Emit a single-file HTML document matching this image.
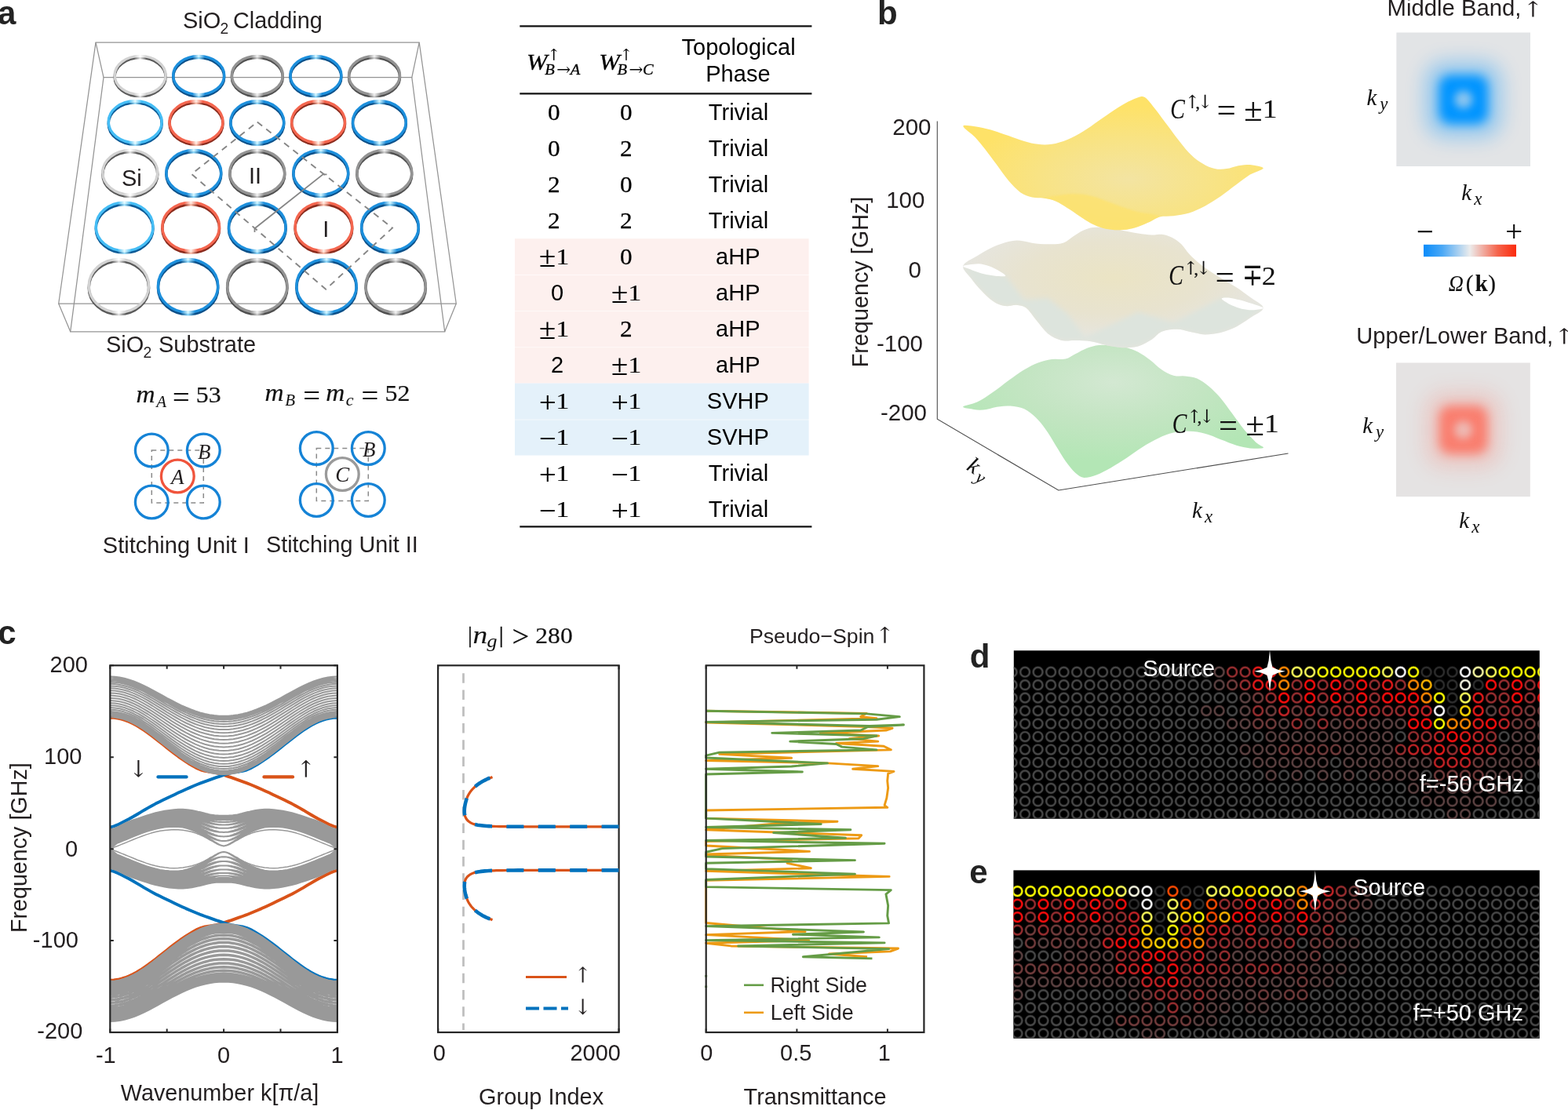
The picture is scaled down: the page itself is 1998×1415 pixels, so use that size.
<!DOCTYPE html>
<html lang="en"><head><meta charset="utf-8"><title>Figure</title>
<style>
html,body{margin:0;padding:0;background:#fff;}
body{width:1998px;height:1415px;overflow:hidden;}
svg{display:block;}
</style></head><body>
<svg width="1998" height="1415" viewBox="0 0 1998 1415" font-family="'Liberation Sans', Arial, Helvetica, sans-serif" fill="#231f20">
<rect width="1998" height="1415" fill="#fff"/>
<g font-weight="bold" font-size="42" fill="#232323">
<text x="-3.1" y="30.5">a</text><text x="1118" y="31">b</text><text x="-2.8" y="821.3">c</text><text x="1235.8" y="851.4">d</text><text x="1235.3" y="1126.3">e</text>
</g>
<g id="panel-a">
<defs>
<linearGradient id="gB" x1="0" y1="0" x2="1" y2="0"><stop offset="0" stop-color="#1f8fdc"/><stop offset="0.38" stop-color="#1f8fdc"/><stop offset="0.5" stop-color="#d8f8ff"/><stop offset="0.62" stop-color="#1f8fdc"/><stop offset="1" stop-color="#1f8fdc"/></linearGradient><linearGradient id="gBd" x1="0" y1="0" x2="1" y2="0"><stop offset="0" stop-color="#0a4f88"/><stop offset="0.38" stop-color="#0a4f88"/><stop offset="0.5" stop-color="#8fdcff"/><stop offset="0.62" stop-color="#0a4f88"/><stop offset="1" stop-color="#0a4f88"/></linearGradient>
<linearGradient id="gBL" x1="0" y1="0" x2="1" y2="0"><stop offset="0" stop-color="#45bdf5"/><stop offset="0.38" stop-color="#45bdf5"/><stop offset="0.5" stop-color="#eafcff"/><stop offset="0.62" stop-color="#45bdf5"/><stop offset="1" stop-color="#45bdf5"/></linearGradient><linearGradient id="gBLd" x1="0" y1="0" x2="1" y2="0"><stop offset="0" stop-color="#0c5a96"/><stop offset="0.38" stop-color="#0c5a96"/><stop offset="0.5" stop-color="#a5e6ff"/><stop offset="0.62" stop-color="#0c5a96"/><stop offset="1" stop-color="#0c5a96"/></linearGradient>
<linearGradient id="gR" x1="0" y1="0" x2="1" y2="0"><stop offset="0" stop-color="#f4664f"/><stop offset="0.38" stop-color="#f4664f"/><stop offset="0.5" stop-color="#fff0e8"/><stop offset="0.62" stop-color="#f4664f"/><stop offset="1" stop-color="#f4664f"/></linearGradient><linearGradient id="gRd" x1="0" y1="0" x2="1" y2="0"><stop offset="0" stop-color="#8a2c1e"/><stop offset="0.38" stop-color="#8a2c1e"/><stop offset="0.5" stop-color="#ffc4b0"/><stop offset="0.62" stop-color="#8a2c1e"/><stop offset="1" stop-color="#8a2c1e"/></linearGradient>
<linearGradient id="gG" x1="0" y1="0" x2="1" y2="0"><stop offset="0" stop-color="#939393"/><stop offset="0.38" stop-color="#939393"/><stop offset="0.5" stop-color="#f2f2f2"/><stop offset="0.62" stop-color="#939393"/><stop offset="1" stop-color="#939393"/></linearGradient><linearGradient id="gGd" x1="0" y1="0" x2="1" y2="0"><stop offset="0" stop-color="#505050"/><stop offset="0.38" stop-color="#505050"/><stop offset="0.5" stop-color="#d0d0d0"/><stop offset="0.62" stop-color="#505050"/><stop offset="1" stop-color="#505050"/></linearGradient>
<linearGradient id="gGL" x1="0" y1="0" x2="1" y2="0"><stop offset="0" stop-color="#d2d2d2"/><stop offset="0.38" stop-color="#d2d2d2"/><stop offset="0.5" stop-color="#ffffff"/><stop offset="0.62" stop-color="#d2d2d2"/><stop offset="1" stop-color="#d2d2d2"/></linearGradient><linearGradient id="gGLd" x1="0" y1="0" x2="1" y2="0"><stop offset="0" stop-color="#5a5a5a"/><stop offset="0.38" stop-color="#5a5a5a"/><stop offset="0.5" stop-color="#e6e6e6"/><stop offset="0.62" stop-color="#5a5a5a"/><stop offset="1" stop-color="#5a5a5a"/></linearGradient>
<filter id="rgb" x="-10%" y="-10%" width="120%" height="120%"><feGaussianBlur stdDeviation="0.45"/></filter>
</defs>
<g fill="none" stroke="#949494" stroke-width="1.25">
<path d="M122 54.2 L534.2 54.2 L581.3 387 L74.7 387Z"/>
<path d="M132 98.7 L524.8 98.7 L566.7 422.8 L89.7 422.8Z"/>
<path d="M122 54.2 L132 98.7"/>
<path d="M534.2 54.2 L524.8 98.7"/>
<path d="M581.3 387 L566.7 422.8"/>
<path d="M74.7 387 L89.7 422.8"/>
</g>
<g fill="none" stroke-width="3.4" filter="url(#rgb)"><ellipse cx="178.6" cy="98.2" rx="32.5" ry="24.6" stroke="url(#gGLd)"/><ellipse cx="253.2" cy="98.2" rx="32.5" ry="24.6" stroke="url(#gBd)"/><ellipse cx="327.8" cy="98.2" rx="32.5" ry="24.6" stroke="url(#gGd)"/><ellipse cx="402.4" cy="98.2" rx="32.5" ry="24.6" stroke="url(#gBd)"/><ellipse cx="477" cy="98.2" rx="32.5" ry="24.6" stroke="url(#gGd)"/><ellipse cx="172.2" cy="157.66" rx="34" ry="26.6" stroke="url(#gBLd)"/><ellipse cx="250" cy="157.66" rx="34" ry="26.6" stroke="url(#gRd)"/><ellipse cx="327.8" cy="157.66" rx="34" ry="26.6" stroke="url(#gBd)"/><ellipse cx="405.6" cy="157.66" rx="34" ry="26.6" stroke="url(#gRd)"/><ellipse cx="483.4" cy="157.66" rx="34" ry="26.6" stroke="url(#gBd)"/><ellipse cx="165.8" cy="222.22" rx="35" ry="28.4" stroke="url(#gGLd)"/><ellipse cx="246.8" cy="222.22" rx="35" ry="28.4" stroke="url(#gBd)"/><ellipse cx="327.8" cy="222.22" rx="35" ry="28.4" stroke="url(#gGd)"/><ellipse cx="408.8" cy="222.22" rx="35" ry="28.4" stroke="url(#gBd)"/><ellipse cx="489.8" cy="222.22" rx="35" ry="28.4" stroke="url(#gGd)"/><ellipse cx="158.6" cy="291.48" rx="36.4" ry="30.8" stroke="url(#gBLd)"/><ellipse cx="243.2" cy="291.48" rx="36.4" ry="30.8" stroke="url(#gRd)"/><ellipse cx="327.8" cy="291.48" rx="36.4" ry="30.8" stroke="url(#gBd)"/><ellipse cx="412.4" cy="291.48" rx="36.4" ry="30.8" stroke="url(#gRd)"/><ellipse cx="497" cy="291.48" rx="36.4" ry="30.8" stroke="url(#gBd)"/><ellipse cx="151.4" cy="366.94" rx="38.2" ry="33.8" stroke="url(#gGLd)"/><ellipse cx="239.6" cy="366.94" rx="38.2" ry="33.8" stroke="url(#gBd)"/><ellipse cx="327.8" cy="366.94" rx="38.2" ry="33.8" stroke="url(#gGd)"/><ellipse cx="416" cy="366.94" rx="38.2" ry="33.8" stroke="url(#gBd)"/><ellipse cx="504.2" cy="366.94" rx="38.2" ry="33.8" stroke="url(#gGd)"/><ellipse cx="178.6" cy="96" rx="32.5" ry="24.6" stroke="url(#gGL)"/><ellipse cx="253.2" cy="96" rx="32.5" ry="24.6" stroke="url(#gB)"/><ellipse cx="327.8" cy="96" rx="32.5" ry="24.6" stroke="url(#gG)"/><ellipse cx="402.4" cy="96" rx="32.5" ry="24.6" stroke="url(#gB)"/><ellipse cx="477" cy="96" rx="32.5" ry="24.6" stroke="url(#gG)"/><ellipse cx="172.2" cy="155.34" rx="34" ry="26.6" stroke="url(#gBL)"/><ellipse cx="250" cy="155.34" rx="34" ry="26.6" stroke="url(#gR)"/><ellipse cx="327.8" cy="155.34" rx="34" ry="26.6" stroke="url(#gB)"/><ellipse cx="405.6" cy="155.34" rx="34" ry="26.6" stroke="url(#gR)"/><ellipse cx="483.4" cy="155.34" rx="34" ry="26.6" stroke="url(#gB)"/><ellipse cx="165.8" cy="219.78" rx="35" ry="28.4" stroke="url(#gGL)"/><ellipse cx="246.8" cy="219.78" rx="35" ry="28.4" stroke="url(#gB)"/><ellipse cx="327.8" cy="219.78" rx="35" ry="28.4" stroke="url(#gG)"/><ellipse cx="408.8" cy="219.78" rx="35" ry="28.4" stroke="url(#gB)"/><ellipse cx="489.8" cy="219.78" rx="35" ry="28.4" stroke="url(#gG)"/><ellipse cx="158.6" cy="288.92" rx="36.4" ry="30.8" stroke="url(#gBL)"/><ellipse cx="243.2" cy="288.92" rx="36.4" ry="30.8" stroke="url(#gR)"/><ellipse cx="327.8" cy="288.92" rx="36.4" ry="30.8" stroke="url(#gB)"/><ellipse cx="412.4" cy="288.92" rx="36.4" ry="30.8" stroke="url(#gR)"/><ellipse cx="497" cy="288.92" rx="36.4" ry="30.8" stroke="url(#gB)"/><ellipse cx="151.4" cy="364.26" rx="38.2" ry="33.8" stroke="url(#gGL)"/><ellipse cx="239.6" cy="364.26" rx="38.2" ry="33.8" stroke="url(#gB)"/><ellipse cx="327.8" cy="364.26" rx="38.2" ry="33.8" stroke="url(#gG)"/><ellipse cx="416" cy="364.26" rx="38.2" ry="33.8" stroke="url(#gB)"/><ellipse cx="504.2" cy="364.26" rx="38.2" ry="33.8" stroke="url(#gG)"/></g>
<path d="M327.8 155.5 L500 290.6 L415.2 368.7 L244.1 221.9Z" fill="none" stroke="#858585" stroke-width="1.9" stroke-dasharray="8 6.5"/>
<path d="M416.5 222.3 L411.5 222.3 L324.5 291.3 L324.5 296" fill="none" stroke="#858585" stroke-width="1.8"/>
<g>
<text x="154.9" y="236.8" font-size="29" >Si</text>
<text x="316.9" y="233.6" font-size="29" >II</text>
<text x="411.2" y="301.6" font-size="29" >I</text>
<text x="233" y="35.8" font-size="29" >SiO</text><text x="280.6" y="42.8" font-size="19.3" >2</text><text x="297" y="35.8" font-size="28.8" >Cladding</text>
<text x="134.9" y="449.4" font-size="29" >SiO</text><text x="182.5" y="456.4" font-size="19.3" >2</text><text x="202" y="449.4" font-size="29" >Substrate</text>
<text x="130.8" y="705.1" font-size="29" >Stitching Unit I</text>
<text x="339" y="703.8" font-size="28.8" >Stitching Unit II</text>
</g>
<rect x="193.3" y="574" width="66" height="67" fill="none" stroke="#8a8a8a" stroke-width="1.5" stroke-dasharray="6 5"/>
<circle cx="193.3" cy="574" r="20.9" fill="none" stroke="#1583d6" stroke-width="3.3"/>
<circle cx="193.3" cy="640" r="20.9" fill="none" stroke="#1583d6" stroke-width="3.3"/>
<circle cx="259.3" cy="574" r="20.9" fill="none" stroke="#1583d6" stroke-width="3.3"/>
<circle cx="259.3" cy="640" r="20.9" fill="none" stroke="#1583d6" stroke-width="3.3"/>
<circle cx="226.3" cy="607" r="20.9" fill="#fff" stroke="#f0543c" stroke-width="3.3"/>
<text x='226.3' y='616.5' font-size='27' font-style='italic' text-anchor='middle' font-family='"Liberation Serif", "DejaVu Serif", serif' fill='#231f20'>A</text>
<text x='260.3' y='584.5' font-size='27' font-style='italic' text-anchor='middle' font-family='"Liberation Serif", "DejaVu Serif", serif' fill='#231f20'>B</text>
<rect x="403.3" y="571.5" width="66" height="67" fill="none" stroke="#8a8a8a" stroke-width="1.5" stroke-dasharray="6 5"/>
<circle cx="403.3" cy="571.5" r="20.9" fill="none" stroke="#1583d6" stroke-width="3.3"/>
<circle cx="403.3" cy="637.5" r="20.9" fill="none" stroke="#1583d6" stroke-width="3.3"/>
<circle cx="469.3" cy="571.5" r="20.9" fill="none" stroke="#1583d6" stroke-width="3.3"/>
<circle cx="469.3" cy="637.5" r="20.9" fill="none" stroke="#1583d6" stroke-width="3.3"/>
<circle cx="436.3" cy="604.5" r="20.9" fill="#fff" stroke="#9a9a9a" stroke-width="3.3"/>
<text x='436.3' y='614' font-size='27' font-style='italic' text-anchor='middle' font-family='"Liberation Serif", "DejaVu Serif", serif' fill='#231f20'>C</text>
<text x='470.3' y='582' font-size='27' font-style='italic' text-anchor='middle' font-family='"Liberation Serif", "DejaVu Serif", serif' fill='#231f20'>B</text>
<text transform='translate(173.47 512.8) scale(1.04 1)' font-size='32' font-family='"Liberation Serif", "DejaVu Serif", serif' fill='#111' stroke='#111' stroke-width='0.2' font-style='italic'>m</text>
<text transform='translate(199.25 518.5) scale(1.05 1)' font-size='20' font-family='"Liberation Serif", "DejaVu Serif", serif' fill='#111' stroke='#111' stroke-width='0.08' font-style='italic'>A</text>
<text transform='translate(219.88 518.7)' font-size='38.5' font-family='"Liberation Serif", "DejaVu Serif", serif' fill='#111' stroke='#111' stroke-width='0.2'>=</text>
<text transform='translate(249.79 512.8) scale(1.1 1)' font-size='29' font-family='"Liberation Serif", "DejaVu Serif", serif' fill='#111' stroke='#111' stroke-width='0.2'>53</text>
<text transform='translate(337.47 510.9) scale(1.04 1)' font-size='32' font-family='"Liberation Serif", "DejaVu Serif", serif' fill='#111' stroke='#111' stroke-width='0.2' font-style='italic'>m</text>
<text transform='translate(363.29 516.6) scale(1.05 1)' font-size='20' font-family='"Liberation Serif", "DejaVu Serif", serif' fill='#111' stroke='#111' stroke-width='0.08' font-style='italic'>B</text>
<text transform='translate(386.27 516.8)' font-size='38.5' font-family='"Liberation Serif", "DejaVu Serif", serif' fill='#111' stroke='#111' stroke-width='0.2'>=</text>
<text transform='translate(415.37 510.9) scale(1.04 1)' font-size='32' font-family='"Liberation Serif", "DejaVu Serif", serif' fill='#111' stroke='#111' stroke-width='0.2' font-style='italic'>m</text>
<text transform='translate(440.84 516.6) scale(1.1 1)' font-size='20' font-family='"Liberation Serif", "DejaVu Serif", serif' fill='#111' stroke='#111' stroke-width='0.08' font-style='italic'>c</text>
<text transform='translate(460.47 516.8)' font-size='38.5' font-family='"Liberation Serif", "DejaVu Serif", serif' fill='#111' stroke='#111' stroke-width='0.2'>=</text>
<text transform='translate(490.49 510.9) scale(1.1 1)' font-size='29' font-family='"Liberation Serif", "DejaVu Serif", serif' fill='#111' stroke='#111' stroke-width='0.2'>52</text>
</g>
<g id="table">
<rect x="656" y="304.2" width="374.6" height="46.1" fill="#fdf0ee"/>
<rect x="656" y="350.9" width="374.6" height="45.5" fill="#fdf0ee"/>
<rect x="656" y="397" width="374.6" height="45.5" fill="#fdf0ee"/>
<rect x="656" y="443.1" width="374.6" height="45.5" fill="#fdf0ee"/>
<rect x="656" y="488.6" width="374.6" height="46.1" fill="#e4f1fa"/>
<rect x="656" y="535.3" width="374.6" height="45.2" fill="#e4f1fa"/>
<line x1="662.3" x2="1034.4" y1="33.3" y2="33.3" stroke="#111" stroke-width="2.2"/>
<line x1="662.3" x2="1034.4" y1="119.3" y2="119.3" stroke="#111" stroke-width="2.2"/>
<line x1="662.3" x2="1034.4" y1="671.3" y2="671.3" stroke="#111" stroke-width="2.2"/>
<text transform='translate(705.8 153.2) scale(1.06 1)' font-size='29.5' text-anchor='middle' font-family='"Liberation Serif", "DejaVu Serif", serif' fill='#000' stroke='#000' stroke-width='0.25' >0</text>
<text transform='translate(797.9 153.2) scale(1.06 1)' font-size='29.5' text-anchor='middle' font-family='"Liberation Serif", "DejaVu Serif", serif' fill='#000' stroke='#000' stroke-width='0.25' >0</text>
<text x='941' y='153.4' font-size='29' fill='#000' text-anchor='middle'>Trivial</text>
<text transform='translate(705.8 199.2) scale(1.06 1)' font-size='29.5' text-anchor='middle' font-family='"Liberation Serif", "DejaVu Serif", serif' fill='#000' stroke='#000' stroke-width='0.25' >0</text>
<text transform='translate(797.9 199.2) scale(1.06 1)' font-size='29.5' text-anchor='middle' font-family='"Liberation Serif", "DejaVu Serif", serif' fill='#000' stroke='#000' stroke-width='0.25' >2</text>
<text x='941' y='199.4' font-size='29' fill='#000' text-anchor='middle'>Trivial</text>
<text transform='translate(705.8 245.2) scale(1.06 1)' font-size='29.5' text-anchor='middle' font-family='"Liberation Serif", "DejaVu Serif", serif' fill='#000' stroke='#000' stroke-width='0.25' >2</text>
<text transform='translate(797.9 245.2) scale(1.06 1)' font-size='29.5' text-anchor='middle' font-family='"Liberation Serif", "DejaVu Serif", serif' fill='#000' stroke='#000' stroke-width='0.25' >0</text>
<text x='941' y='245.4' font-size='29' fill='#000' text-anchor='middle'>Trivial</text>
<text transform='translate(705.8 291.2) scale(1.06 1)' font-size='29.5' text-anchor='middle' font-family='"Liberation Serif", "DejaVu Serif", serif' fill='#000' stroke='#000' stroke-width='0.25' >2</text>
<text transform='translate(797.9 291.2) scale(1.06 1)' font-size='29.5' text-anchor='middle' font-family='"Liberation Serif", "DejaVu Serif", serif' fill='#000' stroke='#000' stroke-width='0.25' >2</text>
<text x='941' y='291.4' font-size='29' fill='#000' text-anchor='middle'>Trivial</text>
<text transform='translate(686.9 340.4) scale(1 1)' font-size='38.5' text-anchor='start' font-family='"Liberation Serif", "DejaVu Serif", serif' fill='#000' stroke='#000' stroke-width='0.15' >±</text>
<text transform='translate(708.4 337.2) scale(1.15 1)' font-size='29' text-anchor='start' font-family='"Liberation Serif", "DejaVu Serif", serif' fill='#000' stroke='#000' stroke-width='0.25' >1</text>
<text transform='translate(797.9 337.2) scale(1.06 1)' font-size='29.5' text-anchor='middle' font-family='"Liberation Serif", "DejaVu Serif", serif' fill='#000' stroke='#000' stroke-width='0.25' >0</text>
<text x='940.3' y='337.4' font-size='29' fill='#000' text-anchor='middle'>aHP</text>
<text x='710' y='382.9' font-size='29' fill='#000' text-anchor='middle'>0</text>
<text transform='translate(779 386.4) scale(1 1)' font-size='38.5' text-anchor='start' font-family='"Liberation Serif", "DejaVu Serif", serif' fill='#000' stroke='#000' stroke-width='0.15' >±</text>
<text transform='translate(800.5 383.2) scale(1.15 1)' font-size='29' text-anchor='start' font-family='"Liberation Serif", "DejaVu Serif", serif' fill='#000' stroke='#000' stroke-width='0.25' >1</text>
<text x='940.3' y='383.4' font-size='29' fill='#000' text-anchor='middle'>aHP</text>
<text transform='translate(686.9 432.4) scale(1 1)' font-size='38.5' text-anchor='start' font-family='"Liberation Serif", "DejaVu Serif", serif' fill='#000' stroke='#000' stroke-width='0.15' >±</text>
<text transform='translate(708.4 429.2) scale(1.15 1)' font-size='29' text-anchor='start' font-family='"Liberation Serif", "DejaVu Serif", serif' fill='#000' stroke='#000' stroke-width='0.25' >1</text>
<text transform='translate(797.9 429.2) scale(1.06 1)' font-size='29.5' text-anchor='middle' font-family='"Liberation Serif", "DejaVu Serif", serif' fill='#000' stroke='#000' stroke-width='0.25' >2</text>
<text x='940.3' y='429.4' font-size='29' fill='#000' text-anchor='middle'>aHP</text>
<text x='710' y='474.9' font-size='29' fill='#000' text-anchor='middle'>2</text>
<text transform='translate(779 478.4) scale(1 1)' font-size='38.5' text-anchor='start' font-family='"Liberation Serif", "DejaVu Serif", serif' fill='#000' stroke='#000' stroke-width='0.15' >±</text>
<text transform='translate(800.5 475.2) scale(1.15 1)' font-size='29' text-anchor='start' font-family='"Liberation Serif", "DejaVu Serif", serif' fill='#000' stroke='#000' stroke-width='0.25' >1</text>
<text x='940.3' y='475.4' font-size='29' fill='#000' text-anchor='middle'>aHP</text>
<text transform='translate(686.9 526) scale(1 1)' font-size='38.5' text-anchor='start' font-family='"Liberation Serif", "DejaVu Serif", serif' fill='#000' stroke='#000' stroke-width='0.15' >+</text>
<text transform='translate(708.4 521.2) scale(1.15 1)' font-size='29' text-anchor='start' font-family='"Liberation Serif", "DejaVu Serif", serif' fill='#000' stroke='#000' stroke-width='0.25' >1</text>
<text transform='translate(779 526) scale(1 1)' font-size='38.5' text-anchor='start' font-family='"Liberation Serif", "DejaVu Serif", serif' fill='#000' stroke='#000' stroke-width='0.15' >+</text>
<text transform='translate(800.5 521.2) scale(1.15 1)' font-size='29' text-anchor='start' font-family='"Liberation Serif", "DejaVu Serif", serif' fill='#000' stroke='#000' stroke-width='0.25' >1</text>
<text x='940.3' y='521.4' font-size='29' fill='#000' text-anchor='middle'>SVHP</text>
<text transform='translate(686.9 572) scale(1 1)' font-size='38.5' text-anchor='start' font-family='"Liberation Serif", "DejaVu Serif", serif' fill='#000' stroke='#000' stroke-width='0.15' >−</text>
<text transform='translate(708.4 567.2) scale(1.15 1)' font-size='29' text-anchor='start' font-family='"Liberation Serif", "DejaVu Serif", serif' fill='#000' stroke='#000' stroke-width='0.25' >1</text>
<text transform='translate(779 572) scale(1 1)' font-size='38.5' text-anchor='start' font-family='"Liberation Serif", "DejaVu Serif", serif' fill='#000' stroke='#000' stroke-width='0.15' >−</text>
<text transform='translate(800.5 567.2) scale(1.15 1)' font-size='29' text-anchor='start' font-family='"Liberation Serif", "DejaVu Serif", serif' fill='#000' stroke='#000' stroke-width='0.25' >1</text>
<text x='940.3' y='567.4' font-size='29' fill='#000' text-anchor='middle'>SVHP</text>
<text transform='translate(686.9 618) scale(1 1)' font-size='38.5' text-anchor='start' font-family='"Liberation Serif", "DejaVu Serif", serif' fill='#000' stroke='#000' stroke-width='0.15' >+</text>
<text transform='translate(708.4 613.2) scale(1.15 1)' font-size='29' text-anchor='start' font-family='"Liberation Serif", "DejaVu Serif", serif' fill='#000' stroke='#000' stroke-width='0.25' >1</text>
<text transform='translate(779 618) scale(1 1)' font-size='38.5' text-anchor='start' font-family='"Liberation Serif", "DejaVu Serif", serif' fill='#000' stroke='#000' stroke-width='0.15' >−</text>
<text transform='translate(800.5 613.2) scale(1.15 1)' font-size='29' text-anchor='start' font-family='"Liberation Serif", "DejaVu Serif", serif' fill='#000' stroke='#000' stroke-width='0.25' >1</text>
<text x='941' y='613.4' font-size='29' fill='#000' text-anchor='middle'>Trivial</text>
<text transform='translate(686.9 664) scale(1 1)' font-size='38.5' text-anchor='start' font-family='"Liberation Serif", "DejaVu Serif", serif' fill='#000' stroke='#000' stroke-width='0.15' >−</text>
<text transform='translate(708.4 659.2) scale(1.15 1)' font-size='29' text-anchor='start' font-family='"Liberation Serif", "DejaVu Serif", serif' fill='#000' stroke='#000' stroke-width='0.25' >1</text>
<text transform='translate(779 664) scale(1 1)' font-size='38.5' text-anchor='start' font-family='"Liberation Serif", "DejaVu Serif", serif' fill='#000' stroke='#000' stroke-width='0.15' >+</text>
<text transform='translate(800.5 659.2) scale(1.15 1)' font-size='29' text-anchor='start' font-family='"Liberation Serif", "DejaVu Serif", serif' fill='#000' stroke='#000' stroke-width='0.25' >1</text>
<text x='941' y='659.4' font-size='29' fill='#000' text-anchor='middle'>Trivial</text>
<text x='941.1' y='70' font-size='29' fill='#000' text-anchor='middle'>Topological</text>
<text x='940.4' y='103.8' font-size='29' fill='#000' text-anchor='middle'>Phase</text>
<text transform='translate(671 89.2) scale(1.1 1)' font-size='29' text-anchor='start' font-family='"Liberation Serif", "DejaVu Serif", serif' fill='#000' stroke='#000' stroke-width='0.3' font-style='italic' >W</text>
<text transform='translate(694.2 95.1) scale(1.05 1)' font-size='19.5' text-anchor='start' font-family='"Liberation Serif", "DejaVu Serif", serif' fill='#000' stroke='#000' stroke-width='0.3' font-style='italic' >B</text>
<text transform='translate(708.95 94.4)' font-size='18.8' font-family='"DejaVu Math TeX Gyre", "DejaVu Sans", sans-serif' fill='#000' stroke='#000' stroke-width='0.1'>→</text>
<text transform='translate(726.8 95.1) scale(1.05 1)' font-size='19.5' text-anchor='start' font-family='"Liberation Serif", "DejaVu Serif", serif' fill='#000' stroke='#000' stroke-width='0.3' font-style='italic' >A</text>
<text transform='translate(700.59 74.2)' font-size='17.7' font-family='"DejaVu Math TeX Gyre", "DejaVu Sans", sans-serif' fill='#000' stroke='#000' stroke-width='0.1'>↑</text>
<text transform='translate(763.2 89.2) scale(1.1 1)' font-size='29' text-anchor='start' font-family='"Liberation Serif", "DejaVu Serif", serif' fill='#000' stroke='#000' stroke-width='0.3' font-style='italic' >W</text>
<text transform='translate(786.4 95.1) scale(1.05 1)' font-size='19.5' text-anchor='start' font-family='"Liberation Serif", "DejaVu Serif", serif' fill='#000' stroke='#000' stroke-width='0.3' font-style='italic' >B</text>
<text transform='translate(801.15 94.4)' font-size='18.8' font-family='"DejaVu Math TeX Gyre", "DejaVu Sans", sans-serif' fill='#000' stroke='#000' stroke-width='0.1'>→</text>
<text transform='translate(819 95.1) scale(1.05 1)' font-size='19.5' text-anchor='start' font-family='"Liberation Serif", "DejaVu Serif", serif' fill='#000' stroke='#000' stroke-width='0.3' font-style='italic' >C</text>
<text transform='translate(792.79 74.2)' font-size='17.7' font-family='"DejaVu Math TeX Gyre", "DejaVu Sans", sans-serif' fill='#000' stroke='#000' stroke-width='0.1'>↑</text>
</g>
<g id="panel-b">
<defs>
<radialGradient id="sfy" cx="0.55" cy="0.62" r="0.55"><stop offset="0" stop-color="#f3e4a2"/><stop offset="0.55" stop-color="#f8e384"/><stop offset="1" stop-color="#fee268"/></radialGradient>
<radialGradient id="sfm" cx="0.5" cy="0.42" r="0.5"><stop offset="0" stop-color="#ebe4c4"/><stop offset="0.6" stop-color="#e8e3cf"/><stop offset="1" stop-color="#e6e5de"/></radialGradient>
<radialGradient id="sfg" cx="0.5" cy="0.28" r="0.6"><stop offset="0" stop-color="#d3e8d2"/><stop offset="0.5" stop-color="#c3e5c2"/><stop offset="1" stop-color="#b3e6b5"/></radialGradient>
<filter id="bl2" x="-10%" y="-10%" width="120%" height="120%"><feGaussianBlur stdDeviation="3"/></filter>
<filter id="bl1" x="-10%" y="-20%" width="120%" height="140%"><feGaussianBlur stdDeviation="1.2"/></filter>
<clipPath id="cpm"><path d="M1227.05 338.82 L1229.5 335.4 L1234.15 332.25 L1239.75 329.26 L1245.07 326.31 L1249.93 323.3 L1254.95 320.33 L1260.03 317.53 L1265.09 315.05 L1270.21 312.86 L1275.41 310.92 L1280.45 309.29 L1285.11 308.04 L1289.09 307.2 L1292.61 306.74 L1296.13 306.61 L1300.12 306.79 L1304.77 307.44 L1309.82 308.54 L1315.02 309.7 L1320.14 310.54 L1325.26 311 L1330.46 311.26 L1335.51 311.35 L1340.16 311.29 L1344.32 311.18 L1348.14 310.98 L1351.71 310.49 L1355.18 309.54 L1358.48 307.91 L1361.59 305.77 L1364.62 303.45 L1367.69 301.28 L1370.82 299.26 L1373.94 297.25 L1377.07 295.37 L1380.2 293.77 L1383.21 292.48 L1386.14 291.43 L1389.23 290.61 L1392.71 290.02 L1396.68 289.67 L1401 289.55 L1405.56 289.67 L1410.23 290.02 L1415.06 290.69 L1420.08 291.66 L1425.19 292.75 L1430.25 293.77 L1435.31 294.75 L1440.42 295.76 L1445.44 296.71 L1450.27 297.53 L1454.94 298.22 L1459.5 298.81 L1463.82 299.26 L1467.79 299.53 L1471.27 299.43 L1474.36 299.04 L1477.29 298.71 L1480.3 298.78 L1483.43 299.28 L1486.56 300.06 L1489.68 301.14 L1492.81 302.53 L1496 304.28 L1499.23 306.36 L1502.37 308.72 L1505.33 311.29 L1507.89 314.13 L1510.17 317.23 L1512.54 320.5 L1515.34 323.8 L1518.62 327.16 L1522.22 330.61 L1526.13 334.1 L1530.35 337.57 L1534.89 340.98 L1539.73 344.37 L1544.9 347.8 L1550.37 351.33 L1556.45 355.06 L1563.04 358.92 L1569.55 362.74 L1575.4 366.35 L1580.31 369.62 L1584.65 372.68 L1588.74 375.7 L1592.91 378.86 L1598 382.24 L1603.58 385.74 L1608.08 389.24 L1609.93 392.62 L1608.08 395.87 L1603.58 399.04 L1598 402.12 L1592.91 405.14 L1588.63 408.13 L1584.34 411.08 L1579.96 413.87 L1575.4 416.4 L1570.57 418.65 L1565.54 420.7 L1560.44 422.47 L1555.38 423.9 L1550.37 425.03 L1545.37 425.86 L1540.36 426.34 L1535.36 426.41 L1530.23 425.89 L1525.03 424.87 L1519.99 423.68 L1515.34 422.65 L1511.35 421.71 L1507.83 420.73 L1504.31 419.96 L1500.32 419.65 L1495.49 419.81 L1490.15 420.34 L1484.89 421.27 L1480.3 422.65 L1476.76 424.69 L1473.89 427.3 L1471.09 430.08 L1467.79 432.66 L1463.82 435.1 L1459.5 437.56 L1454.94 439.75 L1450.27 441.42 L1445.44 442.46 L1440.42 443.03 L1435.31 443.23 L1430.25 443.17 L1425.25 442.8 L1420.24 442.09 L1415.24 441.17 L1410.23 440.17 L1405.23 438.97 L1400.22 437.56 L1395.22 436.2 L1390.21 435.17 L1385.15 434.56 L1380.04 434.23 L1375.02 434.05 L1370.19 433.91 L1365.63 434.03 L1361.28 434.38 L1356.99 434.5 L1352.67 433.91 L1348.23 432.55 L1343.76 430.63 L1339.36 428.17 L1335.16 425.16 L1331.17 421.33 L1327.33 416.79 L1323.66 412.05 L1320.14 407.64 L1316.84 403.44 L1313.73 399.27 L1310.7 395.53 L1307.63 392.62 L1304.56 390.78 L1301.53 389.73 L1298.42 389.19 L1295.12 388.87 L1291.54 389.01 L1287.76 389.65 L1283.91 390.22 L1280.1 390.12 L1276.35 389.26 L1272.59 387.93 L1268.84 386.13 L1265.09 383.86 L1261.27 380.98 L1257.42 377.53 L1253.65 373.8 L1250.07 370.1 L1246.72 366.46 L1243.53 362.75 L1240.49 358.96 L1237.56 355.09 L1234.12 351.02 L1230.39 346.8 L1227.62 342.65Z"/></clipPath>
</defs>
<path d="M1194.3 154.5 L1194.3 534.3 L1348.8 625 L1641.5 578" fill="none" stroke="#4d4d4d" stroke-width="1.1"/>
<path d="M1227.05 518.35 L1229.5 517.26 L1234.15 516.06 L1239.75 514.57 L1245.07 512.59 L1249.93 510 L1254.95 506.92 L1260.03 503.54 L1265.09 500.08 L1270.09 496.47 L1275.1 492.65 L1280.1 488.79 L1285.11 485.07 L1290.17 481.42 L1295.27 477.79 L1300.3 474.36 L1305.13 471.3 L1309.68 468.66 L1314.04 466.34 L1318.32 464.32 L1322.64 462.54 L1327.02 461.02 L1331.4 459.77 L1335.78 458.78 L1340.16 458.04 L1344.66 457.77 L1349.23 457.9 L1353.65 457.97 L1357.68 457.54 L1361.1 456.41 L1364.09 454.85 L1367 453.07 L1370.19 451.28 L1373.77 449.4 L1377.54 447.37 L1381.39 445.42 L1385.21 443.77 L1388.9 442.47 L1392.56 441.4 L1396.29 440.57 L1400.22 440.02 L1404.42 439.8 L1408.82 439.88 L1413.3 440.15 L1417.74 440.52 L1422.18 440.93 L1426.65 441.44 L1431.05 442.12 L1435.26 443.02 L1439.18 444.13 L1442.92 445.43 L1446.58 446.96 L1450.27 448.78 L1454.02 450.92 L1457.78 453.36 L1461.53 456.01 L1465.29 458.79 L1469.04 461.86 L1472.79 465.2 L1476.55 468.47 L1480.3 471.3 L1484.05 473.69 L1487.81 475.79 L1491.56 477.52 L1495.32 478.81 L1499.07 479.42 L1502.82 479.47 L1506.58 479.37 L1510.33 479.56 L1514.08 479.99 L1517.84 480.48 L1521.59 481.27 L1525.35 482.56 L1529.1 484.46 L1532.85 486.82 L1536.61 489.55 L1540.36 492.57 L1544.11 495.86 L1547.87 499.45 L1551.62 503.36 L1555.38 507.59 L1559.13 512.24 L1562.88 517.28 L1566.64 522.49 L1570.39 527.61 L1574.14 532.7 L1577.9 537.85 L1581.65 542.89 L1585.41 547.63 L1589.29 552.18 L1593.26 556.57 L1597.05 560.57 L1600.42 563.89 L1603.81 566.45 L1607.18 568.38 L1609.55 569.82 L1609.93 570.9 L1607.55 571.58 L1603.11 571.82 L1597.82 571.73 L1592.91 571.4 L1588.63 570.85 L1584.34 570.03 L1579.96 568.95 L1575.4 567.65 L1570.57 566.03 L1565.54 564.13 L1560.44 562.1 L1555.38 560.14 L1550.37 558.16 L1545.37 556.1 L1540.36 554.19 L1535.36 552.63 L1530.35 551.45 L1525.35 550.55 L1520.34 549.94 L1515.34 549.63 L1510.33 549.6 L1505.33 549.85 L1500.32 550.43 L1495.32 551.38 L1490.31 552.77 L1485.31 554.54 L1480.3 556.61 L1475.3 558.89 L1470.29 561.38 L1465.29 564.13 L1460.28 567.07 L1455.28 570.15 L1450.27 573.44 L1445.27 576.95 L1440.26 580.5 L1435.26 583.91 L1430.19 587.22 L1425.09 590.48 L1420.06 593.59 L1415.24 596.43 L1410.65 599 L1406.24 601.35 L1401.95 603.44 L1397.72 605.19 L1393.45 606.71 L1389.19 608 L1385.14 608.82 L1381.45 608.94 L1378.31 608.28 L1375.59 606.98 L1372.98 605.1 L1370.19 602.68 L1367.15 599.66 L1364.01 596.04 L1360.84 591.98 L1357.68 587.67 L1354.55 583.01 L1351.42 577.97 L1348.29 572.77 L1345.17 567.65 L1342.04 562.53 L1338.91 557.32 L1335.78 552.28 L1332.65 547.63 L1329.58 543.43 L1326.55 539.57 L1323.44 535.99 L1320.14 532.61 L1316.62 529.36 L1312.95 526.28 L1309.11 523.55 L1305.13 521.35 L1300.92 519.77 L1296.52 518.69 L1292.05 518.01 L1287.61 517.6 L1283.23 517.5 L1278.85 517.75 L1274.47 518.24 L1270.09 518.85 L1265.65 519.73 L1261.17 520.88 L1256.78 521.96 L1252.57 522.6 L1248.54 522.68 L1244.63 522.4 L1240.94 521.9 L1237.56 521.35 L1233.94 520.79 L1230.24 520.13 L1227.56 519.33Z" fill="url(#sfg)"/>
<path d="M1227.05 338.82 L1229.5 335.4 L1234.15 332.25 L1239.75 329.26 L1245.07 326.31 L1249.93 323.3 L1254.95 320.33 L1260.03 317.53 L1265.09 315.05 L1270.21 312.86 L1275.41 310.92 L1280.45 309.29 L1285.11 308.04 L1289.09 307.2 L1292.61 306.74 L1296.13 306.61 L1300.12 306.79 L1304.77 307.44 L1309.82 308.54 L1315.02 309.7 L1320.14 310.54 L1325.26 311 L1330.46 311.26 L1335.51 311.35 L1340.16 311.29 L1344.32 311.18 L1348.14 310.98 L1351.71 310.49 L1355.18 309.54 L1358.48 307.91 L1361.59 305.77 L1364.62 303.45 L1367.69 301.28 L1370.82 299.26 L1373.94 297.25 L1377.07 295.37 L1380.2 293.77 L1383.21 292.48 L1386.14 291.43 L1389.23 290.61 L1392.71 290.02 L1396.68 289.67 L1401 289.55 L1405.56 289.67 L1410.23 290.02 L1415.06 290.69 L1420.08 291.66 L1425.19 292.75 L1430.25 293.77 L1435.31 294.75 L1440.42 295.76 L1445.44 296.71 L1450.27 297.53 L1454.94 298.22 L1459.5 298.81 L1463.82 299.26 L1467.79 299.53 L1471.27 299.43 L1474.36 299.04 L1477.29 298.71 L1480.3 298.78 L1483.43 299.28 L1486.56 300.06 L1489.68 301.14 L1492.81 302.53 L1496 304.28 L1499.23 306.36 L1502.37 308.72 L1505.33 311.29 L1507.89 314.13 L1510.17 317.23 L1512.54 320.5 L1515.34 323.8 L1518.62 327.16 L1522.22 330.61 L1526.13 334.1 L1530.35 337.57 L1534.89 340.98 L1539.73 344.37 L1544.9 347.8 L1550.37 351.33 L1556.45 355.06 L1563.04 358.92 L1569.55 362.74 L1575.4 366.35 L1580.31 369.62 L1584.65 372.68 L1588.74 375.7 L1592.91 378.86 L1598 382.24 L1603.58 385.74 L1608.08 389.24 L1609.93 392.62 L1608.08 395.87 L1603.58 399.04 L1598 402.12 L1592.91 405.14 L1588.63 408.13 L1584.34 411.08 L1579.96 413.87 L1575.4 416.4 L1570.57 418.65 L1565.54 420.7 L1560.44 422.47 L1555.38 423.9 L1550.37 425.03 L1545.37 425.86 L1540.36 426.34 L1535.36 426.41 L1530.23 425.89 L1525.03 424.87 L1519.99 423.68 L1515.34 422.65 L1511.35 421.71 L1507.83 420.73 L1504.31 419.96 L1500.32 419.65 L1495.49 419.81 L1490.15 420.34 L1484.89 421.27 L1480.3 422.65 L1476.76 424.69 L1473.89 427.3 L1471.09 430.08 L1467.79 432.66 L1463.82 435.1 L1459.5 437.56 L1454.94 439.75 L1450.27 441.42 L1445.44 442.46 L1440.42 443.03 L1435.31 443.23 L1430.25 443.17 L1425.25 442.8 L1420.24 442.09 L1415.24 441.17 L1410.23 440.17 L1405.23 438.97 L1400.22 437.56 L1395.22 436.2 L1390.21 435.17 L1385.15 434.56 L1380.04 434.23 L1375.02 434.05 L1370.19 433.91 L1365.63 434.03 L1361.28 434.38 L1356.99 434.5 L1352.67 433.91 L1348.23 432.55 L1343.76 430.63 L1339.36 428.17 L1335.16 425.16 L1331.17 421.33 L1327.33 416.79 L1323.66 412.05 L1320.14 407.64 L1316.84 403.44 L1313.73 399.27 L1310.7 395.53 L1307.63 392.62 L1304.56 390.78 L1301.53 389.73 L1298.42 389.19 L1295.12 388.87 L1291.54 389.01 L1287.76 389.65 L1283.91 390.22 L1280.1 390.12 L1276.35 389.26 L1272.59 387.93 L1268.84 386.13 L1265.09 383.86 L1261.27 380.98 L1257.42 377.53 L1253.65 373.8 L1250.07 370.1 L1246.72 366.46 L1243.53 362.75 L1240.49 358.96 L1237.56 355.09 L1234.12 351.02 L1230.39 346.8 L1227.62 342.65Z" fill="url(#sfm)"/>
<g clip-path="url(#cpm)"><path d="M1227.05 338.82 L1281.35 351.58 L1305.13 382.61 L1335.16 380.11 L1360.18 400.13 L1382.7 430.16 L1450.27 397.63 L1495.32 411.39 L1555.38 380.61 L1609.93 392.62 L1592.91 405.14 L1575.4 416.4 L1555.38 423.9 L1535.36 426.41 L1515.34 422.65 L1500.32 419.65 L1480.3 422.65 L1467.79 432.66 L1450.27 441.42 L1430.25 443.17 L1410.23 440.17 L1390.21 435.17 L1370.19 433.91 L1352.67 433.91 L1335.16 425.16 L1320.14 407.64 L1307.63 392.62 L1295.12 388.87 L1280.1 390.12 L1265.09 383.86 L1250.07 370.1 L1237.56 355.09Z" fill="#dde4dd" filter="url(#bl2)"/></g>
<path d="M1227.05 339.32 L1228.24 338.59 L1230.94 337.97 L1234.33 337.47 L1237.56 337.07 L1240.54 336.72 L1243.69 336.46 L1246.9 336.37 L1250.07 336.57 L1253.26 337.13 L1256.48 337.97 L1259.63 338.99 L1262.58 340.07 L1265.29 341.18 L1267.82 342.38 L1270.24 343.68 L1272.59 345.08 L1275.28 346.74 L1278.15 348.61 L1280.42 350.34 L1281.35 351.58 L1280.48 352.18 L1278.3 352.33 L1275.46 352.24 L1272.59 352.08 L1269.73 351.88 L1266.57 351.55 L1263.3 351.11 L1260.08 350.58 L1256.92 349.96 L1253.75 349.25 L1250.61 348.45 L1247.57 347.58 L1244.62 346.6 L1241.73 345.51 L1238.95 344.4 L1236.31 343.32 L1233.39 342.26 L1230.32 341.2 L1227.92 340.19Z" fill="#fff"/>
<path d="M1556.63 380.61 L1557.61 379.98 L1559.68 379.61 L1562.4 379.48 L1565.39 379.61 L1568.7 380.04 L1572.5 380.77 L1576.5 381.66 L1580.4 382.61 L1584.17 383.61 L1587.94 384.71 L1591.7 385.89 L1595.42 387.12 L1599.7 388.49 L1604.36 389.99 L1608.18 391.43 L1609.93 392.62 L1608.8 393.54 L1605.61 394.26 L1601.58 394.8 L1597.92 395.13 L1594.82 395.24 L1591.69 395.14 L1588.55 394.85 L1585.41 394.37 L1582.22 393.68 L1578.99 392.76 L1575.85 391.72 L1572.89 390.62 L1570.13 389.46 L1567.5 388.2 L1565.06 386.9 L1562.88 385.62 L1560.7 384.27 L1558.58 382.86 L1557.05 381.58Z" fill="#fff"/>
<path d="M1227.05 160.81 L1228.64 159.81 L1232.58 159.9 L1237.64 160.58 L1242.56 161.31 L1247.19 162.03 L1252.13 163 L1257.3 164.19 L1262.58 165.57 L1268.1 167.23 L1273.84 169.15 L1279.59 171.16 L1285.11 173.07 L1290.34 174.94 L1295.43 176.81 L1300.35 178.57 L1305.13 180.08 L1309.68 181.34 L1314.04 182.39 L1318.32 183.24 L1322.64 183.83 L1326.96 184.23 L1331.24 184.43 L1335.6 184.33 L1340.16 183.83 L1344.99 182.91 L1350.01 181.61 L1355.12 179.99 L1360.18 178.08 L1365.19 175.86 L1370.19 173.32 L1375.2 170.54 L1380.2 167.57 L1385.21 164.36 L1390.21 160.89 L1395.22 157.32 L1400.22 153.8 L1405.28 150.29 L1410.39 146.72 L1415.41 143.25 L1420.24 140.04 L1424.88 137.07 L1429.39 134.28 L1433.7 131.75 L1437.76 129.53 L1441.67 127.63 L1445.42 126.03 L1448.78 124.73 L1451.52 123.77 L1453.39 123.2 L1454.57 122.98 L1455.48 123.03 L1456.53 123.27 L1457.63 123.53 L1458.64 123.88 L1459.84 124.69 L1461.53 126.28 L1463.82 128.81 L1466.54 132.09 L1469.57 135.91 L1472.79 140.04 L1476.28 144.61 L1480.07 149.66 L1483.97 154.91 L1487.81 160.06 L1491.56 165.12 L1495.32 170.23 L1499.07 175.25 L1502.82 180.08 L1506.58 184.78 L1510.33 189.39 L1514.08 193.72 L1517.84 197.6 L1521.59 200.97 L1525.35 203.93 L1529.1 206.54 L1532.85 208.86 L1536.61 210.92 L1540.36 212.69 L1544.11 214.11 L1547.87 215.12 L1551.62 215.64 L1555.38 215.74 L1559.13 215.53 L1562.88 215.12 L1566.64 214.38 L1570.39 213.32 L1574.14 212.21 L1577.9 211.36 L1581.6 210.74 L1585.28 210.24 L1589.02 209.98 L1592.91 210.11 L1597.82 210.69 L1603.42 211.64 L1608.02 212.89 L1609.93 214.36 L1608.08 216.05 L1603.58 217.98 L1598 220.17 L1592.91 222.62 L1588.63 225.39 L1584.34 228.46 L1579.96 231.73 L1575.4 235.14 L1570.57 238.77 L1565.54 242.64 L1560.44 246.51 L1555.38 250.15 L1550.37 253.54 L1545.37 256.8 L1540.36 259.86 L1535.36 262.66 L1530.35 265.23 L1525.35 267.59 L1520.34 269.67 L1515.34 271.42 L1510.27 272.77 L1505.17 273.77 L1500.14 274.53 L1495.32 275.18 L1490.64 275.55 L1486.09 275.64 L1481.77 275.82 L1477.8 276.43 L1474.38 277.64 L1471.39 279.24 L1468.47 281 L1465.29 282.68 L1461.71 284.31 L1457.93 285.97 L1454.08 287.55 L1450.27 288.94 L1446.52 290.13 L1442.76 291.18 L1439.01 292.04 L1435.26 292.69 L1431.5 293.12 L1427.75 293.33 L1423.99 293.36 L1420.24 293.19 L1416.49 292.86 L1412.73 292.35 L1408.98 291.63 L1405.23 290.69 L1401.47 289.52 L1397.72 288.13 L1393.96 286.51 L1390.21 284.68 L1386.46 282.57 L1382.7 280.18 L1378.95 277.67 L1375.2 275.18 L1371.44 272.68 L1367.69 270.12 L1363.93 267.59 L1360.18 265.17 L1356.43 262.77 L1352.67 260.39 L1348.92 258.21 L1345.17 256.41 L1341.41 255.06 L1337.66 254.06 L1333.9 253.3 L1330.15 252.65 L1326.4 252.28 L1322.64 252.18 L1318.89 252.01 L1315.14 251.4 L1311.38 250.39 L1307.63 249.13 L1303.87 247.44 L1300.12 245.15 L1296.37 242.12 L1292.61 238.5 L1288.86 234.44 L1285.11 230.13 L1281.35 225.48 L1277.6 220.43 L1273.84 215.23 L1270.09 210.11 L1266.28 204.99 L1262.43 199.79 L1258.65 194.74 L1255.08 190.09 L1251.84 185.97 L1248.85 182.22 L1245.84 178.66 L1242.56 175.08 L1238.17 171.11 L1233.05 166.97 L1228.81 163.32Z" fill="url(#sfy)"/>
<clipPath id="cpy"><path d="M1227.05 160.81 L1228.64 159.81 L1232.58 159.9 L1237.64 160.58 L1242.56 161.31 L1247.19 162.03 L1252.13 163 L1257.3 164.19 L1262.58 165.57 L1268.1 167.23 L1273.84 169.15 L1279.59 171.16 L1285.11 173.07 L1290.34 174.94 L1295.43 176.81 L1300.35 178.57 L1305.13 180.08 L1309.68 181.34 L1314.04 182.39 L1318.32 183.24 L1322.64 183.83 L1326.96 184.23 L1331.24 184.43 L1335.6 184.33 L1340.16 183.83 L1344.99 182.91 L1350.01 181.61 L1355.12 179.99 L1360.18 178.08 L1365.19 175.86 L1370.19 173.32 L1375.2 170.54 L1380.2 167.57 L1385.21 164.36 L1390.21 160.89 L1395.22 157.32 L1400.22 153.8 L1405.28 150.29 L1410.39 146.72 L1415.41 143.25 L1420.24 140.04 L1424.88 137.07 L1429.39 134.28 L1433.7 131.75 L1437.76 129.53 L1441.67 127.63 L1445.42 126.03 L1448.78 124.73 L1451.52 123.77 L1453.39 123.2 L1454.57 122.98 L1455.48 123.03 L1456.53 123.27 L1457.63 123.53 L1458.64 123.88 L1459.84 124.69 L1461.53 126.28 L1463.82 128.81 L1466.54 132.09 L1469.57 135.91 L1472.79 140.04 L1476.28 144.61 L1480.07 149.66 L1483.97 154.91 L1487.81 160.06 L1491.56 165.12 L1495.32 170.23 L1499.07 175.25 L1502.82 180.08 L1506.58 184.78 L1510.33 189.39 L1514.08 193.72 L1517.84 197.6 L1521.59 200.97 L1525.35 203.93 L1529.1 206.54 L1532.85 208.86 L1536.61 210.92 L1540.36 212.69 L1544.11 214.11 L1547.87 215.12 L1551.62 215.64 L1555.38 215.74 L1559.13 215.53 L1562.88 215.12 L1566.64 214.38 L1570.39 213.32 L1574.14 212.21 L1577.9 211.36 L1581.6 210.74 L1585.28 210.24 L1589.02 209.98 L1592.91 210.11 L1597.82 210.69 L1603.42 211.64 L1608.02 212.89 L1609.93 214.36 L1608.08 216.05 L1603.58 217.98 L1598 220.17 L1592.91 222.62 L1588.63 225.39 L1584.34 228.46 L1579.96 231.73 L1575.4 235.14 L1570.57 238.77 L1565.54 242.64 L1560.44 246.51 L1555.38 250.15 L1550.37 253.54 L1545.37 256.8 L1540.36 259.86 L1535.36 262.66 L1530.35 265.23 L1525.35 267.59 L1520.34 269.67 L1515.34 271.42 L1510.27 272.77 L1505.17 273.77 L1500.14 274.53 L1495.32 275.18 L1490.64 275.55 L1486.09 275.64 L1481.77 275.82 L1477.8 276.43 L1474.38 277.64 L1471.39 279.24 L1468.47 281 L1465.29 282.68 L1461.71 284.31 L1457.93 285.97 L1454.08 287.55 L1450.27 288.94 L1446.52 290.13 L1442.76 291.18 L1439.01 292.04 L1435.26 292.69 L1431.5 293.12 L1427.75 293.33 L1423.99 293.36 L1420.24 293.19 L1416.49 292.86 L1412.73 292.35 L1408.98 291.63 L1405.23 290.69 L1401.47 289.52 L1397.72 288.13 L1393.96 286.51 L1390.21 284.68 L1386.46 282.57 L1382.7 280.18 L1378.95 277.67 L1375.2 275.18 L1371.44 272.68 L1367.69 270.12 L1363.93 267.59 L1360.18 265.17 L1356.43 262.77 L1352.67 260.39 L1348.92 258.21 L1345.17 256.41 L1341.41 255.06 L1337.66 254.06 L1333.9 253.3 L1330.15 252.65 L1326.4 252.28 L1322.64 252.18 L1318.89 252.01 L1315.14 251.4 L1311.38 250.39 L1307.63 249.13 L1303.87 247.44 L1300.12 245.15 L1296.37 242.12 L1292.61 238.5 L1288.86 234.44 L1285.11 230.13 L1281.35 225.48 L1277.6 220.43 L1273.84 215.23 L1270.09 210.11 L1266.28 204.99 L1262.43 199.79 L1258.65 194.74 L1255.08 190.09 L1251.84 185.97 L1248.85 182.22 L1245.84 178.66 L1242.56 175.08 L1238.17 171.11 L1233.05 166.97 L1228.81 163.32Z"/></clipPath>
<g clip-path="url(#cpy)"><path d="M1330.15 252.65 L1334.23 251.33 L1342.2 250 L1350.17 248.9 L1356.84 248.01 L1363.52 247.34 L1370.19 247.15 L1376.86 247.51 L1383.54 248.34 L1390.21 249.65 L1396.88 251.56 L1403.56 253.94 L1410.23 256.41 L1416.9 258.9 L1423.58 261.48 L1430.25 263.91 L1437.11 266.23 L1443.97 268.41 L1450.27 270.17 L1455.74 271.24 L1460.65 271.88 L1465.29 272.67 L1470.57 273.74 L1475.57 274.94 L1477.8 276.43 L1475.57 278.33 L1470.57 280.5 L1465.29 282.68 L1460.47 284.86 L1455.37 287.04 L1450.27 288.94 L1445.27 290.5 L1440.26 291.78 L1435.26 292.69 L1430.25 293.21 L1425.25 293.37 L1420.24 293.19 L1415.24 292.71 L1410.23 291.9 L1405.23 290.69 L1400.22 289.08 L1395.22 287.08 L1390.21 284.68 L1385.21 281.79 L1380.2 278.51 L1375.2 275.18 L1370.19 271.83 L1365.19 268.43 L1360.18 265.17 L1355.18 261.97 L1350.17 258.91 L1345.17 256.41 L1338.86 254.78 L1332.56 253.72Z" fill="#fde26c" opacity="0.75" filter="url(#bl1)"/></g>
<g font-size="29.5" text-anchor="end">
<text x="1186.5" y="172">200</text>
<text x="1178.4" y="265.1">100</text>
<text x="1174" y="354.2">0</text>
<text x="1176" y="448.2">-100</text>
<text x="1181" y="536.2">-200</text>
</g>
<text transform="translate(1106 359.5) rotate(-90)" font-size="28.8" text-anchor="middle">Frequency [GHz]</text>
<g transform="translate(1245.5 599.5) rotate(33)">
<text transform='translate(-13.36 7)' font-size='28.8' font-family='"Liberation Serif", "DejaVu Serif", serif' fill='#111' stroke='#111' stroke-width='0.08' font-style='italic'>k</text>
<text transform='translate(3.32 13)' font-size='22.8' font-family='"Liberation Serif", "DejaVu Serif", serif' fill='#111' stroke='#111' stroke-width='0.08' font-style='italic'>y</text>
</g>
<text transform='translate(1518.94 660.3)' font-size='28.8' font-family='"Liberation Serif", "DejaVu Serif", serif' fill='#111' stroke='#111' stroke-width='0.08' font-style='italic'>k</text>
<text transform='translate(1535.03 666.2)' font-size='22.8' font-family='"Liberation Serif", "DejaVu Serif", serif' fill='#111' stroke='#111' stroke-width='0.08' font-style='italic'>x</text>
<text transform='translate(1491.33 150.5) scale(0.8 1)' font-size='34.8' font-family='"Liberation Serif", "DejaVu Serif", serif' fill='#111' stroke='#111' stroke-width='0.08' font-style='italic'>C</text>
<text transform='translate(1513.58 134.9)' font-size='20.5' font-family='"DejaVu Math TeX Gyre", "DejaVu Sans", sans-serif' fill='#111' stroke='#111' stroke-width='0.1'>↑</text>
<text transform='translate(1523.16 137.5)' font-size='23.5' font-family='"Liberation Serif", "DejaVu Serif", serif' fill='#111' stroke='#111' stroke-width='0.2'>,</text>
<text transform='translate(1529.68 134.9)' font-size='20.5' font-family='"DejaVu Math TeX Gyre", "DejaVu Sans", sans-serif' fill='#111' stroke='#111' stroke-width='0.1'>↓</text>
<text transform='translate(1550.78 154.3)' font-size='42.5' font-family='"Liberation Serif", "DejaVu Serif", serif' fill='#111' stroke='#111' stroke-width='0.2'>=</text>
<text transform='translate(1585.2 153.6)' font-size='42.5' font-family='"Liberation Serif", "DejaVu Serif", serif' fill='#111' stroke='#111' stroke-width='0.2'>±</text>
<text transform='translate(1608.44 150) scale(1.15 1)' font-size='33.4' font-family='"Liberation Serif", "DejaVu Serif", serif' fill='#111' stroke='#111' stroke-width='0.05'>1</text>
<text transform='translate(1489.33 362.7) scale(0.8 1)' font-size='34.8' font-family='"Liberation Serif", "DejaVu Serif", serif' fill='#111' stroke='#111' stroke-width='0.08' font-style='italic'>C</text>
<text transform='translate(1511.58 347.1)' font-size='20.5' font-family='"DejaVu Math TeX Gyre", "DejaVu Sans", sans-serif' fill='#111' stroke='#111' stroke-width='0.1'>↑</text>
<text transform='translate(1521.16 349.7)' font-size='23.5' font-family='"Liberation Serif", "DejaVu Serif", serif' fill='#111' stroke='#111' stroke-width='0.2'>,</text>
<text transform='translate(1527.68 347.1)' font-size='20.5' font-family='"DejaVu Math TeX Gyre", "DejaVu Sans", sans-serif' fill='#111' stroke='#111' stroke-width='0.1'>↓</text>
<text transform='translate(1548.78 366.5)' font-size='42.5' font-family='"Liberation Serif", "DejaVu Serif", serif' fill='#111' stroke='#111' stroke-width='0.2'>=</text>
<text transform='translate(1583.84 362.1) scale(0.79 1)' font-size='40' font-family='"DejaVu Math TeX Gyre", "DejaVu Sans", sans-serif' fill='#111'>∓</text>
<text transform='translate(1607.76 362.7) scale(1.08 1)' font-size='33.4' font-family='"Liberation Serif", "DejaVu Serif", serif' fill='#111' stroke='#111' stroke-width='0.05'>2</text>
<text transform='translate(1493.63 551.8) scale(0.8 1)' font-size='34.8' font-family='"Liberation Serif", "DejaVu Serif", serif' fill='#111' stroke='#111' stroke-width='0.08' font-style='italic'>C</text>
<text transform='translate(1515.88 536.2)' font-size='20.5' font-family='"DejaVu Math TeX Gyre", "DejaVu Sans", sans-serif' fill='#111' stroke='#111' stroke-width='0.1'>↑</text>
<text transform='translate(1525.46 538.8)' font-size='23.5' font-family='"Liberation Serif", "DejaVu Serif", serif' fill='#111' stroke='#111' stroke-width='0.2'>,</text>
<text transform='translate(1531.98 536.2)' font-size='20.5' font-family='"DejaVu Math TeX Gyre", "DejaVu Sans", sans-serif' fill='#111' stroke='#111' stroke-width='0.1'>↓</text>
<text transform='translate(1553.08 555.6)' font-size='42.5' font-family='"Liberation Serif", "DejaVu Serif", serif' fill='#111' stroke='#111' stroke-width='0.2'>=</text>
<text transform='translate(1587.5 554.9)' font-size='42.5' font-family='"Liberation Serif", "DejaVu Serif", serif' fill='#111' stroke='#111' stroke-width='0.2'>±</text>
<text transform='translate(1610.74 551.3) scale(1.15 1)' font-size='33.4' font-family='"Liberation Serif", "DejaVu Serif", serif' fill='#111' stroke='#111' stroke-width='0.05'>1</text>
</g>
<g id="heat">
<defs>
<filter id="hb1" x="-50%" y="-50%" width="200%" height="200%"><feGaussianBlur stdDeviation="13"/></filter>
<filter id="hb2" x="-50%" y="-50%" width="200%" height="200%"><feGaussianBlur stdDeviation="6.5"/></filter>
<filter id="hb3" x="-100%" y="-100%" width="300%" height="300%"><feGaussianBlur stdDeviation="5.5"/></filter>
<linearGradient id="cbar" x1="0" x2="1" y1="0" y2="0"><stop offset="0" stop-color="#0a8cfa"/><stop offset="0.2" stop-color="#4aa8f6"/><stop offset="0.5" stop-color="#ececec"/><stop offset="0.8" stop-color="#f5644c"/><stop offset="1" stop-color="#fb2a0c"/></linearGradient>
</defs>
<clipPath id="ch1"><rect x="1779.2" y="41.3" width="170.8" height="170.8"/></clipPath>
<g clip-path="url(#ch1)">
<rect x="1779.2" y="41.3" width="170.8" height="170.8" fill="#e2e4e6"/>
<rect x="1816.8" y="78.9" width="96" height="96" rx="24" fill="#0594ff" opacity="0.36" filter="url(#hb1)"/>
<rect x="1833.8" y="95.9" width="62" height="62" rx="15" fill="#0594ff" opacity="1" filter="url(#hb2)"/>
<circle cx="1864.8" cy="126.9" r="11.5" fill="#e2e4e6" opacity="0.62" filter="url(#hb3)"/>
</g>
<clipPath id="ch2"><rect x="1778.9" y="462.3" width="171" height="171"/></clipPath>
<g clip-path="url(#ch2)">
<rect x="1778.9" y="462.3" width="171" height="171" fill="#e5e3e3"/>
<rect x="1816.6" y="500" width="96" height="96" rx="24" fill="#fb7a6a" opacity="0.26" filter="url(#hb1)"/>
<rect x="1833.6" y="517" width="62" height="62" rx="15" fill="#fb7a6a" opacity="0.95" filter="url(#hb2)"/>
<circle cx="1864.6" cy="548" r="11.5" fill="#e5e3e3" opacity="0.6" filter="url(#hb3)"/>
</g>
<rect x="1814" y="311.8" width="118" height="15.4" fill="url(#cbar)"/>
<text x="1767.5" y="20.4" font-size="29.3">Middle Band,</text>
<text x="1728.3" y="437.6" font-size="29.1">Upper/Lower Band,</text>
<text transform='translate(1945.4 17.9) scale(1.15 1)' font-size='23.9' font-family='"DejaVu Math TeX Gyre", "DejaVu Sans", sans-serif' fill='#231f20' stroke='#231f20' stroke-width='0.1'>↑</text>
<text transform='translate(1985.2 434.7) scale(1.15 1)' font-size='23.9' font-family='"DejaVu Math TeX Gyre", "DejaVu Sans", sans-serif' fill='#231f20' stroke='#231f20' stroke-width='0.1'>↑</text>
<text transform='translate(1805.08 307.5)' font-size='38.5' font-family='"Liberation Serif", "DejaVu Serif", serif' fill='#111' stroke='#111' stroke-width='0.2'>−</text>
<text transform='translate(1918.17 308.4)' font-size='38.5' font-family='"Liberation Serif", "DejaVu Serif", serif' fill='#111' stroke='#111' stroke-width='0.2'>+</text>
<text transform='translate(1845.87 371) scale(0.92 1)' font-size='28.8' font-family='"Liberation Serif", "DejaVu Serif", serif' fill='#111' stroke='#111' stroke-width='0.08' font-style='italic'>Ω</text>
<text transform='translate(1867.73 371)' font-size='29.2' font-family='"Liberation Serif", "DejaVu Serif", serif' fill='#111' stroke='#111' stroke-width='0.2'>(</text>
<text transform='translate(1879.73 371)' font-size='28.7' font-family='"Liberation Serif", "DejaVu Serif", serif' fill='#111' stroke='#111' stroke-width='0.2' font-weight='bold'>k</text>
<text transform='translate(1896.32 371)' font-size='29.2' font-family='"Liberation Serif", "DejaVu Serif", serif' fill='#111' stroke='#111' stroke-width='0.2'>)</text>
<text transform='translate(1741.44 134.2)' font-size='28.8' font-family='"Liberation Serif", "DejaVu Serif", serif' fill='#111' stroke='#111' stroke-width='0.08' font-style='italic'>k</text>
<text transform='translate(1758.32 140.1)' font-size='22.8' font-family='"Liberation Serif", "DejaVu Serif", serif' fill='#111' stroke='#111' stroke-width='0.08' font-style='italic'>y</text>
<text transform='translate(1862.14 254.8)' font-size='28.8' font-family='"Liberation Serif", "DejaVu Serif", serif' fill='#111' stroke='#111' stroke-width='0.08' font-style='italic'>k</text>
<text transform='translate(1878.33 260.7)' font-size='22.8' font-family='"Liberation Serif", "DejaVu Serif", serif' fill='#111' stroke='#111' stroke-width='0.08' font-style='italic'>x</text>
<text transform='translate(1736.14 552.3)' font-size='28.8' font-family='"Liberation Serif", "DejaVu Serif", serif' fill='#111' stroke='#111' stroke-width='0.08' font-style='italic'>k</text>
<text transform='translate(1753.02 558.2)' font-size='22.8' font-family='"Liberation Serif", "DejaVu Serif", serif' fill='#111' stroke='#111' stroke-width='0.08' font-style='italic'>y</text>
<text transform='translate(1859.14 673)' font-size='28.8' font-family='"Liberation Serif", "DejaVu Serif", serif' fill='#111' stroke='#111' stroke-width='0.08' font-style='italic'>k</text>
<text transform='translate(1875.33 678.9)' font-size='22.8' font-family='"Liberation Serif", "DejaVu Serif", serif' fill='#111' stroke='#111' stroke-width='0.08' font-style='italic'>x</text>
</g>
<g id="panel-c">
<clipPath id="cp1"><rect x="140.3" y="848.3" width="289.6" height="467.7"/></clipPath>
<g clip-path="url(#cp1)" fill="none" stroke-linejoin="round">
<g stroke-width="3.9">
<path d="M140.3 914.7L145.1 914.9L150.0 915.5L154.8 916.6L159.6 918.1L164.4 920.0L169.3 922.3L174.1 924.9L178.9 927.8L183.7 931.0L188.6 934.4L193.4 937.9L198.2 941.6L203.0 945.4L207.9 949.3L212.7 953.1L217.5 956.9L222.4 960.7L227.2 964.3L232.0 967.7L236.8 970.9L241.7 974.0L246.5 976.9L251.3 979.5L256.1 981.5L261.0 982.8L265.8 983.7L270.6 984.3L275.4 985.2L280.3 986.5L285.1 988.0L289.9 989.6L294.8 991.2L299.6 992.9L304.4 994.6L309.2 996.3L314.1 998.1L318.9 1000.0L323.7 1002.0L328.5 1004.1L333.4 1006.2L338.2 1008.4L343.0 1010.6L347.8 1012.9L352.7 1015.2L357.5 1017.5L362.3 1019.8L367.2 1022.2L372.0 1024.6L376.8 1027.2L381.6 1029.9L386.5 1032.7L391.3 1035.6L396.1 1038.5L400.9 1041.3L405.8 1044.0L410.6 1046.5L415.4 1049.0L420.2 1051.4L425.1 1053.4L429.9 1054.7" stroke="#d95319"/>
<path d="M140.3 1249.6L145.1 1249.4L150.0 1248.8L154.8 1247.7L159.6 1246.2L164.4 1244.3L169.3 1242.0L174.1 1239.4L178.9 1236.5L183.7 1233.3L188.6 1229.9L193.4 1226.4L198.2 1222.7L203.0 1218.9L207.9 1215.0L212.7 1211.2L217.5 1207.4L222.4 1203.6L227.2 1200.0L232.0 1196.6L236.8 1193.4L241.7 1190.3L246.5 1187.4L251.3 1184.8L256.1 1182.8L261.0 1181.5L265.8 1180.6L270.6 1180.0L275.4 1179.1L280.3 1177.8L285.1 1176.3L289.9 1174.7L294.8 1173.1L299.6 1171.4L304.4 1169.7L309.2 1168.0L314.1 1166.2L318.9 1164.3L323.7 1162.3L328.5 1160.2L333.4 1158.1L338.2 1155.9L343.0 1153.7L347.8 1151.4L352.7 1149.1L357.5 1146.8L362.3 1144.5L367.2 1142.1L372.0 1139.7L376.8 1137.1L381.6 1134.4L386.5 1131.6L391.3 1128.7L396.1 1125.8L400.9 1123.0L405.8 1120.3L410.6 1117.8L415.4 1115.3L420.2 1112.9L425.1 1110.9L429.9 1109.6" stroke="#d95319"/>
<path d="M429.9 1249.6L425.1 1249.4L420.2 1248.8L415.4 1247.7L410.6 1246.2L405.8 1244.3L400.9 1242.0L396.1 1239.4L391.3 1236.5L386.5 1233.3L381.6 1229.9L376.8 1226.4L372.0 1222.7L367.2 1218.9L362.3 1215.0L357.5 1211.2L352.7 1207.4L347.8 1203.6L343.0 1200.0L338.2 1196.6L333.4 1193.4L328.5 1190.3L323.7 1187.4L318.9 1184.8L314.1 1182.8L309.2 1181.5L304.4 1180.6L299.6 1180.0L294.8 1179.1L289.9 1177.8L285.1 1176.3L280.3 1174.7L275.4 1173.1L270.6 1171.4L265.8 1169.7L261.0 1168.0L256.1 1166.2L251.3 1164.3L246.5 1162.3L241.7 1160.2L236.8 1158.1L232.0 1155.9L227.2 1153.7L222.4 1151.4L217.5 1149.1L212.7 1146.8L207.9 1144.5L203.0 1142.1L198.2 1139.7L193.4 1137.1L188.6 1134.4L183.7 1131.6L178.9 1128.7L174.1 1125.8L169.3 1123.0L164.4 1120.3L159.6 1117.8L154.8 1115.3L150.0 1112.9L145.1 1110.9L140.3 1109.6" stroke="#0072bd"/>
<path d="M429.9 914.7L425.1 914.9L420.2 915.5L415.4 916.6L410.6 918.1L405.8 920.0L400.9 922.3L396.1 924.9L391.3 927.8L386.5 931.0L381.6 934.4L376.8 937.9L372.0 941.6L367.2 945.4L362.3 949.3L357.5 953.1L352.7 956.9L347.8 960.7L343.0 964.3L338.2 967.7L333.4 970.9L328.5 974.0L323.7 976.9L318.9 979.5L314.1 981.5L309.2 982.8L304.4 983.7L299.6 984.3L294.8 985.2L289.9 986.5L285.1 988.0L280.3 989.6L275.4 991.2L270.6 992.9L265.8 994.6L261.0 996.3L256.1 998.1L251.3 1000.0L246.5 1002.0L241.7 1004.1L236.8 1006.2L232.0 1008.4L227.2 1010.6L222.4 1012.9L217.5 1015.2L212.7 1017.5L207.9 1019.8L203.0 1022.2L198.2 1024.6L193.4 1027.2L188.6 1029.9L183.7 1032.7L178.9 1035.6L174.1 1038.5L169.3 1041.3L164.4 1044.0L159.6 1046.5L154.8 1049.0L150.0 1051.4L145.1 1053.4L140.3 1054.7" stroke="#0072bd"/>
</g>
<path d="M140.3 914.0L146.3 914.4L152.4 915.4L158.4 917.1L164.4 919.4L170.5 922.3L176.5 925.7L182.5 929.5L188.6 933.7L194.6 938.2L200.6 942.9L206.7 947.7L212.7 952.5L218.7 957.2L224.8 961.8L230.8 966.2L236.8 970.3L242.9 974.1L248.9 977.4L254.9 980.3L261.0 982.8L267.0 984.7L273.0 986.1L279.1 986.9L285.1 987.2L291.1 986.9L297.2 986.1L303.2 984.7L309.2 982.8L315.3 980.3L321.3 977.4L327.3 974.1L333.4 970.3L339.4 966.2L345.4 961.8L351.5 957.2L357.5 952.5L363.5 947.7L369.6 942.9L375.6 938.2L381.6 933.7L387.7 929.5L393.7 925.7L399.7 922.3L405.8 919.4L411.8 917.1L417.8 915.4L423.9 914.4L429.9 914.0M140.3 913.8L146.3 914.2L152.4 915.2L158.4 916.9L164.4 919.2L170.5 922.1L176.5 925.5L182.5 929.3L188.6 933.5L194.6 938.0L200.6 942.7L206.7 947.4L212.7 952.2L218.7 957.0L224.8 961.6L230.8 966.0L236.8 970.0L242.9 973.8L248.9 977.1L254.9 980.1L261.0 982.5L267.0 984.4L273.0 985.8L279.1 986.6L285.1 986.9L291.1 986.6L297.2 985.8L303.2 984.4L309.2 982.5L315.3 980.1L321.3 977.1L327.3 973.8L333.4 970.0L339.4 966.0L345.4 961.6L351.5 957.0L357.5 952.2L363.5 947.4L369.6 942.7L375.6 938.0L381.6 933.5L387.7 929.3L393.7 925.5L399.7 922.1L405.8 919.2L411.8 916.9L417.8 915.2L423.9 914.2L429.9 913.8M140.3 913.2L146.3 913.6L152.4 914.6L158.4 916.3L164.4 918.6L170.5 921.4L176.5 924.8L182.5 928.6L188.6 932.8L194.6 937.3L200.6 941.9L206.7 946.7L212.7 951.5L218.7 956.2L224.8 960.8L230.8 965.2L236.8 969.2L242.9 973.0L248.9 976.3L254.9 979.2L261.0 981.6L267.0 983.5L273.0 984.9L279.1 985.8L285.1 986.0L291.1 985.8L297.2 984.9L303.2 983.5L309.2 981.6L315.3 979.2L321.3 976.3L327.3 973.0L333.4 969.2L339.4 965.2L345.4 960.8L351.5 956.2L357.5 951.5L363.5 946.7L369.6 941.9L375.6 937.3L381.6 932.8L387.7 928.6L393.7 924.8L399.7 921.4L405.8 918.6L411.8 916.3L417.8 914.6L423.9 913.6L429.9 913.2M140.3 912.2L146.3 912.6L152.4 913.6L158.4 915.2L164.4 917.5L170.5 920.4L176.5 923.7L182.5 927.6L188.6 931.7L194.6 936.2L200.6 940.8L206.7 945.5L212.7 950.3L218.7 955.0L224.8 959.5L230.8 963.9L236.8 967.9L242.9 971.6L248.9 974.9L254.9 977.8L261.0 980.2L267.0 982.1L273.0 983.5L279.1 984.3L285.1 984.6L291.1 984.3L297.2 983.5L303.2 982.1L309.2 980.2L315.3 977.8L321.3 974.9L327.3 971.6L333.4 967.9L339.4 963.9L345.4 959.5L351.5 955.0L357.5 950.3L363.5 945.5L369.6 940.8L375.6 936.2L381.6 931.7L387.7 927.6L393.7 923.7L399.7 920.4L405.8 917.5L411.8 915.2L417.8 913.6L423.9 912.6L429.9 912.2M140.3 910.8L146.3 911.2L152.4 912.2L158.4 913.8L164.4 916.1L170.5 918.9L176.5 922.3L182.5 926.1L188.6 930.2L194.6 934.6L200.6 939.2L206.7 943.9L212.7 948.6L218.7 953.3L224.8 957.8L230.8 962.1L236.8 966.1L242.9 969.8L248.9 973.0L254.9 975.9L261.0 978.3L267.0 980.2L273.0 981.5L279.1 982.3L285.1 982.6L291.1 982.3L297.2 981.5L303.2 980.2L309.2 978.3L315.3 975.9L321.3 973.0L327.3 969.8L333.4 966.1L339.4 962.1L345.4 957.8L351.5 953.3L357.5 948.6L363.5 943.9L369.6 939.2L375.6 934.6L381.6 930.2L387.7 926.1L393.7 922.3L399.7 918.9L405.8 916.1L411.8 913.8L417.8 912.2L423.9 911.2L429.9 910.8M140.3 909.1L146.3 909.4L152.4 910.4L158.4 912.1L164.4 914.3L170.5 917.1L176.5 920.4L182.5 924.2L188.6 928.3L194.6 932.6L200.6 937.2L206.7 941.8L212.7 946.5L218.7 951.1L224.8 955.6L230.8 959.8L236.8 963.8L242.9 967.4L248.9 970.7L254.9 973.5L261.0 975.8L267.0 977.7L273.0 979.0L279.1 979.8L285.1 980.1L291.1 979.8L297.2 979.0L303.2 977.7L309.2 975.8L315.3 973.5L321.3 970.7L327.3 967.4L333.4 963.8L339.4 959.8L345.4 955.6L351.5 951.1L357.5 946.5L363.5 941.8L369.6 937.2L375.6 932.6L381.6 928.3L387.7 924.2L393.7 920.4L399.7 917.1L405.8 914.3L411.8 912.1L417.8 910.4L423.9 909.4L429.9 909.1M140.3 907.0L146.3 907.4L152.4 908.4L158.4 910.0L164.4 912.2L170.5 915.0L176.5 918.2L182.5 921.9L188.6 926.0L194.6 930.3L200.6 934.8L206.7 939.4L212.7 944.0L218.7 948.5L224.8 952.9L230.8 957.1L236.8 961.0L242.9 964.6L248.9 967.8L254.9 970.6L261.0 972.9L267.0 974.7L273.0 976.1L279.1 976.9L285.1 977.1L291.1 976.9L297.2 976.1L303.2 974.7L309.2 972.9L315.3 970.6L321.3 967.8L327.3 964.6L333.4 961.0L339.4 957.1L345.4 952.9L351.5 948.5L357.5 944.0L363.5 939.4L369.6 934.8L375.6 930.3L381.6 926.0L387.7 921.9L393.7 918.2L399.7 915.0L405.8 912.2L411.8 910.0L417.8 908.4L423.9 907.4L429.9 907.0M140.3 904.7L146.3 905.0L152.4 906.0L158.4 907.6L164.4 909.8L170.5 912.5L176.5 915.7L182.5 919.4L188.6 923.4L194.6 927.6L200.6 932.0L206.7 936.6L212.7 941.1L218.7 945.6L224.8 949.9L230.8 954.0L236.8 957.9L242.9 961.4L248.9 964.6L254.9 967.3L261.0 969.6L267.0 971.4L273.0 972.7L279.1 973.5L285.1 973.7L291.1 973.5L297.2 972.7L303.2 971.4L309.2 969.6L315.3 967.3L321.3 964.6L327.3 961.4L333.4 957.9L339.4 954.0L345.4 949.9L351.5 945.6L357.5 941.1L363.5 936.6L369.6 932.0L375.6 927.6L381.6 923.4L387.7 919.4L393.7 915.7L399.7 912.5L405.8 909.8L411.8 907.6L417.8 906.0L423.9 905.0L429.9 904.7M140.3 902.1L146.3 902.4L152.4 903.3L158.4 904.9L164.4 907.1L170.5 909.8L176.5 913.0L182.5 916.5L188.6 920.5L194.6 924.7L200.6 929.0L206.7 933.5L212.7 937.9L218.7 942.3L224.8 946.6L230.8 950.6L236.8 954.4L242.9 957.9L248.9 961.0L254.9 963.7L261.0 965.9L267.0 967.7L273.0 968.9L279.1 969.7L285.1 970.0L291.1 969.7L297.2 968.9L303.2 967.7L309.2 965.9L315.3 963.7L321.3 961.0L327.3 957.9L333.4 954.4L339.4 950.6L345.4 946.6L351.5 942.3L357.5 937.9L363.5 933.5L369.6 929.0L375.6 924.7L381.6 920.5L387.7 916.5L393.7 913.0L399.7 909.8L405.8 907.1L411.8 904.9L417.8 903.3L423.9 902.4L429.9 902.1M140.3 899.2L146.3 899.5L152.4 900.5L158.4 902.0L164.4 904.2L170.5 906.8L176.5 909.9L182.5 913.5L188.6 917.3L194.6 921.4L200.6 925.7L206.7 930.1L212.7 934.5L218.7 938.8L224.8 943.0L230.8 946.9L236.8 950.7L242.9 954.0L248.9 957.1L254.9 959.7L261.0 961.9L267.0 963.6L273.0 964.9L279.1 965.6L285.1 965.9L291.1 965.6L297.2 964.9L303.2 963.6L309.2 961.9L315.3 959.7L321.3 957.1L327.3 954.0L333.4 950.7L339.4 946.9L345.4 943.0L351.5 938.8L357.5 934.5L363.5 930.1L369.6 925.7L375.6 921.4L381.6 917.3L387.7 913.5L393.7 909.9L399.7 906.8L405.8 904.2L411.8 902.0L417.8 900.5L423.9 899.5L429.9 899.2M140.3 896.2L146.3 896.5L152.4 897.4L158.4 899.0L164.4 901.1L170.5 903.7L176.5 906.7L182.5 910.2L188.6 914.0L194.6 918.0L200.6 922.2L206.7 926.5L212.7 930.8L218.7 935.0L224.8 939.1L230.8 943.0L236.8 946.7L242.9 950.0L248.9 952.9L254.9 955.5L261.0 957.6L267.0 959.3L273.0 960.5L279.1 961.3L285.1 961.5L291.1 961.3L297.2 960.5L303.2 959.3L309.2 957.6L315.3 955.5L321.3 952.9L327.3 950.0L333.4 946.7L339.4 943.0L345.4 939.1L351.5 935.0L357.5 930.8L363.5 926.5L369.6 922.2L375.6 918.0L381.6 914.0L387.7 910.2L393.7 906.7L399.7 903.7L405.8 901.1L411.8 899.0L417.8 897.4L423.9 896.5L429.9 896.2M140.3 893.1L146.3 893.4L152.4 894.3L158.4 895.8L164.4 897.8L170.5 900.4L176.5 903.4L182.5 906.8L188.6 910.5L194.6 914.5L200.6 918.6L206.7 922.8L212.7 927.0L218.7 931.1L224.8 935.1L230.8 938.9L236.8 942.5L242.9 945.7L248.9 948.6L254.9 951.1L261.0 953.2L267.0 954.9L273.0 956.0L279.1 956.8L285.1 957.0L291.1 956.8L297.2 956.0L303.2 954.9L309.2 953.2L315.3 951.1L321.3 948.6L327.3 945.7L333.4 942.5L339.4 938.9L345.4 935.1L351.5 931.1L357.5 927.0L363.5 922.8L369.6 918.6L375.6 914.5L381.6 910.5L387.7 906.8L393.7 903.4L399.7 900.4L405.8 897.8L411.8 895.8L417.8 894.3L423.9 893.4L429.9 893.1M140.3 889.9L146.3 890.2L152.4 891.1L158.4 892.5L164.4 894.5L170.5 897.0L176.5 900.0L182.5 903.3L188.6 907.0L194.6 910.8L200.6 914.9L206.7 919.0L212.7 923.1L218.7 927.1L224.8 931.0L230.8 934.8L236.8 938.2L242.9 941.4L248.9 944.2L254.9 946.6L261.0 948.7L267.0 950.3L273.0 951.4L279.1 952.1L285.1 952.4L291.1 952.1L297.2 951.4L303.2 950.3L309.2 948.7L315.3 946.6L321.3 944.2L327.3 941.4L333.4 938.2L339.4 934.8L345.4 931.0L351.5 927.1L357.5 923.1L363.5 919.0L369.6 914.9L375.6 910.8L381.6 907.0L387.7 903.3L393.7 900.0L399.7 897.0L405.8 894.5L411.8 892.5L417.8 891.1L423.9 890.2L429.9 889.9M140.3 886.6L146.3 886.9L152.4 887.8L158.4 889.2L164.4 891.2L170.5 893.7L176.5 896.6L182.5 899.8L188.6 903.4L194.6 907.2L200.6 911.1L206.7 915.1L212.7 919.2L218.7 923.1L224.8 926.9L230.8 930.5L236.8 933.9L242.9 937.0L248.9 939.7L254.9 942.1L261.0 944.1L267.0 945.7L273.0 946.8L279.1 947.5L285.1 947.7L291.1 947.5L297.2 946.8L303.2 945.7L309.2 944.1L315.3 942.1L321.3 939.7L327.3 937.0L333.4 933.9L339.4 930.5L345.4 926.9L351.5 923.1L357.5 919.2L363.5 915.1L369.6 911.1L375.6 907.2L381.6 903.4L387.7 899.8L393.7 896.6L399.7 893.7L405.8 891.2L411.8 889.2L417.8 887.8L423.9 886.9L429.9 886.6M140.3 883.4L146.3 883.7L152.4 884.6L158.4 886.0L164.4 887.9L170.5 890.3L176.5 893.1L182.5 896.3L188.6 899.8L194.6 903.5L200.6 907.4L206.7 911.3L212.7 915.2L218.7 919.1L224.8 922.8L230.8 926.4L236.8 929.7L242.9 932.7L248.9 935.3L254.9 937.6L261.0 939.6L267.0 941.1L273.0 942.2L279.1 942.8L285.1 943.1L291.1 942.8L297.2 942.2L303.2 941.1L309.2 939.6L315.3 937.6L321.3 935.3L327.3 932.7L333.4 929.7L339.4 926.4L345.4 922.8L351.5 919.1L357.5 915.2L363.5 911.3L369.6 907.4L375.6 903.5L381.6 899.8L387.7 896.3L393.7 893.1L399.7 890.3L405.8 887.9L411.8 886.0L417.8 884.6L423.9 883.7L429.9 883.4M140.3 880.3L146.3 880.6L152.4 881.4L158.4 882.8L164.4 884.7L170.5 887.0L176.5 889.8L182.5 892.9L188.6 896.4L194.6 900.0L200.6 903.8L206.7 907.6L212.7 911.4L218.7 915.2L224.8 918.8L230.8 922.3L236.8 925.5L242.9 928.4L248.9 931.0L254.9 933.3L261.0 935.1L267.0 936.6L273.0 937.7L279.1 938.3L285.1 938.5L291.1 938.3L297.2 937.7L303.2 936.6L309.2 935.1L315.3 933.3L321.3 931.0L327.3 928.4L333.4 925.5L339.4 922.3L345.4 918.8L351.5 915.2L357.5 911.4L363.5 907.6L369.6 903.8L375.6 900.0L381.6 896.4L387.7 892.9L393.7 889.8L399.7 887.0L405.8 884.7L411.8 882.8L417.8 881.4L423.9 880.6L429.9 880.3M140.3 877.3L146.3 877.5L152.4 878.4L158.4 879.7L164.4 881.6L170.5 883.9L176.5 886.6L182.5 889.7L188.6 893.0L194.6 896.6L200.6 900.3L206.7 904.0L212.7 907.8L218.7 911.4L224.8 915.0L230.8 918.4L236.8 921.5L242.9 924.3L248.9 926.9L254.9 929.1L261.0 930.9L267.0 932.3L273.0 933.4L279.1 934.0L285.1 934.2L291.1 934.0L297.2 933.4L303.2 932.3L309.2 930.9L315.3 929.1L321.3 926.9L327.3 924.3L333.4 921.5L339.4 918.4L345.4 915.0L351.5 911.4L357.5 907.8L363.5 904.0L369.6 900.3L375.6 896.6L381.6 893.0L387.7 889.7L393.7 886.6L399.7 883.9L405.8 881.6L411.8 879.7L417.8 878.4L423.9 877.5L429.9 877.3M140.3 874.4L146.3 874.7L152.4 875.5L158.4 876.8L164.4 878.7L170.5 880.9L176.5 883.6L182.5 886.6L188.6 889.9L194.6 893.4L200.6 897.0L206.7 900.6L212.7 904.3L218.7 907.9L224.8 911.4L230.8 914.7L236.8 917.7L242.9 920.5L248.9 923.0L254.9 925.1L261.0 926.9L267.0 928.3L273.0 929.3L279.1 929.9L285.1 930.1L291.1 929.9L297.2 929.3L303.2 928.3L309.2 926.9L315.3 925.1L321.3 923.0L327.3 920.5L333.4 917.7L339.4 914.7L345.4 911.4L351.5 907.9L357.5 904.3L363.5 900.6L369.6 897.0L375.6 893.4L381.6 889.9L387.7 886.6L393.7 883.6L399.7 880.9L405.8 878.7L411.8 876.8L417.8 875.5L423.9 874.7L429.9 874.4M140.3 871.8L146.3 872.1L152.4 872.9L158.4 874.2L164.4 876.0L170.5 878.2L176.5 880.8L182.5 883.8L188.6 887.0L194.6 890.4L200.6 893.9L206.7 897.5L212.7 901.1L218.7 904.7L224.8 908.0L230.8 911.3L236.8 914.2L242.9 917.0L248.9 919.4L254.9 921.5L261.0 923.2L267.0 924.6L273.0 925.5L279.1 926.1L285.1 926.3L291.1 926.1L297.2 925.5L303.2 924.6L309.2 923.2L315.3 921.5L321.3 919.4L327.3 917.0L333.4 914.2L339.4 911.3L345.4 908.0L351.5 904.7L357.5 901.1L363.5 897.5L369.6 893.9L375.6 890.4L381.6 887.0L387.7 883.8L393.7 880.8L399.7 878.2L405.8 876.0L411.8 874.2L417.8 872.9L423.9 872.1L429.9 871.8M140.3 869.4L146.3 869.7L152.4 870.5L158.4 871.8L164.4 873.5L170.5 875.7L176.5 878.3L182.5 881.2L188.6 884.4L194.6 887.7L200.6 891.2L206.7 894.7L212.7 898.3L218.7 901.7L224.8 905.0L230.8 908.2L236.8 911.1L242.9 913.8L248.9 916.1L254.9 918.2L261.0 919.9L267.0 921.2L273.0 922.2L279.1 922.7L285.1 922.9L291.1 922.7L297.2 922.2L303.2 921.2L309.2 919.9L315.3 918.2L321.3 916.1L327.3 913.8L333.4 911.1L339.4 908.2L345.4 905.0L351.5 901.7L357.5 898.3L363.5 894.7L369.6 891.2L375.6 887.7L381.6 884.4L387.7 881.2L393.7 878.3L399.7 875.7L405.8 873.5L411.8 871.8L417.8 870.5L423.9 869.7L429.9 869.4M140.3 867.4L146.3 867.6L152.4 868.4L158.4 869.7L164.4 871.4L170.5 873.6L176.5 876.1L182.5 879.0L188.6 882.1L194.6 885.4L200.6 888.8L206.7 892.3L212.7 895.7L218.7 899.1L224.8 902.4L230.8 905.5L236.8 908.4L242.9 911.0L248.9 913.3L254.9 915.3L261.0 916.9L267.0 918.3L273.0 919.2L279.1 919.8L285.1 920.0L291.1 919.8L297.2 919.2L303.2 918.3L309.2 916.9L315.3 915.3L321.3 913.3L327.3 911.0L333.4 908.4L339.4 905.5L345.4 902.4L351.5 899.1L357.5 895.7L363.5 892.3L369.6 888.8L375.6 885.4L381.6 882.1L387.7 879.0L393.7 876.1L399.7 873.6L405.8 871.4L411.8 869.7L417.8 868.4L423.9 867.6L429.9 867.4M140.3 865.6L146.3 865.9L152.4 866.7L158.4 867.9L164.4 869.6L170.5 871.8L176.5 874.3L182.5 877.1L188.6 880.2L194.6 883.4L200.6 886.8L206.7 890.2L212.7 893.6L218.7 897.0L224.8 900.2L230.8 903.2L236.8 906.1L242.9 908.6L248.9 910.9L254.9 912.9L261.0 914.5L267.0 915.8L273.0 916.7L279.1 917.3L285.1 917.4L291.1 917.3L297.2 916.7L303.2 915.8L309.2 914.5L315.3 912.9L321.3 910.9L327.3 908.6L333.4 906.1L339.4 903.2L345.4 900.2L351.5 897.0L357.5 893.6L363.5 890.2L369.6 886.8L375.6 883.4L381.6 880.2L387.7 877.1L393.7 874.3L399.7 871.8L405.8 869.6L411.8 867.9L417.8 866.7L423.9 865.9L429.9 865.6M140.3 864.3L146.3 864.5L152.4 865.3L158.4 866.5L164.4 868.2L170.5 870.3L176.5 872.8L182.5 875.6L188.6 878.6L194.6 881.9L200.6 885.2L206.7 888.6L212.7 892.0L218.7 895.3L224.8 898.4L230.8 901.4L236.8 904.2L242.9 906.8L248.9 909.0L254.9 910.9L261.0 912.6L267.0 913.8L273.0 914.7L279.1 915.3L285.1 915.5L291.1 915.3L297.2 914.7L303.2 913.8L309.2 912.6L315.3 910.9L321.3 909.0L327.3 906.8L333.4 904.2L339.4 901.4L345.4 898.4L351.5 895.3L357.5 892.0L363.5 888.6L369.6 885.2L375.6 881.9L381.6 878.6L387.7 875.6L393.7 872.8L399.7 870.3L405.8 868.2L411.8 866.5L417.8 865.3L423.9 864.5L429.9 864.3M140.3 863.3L146.3 863.5L152.4 864.3L158.4 865.5L164.4 867.2L170.5 869.3L176.5 871.7L182.5 874.5L188.6 877.5L194.6 880.7L200.6 884.0L206.7 887.4L212.7 890.7L218.7 894.0L224.8 897.2L230.8 900.1L236.8 902.9L242.9 905.4L248.9 907.6L254.9 909.6L261.0 911.1L267.0 912.4L273.0 913.3L279.1 913.8L285.1 914.0L291.1 913.8L297.2 913.3L303.2 912.4L309.2 911.1L315.3 909.6L321.3 907.6L327.3 905.4L333.4 902.9L339.4 900.1L345.4 897.2L351.5 894.0L357.5 890.7L363.5 887.4L369.6 884.0L375.6 880.7L381.6 877.5L387.7 874.5L393.7 871.7L399.7 869.3L405.8 867.2L411.8 865.5L417.8 864.3L423.9 863.5L429.9 863.3M140.3 862.7L146.3 862.9L152.4 863.7L158.4 864.9L164.4 866.6L170.5 868.7L176.5 871.1L182.5 873.9L188.6 876.9L194.6 880.0L200.6 883.3L206.7 886.7L212.7 890.0L218.7 893.3L224.8 896.4L230.8 899.4L236.8 902.1L242.9 904.6L248.9 906.8L254.9 908.7L261.0 910.3L267.0 911.5L273.0 912.4L279.1 913.0L285.1 913.1L291.1 913.0L297.2 912.4L303.2 911.5L309.2 910.3L315.3 908.7L321.3 906.8L327.3 904.6L333.4 902.1L339.4 899.4L345.4 896.4L351.5 893.3L357.5 890.0L363.5 886.7L369.6 883.3L375.6 880.0L381.6 876.9L387.7 873.9L393.7 871.1L399.7 868.7L405.8 866.6L411.8 864.9L417.8 863.7L423.9 862.9L429.9 862.7M140.3 862.5L146.3 862.7L152.4 863.5L158.4 864.7L164.4 866.4L170.5 868.4L176.5 870.9L182.5 873.6L188.6 876.6L194.6 879.8L200.6 883.1L206.7 886.4L212.7 889.8L218.7 893.0L224.8 896.1L230.8 899.1L236.8 901.8L242.9 904.3L248.9 906.5L254.9 908.4L261.0 910.0L267.0 911.2L273.0 912.1L279.1 912.7L285.1 912.8L291.1 912.7L297.2 912.1L303.2 911.2L309.2 910.0L315.3 908.4L321.3 906.5L327.3 904.3L333.4 901.8L339.4 899.1L345.4 896.1L351.5 893.0L357.5 889.8L363.5 886.4L369.6 883.1L375.6 879.8L381.6 876.6L387.7 873.6L393.7 870.9L399.7 868.4L405.8 866.4L411.8 864.7L417.8 863.5L423.9 862.7L429.9 862.5M140.3 1081.8L143.2 1079.6L146.1 1077.3L149.0 1074.9L151.9 1073.8L154.8 1072.6L157.7 1071.4L160.6 1070.2L163.5 1069.0L169.3 1066.6L175.1 1064.3L180.8 1062.1L186.6 1060.0L192.4 1058.3L198.2 1056.7L204.0 1055.4L209.8 1054.6L215.6 1054.1L221.4 1053.8L227.2 1053.9L233.0 1054.6L238.8 1056.1L244.6 1058.0L250.3 1060.6L252.3 1061.5L254.2 1062.4L256.1 1063.4L258.1 1064.5L260.0 1065.7L261.9 1066.9L263.9 1068.1L265.8 1069.3L267.7 1070.6L269.7 1071.7L271.6 1072.7L273.5 1073.9L275.4 1074.9L277.4 1076.0L279.3 1076.9L281.2 1077.6L283.2 1078.1L285.1 1078.4L287.0 1078.1L289.0 1077.6L290.9 1076.9L292.8 1076.0L294.8 1074.9L296.7 1073.9L298.6 1072.7L300.5 1071.7L302.5 1070.6L304.4 1069.3L306.3 1068.1L308.3 1066.9L310.2 1065.7L312.1 1064.5L314.1 1063.4L316.0 1062.4L317.9 1061.5L319.9 1060.6L325.6 1058.0L331.4 1056.1L337.2 1054.6L343.0 1053.9L348.8 1053.8L354.6 1054.1L360.4 1054.6L366.2 1055.4L372.0 1056.7L377.8 1058.3L383.6 1060.0L389.4 1062.1L395.1 1064.3L400.9 1066.6L406.7 1069.0L409.6 1070.2L412.5 1071.4L415.4 1072.6L418.3 1073.8L421.2 1074.9L424.1 1077.3L427.0 1079.6L429.9 1081.8M140.3 1082.5L143.2 1084.7L146.1 1087.0L149.0 1089.4L151.9 1090.5L154.8 1091.7L157.7 1092.9L160.6 1094.1L163.5 1095.3L169.3 1097.7L175.1 1100.0L180.8 1102.2L186.6 1104.3L192.4 1106.0L198.2 1107.6L204.0 1108.9L209.8 1109.7L215.6 1110.2L221.4 1110.5L227.2 1110.4L233.0 1109.7L238.8 1108.2L244.6 1106.3L250.3 1103.7L252.3 1102.8L254.2 1101.9L256.1 1100.9L258.1 1099.8L260.0 1098.6L261.9 1097.4L263.9 1096.2L265.8 1095.0L267.7 1093.7L269.7 1092.6L271.6 1091.6L273.5 1090.4L275.4 1089.4L277.4 1088.3L279.3 1087.4L281.2 1086.7L283.2 1086.2L285.1 1085.9L287.0 1086.2L289.0 1086.7L290.9 1087.4L292.8 1088.3L294.8 1089.4L296.7 1090.4L298.6 1091.6L300.5 1092.6L302.5 1093.7L304.4 1095.0L306.3 1096.2L308.3 1097.4L310.2 1098.6L312.1 1099.8L314.1 1100.9L316.0 1101.9L317.9 1102.8L319.9 1103.7L325.6 1106.3L331.4 1108.2L337.2 1109.7L343.0 1110.4L348.8 1110.5L354.6 1110.2L360.4 1109.7L366.2 1108.9L372.0 1107.6L377.8 1106.0L383.6 1104.3L389.4 1102.2L395.1 1100.0L400.9 1097.7L406.7 1095.3L409.6 1094.1L412.5 1092.9L415.4 1091.7L418.3 1090.5L421.2 1089.4L424.1 1087.0L427.0 1084.7L429.9 1082.5M140.3 1081.3L143.2 1079.1L146.1 1076.9L149.0 1074.5L151.9 1073.4L154.8 1072.2L157.7 1071.0L160.6 1069.8L163.5 1068.6L169.3 1066.2L175.1 1063.9L180.8 1061.7L186.6 1059.6L192.4 1057.8L198.2 1056.3L204.0 1055.0L209.8 1054.2L215.6 1053.6L221.4 1053.3L227.2 1053.4L233.0 1054.1L238.8 1055.5L244.6 1057.4L250.3 1059.9L252.3 1060.8L254.2 1061.7L256.1 1062.7L258.1 1063.7L260.0 1064.8L261.9 1066.0L263.9 1067.2L265.8 1068.5L267.7 1069.8L269.7 1070.9L271.6 1072.0L273.5 1073.3L275.4 1074.4L277.4 1075.6L279.3 1076.7L281.2 1077.5L283.2 1078.1L285.1 1078.4L287.0 1078.1L289.0 1077.5L290.9 1076.7L292.8 1075.6L294.8 1074.4L296.7 1073.3L298.6 1072.0L300.5 1070.9L302.5 1069.8L304.4 1068.5L306.3 1067.2L308.3 1066.0L310.2 1064.8L312.1 1063.7L314.1 1062.7L316.0 1061.7L317.9 1060.8L319.9 1059.9L325.6 1057.4L331.4 1055.5L337.2 1054.1L343.0 1053.4L348.8 1053.3L354.6 1053.6L360.4 1054.2L366.2 1055.0L372.0 1056.3L377.8 1057.8L383.6 1059.6L389.4 1061.7L395.1 1063.9L400.9 1066.2L406.7 1068.6L409.6 1069.8L412.5 1071.0L415.4 1072.2L418.3 1073.4L421.2 1074.5L424.1 1076.9L427.0 1079.1L429.9 1081.3M140.3 1083.0L143.2 1085.2L146.1 1087.4L149.0 1089.8L151.9 1090.9L154.8 1092.1L157.7 1093.3L160.6 1094.5L163.5 1095.7L169.3 1098.1L175.1 1100.4L180.8 1102.6L186.6 1104.7L192.4 1106.5L198.2 1108.0L204.0 1109.3L209.8 1110.1L215.6 1110.7L221.4 1111.0L227.2 1110.9L233.0 1110.2L238.8 1108.8L244.6 1106.9L250.3 1104.4L252.3 1103.5L254.2 1102.6L256.1 1101.6L258.1 1100.6L260.0 1099.5L261.9 1098.3L263.9 1097.1L265.8 1095.8L267.7 1094.5L269.7 1093.4L271.6 1092.3L273.5 1091.0L275.4 1089.9L277.4 1088.7L279.3 1087.6L281.2 1086.8L283.2 1086.2L285.1 1085.9L287.0 1086.2L289.0 1086.8L290.9 1087.6L292.8 1088.7L294.8 1089.9L296.7 1091.0L298.6 1092.3L300.5 1093.4L302.5 1094.5L304.4 1095.8L306.3 1097.1L308.3 1098.3L310.2 1099.5L312.1 1100.6L314.1 1101.6L316.0 1102.6L317.9 1103.5L319.9 1104.4L325.6 1106.9L331.4 1108.8L337.2 1110.2L343.0 1110.9L348.8 1111.0L354.6 1110.7L360.4 1110.1L366.2 1109.3L372.0 1108.0L377.8 1106.5L383.6 1104.7L389.4 1102.6L395.1 1100.4L400.9 1098.1L406.7 1095.7L409.6 1094.5L412.5 1093.3L415.4 1092.1L418.3 1090.9L421.2 1089.8L424.1 1087.4L427.0 1085.2L429.9 1083.0M140.3 1080.6L143.2 1078.4L146.1 1076.2L149.0 1073.9L151.9 1072.7L154.8 1071.5L157.7 1070.3L160.6 1069.1L163.5 1067.9L169.3 1065.5L175.1 1063.2L180.8 1061.0L186.6 1059.0L192.4 1057.2L198.2 1055.6L204.0 1054.3L209.8 1053.5L215.6 1052.9L221.4 1052.5L227.2 1052.6L233.0 1053.3L238.8 1054.6L244.6 1056.4L250.3 1058.7L252.3 1059.6L254.2 1060.4L256.1 1061.3L258.1 1062.3L260.0 1063.3L261.9 1064.4L263.9 1065.4L265.8 1066.5L267.7 1067.5L269.7 1068.3L271.6 1069.1L273.5 1069.9L275.4 1070.5L277.4 1071.1L279.3 1071.6L281.2 1071.8L283.2 1072.0L285.1 1072.1L287.0 1072.0L289.0 1071.8L290.9 1071.6L292.8 1071.1L294.8 1070.5L296.7 1069.9L298.6 1069.1L300.5 1068.3L302.5 1067.5L304.4 1066.5L306.3 1065.4L308.3 1064.4L310.2 1063.3L312.1 1062.3L314.1 1061.3L316.0 1060.4L317.9 1059.6L319.9 1058.7L325.6 1056.4L331.4 1054.6L337.2 1053.3L343.0 1052.6L348.8 1052.5L354.6 1052.9L360.4 1053.5L366.2 1054.3L372.0 1055.6L377.8 1057.2L383.6 1059.0L389.4 1061.0L395.1 1063.2L400.9 1065.5L406.7 1067.9L409.6 1069.1L412.5 1070.3L415.4 1071.5L418.3 1072.7L421.2 1073.9L424.1 1076.2L427.0 1078.4L429.9 1080.6M140.3 1083.7L143.2 1085.9L146.1 1088.1L149.0 1090.4L151.9 1091.6L154.8 1092.8L157.7 1094.0L160.6 1095.2L163.5 1096.4L169.3 1098.8L175.1 1101.1L180.8 1103.3L186.6 1105.3L192.4 1107.1L198.2 1108.7L204.0 1110.0L209.8 1110.8L215.6 1111.4L221.4 1111.8L227.2 1111.7L233.0 1111.0L238.8 1109.7L244.6 1107.9L250.3 1105.6L252.3 1104.7L254.2 1103.9L256.1 1103.0L258.1 1102.0L260.0 1101.0L261.9 1099.9L263.9 1098.9L265.8 1097.8L267.7 1096.8L269.7 1096.0L271.6 1095.2L273.5 1094.4L275.4 1093.8L277.4 1093.2L279.3 1092.7L281.2 1092.5L283.2 1092.3L285.1 1092.2L287.0 1092.3L289.0 1092.5L290.9 1092.7L292.8 1093.2L294.8 1093.8L296.7 1094.4L298.6 1095.2L300.5 1096.0L302.5 1096.8L304.4 1097.8L306.3 1098.9L308.3 1099.9L310.2 1101.0L312.1 1102.0L314.1 1103.0L316.0 1103.9L317.9 1104.7L319.9 1105.6L325.6 1107.9L331.4 1109.7L337.2 1111.0L343.0 1111.7L348.8 1111.8L354.6 1111.4L360.4 1110.8L366.2 1110.0L372.0 1108.7L377.8 1107.1L383.6 1105.3L389.4 1103.3L395.1 1101.1L400.9 1098.8L406.7 1096.4L409.6 1095.2L412.5 1094.0L415.4 1092.8L418.3 1091.6L421.2 1090.4L424.1 1088.1L427.0 1085.9L429.9 1083.7M140.3 1079.6L143.2 1077.5L146.1 1075.4L149.0 1073.1L151.9 1071.9L154.8 1070.7L157.7 1069.5L160.6 1068.3L163.5 1067.1L169.3 1064.7L175.1 1062.4L180.8 1060.2L186.6 1058.1L192.4 1056.4L198.2 1054.8L204.0 1053.5L209.8 1052.7L215.6 1052.0L221.4 1051.6L227.2 1051.6L233.0 1052.2L238.8 1053.5L244.6 1055.2L250.3 1057.5L252.3 1058.3L254.2 1059.1L256.1 1059.9L258.1 1060.9L260.0 1061.9L261.9 1062.9L263.9 1064.0L265.8 1065.1L267.7 1066.2L269.7 1067.1L271.6 1068.1L273.5 1069.0L275.4 1069.9L277.4 1070.7L279.3 1071.3L281.2 1071.7L283.2 1071.9L285.1 1072.1L287.0 1071.9L289.0 1071.7L290.9 1071.3L292.8 1070.7L294.8 1069.9L296.7 1069.0L298.6 1068.1L300.5 1067.1L302.5 1066.2L304.4 1065.1L306.3 1064.0L308.3 1062.9L310.2 1061.9L312.1 1060.9L314.1 1059.9L316.0 1059.1L317.9 1058.3L319.9 1057.5L325.6 1055.2L331.4 1053.5L337.2 1052.2L343.0 1051.6L348.8 1051.6L354.6 1052.0L360.4 1052.7L366.2 1053.5L372.0 1054.8L377.8 1056.4L383.6 1058.1L389.4 1060.2L395.1 1062.4L400.9 1064.7L406.7 1067.1L409.6 1068.3L412.5 1069.5L415.4 1070.7L418.3 1071.9L421.2 1073.1L424.1 1075.4L427.0 1077.5L429.9 1079.6M140.3 1084.7L143.2 1086.8L146.1 1088.9L149.0 1091.2L151.9 1092.4L154.8 1093.6L157.7 1094.8L160.6 1096.0L163.5 1097.2L169.3 1099.6L175.1 1101.9L180.8 1104.1L186.6 1106.2L192.4 1107.9L198.2 1109.5L204.0 1110.8L209.8 1111.6L215.6 1112.3L221.4 1112.7L227.2 1112.7L233.0 1112.1L238.8 1110.8L244.6 1109.1L250.3 1106.8L252.3 1106.0L254.2 1105.2L256.1 1104.4L258.1 1103.4L260.0 1102.4L261.9 1101.4L263.9 1100.3L265.8 1099.2L267.7 1098.1L269.7 1097.2L271.6 1096.2L273.5 1095.3L275.4 1094.4L277.4 1093.6L279.3 1093.0L281.2 1092.6L283.2 1092.4L285.1 1092.2L287.0 1092.4L289.0 1092.6L290.9 1093.0L292.8 1093.6L294.8 1094.4L296.7 1095.3L298.6 1096.2L300.5 1097.2L302.5 1098.1L304.4 1099.2L306.3 1100.3L308.3 1101.4L310.2 1102.4L312.1 1103.4L314.1 1104.4L316.0 1105.2L317.9 1106.0L319.9 1106.8L325.6 1109.1L331.4 1110.8L337.2 1112.1L343.0 1112.7L348.8 1112.7L354.6 1112.3L360.4 1111.6L366.2 1110.8L372.0 1109.5L377.8 1107.9L383.6 1106.2L389.4 1104.1L395.1 1101.9L400.9 1099.6L406.7 1097.2L409.6 1096.0L412.5 1094.8L415.4 1093.6L418.3 1092.4L421.2 1091.2L424.1 1088.9L427.0 1086.8L429.9 1084.7M140.3 1078.4L143.2 1076.5L146.1 1074.4L149.0 1072.1L151.9 1071.0L154.8 1069.7L157.7 1068.5L160.6 1067.3L163.5 1066.1L169.3 1063.7L175.1 1061.4L180.8 1059.2L186.6 1057.2L192.4 1055.4L198.2 1053.8L204.0 1052.5L209.8 1051.6L215.6 1050.9L221.4 1050.5L227.2 1050.5L233.0 1051.0L238.8 1052.2L244.6 1053.8L250.3 1055.9L252.3 1056.6L254.2 1057.3L256.1 1058.1L258.1 1058.9L260.0 1059.8L261.9 1060.7L263.9 1061.6L265.8 1062.4L267.7 1063.3L269.7 1063.9L271.6 1064.5L273.5 1065.0L275.4 1065.4L277.4 1065.8L279.3 1066.1L281.2 1066.2L283.2 1066.3L285.1 1066.4L287.0 1066.3L289.0 1066.2L290.9 1066.1L292.8 1065.8L294.8 1065.4L296.7 1065.0L298.6 1064.5L300.5 1063.9L302.5 1063.3L304.4 1062.4L306.3 1061.6L308.3 1060.7L310.2 1059.8L312.1 1058.9L314.1 1058.1L316.0 1057.3L317.9 1056.6L319.9 1055.9L325.6 1053.8L331.4 1052.2L337.2 1051.0L343.0 1050.5L348.8 1050.5L354.6 1050.9L360.4 1051.6L366.2 1052.5L372.0 1053.8L377.8 1055.4L383.6 1057.2L389.4 1059.2L395.1 1061.4L400.9 1063.7L406.7 1066.1L409.6 1067.3L412.5 1068.5L415.4 1069.7L418.3 1071.0L421.2 1072.1L424.1 1074.4L427.0 1076.5L429.9 1078.4M140.3 1085.9L143.2 1087.8L146.1 1089.9L149.0 1092.2L151.9 1093.3L154.8 1094.6L157.7 1095.8L160.6 1097.0L163.5 1098.2L169.3 1100.6L175.1 1102.9L180.8 1105.1L186.6 1107.1L192.4 1108.9L198.2 1110.5L204.0 1111.8L209.8 1112.7L215.6 1113.4L221.4 1113.8L227.2 1113.8L233.0 1113.3L238.8 1112.1L244.6 1110.5L250.3 1108.4L252.3 1107.7L254.2 1107.0L256.1 1106.2L258.1 1105.4L260.0 1104.5L261.9 1103.6L263.9 1102.7L265.8 1101.9L267.7 1101.0L269.7 1100.4L271.6 1099.8L273.5 1099.3L275.4 1098.9L277.4 1098.5L279.3 1098.2L281.2 1098.1L283.2 1098.0L285.1 1097.9L287.0 1098.0L289.0 1098.1L290.9 1098.2L292.8 1098.5L294.8 1098.9L296.7 1099.3L298.6 1099.8L300.5 1100.4L302.5 1101.0L304.4 1101.9L306.3 1102.7L308.3 1103.6L310.2 1104.5L312.1 1105.4L314.1 1106.2L316.0 1107.0L317.9 1107.7L319.9 1108.4L325.6 1110.5L331.4 1112.1L337.2 1113.3L343.0 1113.8L348.8 1113.8L354.6 1113.4L360.4 1112.7L366.2 1111.8L372.0 1110.5L377.8 1108.9L383.6 1107.1L389.4 1105.1L395.1 1102.9L400.9 1100.6L406.7 1098.2L409.6 1097.0L412.5 1095.8L415.4 1094.6L418.3 1093.3L421.2 1092.2L424.1 1089.9L427.0 1087.8L429.9 1085.9M140.3 1077.1L143.2 1075.2L146.1 1073.2L149.0 1071.1L151.9 1069.9L154.8 1068.6L157.7 1067.4L160.6 1066.1L163.5 1064.9L169.3 1062.5L175.1 1060.3L180.8 1058.1L186.6 1056.0L192.4 1054.2L198.2 1052.6L204.0 1051.3L209.8 1050.4L215.6 1049.7L221.4 1049.2L227.2 1049.2L233.0 1049.6L238.8 1050.7L244.6 1052.2L250.3 1054.2L252.3 1054.9L254.2 1055.6L256.1 1056.4L258.1 1057.2L260.0 1058.1L261.9 1059.0L263.9 1059.9L265.8 1060.9L267.7 1061.8L269.7 1062.6L271.6 1063.3L273.5 1064.1L275.4 1064.8L277.4 1065.4L279.3 1065.9L281.2 1066.1L283.2 1066.2L285.1 1066.4L287.0 1066.2L289.0 1066.1L290.9 1065.9L292.8 1065.4L294.8 1064.8L296.7 1064.1L298.6 1063.3L300.5 1062.6L302.5 1061.8L304.4 1060.9L306.3 1059.9L308.3 1059.0L310.2 1058.1L312.1 1057.2L314.1 1056.4L316.0 1055.6L317.9 1054.9L319.9 1054.2L325.6 1052.2L331.4 1050.7L337.2 1049.6L343.0 1049.2L348.8 1049.2L354.6 1049.7L360.4 1050.4L366.2 1051.3L372.0 1052.6L377.8 1054.2L383.6 1056.0L389.4 1058.1L395.1 1060.3L400.9 1062.5L406.7 1064.9L409.6 1066.1L412.5 1067.4L415.4 1068.6L418.3 1069.9L421.2 1071.1L424.1 1073.2L427.0 1075.2L429.9 1077.1M140.3 1087.2L143.2 1089.1L146.1 1091.1L149.0 1093.2L151.9 1094.4L154.8 1095.7L157.7 1096.9L160.6 1098.2L163.5 1099.4L169.3 1101.8L175.1 1104.0L180.8 1106.2L186.6 1108.3L192.4 1110.1L198.2 1111.7L204.0 1113.0L209.8 1113.9L215.6 1114.6L221.4 1115.1L227.2 1115.1L233.0 1114.7L238.8 1113.6L244.6 1112.1L250.3 1110.1L252.3 1109.4L254.2 1108.7L256.1 1107.9L258.1 1107.1L260.0 1106.2L261.9 1105.3L263.9 1104.4L265.8 1103.4L267.7 1102.5L269.7 1101.7L271.6 1101.0L273.5 1100.2L275.4 1099.5L277.4 1098.9L279.3 1098.4L281.2 1098.2L283.2 1098.1L285.1 1097.9L287.0 1098.1L289.0 1098.2L290.9 1098.4L292.8 1098.9L294.8 1099.5L296.7 1100.2L298.6 1101.0L300.5 1101.7L302.5 1102.5L304.4 1103.4L306.3 1104.4L308.3 1105.3L310.2 1106.2L312.1 1107.1L314.1 1107.9L316.0 1108.7L317.9 1109.4L319.9 1110.1L325.6 1112.1L331.4 1113.6L337.2 1114.7L343.0 1115.1L348.8 1115.1L354.6 1114.6L360.4 1113.9L366.2 1113.0L372.0 1111.7L377.8 1110.1L383.6 1108.3L389.4 1106.2L395.1 1104.0L400.9 1101.8L406.7 1099.4L409.6 1098.2L412.5 1096.9L415.4 1095.7L418.3 1094.4L421.2 1093.2L424.1 1091.1L427.0 1089.1L429.9 1087.2M140.3 1075.6L143.2 1073.8L146.1 1071.9L149.0 1069.8L151.9 1068.6L154.8 1067.3L157.7 1066.0L160.6 1064.8L163.5 1063.6L169.3 1061.2L175.1 1059.0L180.8 1056.8L186.6 1054.7L192.4 1052.9L198.2 1051.3L204.0 1050.0L209.8 1049.0L215.6 1048.3L221.4 1047.8L227.2 1047.7L233.0 1048.1L238.8 1049.0L244.6 1050.4L250.3 1052.3L252.3 1052.9L254.2 1053.6L256.1 1054.2L258.1 1054.9L260.0 1055.7L261.9 1056.4L263.9 1057.2L265.8 1057.9L267.7 1058.6L269.7 1059.0L271.6 1059.5L273.5 1059.9L275.4 1060.3L277.4 1060.5L279.3 1060.7L281.2 1060.8L283.2 1060.8L285.1 1060.9L287.0 1060.8L289.0 1060.8L290.9 1060.7L292.8 1060.5L294.8 1060.3L296.7 1059.9L298.6 1059.5L300.5 1059.0L302.5 1058.6L304.4 1057.9L306.3 1057.2L308.3 1056.4L310.2 1055.7L312.1 1054.9L314.1 1054.2L316.0 1053.6L317.9 1052.9L319.9 1052.3L325.6 1050.4L331.4 1049.0L337.2 1048.1L343.0 1047.7L348.8 1047.8L354.6 1048.3L360.4 1049.0L366.2 1050.0L372.0 1051.3L377.8 1052.9L383.6 1054.7L389.4 1056.8L395.1 1059.0L400.9 1061.2L406.7 1063.6L409.6 1064.8L412.5 1066.0L415.4 1067.3L418.3 1068.6L421.2 1069.8L424.1 1071.9L427.0 1073.8L429.9 1075.6M140.3 1088.7L143.2 1090.5L146.1 1092.4L149.0 1094.5L151.9 1095.7L154.8 1097.0L157.7 1098.3L160.6 1099.5L163.5 1100.7L169.3 1103.1L175.1 1105.3L180.8 1107.5L186.6 1109.6L192.4 1111.4L198.2 1113.0L204.0 1114.3L209.8 1115.3L215.6 1116.0L221.4 1116.5L227.2 1116.6L233.0 1116.2L238.8 1115.3L244.6 1113.9L250.3 1112.0L252.3 1111.4L254.2 1110.7L256.1 1110.1L258.1 1109.4L260.0 1108.6L261.9 1107.9L263.9 1107.1L265.8 1106.4L267.7 1105.7L269.7 1105.3L271.6 1104.8L273.5 1104.4L275.4 1104.0L277.4 1103.8L279.3 1103.6L281.2 1103.5L283.2 1103.5L285.1 1103.4L287.0 1103.5L289.0 1103.5L290.9 1103.6L292.8 1103.8L294.8 1104.0L296.7 1104.4L298.6 1104.8L300.5 1105.3L302.5 1105.7L304.4 1106.4L306.3 1107.1L308.3 1107.9L310.2 1108.6L312.1 1109.4L314.1 1110.1L316.0 1110.7L317.9 1111.4L319.9 1112.0L325.6 1113.9L331.4 1115.3L337.2 1116.2L343.0 1116.6L348.8 1116.5L354.6 1116.0L360.4 1115.3L366.2 1114.3L372.0 1113.0L377.8 1111.4L383.6 1109.6L389.4 1107.5L395.1 1105.3L400.9 1103.1L406.7 1100.7L409.6 1099.5L412.5 1098.3L415.4 1097.0L418.3 1095.7L421.2 1094.5L424.1 1092.4L427.0 1090.5L429.9 1088.7M140.3 1074.0L143.2 1072.3L146.1 1070.5L149.0 1068.5L151.9 1067.3L154.8 1066.0L157.7 1064.7L160.6 1063.4L163.5 1062.2L169.3 1059.8L175.1 1057.6L180.8 1055.5L186.6 1053.4L192.4 1051.6L198.2 1050.0L204.0 1048.6L209.8 1047.7L215.6 1046.9L221.4 1046.3L227.2 1046.2L233.0 1046.5L238.8 1047.4L244.6 1048.7L250.3 1050.4L252.3 1051.1L254.2 1051.7L256.1 1052.4L258.1 1053.1L260.0 1053.9L261.9 1054.7L263.9 1055.5L265.8 1056.3L267.7 1057.1L269.7 1057.8L271.6 1058.4L273.5 1059.1L275.4 1059.6L277.4 1060.1L279.3 1060.5L281.2 1060.7L283.2 1060.8L285.1 1060.9L287.0 1060.8L289.0 1060.7L290.9 1060.5L292.8 1060.1L294.8 1059.6L296.7 1059.1L298.6 1058.4L300.5 1057.8L302.5 1057.1L304.4 1056.3L306.3 1055.5L308.3 1054.7L310.2 1053.9L312.1 1053.1L314.1 1052.4L316.0 1051.7L317.9 1051.1L319.9 1050.4L325.6 1048.7L331.4 1047.4L337.2 1046.5L343.0 1046.2L348.8 1046.3L354.6 1046.9L360.4 1047.7L366.2 1048.6L372.0 1050.0L377.8 1051.6L383.6 1053.4L389.4 1055.5L395.1 1057.6L400.9 1059.8L406.7 1062.2L409.6 1063.4L412.5 1064.7L415.4 1066.0L418.3 1067.3L421.2 1068.5L424.1 1070.5L427.0 1072.3L429.9 1074.0M140.3 1090.3L143.2 1092.0L146.1 1093.8L149.0 1095.8L151.9 1097.0L154.8 1098.3L157.7 1099.6L160.6 1100.9L163.5 1102.1L169.3 1104.5L175.1 1106.7L180.8 1108.8L186.6 1110.9L192.4 1112.7L198.2 1114.3L204.0 1115.7L209.8 1116.6L215.6 1117.4L221.4 1118.0L227.2 1118.1L233.0 1117.8L238.8 1116.9L244.6 1115.6L250.3 1113.9L252.3 1113.2L254.2 1112.6L256.1 1111.9L258.1 1111.2L260.0 1110.4L261.9 1109.6L263.9 1108.8L265.8 1108.0L267.7 1107.2L269.7 1106.5L271.6 1105.9L273.5 1105.2L275.4 1104.7L277.4 1104.2L279.3 1103.8L281.2 1103.6L283.2 1103.5L285.1 1103.4L287.0 1103.5L289.0 1103.6L290.9 1103.8L292.8 1104.2L294.8 1104.7L296.7 1105.2L298.6 1105.9L300.5 1106.5L302.5 1107.2L304.4 1108.0L306.3 1108.8L308.3 1109.6L310.2 1110.4L312.1 1111.2L314.1 1111.9L316.0 1112.6L317.9 1113.2L319.9 1113.9L325.6 1115.6L331.4 1116.9L337.2 1117.8L343.0 1118.1L348.8 1118.0L354.6 1117.4L360.4 1116.6L366.2 1115.7L372.0 1114.3L377.8 1112.7L383.6 1110.9L389.4 1108.8L395.1 1106.7L400.9 1104.5L406.7 1102.1L409.6 1100.9L412.5 1099.6L415.4 1098.3L418.3 1097.0L421.2 1095.8L424.1 1093.8L427.0 1092.0L429.9 1090.3M140.3 1072.2L143.2 1070.7L146.1 1069.0L149.0 1067.0L151.9 1065.8L154.8 1064.5L157.7 1063.2L160.6 1061.9L163.5 1060.7L169.3 1058.3L175.1 1056.1L180.8 1054.0L186.6 1051.9L192.4 1050.1L198.2 1048.5L204.0 1047.1L209.8 1046.1L215.6 1045.3L221.4 1044.8L227.2 1044.6L233.0 1044.8L238.8 1045.6L244.6 1046.8L250.3 1048.5L252.3 1049.0L254.2 1049.6L256.1 1050.2L258.1 1050.8L260.0 1051.5L261.9 1052.1L263.9 1052.8L265.8 1053.4L267.7 1054.0L269.7 1054.4L271.6 1054.8L273.5 1055.1L275.4 1055.4L277.4 1055.6L279.3 1055.8L281.2 1055.8L283.2 1055.8L285.1 1055.8L287.0 1055.8L289.0 1055.8L290.9 1055.8L292.8 1055.6L294.8 1055.4L296.7 1055.1L298.6 1054.8L300.5 1054.4L302.5 1054.0L304.4 1053.4L306.3 1052.8L308.3 1052.1L310.2 1051.5L312.1 1050.8L314.1 1050.2L316.0 1049.6L317.9 1049.0L319.9 1048.5L325.6 1046.8L331.4 1045.6L337.2 1044.8L343.0 1044.6L348.8 1044.8L354.6 1045.3L360.4 1046.1L366.2 1047.1L372.0 1048.5L377.8 1050.1L383.6 1051.9L389.4 1054.0L395.1 1056.1L400.9 1058.3L406.7 1060.7L409.6 1061.9L412.5 1063.2L415.4 1064.5L418.3 1065.8L421.2 1067.0L424.1 1069.0L427.0 1070.7L429.9 1072.2M140.3 1092.1L143.2 1093.6L146.1 1095.3L149.0 1097.3L151.9 1098.5L154.8 1099.8L157.7 1101.1L160.6 1102.4L163.5 1103.6L169.3 1106.0L175.1 1108.2L180.8 1110.3L186.6 1112.4L192.4 1114.2L198.2 1115.8L204.0 1117.2L209.8 1118.2L215.6 1119.0L221.4 1119.5L227.2 1119.7L233.0 1119.5L238.8 1118.7L244.6 1117.5L250.3 1115.8L252.3 1115.3L254.2 1114.7L256.1 1114.1L258.1 1113.5L260.0 1112.8L261.9 1112.2L263.9 1111.5L265.8 1110.9L267.7 1110.3L269.7 1109.9L271.6 1109.5L273.5 1109.2L275.4 1108.9L277.4 1108.7L279.3 1108.5L281.2 1108.5L283.2 1108.5L285.1 1108.5L287.0 1108.5L289.0 1108.5L290.9 1108.5L292.8 1108.7L294.8 1108.9L296.7 1109.2L298.6 1109.5L300.5 1109.9L302.5 1110.3L304.4 1110.9L306.3 1111.5L308.3 1112.2L310.2 1112.8L312.1 1113.5L314.1 1114.1L316.0 1114.7L317.9 1115.3L319.9 1115.8L325.6 1117.5L331.4 1118.7L337.2 1119.5L343.0 1119.7L348.8 1119.5L354.6 1119.0L360.4 1118.2L366.2 1117.2L372.0 1115.8L377.8 1114.2L383.6 1112.4L389.4 1110.3L395.1 1108.2L400.9 1106.0L406.7 1103.6L409.6 1102.4L412.5 1101.1L415.4 1099.8L418.3 1098.5L421.2 1097.3L424.1 1095.3L427.0 1093.6L429.9 1092.1M140.3 1070.5L143.2 1069.1L146.1 1067.5L149.0 1065.7L151.9 1064.4L154.8 1063.1L157.7 1061.7L160.6 1060.4L163.5 1059.2L169.3 1056.9L175.1 1054.7L180.8 1052.6L186.6 1050.5L192.4 1048.7L198.2 1047.1L204.0 1045.7L209.8 1044.7L215.6 1043.9L221.4 1043.3L227.2 1043.0L233.0 1043.2L238.8 1044.0L244.6 1045.1L250.3 1046.7L252.3 1047.2L254.2 1047.8L256.1 1048.4L258.1 1049.1L260.0 1049.8L261.9 1050.5L263.9 1051.2L265.8 1051.9L267.7 1052.7L269.7 1053.2L271.6 1053.8L273.5 1054.4L275.4 1054.8L277.4 1055.2L279.3 1055.5L281.2 1055.7L283.2 1055.8L285.1 1055.8L287.0 1055.8L289.0 1055.7L290.9 1055.5L292.8 1055.2L294.8 1054.8L296.7 1054.4L298.6 1053.8L300.5 1053.2L302.5 1052.7L304.4 1051.9L306.3 1051.2L308.3 1050.5L310.2 1049.8L312.1 1049.1L314.1 1048.4L316.0 1047.8L317.9 1047.2L319.9 1046.7L325.6 1045.1L331.4 1044.0L337.2 1043.2L343.0 1043.0L348.8 1043.3L354.6 1043.9L360.4 1044.7L366.2 1045.7L372.0 1047.1L377.8 1048.7L383.6 1050.5L389.4 1052.6L395.1 1054.7L400.9 1056.9L406.7 1059.2L409.6 1060.4L412.5 1061.7L415.4 1063.1L418.3 1064.4L421.2 1065.7L424.1 1067.5L427.0 1069.1L429.9 1070.5M140.3 1093.8L143.2 1095.2L146.1 1096.8L149.0 1098.6L151.9 1099.9L154.8 1101.2L157.7 1102.6L160.6 1103.9L163.5 1105.1L169.3 1107.4L175.1 1109.6L180.8 1111.7L186.6 1113.8L192.4 1115.6L198.2 1117.2L204.0 1118.6L209.8 1119.6L215.6 1120.4L221.4 1121.0L227.2 1121.3L233.0 1121.1L238.8 1120.3L244.6 1119.2L250.3 1117.6L252.3 1117.1L254.2 1116.5L256.1 1115.9L258.1 1115.2L260.0 1114.5L261.9 1113.8L263.9 1113.1L265.8 1112.4L267.7 1111.6L269.7 1111.1L271.6 1110.5L273.5 1109.9L275.4 1109.5L277.4 1109.1L279.3 1108.8L281.2 1108.6L283.2 1108.5L285.1 1108.5L287.0 1108.5L289.0 1108.6L290.9 1108.8L292.8 1109.1L294.8 1109.5L296.7 1109.9L298.6 1110.5L300.5 1111.1L302.5 1111.6L304.4 1112.4L306.3 1113.1L308.3 1113.8L310.2 1114.5L312.1 1115.2L314.1 1115.9L316.0 1116.5L317.9 1117.1L319.9 1117.6L325.6 1119.2L331.4 1120.3L337.2 1121.1L343.0 1121.3L348.8 1121.0L354.6 1120.4L360.4 1119.6L366.2 1118.6L372.0 1117.2L377.8 1115.6L383.6 1113.8L389.4 1111.7L395.1 1109.6L400.9 1107.4L406.7 1105.1L409.6 1103.9L412.5 1102.6L415.4 1101.2L418.3 1099.9L421.2 1098.6L424.1 1096.8L427.0 1095.2L429.9 1093.8M140.3 1068.7L143.2 1067.4L146.1 1065.9L149.0 1064.2L151.9 1062.9L154.8 1061.6L157.7 1060.2L160.6 1058.9L163.5 1057.6L169.3 1055.3L175.1 1053.2L180.8 1051.1L186.6 1049.0L192.4 1047.2L198.2 1045.6L204.0 1044.2L209.8 1043.2L215.6 1042.3L221.4 1041.7L227.2 1041.4L233.0 1041.6L238.8 1042.3L244.6 1043.3L250.3 1044.8L252.3 1045.3L254.2 1045.8L256.1 1046.4L258.1 1047.0L260.0 1047.6L261.9 1048.1L263.9 1048.7L265.8 1049.3L267.7 1049.8L269.7 1050.2L271.6 1050.5L273.5 1050.8L275.4 1051.0L277.4 1051.2L279.3 1051.4L281.2 1051.4L283.2 1051.4L285.1 1051.4L287.0 1051.4L289.0 1051.4L290.9 1051.4L292.8 1051.2L294.8 1051.0L296.7 1050.8L298.6 1050.5L300.5 1050.2L302.5 1049.8L304.4 1049.3L306.3 1048.7L308.3 1048.1L310.2 1047.6L312.1 1047.0L314.1 1046.4L316.0 1045.8L317.9 1045.3L319.9 1044.8L325.6 1043.3L331.4 1042.3L337.2 1041.6L343.0 1041.4L348.8 1041.7L354.6 1042.3L360.4 1043.2L366.2 1044.2L372.0 1045.6L377.8 1047.2L383.6 1049.0L389.4 1051.1L395.1 1053.2L400.9 1055.3L406.7 1057.6L409.6 1058.9L412.5 1060.2L415.4 1061.6L418.3 1062.9L421.2 1064.2L424.1 1065.9L427.0 1067.4L429.9 1068.7M140.3 1095.6L143.2 1096.9L146.1 1098.4L149.0 1100.1L151.9 1101.4L154.8 1102.7L157.7 1104.1L160.6 1105.4L163.5 1106.7L169.3 1109.0L175.1 1111.1L180.8 1113.2L186.6 1115.3L192.4 1117.1L198.2 1118.7L204.0 1120.1L209.8 1121.1L215.6 1122.0L221.4 1122.6L227.2 1122.9L233.0 1122.7L238.8 1122.0L244.6 1121.0L250.3 1119.5L252.3 1119.0L254.2 1118.5L256.1 1117.9L258.1 1117.3L260.0 1116.7L261.9 1116.2L263.9 1115.6L265.8 1115.0L267.7 1114.5L269.7 1114.1L271.6 1113.8L273.5 1113.5L275.4 1113.3L277.4 1113.1L279.3 1112.9L281.2 1112.9L283.2 1112.9L285.1 1112.9L287.0 1112.9L289.0 1112.9L290.9 1112.9L292.8 1113.1L294.8 1113.3L296.7 1113.5L298.6 1113.8L300.5 1114.1L302.5 1114.5L304.4 1115.0L306.3 1115.6L308.3 1116.2L310.2 1116.7L312.1 1117.3L314.1 1117.9L316.0 1118.5L317.9 1119.0L319.9 1119.5L325.6 1121.0L331.4 1122.0L337.2 1122.7L343.0 1122.9L348.8 1122.6L354.6 1122.0L360.4 1121.1L366.2 1120.1L372.0 1118.7L377.8 1117.1L383.6 1115.3L389.4 1113.2L395.1 1111.1L400.9 1109.0L406.7 1106.7L409.6 1105.4L412.5 1104.1L415.4 1102.7L418.3 1101.4L421.2 1100.1L424.1 1098.4L427.0 1096.9L429.9 1095.6M140.3 1067.2L143.2 1066.0L146.1 1064.6L149.0 1062.9L151.9 1061.6L154.8 1060.3L157.7 1058.9L160.6 1057.5L163.5 1056.3L169.3 1054.0L175.1 1051.9L180.8 1049.8L186.6 1047.8L192.4 1046.0L198.2 1044.4L204.0 1043.0L209.8 1041.9L215.6 1041.0L221.4 1040.4L227.2 1040.1L233.0 1040.2L238.8 1040.9L244.6 1041.9L250.3 1043.3L252.3 1043.8L254.2 1044.4L256.1 1044.9L258.1 1045.5L260.0 1046.2L261.9 1046.8L263.9 1047.4L265.8 1048.1L267.7 1048.7L269.7 1049.2L271.6 1049.7L273.5 1050.2L275.4 1050.6L277.4 1050.9L279.3 1051.2L281.2 1051.3L283.2 1051.4L285.1 1051.4L287.0 1051.4L289.0 1051.3L290.9 1051.2L292.8 1050.9L294.8 1050.6L296.7 1050.2L298.6 1049.7L300.5 1049.2L302.5 1048.7L304.4 1048.1L306.3 1047.4L308.3 1046.8L310.2 1046.2L312.1 1045.5L314.1 1044.9L316.0 1044.4L317.9 1043.8L319.9 1043.3L325.6 1041.9L331.4 1040.9L337.2 1040.2L343.0 1040.1L348.8 1040.4L354.6 1041.0L360.4 1041.9L366.2 1043.0L372.0 1044.4L377.8 1046.0L383.6 1047.8L389.4 1049.8L395.1 1051.9L400.9 1054.0L406.7 1056.3L409.6 1057.5L412.5 1058.9L415.4 1060.3L418.3 1061.6L421.2 1062.9L424.1 1064.6L427.0 1066.0L429.9 1067.2M140.3 1097.1L143.2 1098.3L146.1 1099.7L149.0 1101.4L151.9 1102.7L154.8 1104.0L157.7 1105.4L160.6 1106.8L163.5 1108.0L169.3 1110.3L175.1 1112.4L180.8 1114.5L186.6 1116.5L192.4 1118.3L198.2 1119.9L204.0 1121.3L209.8 1122.4L215.6 1123.3L221.4 1123.9L227.2 1124.2L233.0 1124.1L238.8 1123.4L244.6 1122.4L250.3 1121.0L252.3 1120.5L254.2 1119.9L256.1 1119.4L258.1 1118.8L260.0 1118.1L261.9 1117.5L263.9 1116.9L265.8 1116.2L267.7 1115.6L269.7 1115.1L271.6 1114.6L273.5 1114.1L275.4 1113.7L277.4 1113.4L279.3 1113.1L281.2 1113.0L283.2 1112.9L285.1 1112.9L287.0 1112.9L289.0 1113.0L290.9 1113.1L292.8 1113.4L294.8 1113.7L296.7 1114.1L298.6 1114.6L300.5 1115.1L302.5 1115.6L304.4 1116.2L306.3 1116.9L308.3 1117.5L310.2 1118.1L312.1 1118.8L314.1 1119.4L316.0 1119.9L317.9 1120.5L319.9 1121.0L325.6 1122.4L331.4 1123.4L337.2 1124.1L343.0 1124.2L348.8 1123.9L354.6 1123.3L360.4 1122.4L366.2 1121.3L372.0 1119.9L377.8 1118.3L383.6 1116.5L389.4 1114.5L395.1 1112.4L400.9 1110.3L406.7 1108.0L409.6 1106.8L412.5 1105.4L415.4 1104.0L418.3 1102.7L421.2 1101.4L424.1 1099.7L427.0 1098.3L429.9 1097.1M140.3 1065.6L143.2 1064.5L146.1 1063.2L149.0 1061.6L151.9 1060.3L154.8 1058.9L157.7 1057.5L160.6 1056.2L163.5 1054.9L169.3 1052.6L175.1 1050.6L180.8 1048.5L186.6 1046.5L192.4 1044.6L198.2 1043.0L204.0 1041.7L209.8 1040.6L215.6 1039.7L221.4 1039.0L227.2 1038.7L233.0 1038.8L238.8 1039.4L244.6 1040.4L250.3 1041.7L252.3 1042.2L254.2 1042.7L256.1 1043.3L258.1 1043.8L260.0 1044.3L261.9 1044.9L263.9 1045.4L265.8 1045.9L267.7 1046.4L269.7 1046.8L271.6 1047.1L273.5 1047.4L275.4 1047.6L277.4 1047.7L279.3 1047.9L281.2 1047.9L283.2 1047.9L285.1 1047.9L287.0 1047.9L289.0 1047.9L290.9 1047.9L292.8 1047.7L294.8 1047.6L296.7 1047.4L298.6 1047.1L300.5 1046.8L302.5 1046.4L304.4 1045.9L306.3 1045.4L308.3 1044.9L310.2 1044.3L312.1 1043.8L314.1 1043.3L316.0 1042.7L317.9 1042.2L319.9 1041.7L325.6 1040.4L331.4 1039.4L337.2 1038.8L343.0 1038.7L348.8 1039.0L354.6 1039.7L360.4 1040.6L366.2 1041.7L372.0 1043.0L377.8 1044.6L383.6 1046.5L389.4 1048.5L395.1 1050.6L400.9 1052.6L406.7 1054.9L409.6 1056.2L412.5 1057.5L415.4 1058.9L418.3 1060.3L421.2 1061.6L424.1 1063.2L427.0 1064.5L429.9 1065.6M140.3 1098.7L143.2 1099.8L146.1 1101.1L149.0 1102.7L151.9 1104.0L154.8 1105.4L157.7 1106.8L160.6 1108.1L163.5 1109.4L169.3 1111.7L175.1 1113.7L180.8 1115.8L186.6 1117.8L192.4 1119.7L198.2 1121.3L204.0 1122.6L209.8 1123.7L215.6 1124.6L221.4 1125.3L227.2 1125.6L233.0 1125.5L238.8 1124.9L244.6 1123.9L250.3 1122.6L252.3 1122.1L254.2 1121.6L256.1 1121.0L258.1 1120.5L260.0 1120.0L261.9 1119.4L263.9 1118.9L265.8 1118.4L267.7 1117.9L269.7 1117.5L271.6 1117.2L273.5 1116.9L275.4 1116.7L277.4 1116.6L279.3 1116.4L281.2 1116.4L283.2 1116.4L285.1 1116.4L287.0 1116.4L289.0 1116.4L290.9 1116.4L292.8 1116.6L294.8 1116.7L296.7 1116.9L298.6 1117.2L300.5 1117.5L302.5 1117.9L304.4 1118.4L306.3 1118.9L308.3 1119.4L310.2 1120.0L312.1 1120.5L314.1 1121.0L316.0 1121.6L317.9 1122.1L319.9 1122.6L325.6 1123.9L331.4 1124.9L337.2 1125.5L343.0 1125.6L348.8 1125.3L354.6 1124.6L360.4 1123.7L366.2 1122.6L372.0 1121.3L377.8 1119.7L383.6 1117.8L389.4 1115.8L395.1 1113.7L400.9 1111.7L406.7 1109.4L409.6 1108.1L412.5 1106.8L415.4 1105.4L418.3 1104.0L421.2 1102.7L424.1 1101.1L427.0 1099.8L429.9 1098.7M140.3 1064.3L143.2 1063.4L146.1 1062.1L149.0 1060.6L151.9 1059.3L154.8 1057.9L157.7 1056.4L160.6 1055.1L163.5 1053.8L169.3 1051.6L175.1 1049.5L180.8 1047.5L186.6 1045.4L192.4 1043.6L198.2 1042.0L204.0 1040.7L209.8 1039.6L215.6 1038.6L221.4 1038.0L227.2 1037.6L233.0 1037.7L238.8 1038.3L244.6 1039.2L250.3 1040.6L252.3 1041.0L254.2 1041.6L256.1 1042.1L258.1 1042.7L260.0 1043.2L261.9 1043.8L263.9 1044.4L265.8 1045.0L267.7 1045.6L269.7 1046.0L271.6 1046.5L273.5 1046.9L275.4 1047.2L277.4 1047.5L279.3 1047.7L281.2 1047.8L283.2 1047.9L285.1 1047.9L287.0 1047.9L289.0 1047.8L290.9 1047.7L292.8 1047.5L294.8 1047.2L296.7 1046.9L298.6 1046.5L300.5 1046.0L302.5 1045.6L304.4 1045.0L306.3 1044.4L308.3 1043.8L310.2 1043.2L312.1 1042.7L314.1 1042.1L316.0 1041.6L317.9 1041.0L319.9 1040.6L325.6 1039.2L331.4 1038.3L337.2 1037.7L343.0 1037.6L348.8 1038.0L354.6 1038.6L360.4 1039.6L366.2 1040.7L372.0 1042.0L377.8 1043.6L383.6 1045.4L389.4 1047.5L395.1 1049.5L400.9 1051.6L406.7 1053.8L409.6 1055.1L412.5 1056.4L415.4 1057.9L418.3 1059.3L421.2 1060.6L424.1 1062.1L427.0 1063.4L429.9 1064.3M140.3 1100.0L143.2 1100.9L146.1 1102.2L149.0 1103.7L151.9 1105.0L154.8 1106.4L157.7 1107.9L160.6 1109.2L163.5 1110.5L169.3 1112.7L175.1 1114.8L180.8 1116.8L186.6 1118.9L192.4 1120.7L198.2 1122.3L204.0 1123.6L209.8 1124.7L215.6 1125.7L221.4 1126.3L227.2 1126.7L233.0 1126.6L238.8 1126.0L244.6 1125.1L250.3 1123.7L252.3 1123.3L254.2 1122.7L256.1 1122.2L258.1 1121.6L260.0 1121.1L261.9 1120.5L263.9 1119.9L265.8 1119.3L267.7 1118.7L269.7 1118.3L271.6 1117.8L273.5 1117.4L275.4 1117.1L277.4 1116.8L279.3 1116.6L281.2 1116.5L283.2 1116.4L285.1 1116.4L287.0 1116.4L289.0 1116.5L290.9 1116.6L292.8 1116.8L294.8 1117.1L296.7 1117.4L298.6 1117.8L300.5 1118.3L302.5 1118.7L304.4 1119.3L306.3 1119.9L308.3 1120.5L310.2 1121.1L312.1 1121.6L314.1 1122.2L316.0 1122.7L317.9 1123.3L319.9 1123.7L325.6 1125.1L331.4 1126.0L337.2 1126.6L343.0 1126.7L348.8 1126.3L354.6 1125.7L360.4 1124.7L366.2 1123.6L372.0 1122.3L377.8 1120.7L383.6 1118.9L389.4 1116.8L395.1 1114.8L400.9 1112.7L406.7 1110.5L409.6 1109.2L412.5 1107.9L415.4 1106.4L418.3 1105.0L421.2 1103.7L424.1 1102.2L427.0 1100.9L429.9 1100.0M140.3 1063.0L143.2 1062.1L146.1 1060.9L149.0 1059.5L151.9 1058.2L154.8 1056.8L157.7 1055.3L160.6 1053.9L163.5 1052.7L169.3 1050.4L175.1 1048.4L180.8 1046.4L186.6 1044.4L192.4 1042.5L198.2 1041.0L204.0 1039.6L209.8 1038.5L215.6 1037.6L221.4 1036.9L227.2 1036.5L233.0 1036.6L238.8 1037.1L244.6 1038.0L250.3 1039.3L252.3 1039.8L254.2 1040.3L256.1 1040.8L258.1 1041.3L260.0 1041.8L261.9 1042.4L263.9 1042.9L265.8 1043.3L267.7 1043.8L269.7 1044.1L271.6 1044.5L273.5 1044.7L275.4 1044.9L277.4 1045.1L279.3 1045.2L281.2 1045.2L283.2 1045.2L285.1 1045.2L287.0 1045.2L289.0 1045.2L290.9 1045.2L292.8 1045.1L294.8 1044.9L296.7 1044.7L298.6 1044.5L300.5 1044.1L302.5 1043.8L304.4 1043.3L306.3 1042.9L308.3 1042.4L310.2 1041.8L312.1 1041.3L314.1 1040.8L316.0 1040.3L317.9 1039.8L319.9 1039.3L325.6 1038.0L331.4 1037.1L337.2 1036.6L343.0 1036.5L348.8 1036.9L354.6 1037.6L360.4 1038.5L366.2 1039.6L372.0 1041.0L377.8 1042.5L383.6 1044.4L389.4 1046.4L395.1 1048.4L400.9 1050.4L406.7 1052.7L409.6 1053.9L412.5 1055.3L415.4 1056.8L418.3 1058.2L421.2 1059.5L424.1 1060.9L427.0 1062.1L429.9 1063.0M140.3 1101.3L143.2 1102.2L146.1 1103.4L149.0 1104.8L151.9 1106.1L154.8 1107.5L157.7 1109.0L160.6 1110.4L163.5 1111.6L169.3 1113.9L175.1 1115.9L180.8 1117.9L186.6 1119.9L192.4 1121.8L198.2 1123.3L204.0 1124.7L209.8 1125.8L215.6 1126.7L221.4 1127.4L227.2 1127.8L233.0 1127.7L238.8 1127.2L244.6 1126.3L250.3 1125.0L252.3 1124.5L254.2 1124.0L256.1 1123.5L258.1 1123.0L260.0 1122.5L261.9 1121.9L263.9 1121.4L265.8 1121.0L267.7 1120.5L269.7 1120.2L271.6 1119.8L273.5 1119.6L275.4 1119.4L277.4 1119.2L279.3 1119.1L281.2 1119.1L283.2 1119.1L285.1 1119.1L287.0 1119.1L289.0 1119.1L290.9 1119.1L292.8 1119.2L294.8 1119.4L296.7 1119.6L298.6 1119.8L300.5 1120.2L302.5 1120.5L304.4 1121.0L306.3 1121.4L308.3 1121.9L310.2 1122.5L312.1 1123.0L314.1 1123.5L316.0 1124.0L317.9 1124.5L319.9 1125.0L325.6 1126.3L331.4 1127.2L337.2 1127.7L343.0 1127.8L348.8 1127.4L354.6 1126.7L360.4 1125.8L366.2 1124.7L372.0 1123.3L377.8 1121.8L383.6 1119.9L389.4 1117.9L395.1 1115.9L400.9 1113.9L406.7 1111.6L409.6 1110.4L412.5 1109.0L415.4 1107.5L418.3 1106.1L421.2 1104.8L424.1 1103.4L427.0 1102.2L429.9 1101.3M140.3 1062.0L143.2 1061.3L146.1 1060.1L149.0 1058.7L151.9 1057.4L154.8 1056.0L157.7 1054.5L160.6 1053.1L163.5 1051.9L169.3 1049.6L175.1 1047.6L180.8 1045.6L186.6 1043.6L192.4 1041.8L198.2 1040.2L204.0 1038.8L209.8 1037.7L215.6 1036.8L221.4 1036.1L227.2 1035.8L233.0 1035.8L238.8 1036.3L244.6 1037.2L250.3 1038.5L252.3 1039.0L254.2 1039.5L256.1 1040.0L258.1 1040.5L260.0 1041.1L261.9 1041.6L263.9 1042.2L265.8 1042.7L267.7 1043.2L269.7 1043.6L271.6 1044.0L273.5 1044.4L275.4 1044.7L277.4 1044.9L279.3 1045.1L281.2 1045.2L283.2 1045.2L285.1 1045.2L287.0 1045.2L289.0 1045.2L290.9 1045.1L292.8 1044.9L294.8 1044.7L296.7 1044.4L298.6 1044.0L300.5 1043.6L302.5 1043.2L304.4 1042.7L306.3 1042.2L308.3 1041.6L310.2 1041.1L312.1 1040.5L314.1 1040.0L316.0 1039.5L317.9 1039.0L319.9 1038.5L325.6 1037.2L331.4 1036.3L337.2 1035.8L343.0 1035.8L348.8 1036.1L354.6 1036.8L360.4 1037.7L366.2 1038.8L372.0 1040.2L377.8 1041.8L383.6 1043.6L389.4 1045.6L395.1 1047.6L400.9 1049.6L406.7 1051.9L409.6 1053.1L412.5 1054.5L415.4 1056.0L418.3 1057.4L421.2 1058.7L424.1 1060.1L427.0 1061.3L429.9 1062.0M140.3 1102.3L143.2 1103.0L146.1 1104.2L149.0 1105.6L151.9 1106.9L154.8 1108.3L157.7 1109.8L160.6 1111.2L163.5 1112.4L169.3 1114.7L175.1 1116.7L180.8 1118.7L186.6 1120.7L192.4 1122.5L198.2 1124.1L204.0 1125.5L209.8 1126.6L215.6 1127.5L221.4 1128.2L227.2 1128.5L233.0 1128.5L238.8 1128.0L244.6 1127.1L250.3 1125.8L252.3 1125.3L254.2 1124.8L256.1 1124.3L258.1 1123.8L260.0 1123.2L261.9 1122.7L263.9 1122.1L265.8 1121.6L267.7 1121.1L269.7 1120.7L271.6 1120.3L273.5 1119.9L275.4 1119.6L277.4 1119.4L279.3 1119.2L281.2 1119.1L283.2 1119.1L285.1 1119.1L287.0 1119.1L289.0 1119.1L290.9 1119.2L292.8 1119.4L294.8 1119.6L296.7 1119.9L298.6 1120.3L300.5 1120.7L302.5 1121.1L304.4 1121.6L306.3 1122.1L308.3 1122.7L310.2 1123.2L312.1 1123.8L314.1 1124.3L316.0 1124.8L317.9 1125.3L319.9 1125.8L325.6 1127.1L331.4 1128.0L337.2 1128.5L343.0 1128.5L348.8 1128.2L354.6 1127.5L360.4 1126.6L366.2 1125.5L372.0 1124.1L377.8 1122.5L383.6 1120.7L389.4 1118.7L395.1 1116.7L400.9 1114.7L406.7 1112.4L409.6 1111.2L412.5 1109.8L415.4 1108.3L418.3 1106.9L421.2 1105.6L424.1 1104.2L427.0 1103.0L429.9 1102.3M140.3 1061.1L143.2 1060.4L146.1 1059.3L149.0 1057.9L151.9 1056.6L154.8 1055.2L157.7 1053.7L160.6 1052.3L163.5 1051.0L169.3 1048.8L175.1 1046.8L180.8 1044.8L186.6 1042.8L192.4 1041.0L198.2 1039.4L204.0 1038.1L209.8 1036.9L215.6 1036.0L221.4 1035.3L227.2 1035.0L233.0 1035.0L238.8 1035.5L244.6 1036.4L250.3 1037.6L252.3 1038.1L254.2 1038.5L256.1 1039.0L258.1 1039.6L260.0 1040.1L261.9 1040.6L263.9 1041.1L265.8 1041.5L267.7 1042.0L269.7 1042.3L271.6 1042.6L273.5 1042.9L275.4 1043.1L277.4 1043.2L279.3 1043.3L281.2 1043.3L283.2 1043.3L285.1 1043.3L287.0 1043.3L289.0 1043.3L290.9 1043.3L292.8 1043.2L294.8 1043.1L296.7 1042.9L298.6 1042.6L300.5 1042.3L302.5 1042.0L304.4 1041.5L306.3 1041.1L308.3 1040.6L310.2 1040.1L312.1 1039.6L314.1 1039.0L316.0 1038.5L317.9 1038.1L319.9 1037.6L325.6 1036.4L331.4 1035.5L337.2 1035.0L343.0 1035.0L348.8 1035.3L354.6 1036.0L360.4 1036.9L366.2 1038.1L372.0 1039.4L377.8 1041.0L383.6 1042.8L389.4 1044.8L395.1 1046.8L400.9 1048.8L406.7 1051.0L409.6 1052.3L412.5 1053.7L415.4 1055.2L418.3 1056.6L421.2 1057.9L424.1 1059.3L427.0 1060.4L429.9 1061.1M140.3 1103.2L143.2 1103.9L146.1 1105.0L149.0 1106.4L151.9 1107.7L154.8 1109.1L157.7 1110.6L160.6 1112.0L163.5 1113.3L169.3 1115.5L175.1 1117.5L180.8 1119.5L186.6 1121.5L192.4 1123.3L198.2 1124.9L204.0 1126.2L209.8 1127.4L215.6 1128.3L221.4 1129.0L227.2 1129.3L233.0 1129.3L238.8 1128.8L244.6 1127.9L250.3 1126.7L252.3 1126.2L254.2 1125.8L256.1 1125.3L258.1 1124.7L260.0 1124.2L261.9 1123.7L263.9 1123.2L265.8 1122.8L267.7 1122.3L269.7 1122.0L271.6 1121.7L273.5 1121.4L275.4 1121.2L277.4 1121.1L279.3 1121.0L281.2 1121.0L283.2 1121.0L285.1 1121.0L287.0 1121.0L289.0 1121.0L290.9 1121.0L292.8 1121.1L294.8 1121.2L296.7 1121.4L298.6 1121.7L300.5 1122.0L302.5 1122.3L304.4 1122.8L306.3 1123.2L308.3 1123.7L310.2 1124.2L312.1 1124.7L314.1 1125.3L316.0 1125.8L317.9 1126.2L319.9 1126.7L325.6 1127.9L331.4 1128.8L337.2 1129.3L343.0 1129.3L348.8 1129.0L354.6 1128.3L360.4 1127.4L366.2 1126.2L372.0 1124.9L377.8 1123.3L383.6 1121.5L389.4 1119.5L395.1 1117.5L400.9 1115.5L406.7 1113.3L409.6 1112.0L412.5 1110.6L415.4 1109.1L418.3 1107.7L421.2 1106.4L424.1 1105.0L427.0 1103.9L429.9 1103.2M140.3 1060.5L143.2 1059.8L146.1 1058.8L149.0 1057.4L151.9 1056.1L154.8 1054.7L157.7 1053.2L160.6 1051.8L163.5 1050.5L169.3 1048.3L175.1 1046.3L180.8 1044.3L186.6 1042.3L192.4 1040.5L198.2 1038.9L204.0 1037.6L209.8 1036.5L215.6 1035.5L221.4 1034.8L227.2 1034.5L233.0 1034.5L238.8 1035.0L244.6 1035.8L250.3 1037.1L252.3 1037.5L254.2 1038.0L256.1 1038.5L258.1 1039.0L260.0 1039.6L261.9 1040.1L263.9 1040.6L265.8 1041.1L267.7 1041.6L269.7 1042.0L271.6 1042.4L273.5 1042.7L275.4 1042.9L277.4 1043.1L279.3 1043.2L281.2 1043.3L283.2 1043.3L285.1 1043.3L287.0 1043.3L289.0 1043.3L290.9 1043.2L292.8 1043.1L294.8 1042.9L296.7 1042.7L298.6 1042.4L300.5 1042.0L302.5 1041.6L304.4 1041.1L306.3 1040.6L308.3 1040.1L310.2 1039.6L312.1 1039.0L314.1 1038.5L316.0 1038.0L317.9 1037.5L319.9 1037.1L325.6 1035.8L331.4 1035.0L337.2 1034.5L343.0 1034.5L348.8 1034.8L354.6 1035.5L360.4 1036.5L366.2 1037.6L372.0 1038.9L377.8 1040.5L383.6 1042.3L389.4 1044.3L395.1 1046.3L400.9 1048.3L406.7 1050.5L409.6 1051.8L412.5 1053.2L415.4 1054.7L418.3 1056.1L421.2 1057.4L424.1 1058.8L427.0 1059.8L429.9 1060.5M140.3 1103.8L143.2 1104.5L146.1 1105.5L149.0 1106.9L151.9 1108.2L154.8 1109.6L157.7 1111.1L160.6 1112.5L163.5 1113.8L169.3 1116.0L175.1 1118.0L180.8 1120.0L186.6 1122.0L192.4 1123.8L198.2 1125.4L204.0 1126.7L209.8 1127.8L215.6 1128.8L221.4 1129.5L227.2 1129.8L233.0 1129.8L238.8 1129.3L244.6 1128.5L250.3 1127.2L252.3 1126.8L254.2 1126.3L256.1 1125.8L258.1 1125.3L260.0 1124.7L261.9 1124.2L263.9 1123.7L265.8 1123.2L267.7 1122.7L269.7 1122.3L271.6 1121.9L273.5 1121.6L275.4 1121.4L277.4 1121.2L279.3 1121.1L281.2 1121.0L283.2 1121.0L285.1 1121.0L287.0 1121.0L289.0 1121.0L290.9 1121.1L292.8 1121.2L294.8 1121.4L296.7 1121.6L298.6 1121.9L300.5 1122.3L302.5 1122.7L304.4 1123.2L306.3 1123.7L308.3 1124.2L310.2 1124.7L312.1 1125.3L314.1 1125.8L316.0 1126.3L317.9 1126.8L319.9 1127.2L325.6 1128.5L331.4 1129.3L337.2 1129.8L343.0 1129.8L348.8 1129.5L354.6 1128.8L360.4 1127.8L366.2 1126.7L372.0 1125.4L377.8 1123.8L383.6 1122.0L389.4 1120.0L395.1 1118.0L400.9 1116.0L406.7 1113.8L409.6 1112.5L412.5 1111.1L415.4 1109.6L418.3 1108.2L421.2 1106.9L424.1 1105.5L427.0 1104.5L429.9 1103.8M140.3 1059.8L143.2 1059.2L146.1 1058.2L149.0 1056.9L151.9 1055.6L154.8 1054.1L157.7 1052.7L160.6 1051.2L163.5 1050.0L169.3 1047.8L175.1 1045.8L180.8 1043.8L186.6 1041.8L192.4 1040.0L198.2 1038.4L204.0 1037.1L209.8 1036.0L215.6 1035.0L221.4 1034.3L227.2 1034.0L233.0 1034.0L238.8 1034.4L244.6 1035.3L250.3 1036.5L252.3 1037.0L254.2 1037.5L256.1 1037.9L258.1 1038.4L260.0 1039.0L261.9 1039.5L263.9 1039.9L265.8 1040.4L267.7 1040.8L269.7 1041.2L271.6 1041.5L273.5 1041.7L275.4 1041.9L277.4 1042.0L279.3 1042.1L281.2 1042.2L283.2 1042.2L285.1 1042.2L287.0 1042.2L289.0 1042.2L290.9 1042.1L292.8 1042.0L294.8 1041.9L296.7 1041.7L298.6 1041.5L300.5 1041.2L302.5 1040.8L304.4 1040.4L306.3 1039.9L308.3 1039.5L310.2 1039.0L312.1 1038.4L314.1 1037.9L316.0 1037.5L317.9 1037.0L319.9 1036.5L325.6 1035.3L331.4 1034.4L337.2 1034.0L343.0 1034.0L348.8 1034.3L354.6 1035.0L360.4 1036.0L366.2 1037.1L372.0 1038.4L377.8 1040.0L383.6 1041.8L389.4 1043.8L395.1 1045.8L400.9 1047.8L406.7 1050.0L409.6 1051.2L412.5 1052.7L415.4 1054.1L418.3 1055.6L421.2 1056.9L424.1 1058.2L427.0 1059.2L429.9 1059.8M140.3 1104.5L143.2 1105.1L146.1 1106.1L149.0 1107.4L151.9 1108.7L154.8 1110.2L157.7 1111.6L160.6 1113.1L163.5 1114.3L169.3 1116.5L175.1 1118.5L180.8 1120.5L186.6 1122.5L192.4 1124.3L198.2 1125.9L204.0 1127.2L209.8 1128.3L215.6 1129.3L221.4 1130.0L227.2 1130.3L233.0 1130.3L238.8 1129.9L244.6 1129.0L250.3 1127.8L252.3 1127.3L254.2 1126.8L256.1 1126.4L258.1 1125.9L260.0 1125.3L261.9 1124.8L263.9 1124.4L265.8 1123.9L267.7 1123.5L269.7 1123.1L271.6 1122.8L273.5 1122.6L275.4 1122.4L277.4 1122.3L279.3 1122.2L281.2 1122.1L283.2 1122.1L285.1 1122.1L287.0 1122.1L289.0 1122.1L290.9 1122.2L292.8 1122.3L294.8 1122.4L296.7 1122.6L298.6 1122.8L300.5 1123.1L302.5 1123.5L304.4 1123.9L306.3 1124.4L308.3 1124.8L310.2 1125.3L312.1 1125.9L314.1 1126.4L316.0 1126.8L317.9 1127.3L319.9 1127.8L325.6 1129.0L331.4 1129.9L337.2 1130.3L343.0 1130.3L348.8 1130.0L354.6 1129.3L360.4 1128.3L366.2 1127.2L372.0 1125.9L377.8 1124.3L383.6 1122.5L389.4 1120.5L395.1 1118.5L400.9 1116.5L406.7 1114.3L409.6 1113.1L412.5 1111.6L415.4 1110.2L418.3 1108.7L421.2 1107.4L424.1 1106.1L427.0 1105.1L429.9 1104.5M140.3 1058.9L143.2 1058.4L146.1 1057.5L149.0 1056.2L151.9 1054.9L154.8 1053.4L157.7 1051.9L160.6 1050.5L163.5 1049.2L169.3 1047.0L175.1 1045.1L180.8 1043.1L186.6 1041.1L192.4 1039.3L198.2 1037.7L204.0 1036.4L209.8 1035.3L215.6 1034.3L221.4 1033.6L227.2 1033.2L233.0 1033.3L238.8 1033.7L244.6 1034.6L250.3 1035.8L252.3 1036.2L254.2 1036.7L256.1 1037.2L258.1 1037.7L260.0 1038.2L261.9 1038.7L263.9 1039.1L265.8 1039.6L267.7 1040.0L269.7 1040.3L271.6 1040.7L273.5 1040.9L275.4 1041.1L277.4 1041.2L279.3 1041.3L281.2 1041.4L283.2 1041.4L285.1 1041.3L287.0 1041.4L289.0 1041.4L290.9 1041.3L292.8 1041.2L294.8 1041.1L296.7 1040.9L298.6 1040.7L300.5 1040.3L302.5 1040.0L304.4 1039.6L306.3 1039.1L308.3 1038.7L310.2 1038.2L312.1 1037.7L314.1 1037.2L316.0 1036.7L317.9 1036.2L319.9 1035.8L325.6 1034.6L331.4 1033.7L337.2 1033.3L343.0 1033.2L348.8 1033.6L354.6 1034.3L360.4 1035.3L366.2 1036.4L372.0 1037.7L377.8 1039.3L383.6 1041.1L389.4 1043.1L395.1 1045.1L400.9 1047.0L406.7 1049.2L409.6 1050.5L412.5 1051.9L415.4 1053.4L418.3 1054.9L421.2 1056.2L424.1 1057.5L427.0 1058.4L429.9 1058.9M140.3 1105.4L143.2 1105.9L146.1 1106.8L149.0 1108.1L151.9 1109.4L154.8 1110.9L157.7 1112.4L160.6 1113.8L163.5 1115.1L169.3 1117.3L175.1 1119.2L180.8 1121.2L186.6 1123.2L192.4 1125.0L198.2 1126.6L204.0 1127.9L209.8 1129.0L215.6 1130.0L221.4 1130.7L227.2 1131.1L233.0 1131.0L238.8 1130.6L244.6 1129.7L250.3 1128.5L252.3 1128.1L254.2 1127.6L256.1 1127.1L258.1 1126.6L260.0 1126.1L261.9 1125.6L263.9 1125.2L265.8 1124.7L267.7 1124.3L269.7 1124.0L271.6 1123.6L273.5 1123.4L275.4 1123.2L277.4 1123.1L279.3 1123.0L281.2 1122.9L283.2 1122.9L285.1 1123.0L287.0 1122.9L289.0 1122.9L290.9 1123.0L292.8 1123.1L294.8 1123.2L296.7 1123.4L298.6 1123.6L300.5 1124.0L302.5 1124.3L304.4 1124.7L306.3 1125.2L308.3 1125.6L310.2 1126.1L312.1 1126.6L314.1 1127.1L316.0 1127.6L317.9 1128.1L319.9 1128.5L325.6 1129.7L331.4 1130.6L337.2 1131.0L343.0 1131.1L348.8 1130.7L354.6 1130.0L360.4 1129.0L366.2 1127.9L372.0 1126.6L377.8 1125.0L383.6 1123.2L389.4 1121.2L395.1 1119.2L400.9 1117.3L406.7 1115.1L409.6 1113.8L412.5 1112.4L415.4 1110.9L418.3 1109.4L421.2 1108.1L424.1 1106.8L427.0 1105.9L429.9 1105.4M140.3 1058.3L143.2 1057.8L146.1 1056.9L149.0 1055.7L151.9 1054.3L154.8 1052.9L157.7 1051.4L160.6 1049.9L163.5 1048.7L169.3 1046.5L175.1 1044.5L180.8 1042.6L186.6 1040.6L192.4 1038.8L198.2 1037.2L204.0 1035.9L209.8 1034.8L215.6 1033.8L221.4 1033.1L227.2 1032.7L233.0 1032.7L238.8 1033.2L244.6 1034.0L250.3 1035.2L252.3 1035.7L254.2 1036.1L256.1 1036.6L258.1 1037.1L260.0 1037.6L261.9 1038.1L263.9 1038.6L265.8 1039.0L267.7 1039.4L269.7 1039.8L271.6 1040.1L273.5 1040.3L275.4 1040.5L277.4 1040.6L279.3 1040.7L281.2 1040.8L283.2 1040.8L285.1 1040.8L287.0 1040.8L289.0 1040.8L290.9 1040.7L292.8 1040.6L294.8 1040.5L296.7 1040.3L298.6 1040.1L300.5 1039.8L302.5 1039.4L304.4 1039.0L306.3 1038.6L308.3 1038.1L310.2 1037.6L312.1 1037.1L314.1 1036.6L316.0 1036.1L317.9 1035.7L319.9 1035.2L325.6 1034.0L331.4 1033.2L337.2 1032.7L343.0 1032.7L348.8 1033.1L354.6 1033.8L360.4 1034.8L366.2 1035.9L372.0 1037.2L377.8 1038.8L383.6 1040.6L389.4 1042.6L395.1 1044.5L400.9 1046.5L406.7 1048.7L409.6 1049.9L412.5 1051.4L415.4 1052.9L418.3 1054.3L421.2 1055.7L424.1 1056.9L427.0 1057.8L429.9 1058.3M140.3 1106.0L143.2 1106.5L146.1 1107.4L149.0 1108.6L151.9 1110.0L154.8 1111.4L157.7 1112.9L160.6 1114.4L163.5 1115.6L169.3 1117.8L175.1 1119.8L180.8 1121.7L186.6 1123.7L192.4 1125.5L198.2 1127.1L204.0 1128.4L209.8 1129.5L215.6 1130.5L221.4 1131.2L227.2 1131.6L233.0 1131.6L238.8 1131.1L244.6 1130.3L250.3 1129.1L252.3 1128.6L254.2 1128.2L256.1 1127.7L258.1 1127.2L260.0 1126.7L261.9 1126.2L263.9 1125.7L265.8 1125.3L267.7 1124.9L269.7 1124.5L271.6 1124.2L273.5 1124.0L275.4 1123.8L277.4 1123.7L279.3 1123.6L281.2 1123.5L283.2 1123.5L285.1 1123.5L287.0 1123.5L289.0 1123.5L290.9 1123.6L292.8 1123.7L294.8 1123.8L296.7 1124.0L298.6 1124.2L300.5 1124.5L302.5 1124.9L304.4 1125.3L306.3 1125.7L308.3 1126.2L310.2 1126.7L312.1 1127.2L314.1 1127.7L316.0 1128.2L317.9 1128.6L319.9 1129.1L325.6 1130.3L331.4 1131.1L337.2 1131.6L343.0 1131.6L348.8 1131.2L354.6 1130.5L360.4 1129.5L366.2 1128.4L372.0 1127.1L377.8 1125.5L383.6 1123.7L389.4 1121.7L395.1 1119.8L400.9 1117.8L406.7 1115.6L409.6 1114.4L412.5 1112.9L415.4 1111.4L418.3 1110.0L421.2 1108.6L424.1 1107.4L427.0 1106.5L429.9 1106.0M140.3 1057.8L143.2 1057.3L146.1 1056.5L149.0 1055.3L151.9 1053.9L154.8 1052.4L157.7 1050.9L160.6 1049.5L163.5 1048.2L169.3 1046.0L175.1 1044.1L180.8 1042.2L186.6 1040.2L192.4 1038.4L198.2 1036.8L204.0 1035.5L209.8 1034.3L215.6 1033.4L221.4 1032.7L227.2 1032.3L233.0 1032.3L238.8 1032.7L244.6 1033.6L250.3 1034.8L252.3 1035.2L254.2 1035.7L256.1 1036.2L258.1 1036.7L260.0 1037.2L261.9 1037.6L263.9 1038.1L265.8 1038.6L267.7 1039.0L269.7 1039.3L271.6 1039.6L273.5 1039.9L275.4 1040.0L277.4 1040.2L279.3 1040.3L281.2 1040.3L283.2 1040.3L285.1 1040.3L287.0 1040.3L289.0 1040.3L290.9 1040.3L292.8 1040.2L294.8 1040.0L296.7 1039.9L298.6 1039.6L300.5 1039.3L302.5 1039.0L304.4 1038.6L306.3 1038.1L308.3 1037.6L310.2 1037.2L312.1 1036.7L314.1 1036.2L316.0 1035.7L317.9 1035.2L319.9 1034.8L325.6 1033.6L331.4 1032.7L337.2 1032.3L343.0 1032.3L348.8 1032.7L354.6 1033.4L360.4 1034.3L366.2 1035.5L372.0 1036.8L377.8 1038.4L383.6 1040.2L389.4 1042.2L395.1 1044.1L400.9 1046.0L406.7 1048.2L409.6 1049.5L412.5 1050.9L415.4 1052.4L418.3 1053.9L421.2 1055.3L424.1 1056.5L427.0 1057.3L429.9 1057.8M140.3 1106.5L143.2 1107.0L146.1 1107.8L149.0 1109.0L151.9 1110.4L154.8 1111.9L157.7 1113.4L160.6 1114.8L163.5 1116.1L169.3 1118.3L175.1 1120.2L180.8 1122.1L186.6 1124.1L192.4 1125.9L198.2 1127.5L204.0 1128.8L209.8 1130.0L215.6 1130.9L221.4 1131.6L227.2 1132.0L233.0 1132.0L238.8 1131.6L244.6 1130.7L250.3 1129.5L252.3 1129.1L254.2 1128.6L256.1 1128.1L258.1 1127.6L260.0 1127.1L261.9 1126.7L263.9 1126.2L265.8 1125.7L267.7 1125.3L269.7 1125.0L271.6 1124.7L273.5 1124.4L275.4 1124.3L277.4 1124.1L279.3 1124.0L281.2 1124.0L283.2 1124.0L285.1 1124.0L287.0 1124.0L289.0 1124.0L290.9 1124.0L292.8 1124.1L294.8 1124.3L296.7 1124.4L298.6 1124.7L300.5 1125.0L302.5 1125.3L304.4 1125.7L306.3 1126.2L308.3 1126.7L310.2 1127.1L312.1 1127.6L314.1 1128.1L316.0 1128.6L317.9 1129.1L319.9 1129.5L325.6 1130.7L331.4 1131.6L337.2 1132.0L343.0 1132.0L348.8 1131.6L354.6 1130.9L360.4 1130.0L366.2 1128.8L372.0 1127.5L377.8 1125.9L383.6 1124.1L389.4 1122.1L395.1 1120.2L400.9 1118.3L406.7 1116.1L409.6 1114.8L412.5 1113.4L415.4 1111.9L418.3 1110.4L421.2 1109.0L424.1 1107.8L427.0 1107.0L429.9 1106.5M140.3 1057.4L143.2 1057.0L146.1 1056.1L149.0 1055.0L151.9 1053.6L154.8 1052.1L157.7 1050.6L160.6 1049.2L163.5 1047.9L169.3 1045.7L175.1 1043.8L180.8 1041.8L186.6 1039.9L192.4 1038.1L198.2 1036.5L204.0 1035.2L209.8 1034.0L215.6 1033.1L221.4 1032.4L227.2 1032.0L233.0 1032.0L238.8 1032.4L244.6 1033.3L250.3 1034.4L252.3 1034.9L254.2 1035.4L256.1 1035.8L258.1 1036.3L260.0 1036.8L261.9 1037.3L263.9 1037.8L265.8 1038.2L267.7 1038.6L269.7 1039.0L271.6 1039.3L273.5 1039.5L275.4 1039.7L277.4 1039.8L279.3 1039.9L281.2 1040.0L283.2 1040.0L285.1 1039.9L287.0 1040.0L289.0 1040.0L290.9 1039.9L292.8 1039.8L294.8 1039.7L296.7 1039.5L298.6 1039.3L300.5 1039.0L302.5 1038.6L304.4 1038.2L306.3 1037.8L308.3 1037.3L310.2 1036.8L312.1 1036.3L314.1 1035.8L316.0 1035.4L317.9 1034.9L319.9 1034.4L325.6 1033.3L331.4 1032.4L337.2 1032.0L343.0 1032.0L348.8 1032.4L354.6 1033.1L360.4 1034.0L366.2 1035.2L372.0 1036.5L377.8 1038.1L383.6 1039.9L389.4 1041.8L395.1 1043.8L400.9 1045.7L406.7 1047.9L409.6 1049.2L412.5 1050.6L415.4 1052.1L418.3 1053.6L421.2 1055.0L424.1 1056.1L427.0 1057.0L429.9 1057.4M140.3 1106.9L143.2 1107.3L146.1 1108.2L149.0 1109.3L151.9 1110.7L154.8 1112.2L157.7 1113.7L160.6 1115.1L163.5 1116.4L169.3 1118.6L175.1 1120.5L180.8 1122.5L186.6 1124.4L192.4 1126.2L198.2 1127.8L204.0 1129.1L209.8 1130.3L215.6 1131.2L221.4 1131.9L227.2 1132.3L233.0 1132.3L238.8 1131.9L244.6 1131.0L250.3 1129.9L252.3 1129.4L254.2 1128.9L256.1 1128.5L258.1 1128.0L260.0 1127.5L261.9 1127.0L263.9 1126.5L265.8 1126.1L267.7 1125.7L269.7 1125.3L271.6 1125.0L273.5 1124.8L275.4 1124.6L277.4 1124.5L279.3 1124.4L281.2 1124.3L283.2 1124.3L285.1 1124.4L287.0 1124.3L289.0 1124.3L290.9 1124.4L292.8 1124.5L294.8 1124.6L296.7 1124.8L298.6 1125.0L300.5 1125.3L302.5 1125.7L304.4 1126.1L306.3 1126.5L308.3 1127.0L310.2 1127.5L312.1 1128.0L314.1 1128.5L316.0 1128.9L317.9 1129.4L319.9 1129.9L325.6 1131.0L331.4 1131.9L337.2 1132.3L343.0 1132.3L348.8 1131.9L354.6 1131.2L360.4 1130.3L366.2 1129.1L372.0 1127.8L377.8 1126.2L383.6 1124.4L389.4 1122.5L395.1 1120.5L400.9 1118.6L406.7 1116.4L409.6 1115.1L412.5 1113.7L415.4 1112.2L418.3 1110.7L421.2 1109.3L424.1 1108.2L427.0 1107.3L429.9 1106.9M140.3 1057.1L143.2 1056.7L146.1 1055.9L149.0 1054.7L151.9 1053.4L154.8 1051.9L157.7 1050.4L160.6 1048.9L163.5 1047.7L169.3 1045.5L175.1 1043.6L180.8 1041.6L186.6 1039.7L192.4 1037.9L198.2 1036.3L204.0 1035.0L209.8 1033.8L215.6 1032.9L221.4 1032.2L227.2 1031.8L233.0 1031.8L238.8 1032.2L244.6 1033.0L250.3 1034.2L252.3 1034.7L254.2 1035.1L256.1 1035.6L258.1 1036.1L260.0 1036.6L261.9 1037.1L263.9 1037.5L265.8 1038.0L267.7 1038.4L269.7 1038.7L271.6 1039.0L273.5 1039.3L275.4 1039.5L277.4 1039.6L279.3 1039.7L281.2 1039.7L283.2 1039.7L285.1 1039.7L287.0 1039.7L289.0 1039.7L290.9 1039.7L292.8 1039.6L294.8 1039.5L296.7 1039.3L298.6 1039.0L300.5 1038.7L302.5 1038.4L304.4 1038.0L306.3 1037.5L308.3 1037.1L310.2 1036.6L312.1 1036.1L314.1 1035.6L316.0 1035.1L317.9 1034.7L319.9 1034.2L325.6 1033.0L331.4 1032.2L337.2 1031.8L343.0 1031.8L348.8 1032.2L354.6 1032.9L360.4 1033.8L366.2 1035.0L372.0 1036.3L377.8 1037.9L383.6 1039.7L389.4 1041.6L395.1 1043.6L400.9 1045.5L406.7 1047.7L409.6 1048.9L412.5 1050.4L415.4 1051.9L418.3 1053.4L421.2 1054.7L424.1 1055.9L427.0 1056.7L429.9 1057.1M140.3 1107.2L143.2 1107.6L146.1 1108.4L149.0 1109.6L151.9 1110.9L154.8 1112.4L157.7 1113.9L160.6 1115.4L163.5 1116.6L169.3 1118.8L175.1 1120.7L180.8 1122.7L186.6 1124.6L192.4 1126.4L198.2 1128.0L204.0 1129.3L209.8 1130.5L215.6 1131.4L221.4 1132.1L227.2 1132.5L233.0 1132.5L238.8 1132.1L244.6 1131.3L250.3 1130.1L252.3 1129.6L254.2 1129.2L256.1 1128.7L258.1 1128.2L260.0 1127.7L261.9 1127.2L263.9 1126.8L265.8 1126.3L267.7 1125.9L269.7 1125.6L271.6 1125.3L273.5 1125.0L275.4 1124.8L277.4 1124.7L279.3 1124.6L281.2 1124.6L283.2 1124.6L285.1 1124.6L287.0 1124.6L289.0 1124.6L290.9 1124.6L292.8 1124.7L294.8 1124.8L296.7 1125.0L298.6 1125.3L300.5 1125.6L302.5 1125.9L304.4 1126.3L306.3 1126.8L308.3 1127.2L310.2 1127.7L312.1 1128.2L314.1 1128.7L316.0 1129.2L317.9 1129.6L319.9 1130.1L325.6 1131.3L331.4 1132.1L337.2 1132.5L343.0 1132.5L348.8 1132.1L354.6 1131.4L360.4 1130.5L366.2 1129.3L372.0 1128.0L377.8 1126.4L383.6 1124.6L389.4 1122.7L395.1 1120.7L400.9 1118.8L406.7 1116.6L409.6 1115.4L412.5 1113.9L415.4 1112.4L418.3 1110.9L421.2 1109.6L424.1 1108.4L427.0 1107.6L429.9 1107.2" stroke="#999999" stroke-width="2.05"/>
<path d="M140.3 1251.6L146.3 1251.2L152.4 1250.2L158.4 1248.5L164.4 1246.2L170.5 1243.3L176.5 1239.9L182.5 1236.1L188.6 1231.9L194.6 1227.4L200.6 1222.7L206.7 1217.9L212.7 1213.1L218.7 1208.4L224.8 1203.8L230.8 1199.4L236.8 1195.3L242.9 1191.5L248.9 1188.2L254.9 1185.2L261.0 1182.8L267.0 1180.9L273.0 1179.5L279.1 1178.7L285.1 1178.4L291.1 1178.7L297.2 1179.5L303.2 1180.9L309.2 1182.8L315.3 1185.2L321.3 1188.2L327.3 1191.5L333.4 1195.3L339.4 1199.4L345.4 1203.8L351.5 1208.4L357.5 1213.1L363.5 1217.9L369.6 1222.7L375.6 1227.4L381.6 1231.9L387.7 1236.1L393.7 1239.9L399.7 1243.3L405.8 1246.2L411.8 1248.5L417.8 1250.2L423.9 1251.2L429.9 1251.6M140.3 1251.8L146.3 1251.5L152.4 1250.5L158.4 1248.8L164.4 1246.5L170.5 1243.6L176.5 1240.2L182.5 1236.4L188.6 1232.2L194.6 1227.7L200.6 1223.0L206.7 1218.2L212.7 1213.4L218.7 1208.7L224.8 1204.1L230.8 1199.7L236.8 1195.6L242.9 1191.9L248.9 1188.5L254.9 1185.6L261.0 1183.2L267.0 1181.3L273.0 1179.9L279.1 1179.1L285.1 1178.8L291.1 1179.1L297.2 1179.9L303.2 1181.3L309.2 1183.2L315.3 1185.6L321.3 1188.5L327.3 1191.9L333.4 1195.6L339.4 1199.7L345.4 1204.1L351.5 1208.7L357.5 1213.4L363.5 1218.2L369.6 1223.0L375.6 1227.7L381.6 1232.2L387.7 1236.4L393.7 1240.2L399.7 1243.6L405.8 1246.5L411.8 1248.8L417.8 1250.5L423.9 1251.5L429.9 1251.8M140.3 1252.7L146.3 1252.3L152.4 1251.3L158.4 1249.6L164.4 1247.3L170.5 1244.5L176.5 1241.1L182.5 1237.3L188.6 1233.1L194.6 1228.6L200.6 1224.0L206.7 1219.2L212.7 1214.5L218.7 1209.7L224.8 1205.2L230.8 1200.8L236.8 1196.7L242.9 1193.0L248.9 1189.7L254.9 1186.8L261.0 1184.4L267.0 1182.5L273.0 1181.1L279.1 1180.3L285.1 1180.0L291.1 1180.3L297.2 1181.1L303.2 1182.5L309.2 1184.4L315.3 1186.8L321.3 1189.7L327.3 1193.0L333.4 1196.7L339.4 1200.8L345.4 1205.2L351.5 1209.7L357.5 1214.5L363.5 1219.2L369.6 1224.0L375.6 1228.6L381.6 1233.1L387.7 1237.3L393.7 1241.1L399.7 1244.5L405.8 1247.3L411.8 1249.6L417.8 1251.3L423.9 1252.3L429.9 1252.7M140.3 1254.0L146.3 1253.7L152.4 1252.7L158.4 1251.0L164.4 1248.7L170.5 1245.9L176.5 1242.5L182.5 1238.7L188.6 1234.6L194.6 1230.2L200.6 1225.6L206.7 1220.8L212.7 1216.1L218.7 1211.4L224.8 1206.9L230.8 1202.6L236.8 1198.6L242.9 1194.9L248.9 1191.6L254.9 1188.7L261.0 1186.3L267.0 1184.4L273.0 1183.1L279.1 1182.2L285.1 1182.0L291.1 1182.2L297.2 1183.1L303.2 1184.4L309.2 1186.3L315.3 1188.7L321.3 1191.6L327.3 1194.9L333.4 1198.6L339.4 1202.6L345.4 1206.9L351.5 1211.4L357.5 1216.1L363.5 1220.8L369.6 1225.6L375.6 1230.2L381.6 1234.6L387.7 1238.7L393.7 1242.5L399.7 1245.9L405.8 1248.7L411.8 1251.0L417.8 1252.7L423.9 1253.7L429.9 1254.0M140.3 1255.9L146.3 1255.5L152.4 1254.5L158.4 1252.9L164.4 1250.6L170.5 1247.8L176.5 1244.5L182.5 1240.8L188.6 1236.7L194.6 1232.3L200.6 1227.7L206.7 1223.1L212.7 1218.4L218.7 1213.8L224.8 1209.3L230.8 1205.0L236.8 1201.1L242.9 1197.4L248.9 1194.2L254.9 1191.3L261.0 1189.0L267.0 1187.1L273.0 1185.8L279.1 1184.9L285.1 1184.7L291.1 1184.9L297.2 1185.8L303.2 1187.1L309.2 1189.0L315.3 1191.3L321.3 1194.2L327.3 1197.4L333.4 1201.1L339.4 1205.0L345.4 1209.3L351.5 1213.8L357.5 1218.4L363.5 1223.1L369.6 1227.7L375.6 1232.3L381.6 1236.7L387.7 1240.8L393.7 1244.5L399.7 1247.8L405.8 1250.6L411.8 1252.9L417.8 1254.5L423.9 1255.5L429.9 1255.9M140.3 1258.2L146.3 1257.9L152.4 1256.9L158.4 1255.3L164.4 1253.0L170.5 1250.2L176.5 1247.0L182.5 1243.3L188.6 1239.2L194.6 1234.9L200.6 1230.4L206.7 1225.8L212.7 1221.2L218.7 1216.7L224.8 1212.3L230.8 1208.1L236.8 1204.2L242.9 1200.6L248.9 1197.4L254.9 1194.6L261.0 1192.3L267.0 1190.4L273.0 1189.1L279.1 1188.3L285.1 1188.1L291.1 1188.3L297.2 1189.1L303.2 1190.4L309.2 1192.3L315.3 1194.6L321.3 1197.4L327.3 1200.6L333.4 1204.2L339.4 1208.1L345.4 1212.3L351.5 1216.7L357.5 1221.2L363.5 1225.8L369.6 1230.4L375.6 1234.9L381.6 1239.2L387.7 1243.3L393.7 1247.0L399.7 1250.2L405.8 1253.0L411.8 1255.3L417.8 1256.9L423.9 1257.9L429.9 1258.2M140.3 1260.9L146.3 1260.6L152.4 1259.6L158.4 1258.0L164.4 1255.8L170.5 1253.1L176.5 1249.9L182.5 1246.2L188.6 1242.3L194.6 1238.0L200.6 1233.6L206.7 1229.1L212.7 1224.6L218.7 1220.1L224.8 1215.8L230.8 1211.7L236.8 1207.8L242.9 1204.3L248.9 1201.2L254.9 1198.4L261.0 1196.2L267.0 1194.4L273.0 1193.1L279.1 1192.3L285.1 1192.0L291.1 1192.3L297.2 1193.1L303.2 1194.4L309.2 1196.2L315.3 1198.4L321.3 1201.2L327.3 1204.3L333.4 1207.8L339.4 1211.7L345.4 1215.8L351.5 1220.1L357.5 1224.6L363.5 1229.1L369.6 1233.6L375.6 1238.0L381.6 1242.3L387.7 1246.2L393.7 1249.9L399.7 1253.1L405.8 1255.8L411.8 1258.0L417.8 1259.6L423.9 1260.6L429.9 1260.9M140.3 1264.0L146.3 1263.7L152.4 1262.7L158.4 1261.1L164.4 1259.0L170.5 1256.3L176.5 1253.1L182.5 1249.6L188.6 1245.7L194.6 1241.5L200.6 1237.2L206.7 1232.8L212.7 1228.3L218.7 1223.9L224.8 1219.7L230.8 1215.7L236.8 1211.9L242.9 1208.5L248.9 1205.4L254.9 1202.8L261.0 1200.5L267.0 1198.8L273.0 1197.5L279.1 1196.8L285.1 1196.5L291.1 1196.8L297.2 1197.5L303.2 1198.8L309.2 1200.5L315.3 1202.8L321.3 1205.4L327.3 1208.5L333.4 1211.9L339.4 1215.7L345.4 1219.7L351.5 1223.9L357.5 1228.3L363.5 1232.8L369.6 1237.2L375.6 1241.5L381.6 1245.7L387.7 1249.6L393.7 1253.1L399.7 1256.3L405.8 1259.0L411.8 1261.1L417.8 1262.7L423.9 1263.7L429.9 1264.0M140.3 1267.3L146.3 1267.0L152.4 1266.1L158.4 1264.5L164.4 1262.4L170.5 1259.8L176.5 1256.7L182.5 1253.2L188.6 1249.4L194.6 1245.3L200.6 1241.1L206.7 1236.7L212.7 1232.4L218.7 1228.1L224.8 1224.0L230.8 1220.1L236.8 1216.4L242.9 1213.1L248.9 1210.1L254.9 1207.5L261.0 1205.3L267.0 1203.6L273.0 1202.4L279.1 1201.6L285.1 1201.4L291.1 1201.6L297.2 1202.4L303.2 1203.6L309.2 1205.3L315.3 1207.5L321.3 1210.1L327.3 1213.1L333.4 1216.4L339.4 1220.1L345.4 1224.0L351.5 1228.1L357.5 1232.4L363.5 1236.7L369.6 1241.1L375.6 1245.3L381.6 1249.4L387.7 1253.2L393.7 1256.7L399.7 1259.8L405.8 1262.4L411.8 1264.5L417.8 1266.1L423.9 1267.0L429.9 1267.3M140.3 1270.9L146.3 1270.6L152.4 1269.7L158.4 1268.1L164.4 1266.1L170.5 1263.5L176.5 1260.5L182.5 1257.1L188.6 1253.3L194.6 1249.4L200.6 1245.2L206.7 1241.0L212.7 1236.8L218.7 1232.6L224.8 1228.6L230.8 1224.7L236.8 1221.2L242.9 1217.9L248.9 1215.0L254.9 1212.5L261.0 1210.4L267.0 1208.7L273.0 1207.5L279.1 1206.8L285.1 1206.6L291.1 1206.8L297.2 1207.5L303.2 1208.7L309.2 1210.4L315.3 1212.5L321.3 1215.0L327.3 1217.9L333.4 1221.2L339.4 1224.7L345.4 1228.6L351.5 1232.6L357.5 1236.8L363.5 1241.0L369.6 1245.2L375.6 1249.4L381.6 1253.3L387.7 1257.1L393.7 1260.5L399.7 1263.5L405.8 1266.1L411.8 1268.1L417.8 1269.7L423.9 1270.6L429.9 1270.9M140.3 1274.6L146.3 1274.3L152.4 1273.4L158.4 1271.9L164.4 1269.9L170.5 1267.3L176.5 1264.4L182.5 1261.1L188.6 1257.4L194.6 1253.5L200.6 1249.5L206.7 1245.4L212.7 1241.3L218.7 1237.2L224.8 1233.3L230.8 1229.6L236.8 1226.1L242.9 1222.9L248.9 1220.1L254.9 1217.7L261.0 1215.6L267.0 1214.0L273.0 1212.8L279.1 1212.1L285.1 1211.9L291.1 1212.1L297.2 1212.8L303.2 1214.0L309.2 1215.6L315.3 1217.7L321.3 1220.1L327.3 1222.9L333.4 1226.1L339.4 1229.6L345.4 1233.3L351.5 1237.2L357.5 1241.3L363.5 1245.4L369.6 1249.5L375.6 1253.5L381.6 1257.4L387.7 1261.1L393.7 1264.4L399.7 1267.3L405.8 1269.9L411.8 1271.9L417.8 1273.4L423.9 1274.3L429.9 1274.6M140.3 1278.3L146.3 1278.0L152.4 1277.1L158.4 1275.7L164.4 1273.7L170.5 1271.2L176.5 1268.3L182.5 1265.1L188.6 1261.5L194.6 1257.8L200.6 1253.8L206.7 1249.8L212.7 1245.8L218.7 1241.9L224.8 1238.1L230.8 1234.4L236.8 1231.1L242.9 1228.0L248.9 1225.3L254.9 1222.9L261.0 1220.9L267.0 1219.4L273.0 1218.2L279.1 1217.6L285.1 1217.3L291.1 1217.6L297.2 1218.2L303.2 1219.4L309.2 1220.9L315.3 1222.9L321.3 1225.3L327.3 1228.0L333.4 1231.1L339.4 1234.4L345.4 1238.1L351.5 1241.9L357.5 1245.8L363.5 1249.8L369.6 1253.8L375.6 1257.8L381.6 1261.5L387.7 1265.1L393.7 1268.3L399.7 1271.2L405.8 1273.7L411.8 1275.7L417.8 1277.1L423.9 1278.0L429.9 1278.3M140.3 1281.9L146.3 1281.7L152.4 1280.8L158.4 1279.4L164.4 1277.5L170.5 1275.1L176.5 1272.3L182.5 1269.1L188.6 1265.6L194.6 1261.9L200.6 1258.1L206.7 1254.2L212.7 1250.3L218.7 1246.5L224.8 1242.8L230.8 1239.3L236.8 1236.0L242.9 1233.0L248.9 1230.4L254.9 1228.1L261.0 1226.2L267.0 1224.6L273.0 1223.6L279.1 1222.9L285.1 1222.7L291.1 1222.9L297.2 1223.6L303.2 1224.6L309.2 1226.2L315.3 1228.1L321.3 1230.4L327.3 1233.0L333.4 1236.0L339.4 1239.3L345.4 1242.8L351.5 1246.5L357.5 1250.3L363.5 1254.2L369.6 1258.1L375.6 1261.9L381.6 1265.6L387.7 1269.1L393.7 1272.3L399.7 1275.1L405.8 1277.5L411.8 1279.4L417.8 1280.8L423.9 1281.7L429.9 1281.9M140.3 1285.5L146.3 1285.2L152.4 1284.4L158.4 1283.0L164.4 1281.1L170.5 1278.8L176.5 1276.0L182.5 1272.9L188.6 1269.6L194.6 1266.0L200.6 1262.2L206.7 1258.4L212.7 1254.6L218.7 1250.9L224.8 1247.3L230.8 1243.9L236.8 1240.7L242.9 1237.9L248.9 1235.3L254.9 1233.1L261.0 1231.2L267.0 1229.8L273.0 1228.7L279.1 1228.1L285.1 1227.9L291.1 1228.1L297.2 1228.7L303.2 1229.8L309.2 1231.2L315.3 1233.1L321.3 1235.3L327.3 1237.9L333.4 1240.7L339.4 1243.9L345.4 1247.3L351.5 1250.9L357.5 1254.6L363.5 1258.4L369.6 1262.2L375.6 1266.0L381.6 1269.6L387.7 1272.9L393.7 1276.0L399.7 1278.8L405.8 1281.1L411.8 1283.0L417.8 1284.4L423.9 1285.2L429.9 1285.5M140.3 1288.8L146.3 1288.6L152.4 1287.7L158.4 1286.4L164.4 1284.6L170.5 1282.3L176.5 1279.6L182.5 1276.6L188.6 1273.3L194.6 1269.8L200.6 1266.1L206.7 1262.4L212.7 1258.7L218.7 1255.1L224.8 1251.6L230.8 1248.3L236.8 1245.2L242.9 1242.4L248.9 1239.9L254.9 1237.8L261.0 1236.0L267.0 1234.6L273.0 1233.6L279.1 1232.9L285.1 1232.7L291.1 1232.9L297.2 1233.6L303.2 1234.6L309.2 1236.0L315.3 1237.8L321.3 1239.9L327.3 1242.4L333.4 1245.2L339.4 1248.3L345.4 1251.6L351.5 1255.1L357.5 1258.7L363.5 1262.4L369.6 1266.1L375.6 1269.8L381.6 1273.3L387.7 1276.6L393.7 1279.6L399.7 1282.3L405.8 1284.6L411.8 1286.4L417.8 1287.7L423.9 1288.6L429.9 1288.8M140.3 1291.9L146.3 1291.6L152.4 1290.8L158.4 1289.5L164.4 1287.7L170.5 1285.5L176.5 1282.9L182.5 1279.9L188.6 1276.7L194.6 1273.3L200.6 1269.7L206.7 1266.1L212.7 1262.5L218.7 1259.0L224.8 1255.6L230.8 1252.3L236.8 1249.3L242.9 1246.6L248.9 1244.2L254.9 1242.1L261.0 1240.4L267.0 1239.0L273.0 1238.0L279.1 1237.4L285.1 1237.2L291.1 1237.4L297.2 1238.0L303.2 1239.0L309.2 1240.4L315.3 1242.1L321.3 1244.2L327.3 1246.6L333.4 1249.3L339.4 1252.3L345.4 1255.6L351.5 1259.0L357.5 1262.5L363.5 1266.1L369.6 1269.7L375.6 1273.3L381.6 1276.7L387.7 1279.9L393.7 1282.9L399.7 1285.5L405.8 1287.7L411.8 1289.5L417.8 1290.8L423.9 1291.6L429.9 1291.9M140.3 1294.6L146.3 1294.4L152.4 1293.6L158.4 1292.3L164.4 1290.5L170.5 1288.3L176.5 1285.8L182.5 1282.9L188.6 1279.7L194.6 1276.4L200.6 1272.9L206.7 1269.4L212.7 1265.8L218.7 1262.4L224.8 1259.1L230.8 1255.9L236.8 1253.0L242.9 1250.3L248.9 1248.0L254.9 1245.9L261.0 1244.3L267.0 1242.9L273.0 1242.0L279.1 1241.4L285.1 1241.2L291.1 1241.4L297.2 1242.0L303.2 1242.9L309.2 1244.3L315.3 1245.9L321.3 1248.0L327.3 1250.3L333.4 1253.0L339.4 1255.9L345.4 1259.1L351.5 1262.4L357.5 1265.8L363.5 1269.4L369.6 1272.9L375.6 1276.4L381.6 1279.7L387.7 1282.9L393.7 1285.8L399.7 1288.3L405.8 1290.5L411.8 1292.3L417.8 1293.6L423.9 1294.4L429.9 1294.6M140.3 1296.9L146.3 1296.7L152.4 1295.9L158.4 1294.6L164.4 1292.9L170.5 1290.8L176.5 1288.2L182.5 1285.4L188.6 1282.3L194.6 1279.0L200.6 1275.6L206.7 1272.1L212.7 1268.7L218.7 1265.3L224.8 1262.0L230.8 1259.0L236.8 1256.1L242.9 1253.5L248.9 1251.2L254.9 1249.2L261.0 1247.6L267.0 1246.3L273.0 1245.3L279.1 1244.8L285.1 1244.6L291.1 1244.8L297.2 1245.3L303.2 1246.3L309.2 1247.6L315.3 1249.2L321.3 1251.2L327.3 1253.5L333.4 1256.1L339.4 1259.0L345.4 1262.0L351.5 1265.3L357.5 1268.7L363.5 1272.1L369.6 1275.6L375.6 1279.0L381.6 1282.3L387.7 1285.4L393.7 1288.2L399.7 1290.8L405.8 1292.9L411.8 1294.6L417.8 1295.9L423.9 1296.7L429.9 1296.9M140.3 1298.8L146.3 1298.5L152.4 1297.8L158.4 1296.5L164.4 1294.8L170.5 1292.7L176.5 1290.2L182.5 1287.4L188.6 1284.3L194.6 1281.1L200.6 1277.8L206.7 1274.3L212.7 1270.9L218.7 1267.6L224.8 1264.4L230.8 1261.4L236.8 1258.6L242.9 1256.0L248.9 1253.8L254.9 1251.8L261.0 1250.2L267.0 1248.9L273.0 1248.0L279.1 1247.5L285.1 1247.3L291.1 1247.5L297.2 1248.0L303.2 1248.9L309.2 1250.2L315.3 1251.8L321.3 1253.8L327.3 1256.0L333.4 1258.6L339.4 1261.4L345.4 1264.4L351.5 1267.6L357.5 1270.9L363.5 1274.3L369.6 1277.8L375.6 1281.1L381.6 1284.3L387.7 1287.4L393.7 1290.2L399.7 1292.7L405.8 1294.8L411.8 1296.5L417.8 1297.8L423.9 1298.5L429.9 1298.8M140.3 1300.2L146.3 1299.9L152.4 1299.1L158.4 1297.9L164.4 1296.2L170.5 1294.1L176.5 1291.7L182.5 1288.9L188.6 1285.9L194.6 1282.7L200.6 1279.3L206.7 1276.0L212.7 1272.6L218.7 1269.3L224.8 1266.2L230.8 1263.2L236.8 1260.4L242.9 1257.9L248.9 1255.7L254.9 1253.7L261.0 1252.1L267.0 1250.9L273.0 1250.0L279.1 1249.4L285.1 1249.3L291.1 1249.4L297.2 1250.0L303.2 1250.9L309.2 1252.1L315.3 1253.7L321.3 1255.7L327.3 1257.9L333.4 1260.4L339.4 1263.2L345.4 1266.2L351.5 1269.3L357.5 1272.6L363.5 1276.0L369.6 1279.3L375.6 1282.7L381.6 1285.9L387.7 1288.9L393.7 1291.7L399.7 1294.1L405.8 1296.2L411.8 1297.9L417.8 1299.1L423.9 1299.9L429.9 1300.2M140.3 1301.0L146.3 1300.7L152.4 1300.0L158.4 1298.7L164.4 1297.1L170.5 1295.0L176.5 1292.5L182.5 1289.8L188.6 1286.8L194.6 1283.6L200.6 1280.3L206.7 1277.0L212.7 1273.6L218.7 1270.4L224.8 1267.2L230.8 1264.3L236.8 1261.5L242.9 1259.0L248.9 1256.8L254.9 1254.9L261.0 1253.3L267.0 1252.1L273.0 1251.2L279.1 1250.6L285.1 1250.5L291.1 1250.6L297.2 1251.2L303.2 1252.1L309.2 1253.3L315.3 1254.9L321.3 1256.8L327.3 1259.0L333.4 1261.5L339.4 1264.3L345.4 1267.2L351.5 1270.4L357.5 1273.6L363.5 1277.0L369.6 1280.3L375.6 1283.6L381.6 1286.8L387.7 1289.8L393.7 1292.5L399.7 1295.0L405.8 1297.1L411.8 1298.7L417.8 1300.0L423.9 1300.7L429.9 1301.0M140.3 1301.3L146.3 1301.0L152.4 1300.3L158.4 1299.0L164.4 1297.4L170.5 1295.3L176.5 1292.8L182.5 1290.1L188.6 1287.1L194.6 1283.9L200.6 1280.6L206.7 1277.3L212.7 1274.0L218.7 1270.7L224.8 1267.6L230.8 1264.6L236.8 1261.9L242.9 1259.4L248.9 1257.2L254.9 1255.3L261.0 1253.7L267.0 1252.5L273.0 1251.6L279.1 1251.0L285.1 1250.9L291.1 1251.0L297.2 1251.6L303.2 1252.5L309.2 1253.7L315.3 1255.3L321.3 1257.2L327.3 1259.4L333.4 1261.9L339.4 1264.6L345.4 1267.6L351.5 1270.7L357.5 1274.0L363.5 1277.3L369.6 1280.6L375.6 1283.9L381.6 1287.1L387.7 1290.1L393.7 1292.8L399.7 1295.3L405.8 1297.4L411.8 1299.0L417.8 1300.3L423.9 1301.0L429.9 1301.3" stroke="#999999" stroke-width="3.5"/>
<path d="M140.3 1081.8L143.2 1080.9L146.1 1079.8L149.0 1078.8L151.9 1077.6L154.8 1076.4L157.7 1075.3L160.6 1074.1L163.5 1072.9L169.3 1070.5L175.1 1068.1L180.8 1066.0L186.6 1063.9L192.4 1062.1L198.2 1060.6L204.0 1059.3L209.8 1058.5L215.6 1057.9L221.4 1057.6L227.2 1057.7L233.0 1058.3L238.8 1059.2L244.6 1060.5L250.3 1062.4L252.3 1063.2L254.2 1063.9L256.1 1064.7L258.1 1065.5L260.0 1066.5L261.9 1067.5L263.9 1068.5L265.8 1069.5L267.7 1070.6L269.7 1071.7M300.5 1071.7L302.5 1070.6L304.4 1069.5L306.3 1068.5L308.3 1067.5L310.2 1066.5L312.1 1065.5L314.1 1064.7L316.0 1063.9L317.9 1063.2L319.9 1062.4L325.6 1060.5L331.4 1059.2L337.2 1058.3L343.0 1057.7L348.8 1057.6L354.6 1057.9L360.4 1058.5L366.2 1059.3L372.0 1060.6L377.8 1062.1L383.6 1063.9L389.4 1066.0L395.1 1068.1L400.9 1070.5L406.7 1072.9L409.6 1074.1L412.5 1075.3L415.4 1076.4L418.3 1077.6L421.2 1078.8L424.1 1079.8L427.0 1080.9L429.9 1081.8M140.3 1082.5L143.2 1083.4L146.1 1084.5L149.0 1085.5L151.9 1086.7L154.8 1087.9L157.7 1089.0L160.6 1090.2L163.5 1091.4L169.3 1093.8L175.1 1096.2L180.8 1098.3L186.6 1100.4L192.4 1102.2L198.2 1103.7L204.0 1105.0L209.8 1105.8L215.6 1106.4L221.4 1106.7L227.2 1106.6L233.0 1106.0L238.8 1105.1L244.6 1103.8L250.3 1101.9L252.3 1101.1L254.2 1100.4L256.1 1099.6L258.1 1098.8L260.0 1097.8L261.9 1096.8L263.9 1095.8L265.8 1094.8L267.7 1093.7L269.7 1092.6M300.5 1092.6L302.5 1093.7L304.4 1094.8L306.3 1095.8L308.3 1096.8L310.2 1097.8L312.1 1098.8L314.1 1099.6L316.0 1100.4L317.9 1101.1L319.9 1101.9L325.6 1103.8L331.4 1105.1L337.2 1106.0L343.0 1106.6L348.8 1106.7L354.6 1106.4L360.4 1105.8L366.2 1105.0L372.0 1103.7L377.8 1102.2L383.6 1100.4L389.4 1098.3L395.1 1096.2L400.9 1093.8L406.7 1091.4L409.6 1090.2L412.5 1089.0L415.4 1087.9L418.3 1086.7L421.2 1085.5L424.1 1084.5L427.0 1083.4L429.9 1082.5" stroke="#999999" stroke-width="1.5"/>
</g>
<line x1="201.5" x2="237.5" y1="990.4" y2="990.4" stroke="#0072bd" stroke-width="4.3" stroke-linecap="round"/>
<line x1="336.5" x2="373" y1="990.4" y2="990.4" stroke="#d95319" stroke-width="4.3" stroke-linecap="round"/>
<text transform='translate(169.36 986.9)' font-size='25.9' font-family='"DejaVu Math TeX Gyre", "DejaVu Sans", sans-serif' fill='#231f20' stroke='#231f20' stroke-width='0.1'>↓</text>
<text transform='translate(382.66 986.9)' font-size='25.9' font-family='"DejaVu Math TeX Gyre", "DejaVu Sans", sans-serif' fill='#231f20' stroke='#231f20' stroke-width='0.1'>↑</text>
<rect x="140.3" y="848.3" width="289.6" height="467.7" fill="none" stroke="#262626" stroke-width="2.2"/>
<path d="M140.3 1316 v-4.5 M140.3 848.3 v4.5 M212.7 1316 v-4.5 M212.7 848.3 v4.5 M285.1 1316 v-4.5 M285.1 848.3 v4.5 M357.5 1316 v-4.5 M357.5 848.3 v4.5 M429.9 1316 v-4.5 M429.9 848.3 v4.5 M140.3 848.31 h4.5 M429.9 848.31 h-4.5 M140.3 965.23 h4.5 M429.9 965.23 h-4.5 M140.3 1082.15 h4.5 M429.9 1082.15 h-4.5 M140.3 1199.07 h4.5 M429.9 1199.07 h-4.5 M140.3 1315.99 h4.5 M429.9 1315.99 h-4.5 " stroke="#262626" stroke-width="2" fill="none"/>
<g font-size="29">
<text x="112" y="856.81" text-anchor="end">200</text>
<text x="104.4" y="973.73" text-anchor="end">100</text>
<text x="99.2" y="1091.85" text-anchor="end">0</text>
<text x="99.9" y="1207.57" text-anchor="end">-100</text>
<text x="105.3" y="1324.49" text-anchor="end">-200</text>
<text x="134.8" y="1354.5" text-anchor="middle">-1</text>
<text x="285" y="1354.5" text-anchor="middle">0</text>
<text x="429.5" y="1354.5" text-anchor="middle">1</text>
<text x="153.8" y="1403" font-size="28.8">Wavenumber k[π/a]</text>
<text transform="translate(33.8 1080.7) rotate(-90)" text-anchor="middle" font-size="28.7">Frequency [GHz]</text>
</g>
<rect x="558.1" y="848.3" width="230.5" height="467.7" fill="none" stroke="#262626" stroke-width="2.2"/>
<path d="M558.1 848.3 v5 M788.6 848.3 v5 M558.1 1316 v-5 M788.6 1316 v-5" stroke="#262626" stroke-width="2.2"/>
<line x1="590.5" x2="590.5" y1="1313" y2="850.5" stroke="#bfbfbf" stroke-width="2.8" stroke-dasharray="12.5 8.75" stroke-dashoffset="4"/>
<clipPath id="cp2"><rect x="558.1" y="848.3" width="231.5" height="467.7"/></clipPath>
<g clip-path="url(#cp2)" fill="none">
<path d="M627.5 990.5 L626.5 990.88 L625.11 991.39 L623.47 992.01 L621.72 992.72 L620 993.5 L618.28 994.35 L616.46 995.28 L614.6 996.3 L612.76 997.37 L611 998.5 L609.3 999.68 L607.63 1000.92 L606.01 1002.22 L604.46 1003.58 L603 1005 L601.63 1006.49 L600.34 1008.04 L599.12 1009.66 L598.01 1011.31 L597 1013 L596.11 1014.72 L595.33 1016.48 L594.65 1018.28 L594.04 1020.12 L593.5 1022 L593.01 1023.97 L592.58 1026.02 L592.22 1028.1 L591.96 1030.11 L591.8 1032 L591.74 1033.76 L591.77 1035.44 L591.9 1037.04 L592.14 1038.56 L592.5 1040 L592.96 1041.36 L593.53 1042.63 L594.21 1043.82 L595.03 1044.94 L596 1046 L597.13 1047.01 L598.4 1047.95 L599.82 1048.83 L601.35 1049.61 L603 1050.3 L604.76 1050.86 L606.64 1051.31 L608.64 1051.68 L610.76 1052 L613 1052.3 L615.31 1052.57 L617.7 1052.8 L620.22 1052.99 L622.97 1053.15 L626 1053.3 L629.16 1053.42 L632.4 1053.52 L635.96 1053.59 L640.08 1053.65 L645 1053.7 L649.8 1053.74 L654.32 1053.77 L659.93 1053.78 L668.03 1053.79 L680 1053.8 L698.75 1053.81 L723.35 1053.81 L749.45 1053.8 L772.65 1053.8 L788.6 1053.8" stroke="#d95319" stroke-width="3.2"/>
<path d="M788.6 1053.8 L772.65 1053.8 L749.45 1053.8 L723.35 1053.81 L698.75 1053.81 L680 1053.8 L668.03 1053.79 L659.93 1053.78 L654.32 1053.77 L649.8 1053.74 L645 1053.7 L640.08 1053.65 L635.96 1053.59 L632.4 1053.52 L629.16 1053.42 L626 1053.3 L622.97 1053.15 L620.22 1052.99 L617.7 1052.8 L615.31 1052.57 L613 1052.3 L610.76 1052 L608.64 1051.68 L606.64 1051.31 L604.76 1050.86 L603 1050.3 L601.35 1049.61 L599.82 1048.83 L598.4 1047.95 L597.13 1047.01 L596 1046 L595.03 1044.94 L594.21 1043.82 L593.53 1042.63 L592.96 1041.36 L592.5 1040 L592.14 1038.56 L591.9 1037.04 L591.77 1035.44 L591.74 1033.76 L591.8 1032 L591.96 1030.11 L592.22 1028.1 L592.58 1026.02 L593.01 1023.97 L593.5 1022 L594.04 1020.12 L594.65 1018.28 L595.33 1016.48 L596.11 1014.72 L597 1013 L598.01 1011.31 L599.12 1009.66 L600.34 1008.04 L601.63 1006.49 L603 1005 L604.46 1003.58 L606.01 1002.22 L607.63 1000.92 L609.3 999.68 L611 998.5 L612.76 997.37 L614.6 996.3 L616.46 995.28 L618.28 994.35 L620 993.5 L621.72 992.72 L623.47 992.01 L625.11 991.39 L626.5 990.88 L627.5 990.5" stroke="#0072bd" stroke-width="4.6" stroke-dasharray="22 18.4" stroke-dashoffset="0"/>
<path d="M627.5 1172.7 L626.5 1172.32 L625.11 1171.81 L623.47 1171.19 L621.72 1170.48 L620 1169.7 L618.28 1168.85 L616.46 1167.92 L614.6 1166.9 L612.76 1165.83 L611 1164.7 L609.3 1163.52 L607.63 1162.28 L606.01 1160.98 L604.46 1159.62 L603 1158.2 L601.63 1156.71 L600.34 1155.16 L599.12 1153.54 L598.01 1151.89 L597 1150.2 L596.11 1148.48 L595.33 1146.72 L594.65 1144.92 L594.04 1143.08 L593.5 1141.2 L593.01 1139.23 L592.58 1137.18 L592.22 1135.1 L591.96 1133.09 L591.8 1131.2 L591.74 1129.44 L591.77 1127.76 L591.9 1126.16 L592.14 1124.64 L592.5 1123.2 L592.96 1121.84 L593.53 1120.57 L594.21 1119.38 L595.03 1118.26 L596 1117.2 L597.13 1116.19 L598.4 1115.25 L599.82 1114.37 L601.35 1113.59 L603 1112.9 L604.76 1112.34 L606.64 1111.89 L608.64 1111.52 L610.76 1111.2 L613 1110.9 L615.31 1110.63 L617.7 1110.4 L620.22 1110.21 L622.97 1110.05 L626 1109.9 L629.16 1109.78 L632.4 1109.68 L635.96 1109.61 L640.08 1109.55 L645 1109.5 L649.8 1109.46 L654.32 1109.43 L659.93 1109.42 L668.03 1109.41 L680 1109.4 L698.75 1109.39 L723.35 1109.39 L749.45 1109.4 L772.65 1109.4 L788.6 1109.4" stroke="#d95319" stroke-width="3.2"/>
<path d="M788.6 1109.4 L772.65 1109.4 L749.45 1109.4 L723.35 1109.39 L698.75 1109.39 L680 1109.4 L668.03 1109.41 L659.93 1109.42 L654.32 1109.43 L649.8 1109.46 L645 1109.5 L640.08 1109.55 L635.96 1109.61 L632.4 1109.68 L629.16 1109.78 L626 1109.9 L622.97 1110.05 L620.22 1110.21 L617.7 1110.4 L615.31 1110.63 L613 1110.9 L610.76 1111.2 L608.64 1111.52 L606.64 1111.89 L604.76 1112.34 L603 1112.9 L601.35 1113.59 L599.82 1114.37 L598.4 1115.25 L597.13 1116.19 L596 1117.2 L595.03 1118.26 L594.21 1119.38 L593.53 1120.57 L592.96 1121.84 L592.5 1123.2 L592.14 1124.64 L591.9 1126.16 L591.77 1127.76 L591.74 1129.44 L591.8 1131.2 L591.96 1133.09 L592.22 1135.1 L592.58 1137.18 L593.01 1139.23 L593.5 1141.2 L594.04 1143.08 L594.65 1144.92 L595.33 1146.72 L596.11 1148.48 L597 1150.2 L598.01 1151.89 L599.12 1153.54 L600.34 1155.16 L601.63 1156.71 L603 1158.2 L604.46 1159.62 L606.01 1160.98 L607.63 1162.28 L609.3 1163.52 L611 1164.7 L612.76 1165.83 L614.6 1166.9 L616.46 1167.92 L618.28 1168.85 L620 1169.7 L621.72 1170.48 L623.47 1171.19 L625.11 1171.81 L626.5 1172.32 L627.5 1172.7" stroke="#0072bd" stroke-width="4.6" stroke-dasharray="22 18.4" stroke-dashoffset="0"/>
</g>
<line x1="670" x2="722" y1="1245.5" y2="1245.5" stroke="#d95319" stroke-width="3.2"/>
<line x1="670" x2="724" y1="1285.5" y2="1285.5" stroke="#0072bd" stroke-width="4.2" stroke-dasharray="17 5.5"/>
<text transform='translate(735.65 1248.9)' font-size='23.7' font-family='"DejaVu Math TeX Gyre", "DejaVu Sans", sans-serif' fill='#231f20' stroke='#231f20' stroke-width='0.1'>↑</text>
<text transform='translate(735.65 1289.8)' font-size='23.7' font-family='"DejaVu Math TeX Gyre", "DejaVu Sans", sans-serif' fill='#231f20' stroke='#231f20' stroke-width='0.1'>↓</text>
<g font-size="28.9" text-anchor="middle">
<text x="559.7" y="1352.3">0</text><text x="758.7" y="1352.3">2000</text><text x="689.6" y="1408.4">Group Index</text>
</g>
<text transform='translate(596.05 819.3)' font-size='29.4' font-family='"Liberation Serif", "DejaVu Serif", serif' fill='#111' stroke='#111' stroke-width='0.4'>|</text>
<text transform='translate(602.4 819.7) scale(1.19 1)' font-size='31.5' font-family='"Liberation Serif", "DejaVu Serif", serif' fill='#111' stroke='#111' stroke-width='0.08' font-style='italic'>n</text>
<text transform='translate(620.5 824.9) scale(1.15 1)' font-size='22.5' font-family='"Liberation Serif", "DejaVu Serif", serif' fill='#111' stroke='#111' stroke-width='0.08' font-style='italic'>g</text>
<text transform='translate(635.85 819.3)' font-size='29.4' font-family='"Liberation Serif", "DejaVu Serif", serif' fill='#111' stroke='#111' stroke-width='0.4'>|</text>
<text transform='translate(652.38 824.1)' font-size='38.5' font-family='"Liberation Serif", "DejaVu Serif", serif' fill='#111' stroke='#111' stroke-width='0.2'>&gt;</text>
<text transform='translate(682.33 820.2) scale(1.07 1)' font-size='29.5' font-family='"Liberation Serif", "DejaVu Serif", serif' fill='#111' stroke='#111' stroke-width='0.2'>280</text>
<g fill="none" stroke-linejoin="round" stroke-width="2.9">
<path d="M899.65 906.23 L1104.1 909.35 L1096.75 913.58 L1116.96 915.78 L899.65 920.93 L1104.1 926.44 L1137.16 928.27 L1128.9 931.03 L1045.32 934.7 L1119.71 938.01 L1082.06 941.68 L1118.8 945.17 L1065.53 947.56 L1126.14 951.23 L1135.33 955.83 L916.74 961.34 L1008.58 966.3 L899.65 969.6 L1054.5 972.91 L1118.8 976.58 L1086.65 980.26 L1139 983.38 L1131.65 986.14 L1130.73 995.32 L1131.65 1004.5 L1129.82 1017.36 L1127.06 1026.55 L1130.73 1029.3 L899.65 1032.98 L899.65 1043.08 L1066.99 1047.3 L982.87 1050.43 L899.65 1057.77 L1097.67 1064.75 L1094 1068.8 L899.65 1072.47 L899.65 1077.98 L1031.54 1085.33 L899.65 1089 L899.65 1090.21 L1008.58 1095.72 L1003.07 1100.31 L1033.38 1106.74 L899.65 1110.41 L1133.12 1117.39 L899.65 1122.35 L899.65 1176.54 L1026.03 1187.56 L899.65 1191.6 L1030.62 1198.58 L899.65 1202.26 L931.43 1205.93 L1144.51 1209.05 L1134.41 1212.91 L1056.34 1216.03 L1105.02 1219.71" stroke="#ed9a14"/>
<path d="M899.65 906.23 L1104.1 909.9 L1146.35 913.58 L1116.96 917.25 L899.65 920.37 L1107.77 925.52 L1151.49 924.05 L1105.94 926.44 L1096.75 931.03 L983.78 934.34 L1116.96 938.01 L1100.43 941.68 L1006.75 945.17 L1065.53 948.48 L1072.87 952.15 L1116.96 955.83 L916.74 959.13 L899.65 963.17 L899.65 965.93 L1054.5 972.91 L1008.58 976.95 L899.65 980.26 L1022.36 983.93 L899.65 987.05 L899.65 1043.08 L1046.24 1050.43 L899.65 1054.47 L1083.89 1057.77 L985.62 1061.45 L1077.47 1068.24 L899.65 1071.55 L1127.06 1075.22 L920.41 1081.65 L899.65 1086.25 L899.65 1087.45 L899.65 1092.04 L1089.4 1096.63 L899.65 1100.31 L899.65 1107.66 L1089.4 1114.09 L899.65 1121.43 L899.65 1130.62 L1135.33 1134.66 L1128.9 1139.8 L1131.65 1154.5 L1130.73 1167.35 L1132.57 1176.91 L899.65 1180.58 L1100.43 1187.93 L1010.42 1191.23 L1120.26 1194.91 L899.65 1198.58 L1127.06 1201.89 L940.62 1205.93 L1132.57 1209.6 L1023.28 1219.71 L1111.45 1221.91" stroke="#659c46"/>
<path d="M899.7 1243 v2.5 M899.7 1256.5 v2.5" stroke="#659c46"/>
</g>
<rect x="899.7" y="848.3" width="277.7" height="467.7" fill="none" stroke="#262626" stroke-width="2.2"/>
<path d="M899.7 1316 v-4.5 M899.7 848.3 v4.5 M1015.4 1316 v-4.5 M1015.4 848.3 v4.5 M1130.9 1316 v-4.5 M1130.9 848.3 v4.5 " stroke="#262626" stroke-width="2" fill="none"/>
<line x1="948" x2="973" y1="1255.8" y2="1255.8" stroke="#659c46" stroke-width="2.6"/>
<line x1="948" x2="973" y1="1290.8" y2="1290.8" stroke="#ed9a14" stroke-width="2.6"/>
<g font-size="28.9">
<text x="981.4" y="1264.8" font-size="26.8">Right Side</text><text x="981.8" y="1299.8" font-size="26.8">Left Side</text>
<g text-anchor="middle"><text x="900.4" y="1352.3">0</text><text x="1014.2" y="1352.3">0.5</text><text x="1126.7" y="1352.3">1</text><text x="1038.6" y="1408.4">Transmittance</text></g>
<text x="954.9" y="819.5" font-size="26.7">Pseudo−Spin</text>
<text transform='translate(1119.71 816) scale(1.1 1)' font-size='24.8' font-family='"DejaVu Math TeX Gyre", "DejaVu Sans", sans-serif' fill='#231f20' stroke='#231f20' stroke-width='0.1'>↑</text>
</g>
</g>
<g id="panel-de">
<clipPath id="cpd"><rect x="1291.8" y="829.3" width="670" height="214.5"/></clipPath>
<rect x="1291.8" y="829.3" width="670" height="214.5" fill="#000"/>
<g clip-path="url(#cpd)" fill="none">
<g stroke-width="3.4" stroke-opacity="0.4"><path d="M1283.7 856.7a5.9 5.9 0 1 0 11.8 0a5.9 5.9 0 1 0 -11.8 0M1300.2 856.7a5.9 5.9 0 1 0 11.8 0a5.9 5.9 0 1 0 -11.8 0M1316.7 856.7a5.9 5.9 0 1 0 11.8 0a5.9 5.9 0 1 0 -11.8 0M1333.2 856.7a5.9 5.9 0 1 0 11.8 0a5.9 5.9 0 1 0 -11.8 0M1349.7 856.7a5.9 5.9 0 1 0 11.8 0a5.9 5.9 0 1 0 -11.8 0M1366.2 856.7a5.9 5.9 0 1 0 11.8 0a5.9 5.9 0 1 0 -11.8 0M1382.7 856.7a5.9 5.9 0 1 0 11.8 0a5.9 5.9 0 1 0 -11.8 0M1399.2 856.7a5.9 5.9 0 1 0 11.8 0a5.9 5.9 0 1 0 -11.8 0M1415.7 856.7a5.9 5.9 0 1 0 11.8 0a5.9 5.9 0 1 0 -11.8 0M1432.2 856.7a5.9 5.9 0 1 0 11.8 0a5.9 5.9 0 1 0 -11.8 0M1448.7 856.7a5.9 5.9 0 1 0 11.8 0a5.9 5.9 0 1 0 -11.8 0M1465.2 856.7a5.9 5.9 0 1 0 11.8 0a5.9 5.9 0 1 0 -11.8 0M1481.7 856.7a5.9 5.9 0 1 0 11.8 0a5.9 5.9 0 1 0 -11.8 0M1498.2 856.7a5.9 5.9 0 1 0 11.8 0a5.9 5.9 0 1 0 -11.8 0M1514.7 856.7a5.9 5.9 0 1 0 11.8 0a5.9 5.9 0 1 0 -11.8 0M1531.2 856.7a5.9 5.9 0 1 0 11.8 0a5.9 5.9 0 1 0 -11.8 0M1283.7 873.17a5.9 5.9 0 1 0 11.8 0a5.9 5.9 0 1 0 -11.8 0M1300.2 873.17a5.9 5.9 0 1 0 11.8 0a5.9 5.9 0 1 0 -11.8 0M1316.7 873.17a5.9 5.9 0 1 0 11.8 0a5.9 5.9 0 1 0 -11.8 0M1333.2 873.17a5.9 5.9 0 1 0 11.8 0a5.9 5.9 0 1 0 -11.8 0M1349.7 873.17a5.9 5.9 0 1 0 11.8 0a5.9 5.9 0 1 0 -11.8 0M1366.2 873.17a5.9 5.9 0 1 0 11.8 0a5.9 5.9 0 1 0 -11.8 0M1382.7 873.17a5.9 5.9 0 1 0 11.8 0a5.9 5.9 0 1 0 -11.8 0M1399.2 873.17a5.9 5.9 0 1 0 11.8 0a5.9 5.9 0 1 0 -11.8 0M1415.7 873.17a5.9 5.9 0 1 0 11.8 0a5.9 5.9 0 1 0 -11.8 0M1432.2 873.17a5.9 5.9 0 1 0 11.8 0a5.9 5.9 0 1 0 -11.8 0M1448.7 873.17a5.9 5.9 0 1 0 11.8 0a5.9 5.9 0 1 0 -11.8 0M1465.2 873.17a5.9 5.9 0 1 0 11.8 0a5.9 5.9 0 1 0 -11.8 0M1481.7 873.17a5.9 5.9 0 1 0 11.8 0a5.9 5.9 0 1 0 -11.8 0M1498.2 873.17a5.9 5.9 0 1 0 11.8 0a5.9 5.9 0 1 0 -11.8 0M1514.7 873.17a5.9 5.9 0 1 0 11.8 0a5.9 5.9 0 1 0 -11.8 0M1531.2 873.17a5.9 5.9 0 1 0 11.8 0a5.9 5.9 0 1 0 -11.8 0M1283.7 889.64a5.9 5.9 0 1 0 11.8 0a5.9 5.9 0 1 0 -11.8 0M1300.2 889.64a5.9 5.9 0 1 0 11.8 0a5.9 5.9 0 1 0 -11.8 0M1316.7 889.64a5.9 5.9 0 1 0 11.8 0a5.9 5.9 0 1 0 -11.8 0M1333.2 889.64a5.9 5.9 0 1 0 11.8 0a5.9 5.9 0 1 0 -11.8 0M1349.7 889.64a5.9 5.9 0 1 0 11.8 0a5.9 5.9 0 1 0 -11.8 0M1366.2 889.64a5.9 5.9 0 1 0 11.8 0a5.9 5.9 0 1 0 -11.8 0M1382.7 889.64a5.9 5.9 0 1 0 11.8 0a5.9 5.9 0 1 0 -11.8 0M1399.2 889.64a5.9 5.9 0 1 0 11.8 0a5.9 5.9 0 1 0 -11.8 0M1415.7 889.64a5.9 5.9 0 1 0 11.8 0a5.9 5.9 0 1 0 -11.8 0M1432.2 889.64a5.9 5.9 0 1 0 11.8 0a5.9 5.9 0 1 0 -11.8 0M1448.7 889.64a5.9 5.9 0 1 0 11.8 0a5.9 5.9 0 1 0 -11.8 0M1465.2 889.64a5.9 5.9 0 1 0 11.8 0a5.9 5.9 0 1 0 -11.8 0M1481.7 889.64a5.9 5.9 0 1 0 11.8 0a5.9 5.9 0 1 0 -11.8 0M1498.2 889.64a5.9 5.9 0 1 0 11.8 0a5.9 5.9 0 1 0 -11.8 0M1514.7 889.64a5.9 5.9 0 1 0 11.8 0a5.9 5.9 0 1 0 -11.8 0M1531.2 889.64a5.9 5.9 0 1 0 11.8 0a5.9 5.9 0 1 0 -11.8 0M1547.7 889.64a5.9 5.9 0 1 0 11.8 0a5.9 5.9 0 1 0 -11.8 0M1564.2 889.64a5.9 5.9 0 1 0 11.8 0a5.9 5.9 0 1 0 -11.8 0M1283.7 906.11a5.9 5.9 0 1 0 11.8 0a5.9 5.9 0 1 0 -11.8 0M1300.2 906.11a5.9 5.9 0 1 0 11.8 0a5.9 5.9 0 1 0 -11.8 0M1316.7 906.11a5.9 5.9 0 1 0 11.8 0a5.9 5.9 0 1 0 -11.8 0M1333.2 906.11a5.9 5.9 0 1 0 11.8 0a5.9 5.9 0 1 0 -11.8 0M1349.7 906.11a5.9 5.9 0 1 0 11.8 0a5.9 5.9 0 1 0 -11.8 0M1366.2 906.11a5.9 5.9 0 1 0 11.8 0a5.9 5.9 0 1 0 -11.8 0M1382.7 906.11a5.9 5.9 0 1 0 11.8 0a5.9 5.9 0 1 0 -11.8 0M1399.2 906.11a5.9 5.9 0 1 0 11.8 0a5.9 5.9 0 1 0 -11.8 0M1415.7 906.11a5.9 5.9 0 1 0 11.8 0a5.9 5.9 0 1 0 -11.8 0M1432.2 906.11a5.9 5.9 0 1 0 11.8 0a5.9 5.9 0 1 0 -11.8 0M1448.7 906.11a5.9 5.9 0 1 0 11.8 0a5.9 5.9 0 1 0 -11.8 0M1465.2 906.11a5.9 5.9 0 1 0 11.8 0a5.9 5.9 0 1 0 -11.8 0M1481.7 906.11a5.9 5.9 0 1 0 11.8 0a5.9 5.9 0 1 0 -11.8 0M1498.2 906.11a5.9 5.9 0 1 0 11.8 0a5.9 5.9 0 1 0 -11.8 0M1514.7 906.11a5.9 5.9 0 1 0 11.8 0a5.9 5.9 0 1 0 -11.8 0M1564.2 906.11a5.9 5.9 0 1 0 11.8 0a5.9 5.9 0 1 0 -11.8 0M1283.7 922.58a5.9 5.9 0 1 0 11.8 0a5.9 5.9 0 1 0 -11.8 0M1300.2 922.58a5.9 5.9 0 1 0 11.8 0a5.9 5.9 0 1 0 -11.8 0M1316.7 922.58a5.9 5.9 0 1 0 11.8 0a5.9 5.9 0 1 0 -11.8 0M1333.2 922.58a5.9 5.9 0 1 0 11.8 0a5.9 5.9 0 1 0 -11.8 0M1349.7 922.58a5.9 5.9 0 1 0 11.8 0a5.9 5.9 0 1 0 -11.8 0M1366.2 922.58a5.9 5.9 0 1 0 11.8 0a5.9 5.9 0 1 0 -11.8 0M1382.7 922.58a5.9 5.9 0 1 0 11.8 0a5.9 5.9 0 1 0 -11.8 0M1399.2 922.58a5.9 5.9 0 1 0 11.8 0a5.9 5.9 0 1 0 -11.8 0M1415.7 922.58a5.9 5.9 0 1 0 11.8 0a5.9 5.9 0 1 0 -11.8 0M1432.2 922.58a5.9 5.9 0 1 0 11.8 0a5.9 5.9 0 1 0 -11.8 0M1448.7 922.58a5.9 5.9 0 1 0 11.8 0a5.9 5.9 0 1 0 -11.8 0M1465.2 922.58a5.9 5.9 0 1 0 11.8 0a5.9 5.9 0 1 0 -11.8 0M1481.7 922.58a5.9 5.9 0 1 0 11.8 0a5.9 5.9 0 1 0 -11.8 0M1498.2 922.58a5.9 5.9 0 1 0 11.8 0a5.9 5.9 0 1 0 -11.8 0M1514.7 922.58a5.9 5.9 0 1 0 11.8 0a5.9 5.9 0 1 0 -11.8 0M1531.2 922.58a5.9 5.9 0 1 0 11.8 0a5.9 5.9 0 1 0 -11.8 0M1547.7 922.58a5.9 5.9 0 1 0 11.8 0a5.9 5.9 0 1 0 -11.8 0M1283.7 939.05a5.9 5.9 0 1 0 11.8 0a5.9 5.9 0 1 0 -11.8 0M1300.2 939.05a5.9 5.9 0 1 0 11.8 0a5.9 5.9 0 1 0 -11.8 0M1316.7 939.05a5.9 5.9 0 1 0 11.8 0a5.9 5.9 0 1 0 -11.8 0M1333.2 939.05a5.9 5.9 0 1 0 11.8 0a5.9 5.9 0 1 0 -11.8 0M1349.7 939.05a5.9 5.9 0 1 0 11.8 0a5.9 5.9 0 1 0 -11.8 0M1366.2 939.05a5.9 5.9 0 1 0 11.8 0a5.9 5.9 0 1 0 -11.8 0M1382.7 939.05a5.9 5.9 0 1 0 11.8 0a5.9 5.9 0 1 0 -11.8 0M1399.2 939.05a5.9 5.9 0 1 0 11.8 0a5.9 5.9 0 1 0 -11.8 0M1415.7 939.05a5.9 5.9 0 1 0 11.8 0a5.9 5.9 0 1 0 -11.8 0M1432.2 939.05a5.9 5.9 0 1 0 11.8 0a5.9 5.9 0 1 0 -11.8 0M1448.7 939.05a5.9 5.9 0 1 0 11.8 0a5.9 5.9 0 1 0 -11.8 0M1465.2 939.05a5.9 5.9 0 1 0 11.8 0a5.9 5.9 0 1 0 -11.8 0M1481.7 939.05a5.9 5.9 0 1 0 11.8 0a5.9 5.9 0 1 0 -11.8 0M1498.2 939.05a5.9 5.9 0 1 0 11.8 0a5.9 5.9 0 1 0 -11.8 0M1514.7 939.05a5.9 5.9 0 1 0 11.8 0a5.9 5.9 0 1 0 -11.8 0M1531.2 939.05a5.9 5.9 0 1 0 11.8 0a5.9 5.9 0 1 0 -11.8 0M1547.7 939.05a5.9 5.9 0 1 0 11.8 0a5.9 5.9 0 1 0 -11.8 0M1564.2 939.05a5.9 5.9 0 1 0 11.8 0a5.9 5.9 0 1 0 -11.8 0M1580.7 939.05a5.9 5.9 0 1 0 11.8 0a5.9 5.9 0 1 0 -11.8 0M1597.2 939.05a5.9 5.9 0 1 0 11.8 0a5.9 5.9 0 1 0 -11.8 0M1778.7 939.05a5.9 5.9 0 1 0 11.8 0a5.9 5.9 0 1 0 -11.8 0M1910.7 939.05a5.9 5.9 0 1 0 11.8 0a5.9 5.9 0 1 0 -11.8 0M1283.7 955.52a5.9 5.9 0 1 0 11.8 0a5.9 5.9 0 1 0 -11.8 0M1300.2 955.52a5.9 5.9 0 1 0 11.8 0a5.9 5.9 0 1 0 -11.8 0M1316.7 955.52a5.9 5.9 0 1 0 11.8 0a5.9 5.9 0 1 0 -11.8 0M1333.2 955.52a5.9 5.9 0 1 0 11.8 0a5.9 5.9 0 1 0 -11.8 0M1349.7 955.52a5.9 5.9 0 1 0 11.8 0a5.9 5.9 0 1 0 -11.8 0M1366.2 955.52a5.9 5.9 0 1 0 11.8 0a5.9 5.9 0 1 0 -11.8 0M1382.7 955.52a5.9 5.9 0 1 0 11.8 0a5.9 5.9 0 1 0 -11.8 0M1399.2 955.52a5.9 5.9 0 1 0 11.8 0a5.9 5.9 0 1 0 -11.8 0M1415.7 955.52a5.9 5.9 0 1 0 11.8 0a5.9 5.9 0 1 0 -11.8 0M1432.2 955.52a5.9 5.9 0 1 0 11.8 0a5.9 5.9 0 1 0 -11.8 0M1448.7 955.52a5.9 5.9 0 1 0 11.8 0a5.9 5.9 0 1 0 -11.8 0M1465.2 955.52a5.9 5.9 0 1 0 11.8 0a5.9 5.9 0 1 0 -11.8 0M1481.7 955.52a5.9 5.9 0 1 0 11.8 0a5.9 5.9 0 1 0 -11.8 0M1498.2 955.52a5.9 5.9 0 1 0 11.8 0a5.9 5.9 0 1 0 -11.8 0M1514.7 955.52a5.9 5.9 0 1 0 11.8 0a5.9 5.9 0 1 0 -11.8 0M1531.2 955.52a5.9 5.9 0 1 0 11.8 0a5.9 5.9 0 1 0 -11.8 0M1547.7 955.52a5.9 5.9 0 1 0 11.8 0a5.9 5.9 0 1 0 -11.8 0M1564.2 955.52a5.9 5.9 0 1 0 11.8 0a5.9 5.9 0 1 0 -11.8 0M1283.7 971.99a5.9 5.9 0 1 0 11.8 0a5.9 5.9 0 1 0 -11.8 0M1300.2 971.99a5.9 5.9 0 1 0 11.8 0a5.9 5.9 0 1 0 -11.8 0M1316.7 971.99a5.9 5.9 0 1 0 11.8 0a5.9 5.9 0 1 0 -11.8 0M1333.2 971.99a5.9 5.9 0 1 0 11.8 0a5.9 5.9 0 1 0 -11.8 0M1349.7 971.99a5.9 5.9 0 1 0 11.8 0a5.9 5.9 0 1 0 -11.8 0M1366.2 971.99a5.9 5.9 0 1 0 11.8 0a5.9 5.9 0 1 0 -11.8 0M1382.7 971.99a5.9 5.9 0 1 0 11.8 0a5.9 5.9 0 1 0 -11.8 0M1399.2 971.99a5.9 5.9 0 1 0 11.8 0a5.9 5.9 0 1 0 -11.8 0M1415.7 971.99a5.9 5.9 0 1 0 11.8 0a5.9 5.9 0 1 0 -11.8 0M1432.2 971.99a5.9 5.9 0 1 0 11.8 0a5.9 5.9 0 1 0 -11.8 0M1448.7 971.99a5.9 5.9 0 1 0 11.8 0a5.9 5.9 0 1 0 -11.8 0M1465.2 971.99a5.9 5.9 0 1 0 11.8 0a5.9 5.9 0 1 0 -11.8 0M1481.7 971.99a5.9 5.9 0 1 0 11.8 0a5.9 5.9 0 1 0 -11.8 0M1498.2 971.99a5.9 5.9 0 1 0 11.8 0a5.9 5.9 0 1 0 -11.8 0M1514.7 971.99a5.9 5.9 0 1 0 11.8 0a5.9 5.9 0 1 0 -11.8 0M1531.2 971.99a5.9 5.9 0 1 0 11.8 0a5.9 5.9 0 1 0 -11.8 0M1547.7 971.99a5.9 5.9 0 1 0 11.8 0a5.9 5.9 0 1 0 -11.8 0M1564.2 971.99a5.9 5.9 0 1 0 11.8 0a5.9 5.9 0 1 0 -11.8 0M1580.7 971.99a5.9 5.9 0 1 0 11.8 0a5.9 5.9 0 1 0 -11.8 0M1696.2 971.99a5.9 5.9 0 1 0 11.8 0a5.9 5.9 0 1 0 -11.8 0M1283.7 988.46a5.9 5.9 0 1 0 11.8 0a5.9 5.9 0 1 0 -11.8 0M1300.2 988.46a5.9 5.9 0 1 0 11.8 0a5.9 5.9 0 1 0 -11.8 0M1316.7 988.46a5.9 5.9 0 1 0 11.8 0a5.9 5.9 0 1 0 -11.8 0M1333.2 988.46a5.9 5.9 0 1 0 11.8 0a5.9 5.9 0 1 0 -11.8 0M1349.7 988.46a5.9 5.9 0 1 0 11.8 0a5.9 5.9 0 1 0 -11.8 0M1366.2 988.46a5.9 5.9 0 1 0 11.8 0a5.9 5.9 0 1 0 -11.8 0M1382.7 988.46a5.9 5.9 0 1 0 11.8 0a5.9 5.9 0 1 0 -11.8 0M1399.2 988.46a5.9 5.9 0 1 0 11.8 0a5.9 5.9 0 1 0 -11.8 0M1415.7 988.46a5.9 5.9 0 1 0 11.8 0a5.9 5.9 0 1 0 -11.8 0M1432.2 988.46a5.9 5.9 0 1 0 11.8 0a5.9 5.9 0 1 0 -11.8 0M1448.7 988.46a5.9 5.9 0 1 0 11.8 0a5.9 5.9 0 1 0 -11.8 0M1465.2 988.46a5.9 5.9 0 1 0 11.8 0a5.9 5.9 0 1 0 -11.8 0M1481.7 988.46a5.9 5.9 0 1 0 11.8 0a5.9 5.9 0 1 0 -11.8 0M1498.2 988.46a5.9 5.9 0 1 0 11.8 0a5.9 5.9 0 1 0 -11.8 0M1514.7 988.46a5.9 5.9 0 1 0 11.8 0a5.9 5.9 0 1 0 -11.8 0M1531.2 988.46a5.9 5.9 0 1 0 11.8 0a5.9 5.9 0 1 0 -11.8 0M1547.7 988.46a5.9 5.9 0 1 0 11.8 0a5.9 5.9 0 1 0 -11.8 0M1564.2 988.46a5.9 5.9 0 1 0 11.8 0a5.9 5.9 0 1 0 -11.8 0M1580.7 988.46a5.9 5.9 0 1 0 11.8 0a5.9 5.9 0 1 0 -11.8 0M1597.2 988.46a5.9 5.9 0 1 0 11.8 0a5.9 5.9 0 1 0 -11.8 0M1630.2 988.46a5.9 5.9 0 1 0 11.8 0a5.9 5.9 0 1 0 -11.8 0M1663.2 988.46a5.9 5.9 0 1 0 11.8 0a5.9 5.9 0 1 0 -11.8 0M1696.2 988.46a5.9 5.9 0 1 0 11.8 0a5.9 5.9 0 1 0 -11.8 0M1729.2 988.46a5.9 5.9 0 1 0 11.8 0a5.9 5.9 0 1 0 -11.8 0M1811.7 988.46a5.9 5.9 0 1 0 11.8 0a5.9 5.9 0 1 0 -11.8 0M1943.7 988.46a5.9 5.9 0 1 0 11.8 0a5.9 5.9 0 1 0 -11.8 0M1960.2 988.46a5.9 5.9 0 1 0 11.8 0a5.9 5.9 0 1 0 -11.8 0M1283.7 1004.93a5.9 5.9 0 1 0 11.8 0a5.9 5.9 0 1 0 -11.8 0M1300.2 1004.93a5.9 5.9 0 1 0 11.8 0a5.9 5.9 0 1 0 -11.8 0M1316.7 1004.93a5.9 5.9 0 1 0 11.8 0a5.9 5.9 0 1 0 -11.8 0M1333.2 1004.93a5.9 5.9 0 1 0 11.8 0a5.9 5.9 0 1 0 -11.8 0M1349.7 1004.93a5.9 5.9 0 1 0 11.8 0a5.9 5.9 0 1 0 -11.8 0M1366.2 1004.93a5.9 5.9 0 1 0 11.8 0a5.9 5.9 0 1 0 -11.8 0M1382.7 1004.93a5.9 5.9 0 1 0 11.8 0a5.9 5.9 0 1 0 -11.8 0M1399.2 1004.93a5.9 5.9 0 1 0 11.8 0a5.9 5.9 0 1 0 -11.8 0M1415.7 1004.93a5.9 5.9 0 1 0 11.8 0a5.9 5.9 0 1 0 -11.8 0M1432.2 1004.93a5.9 5.9 0 1 0 11.8 0a5.9 5.9 0 1 0 -11.8 0M1448.7 1004.93a5.9 5.9 0 1 0 11.8 0a5.9 5.9 0 1 0 -11.8 0M1465.2 1004.93a5.9 5.9 0 1 0 11.8 0a5.9 5.9 0 1 0 -11.8 0M1481.7 1004.93a5.9 5.9 0 1 0 11.8 0a5.9 5.9 0 1 0 -11.8 0M1498.2 1004.93a5.9 5.9 0 1 0 11.8 0a5.9 5.9 0 1 0 -11.8 0M1514.7 1004.93a5.9 5.9 0 1 0 11.8 0a5.9 5.9 0 1 0 -11.8 0M1531.2 1004.93a5.9 5.9 0 1 0 11.8 0a5.9 5.9 0 1 0 -11.8 0M1547.7 1004.93a5.9 5.9 0 1 0 11.8 0a5.9 5.9 0 1 0 -11.8 0M1564.2 1004.93a5.9 5.9 0 1 0 11.8 0a5.9 5.9 0 1 0 -11.8 0M1580.7 1004.93a5.9 5.9 0 1 0 11.8 0a5.9 5.9 0 1 0 -11.8 0M1597.2 1004.93a5.9 5.9 0 1 0 11.8 0a5.9 5.9 0 1 0 -11.8 0M1613.7 1004.93a5.9 5.9 0 1 0 11.8 0a5.9 5.9 0 1 0 -11.8 0M1630.2 1004.93a5.9 5.9 0 1 0 11.8 0a5.9 5.9 0 1 0 -11.8 0M1646.7 1004.93a5.9 5.9 0 1 0 11.8 0a5.9 5.9 0 1 0 -11.8 0M1663.2 1004.93a5.9 5.9 0 1 0 11.8 0a5.9 5.9 0 1 0 -11.8 0M1679.7 1004.93a5.9 5.9 0 1 0 11.8 0a5.9 5.9 0 1 0 -11.8 0M1696.2 1004.93a5.9 5.9 0 1 0 11.8 0a5.9 5.9 0 1 0 -11.8 0M1712.7 1004.93a5.9 5.9 0 1 0 11.8 0a5.9 5.9 0 1 0 -11.8 0M1729.2 1004.93a5.9 5.9 0 1 0 11.8 0a5.9 5.9 0 1 0 -11.8 0M1745.7 1004.93a5.9 5.9 0 1 0 11.8 0a5.9 5.9 0 1 0 -11.8 0M1762.2 1004.93a5.9 5.9 0 1 0 11.8 0a5.9 5.9 0 1 0 -11.8 0M1778.7 1004.93a5.9 5.9 0 1 0 11.8 0a5.9 5.9 0 1 0 -11.8 0M1927.2 1004.93a5.9 5.9 0 1 0 11.8 0a5.9 5.9 0 1 0 -11.8 0M1943.7 1004.93a5.9 5.9 0 1 0 11.8 0a5.9 5.9 0 1 0 -11.8 0M1960.2 1004.93a5.9 5.9 0 1 0 11.8 0a5.9 5.9 0 1 0 -11.8 0M1283.7 1021.4a5.9 5.9 0 1 0 11.8 0a5.9 5.9 0 1 0 -11.8 0M1300.2 1021.4a5.9 5.9 0 1 0 11.8 0a5.9 5.9 0 1 0 -11.8 0M1316.7 1021.4a5.9 5.9 0 1 0 11.8 0a5.9 5.9 0 1 0 -11.8 0M1333.2 1021.4a5.9 5.9 0 1 0 11.8 0a5.9 5.9 0 1 0 -11.8 0M1349.7 1021.4a5.9 5.9 0 1 0 11.8 0a5.9 5.9 0 1 0 -11.8 0M1366.2 1021.4a5.9 5.9 0 1 0 11.8 0a5.9 5.9 0 1 0 -11.8 0M1382.7 1021.4a5.9 5.9 0 1 0 11.8 0a5.9 5.9 0 1 0 -11.8 0M1399.2 1021.4a5.9 5.9 0 1 0 11.8 0a5.9 5.9 0 1 0 -11.8 0M1415.7 1021.4a5.9 5.9 0 1 0 11.8 0a5.9 5.9 0 1 0 -11.8 0M1432.2 1021.4a5.9 5.9 0 1 0 11.8 0a5.9 5.9 0 1 0 -11.8 0M1448.7 1021.4a5.9 5.9 0 1 0 11.8 0a5.9 5.9 0 1 0 -11.8 0M1465.2 1021.4a5.9 5.9 0 1 0 11.8 0a5.9 5.9 0 1 0 -11.8 0M1481.7 1021.4a5.9 5.9 0 1 0 11.8 0a5.9 5.9 0 1 0 -11.8 0M1498.2 1021.4a5.9 5.9 0 1 0 11.8 0a5.9 5.9 0 1 0 -11.8 0M1514.7 1021.4a5.9 5.9 0 1 0 11.8 0a5.9 5.9 0 1 0 -11.8 0M1531.2 1021.4a5.9 5.9 0 1 0 11.8 0a5.9 5.9 0 1 0 -11.8 0M1547.7 1021.4a5.9 5.9 0 1 0 11.8 0a5.9 5.9 0 1 0 -11.8 0M1564.2 1021.4a5.9 5.9 0 1 0 11.8 0a5.9 5.9 0 1 0 -11.8 0M1580.7 1021.4a5.9 5.9 0 1 0 11.8 0a5.9 5.9 0 1 0 -11.8 0M1597.2 1021.4a5.9 5.9 0 1 0 11.8 0a5.9 5.9 0 1 0 -11.8 0M1613.7 1021.4a5.9 5.9 0 1 0 11.8 0a5.9 5.9 0 1 0 -11.8 0M1630.2 1021.4a5.9 5.9 0 1 0 11.8 0a5.9 5.9 0 1 0 -11.8 0M1646.7 1021.4a5.9 5.9 0 1 0 11.8 0a5.9 5.9 0 1 0 -11.8 0M1663.2 1021.4a5.9 5.9 0 1 0 11.8 0a5.9 5.9 0 1 0 -11.8 0M1679.7 1021.4a5.9 5.9 0 1 0 11.8 0a5.9 5.9 0 1 0 -11.8 0M1696.2 1021.4a5.9 5.9 0 1 0 11.8 0a5.9 5.9 0 1 0 -11.8 0M1712.7 1021.4a5.9 5.9 0 1 0 11.8 0a5.9 5.9 0 1 0 -11.8 0M1729.2 1021.4a5.9 5.9 0 1 0 11.8 0a5.9 5.9 0 1 0 -11.8 0M1745.7 1021.4a5.9 5.9 0 1 0 11.8 0a5.9 5.9 0 1 0 -11.8 0M1762.2 1021.4a5.9 5.9 0 1 0 11.8 0a5.9 5.9 0 1 0 -11.8 0M1778.7 1021.4a5.9 5.9 0 1 0 11.8 0a5.9 5.9 0 1 0 -11.8 0M1795.2 1021.4a5.9 5.9 0 1 0 11.8 0a5.9 5.9 0 1 0 -11.8 0M1910.7 1021.4a5.9 5.9 0 1 0 11.8 0a5.9 5.9 0 1 0 -11.8 0M1927.2 1021.4a5.9 5.9 0 1 0 11.8 0a5.9 5.9 0 1 0 -11.8 0M1943.7 1021.4a5.9 5.9 0 1 0 11.8 0a5.9 5.9 0 1 0 -11.8 0M1960.2 1021.4a5.9 5.9 0 1 0 11.8 0a5.9 5.9 0 1 0 -11.8 0M1283.7 1037.87a5.9 5.9 0 1 0 11.8 0a5.9 5.9 0 1 0 -11.8 0M1300.2 1037.87a5.9 5.9 0 1 0 11.8 0a5.9 5.9 0 1 0 -11.8 0M1316.7 1037.87a5.9 5.9 0 1 0 11.8 0a5.9 5.9 0 1 0 -11.8 0M1333.2 1037.87a5.9 5.9 0 1 0 11.8 0a5.9 5.9 0 1 0 -11.8 0M1349.7 1037.87a5.9 5.9 0 1 0 11.8 0a5.9 5.9 0 1 0 -11.8 0M1366.2 1037.87a5.9 5.9 0 1 0 11.8 0a5.9 5.9 0 1 0 -11.8 0M1382.7 1037.87a5.9 5.9 0 1 0 11.8 0a5.9 5.9 0 1 0 -11.8 0M1399.2 1037.87a5.9 5.9 0 1 0 11.8 0a5.9 5.9 0 1 0 -11.8 0M1415.7 1037.87a5.9 5.9 0 1 0 11.8 0a5.9 5.9 0 1 0 -11.8 0M1432.2 1037.87a5.9 5.9 0 1 0 11.8 0a5.9 5.9 0 1 0 -11.8 0M1448.7 1037.87a5.9 5.9 0 1 0 11.8 0a5.9 5.9 0 1 0 -11.8 0M1465.2 1037.87a5.9 5.9 0 1 0 11.8 0a5.9 5.9 0 1 0 -11.8 0M1481.7 1037.87a5.9 5.9 0 1 0 11.8 0a5.9 5.9 0 1 0 -11.8 0M1498.2 1037.87a5.9 5.9 0 1 0 11.8 0a5.9 5.9 0 1 0 -11.8 0M1514.7 1037.87a5.9 5.9 0 1 0 11.8 0a5.9 5.9 0 1 0 -11.8 0M1531.2 1037.87a5.9 5.9 0 1 0 11.8 0a5.9 5.9 0 1 0 -11.8 0M1547.7 1037.87a5.9 5.9 0 1 0 11.8 0a5.9 5.9 0 1 0 -11.8 0M1564.2 1037.87a5.9 5.9 0 1 0 11.8 0a5.9 5.9 0 1 0 -11.8 0M1580.7 1037.87a5.9 5.9 0 1 0 11.8 0a5.9 5.9 0 1 0 -11.8 0M1597.2 1037.87a5.9 5.9 0 1 0 11.8 0a5.9 5.9 0 1 0 -11.8 0M1613.7 1037.87a5.9 5.9 0 1 0 11.8 0a5.9 5.9 0 1 0 -11.8 0M1630.2 1037.87a5.9 5.9 0 1 0 11.8 0a5.9 5.9 0 1 0 -11.8 0M1646.7 1037.87a5.9 5.9 0 1 0 11.8 0a5.9 5.9 0 1 0 -11.8 0M1663.2 1037.87a5.9 5.9 0 1 0 11.8 0a5.9 5.9 0 1 0 -11.8 0M1679.7 1037.87a5.9 5.9 0 1 0 11.8 0a5.9 5.9 0 1 0 -11.8 0M1696.2 1037.87a5.9 5.9 0 1 0 11.8 0a5.9 5.9 0 1 0 -11.8 0M1712.7 1037.87a5.9 5.9 0 1 0 11.8 0a5.9 5.9 0 1 0 -11.8 0M1729.2 1037.87a5.9 5.9 0 1 0 11.8 0a5.9 5.9 0 1 0 -11.8 0M1745.7 1037.87a5.9 5.9 0 1 0 11.8 0a5.9 5.9 0 1 0 -11.8 0M1762.2 1037.87a5.9 5.9 0 1 0 11.8 0a5.9 5.9 0 1 0 -11.8 0M1778.7 1037.87a5.9 5.9 0 1 0 11.8 0a5.9 5.9 0 1 0 -11.8 0M1795.2 1037.87a5.9 5.9 0 1 0 11.8 0a5.9 5.9 0 1 0 -11.8 0M1811.7 1037.87a5.9 5.9 0 1 0 11.8 0a5.9 5.9 0 1 0 -11.8 0M1828.2 1037.87a5.9 5.9 0 1 0 11.8 0a5.9 5.9 0 1 0 -11.8 0M1877.7 1037.87a5.9 5.9 0 1 0 11.8 0a5.9 5.9 0 1 0 -11.8 0M1894.2 1037.87a5.9 5.9 0 1 0 11.8 0a5.9 5.9 0 1 0 -11.8 0M1910.7 1037.87a5.9 5.9 0 1 0 11.8 0a5.9 5.9 0 1 0 -11.8 0M1927.2 1037.87a5.9 5.9 0 1 0 11.8 0a5.9 5.9 0 1 0 -11.8 0M1943.7 1037.87a5.9 5.9 0 1 0 11.8 0a5.9 5.9 0 1 0 -11.8 0M1960.2 1037.87a5.9 5.9 0 1 0 11.8 0a5.9 5.9 0 1 0 -11.8 0" stroke="#484848"/><path d="M1547.7 856.7a5.9 5.9 0 1 0 11.8 0a5.9 5.9 0 1 0 -11.8 0M1547.7 873.17a5.9 5.9 0 1 0 11.8 0a5.9 5.9 0 1 0 -11.8 0M1580.7 889.64a5.9 5.9 0 1 0 11.8 0a5.9 5.9 0 1 0 -11.8 0M1531.2 906.11a5.9 5.9 0 1 0 11.8 0a5.9 5.9 0 1 0 -11.8 0M1547.7 906.11a5.9 5.9 0 1 0 11.8 0a5.9 5.9 0 1 0 -11.8 0M1580.7 906.11a5.9 5.9 0 1 0 11.8 0a5.9 5.9 0 1 0 -11.8 0M1679.7 906.11a5.9 5.9 0 1 0 11.8 0a5.9 5.9 0 1 0 -11.8 0M1894.2 906.11a5.9 5.9 0 1 0 11.8 0a5.9 5.9 0 1 0 -11.8 0M1564.2 922.58a5.9 5.9 0 1 0 11.8 0a5.9 5.9 0 1 0 -11.8 0M1580.7 922.58a5.9 5.9 0 1 0 11.8 0a5.9 5.9 0 1 0 -11.8 0M1630.2 922.58a5.9 5.9 0 1 0 11.8 0a5.9 5.9 0 1 0 -11.8 0M1663.2 922.58a5.9 5.9 0 1 0 11.8 0a5.9 5.9 0 1 0 -11.8 0M1696.2 922.58a5.9 5.9 0 1 0 11.8 0a5.9 5.9 0 1 0 -11.8 0M1745.7 922.58a5.9 5.9 0 1 0 11.8 0a5.9 5.9 0 1 0 -11.8 0M1762.2 922.58a5.9 5.9 0 1 0 11.8 0a5.9 5.9 0 1 0 -11.8 0M1778.7 922.58a5.9 5.9 0 1 0 11.8 0a5.9 5.9 0 1 0 -11.8 0M1960.2 922.58a5.9 5.9 0 1 0 11.8 0a5.9 5.9 0 1 0 -11.8 0M1613.7 939.05a5.9 5.9 0 1 0 11.8 0a5.9 5.9 0 1 0 -11.8 0M1630.2 939.05a5.9 5.9 0 1 0 11.8 0a5.9 5.9 0 1 0 -11.8 0M1646.7 939.05a5.9 5.9 0 1 0 11.8 0a5.9 5.9 0 1 0 -11.8 0M1663.2 939.05a5.9 5.9 0 1 0 11.8 0a5.9 5.9 0 1 0 -11.8 0M1679.7 939.05a5.9 5.9 0 1 0 11.8 0a5.9 5.9 0 1 0 -11.8 0M1696.2 939.05a5.9 5.9 0 1 0 11.8 0a5.9 5.9 0 1 0 -11.8 0M1712.7 939.05a5.9 5.9 0 1 0 11.8 0a5.9 5.9 0 1 0 -11.8 0M1729.2 939.05a5.9 5.9 0 1 0 11.8 0a5.9 5.9 0 1 0 -11.8 0M1745.7 939.05a5.9 5.9 0 1 0 11.8 0a5.9 5.9 0 1 0 -11.8 0M1762.2 939.05a5.9 5.9 0 1 0 11.8 0a5.9 5.9 0 1 0 -11.8 0M1927.2 939.05a5.9 5.9 0 1 0 11.8 0a5.9 5.9 0 1 0 -11.8 0M1943.7 939.05a5.9 5.9 0 1 0 11.8 0a5.9 5.9 0 1 0 -11.8 0M1960.2 939.05a5.9 5.9 0 1 0 11.8 0a5.9 5.9 0 1 0 -11.8 0M1580.7 955.52a5.9 5.9 0 1 0 11.8 0a5.9 5.9 0 1 0 -11.8 0M1597.2 955.52a5.9 5.9 0 1 0 11.8 0a5.9 5.9 0 1 0 -11.8 0M1613.7 955.52a5.9 5.9 0 1 0 11.8 0a5.9 5.9 0 1 0 -11.8 0M1712.7 955.52a5.9 5.9 0 1 0 11.8 0a5.9 5.9 0 1 0 -11.8 0M1729.2 955.52a5.9 5.9 0 1 0 11.8 0a5.9 5.9 0 1 0 -11.8 0M1745.7 955.52a5.9 5.9 0 1 0 11.8 0a5.9 5.9 0 1 0 -11.8 0M1762.2 955.52a5.9 5.9 0 1 0 11.8 0a5.9 5.9 0 1 0 -11.8 0M1910.7 955.52a5.9 5.9 0 1 0 11.8 0a5.9 5.9 0 1 0 -11.8 0M1927.2 955.52a5.9 5.9 0 1 0 11.8 0a5.9 5.9 0 1 0 -11.8 0M1943.7 955.52a5.9 5.9 0 1 0 11.8 0a5.9 5.9 0 1 0 -11.8 0M1960.2 955.52a5.9 5.9 0 1 0 11.8 0a5.9 5.9 0 1 0 -11.8 0M1597.2 971.99a5.9 5.9 0 1 0 11.8 0a5.9 5.9 0 1 0 -11.8 0M1613.7 971.99a5.9 5.9 0 1 0 11.8 0a5.9 5.9 0 1 0 -11.8 0M1630.2 971.99a5.9 5.9 0 1 0 11.8 0a5.9 5.9 0 1 0 -11.8 0M1646.7 971.99a5.9 5.9 0 1 0 11.8 0a5.9 5.9 0 1 0 -11.8 0M1663.2 971.99a5.9 5.9 0 1 0 11.8 0a5.9 5.9 0 1 0 -11.8 0M1679.7 971.99a5.9 5.9 0 1 0 11.8 0a5.9 5.9 0 1 0 -11.8 0M1712.7 971.99a5.9 5.9 0 1 0 11.8 0a5.9 5.9 0 1 0 -11.8 0M1729.2 971.99a5.9 5.9 0 1 0 11.8 0a5.9 5.9 0 1 0 -11.8 0M1745.7 971.99a5.9 5.9 0 1 0 11.8 0a5.9 5.9 0 1 0 -11.8 0M1762.2 971.99a5.9 5.9 0 1 0 11.8 0a5.9 5.9 0 1 0 -11.8 0M1778.7 971.99a5.9 5.9 0 1 0 11.8 0a5.9 5.9 0 1 0 -11.8 0M1795.2 971.99a5.9 5.9 0 1 0 11.8 0a5.9 5.9 0 1 0 -11.8 0M1811.7 971.99a5.9 5.9 0 1 0 11.8 0a5.9 5.9 0 1 0 -11.8 0M1894.2 971.99a5.9 5.9 0 1 0 11.8 0a5.9 5.9 0 1 0 -11.8 0M1910.7 971.99a5.9 5.9 0 1 0 11.8 0a5.9 5.9 0 1 0 -11.8 0M1927.2 971.99a5.9 5.9 0 1 0 11.8 0a5.9 5.9 0 1 0 -11.8 0M1943.7 971.99a5.9 5.9 0 1 0 11.8 0a5.9 5.9 0 1 0 -11.8 0M1960.2 971.99a5.9 5.9 0 1 0 11.8 0a5.9 5.9 0 1 0 -11.8 0M1613.7 988.46a5.9 5.9 0 1 0 11.8 0a5.9 5.9 0 1 0 -11.8 0M1646.7 988.46a5.9 5.9 0 1 0 11.8 0a5.9 5.9 0 1 0 -11.8 0M1679.7 988.46a5.9 5.9 0 1 0 11.8 0a5.9 5.9 0 1 0 -11.8 0M1712.7 988.46a5.9 5.9 0 1 0 11.8 0a5.9 5.9 0 1 0 -11.8 0M1745.7 988.46a5.9 5.9 0 1 0 11.8 0a5.9 5.9 0 1 0 -11.8 0M1762.2 988.46a5.9 5.9 0 1 0 11.8 0a5.9 5.9 0 1 0 -11.8 0M1778.7 988.46a5.9 5.9 0 1 0 11.8 0a5.9 5.9 0 1 0 -11.8 0M1795.2 988.46a5.9 5.9 0 1 0 11.8 0a5.9 5.9 0 1 0 -11.8 0M1894.2 988.46a5.9 5.9 0 1 0 11.8 0a5.9 5.9 0 1 0 -11.8 0M1910.7 988.46a5.9 5.9 0 1 0 11.8 0a5.9 5.9 0 1 0 -11.8 0M1927.2 988.46a5.9 5.9 0 1 0 11.8 0a5.9 5.9 0 1 0 -11.8 0M1795.2 1004.93a5.9 5.9 0 1 0 11.8 0a5.9 5.9 0 1 0 -11.8 0M1811.7 1004.93a5.9 5.9 0 1 0 11.8 0a5.9 5.9 0 1 0 -11.8 0M1828.2 1004.93a5.9 5.9 0 1 0 11.8 0a5.9 5.9 0 1 0 -11.8 0M1844.7 1004.93a5.9 5.9 0 1 0 11.8 0a5.9 5.9 0 1 0 -11.8 0M1861.2 1004.93a5.9 5.9 0 1 0 11.8 0a5.9 5.9 0 1 0 -11.8 0M1877.7 1004.93a5.9 5.9 0 1 0 11.8 0a5.9 5.9 0 1 0 -11.8 0M1894.2 1004.93a5.9 5.9 0 1 0 11.8 0a5.9 5.9 0 1 0 -11.8 0M1910.7 1004.93a5.9 5.9 0 1 0 11.8 0a5.9 5.9 0 1 0 -11.8 0M1811.7 1021.4a5.9 5.9 0 1 0 11.8 0a5.9 5.9 0 1 0 -11.8 0M1828.2 1021.4a5.9 5.9 0 1 0 11.8 0a5.9 5.9 0 1 0 -11.8 0M1844.7 1021.4a5.9 5.9 0 1 0 11.8 0a5.9 5.9 0 1 0 -11.8 0M1861.2 1021.4a5.9 5.9 0 1 0 11.8 0a5.9 5.9 0 1 0 -11.8 0M1877.7 1021.4a5.9 5.9 0 1 0 11.8 0a5.9 5.9 0 1 0 -11.8 0M1894.2 1021.4a5.9 5.9 0 1 0 11.8 0a5.9 5.9 0 1 0 -11.8 0M1844.7 1037.87a5.9 5.9 0 1 0 11.8 0a5.9 5.9 0 1 0 -11.8 0M1861.2 1037.87a5.9 5.9 0 1 0 11.8 0a5.9 5.9 0 1 0 -11.8 0" stroke="#5c4242"/><path d="M1564.2 856.7a5.9 5.9 0 1 0 11.8 0a5.9 5.9 0 1 0 -11.8 0M1580.7 856.7a5.9 5.9 0 1 0 11.8 0a5.9 5.9 0 1 0 -11.8 0M1580.7 873.17a5.9 5.9 0 1 0 11.8 0a5.9 5.9 0 1 0 -11.8 0M1646.7 873.17a5.9 5.9 0 1 0 11.8 0a5.9 5.9 0 1 0 -11.8 0M1679.7 873.17a5.9 5.9 0 1 0 11.8 0a5.9 5.9 0 1 0 -11.8 0M1712.7 873.17a5.9 5.9 0 1 0 11.8 0a5.9 5.9 0 1 0 -11.8 0M1745.7 873.17a5.9 5.9 0 1 0 11.8 0a5.9 5.9 0 1 0 -11.8 0M1778.7 873.17a5.9 5.9 0 1 0 11.8 0a5.9 5.9 0 1 0 -11.8 0M1910.7 873.17a5.9 5.9 0 1 0 11.8 0a5.9 5.9 0 1 0 -11.8 0M1943.7 873.17a5.9 5.9 0 1 0 11.8 0a5.9 5.9 0 1 0 -11.8 0M1613.7 889.64a5.9 5.9 0 1 0 11.8 0a5.9 5.9 0 1 0 -11.8 0M1646.7 889.64a5.9 5.9 0 1 0 11.8 0a5.9 5.9 0 1 0 -11.8 0M1679.7 889.64a5.9 5.9 0 1 0 11.8 0a5.9 5.9 0 1 0 -11.8 0M1712.7 889.64a5.9 5.9 0 1 0 11.8 0a5.9 5.9 0 1 0 -11.8 0M1745.7 889.64a5.9 5.9 0 1 0 11.8 0a5.9 5.9 0 1 0 -11.8 0M1894.2 889.64a5.9 5.9 0 1 0 11.8 0a5.9 5.9 0 1 0 -11.8 0M1910.7 889.64a5.9 5.9 0 1 0 11.8 0a5.9 5.9 0 1 0 -11.8 0M1943.7 889.64a5.9 5.9 0 1 0 11.8 0a5.9 5.9 0 1 0 -11.8 0M1597.2 906.11a5.9 5.9 0 1 0 11.8 0a5.9 5.9 0 1 0 -11.8 0M1663.2 906.11a5.9 5.9 0 1 0 11.8 0a5.9 5.9 0 1 0 -11.8 0M1696.2 906.11a5.9 5.9 0 1 0 11.8 0a5.9 5.9 0 1 0 -11.8 0M1712.7 906.11a5.9 5.9 0 1 0 11.8 0a5.9 5.9 0 1 0 -11.8 0M1745.7 906.11a5.9 5.9 0 1 0 11.8 0a5.9 5.9 0 1 0 -11.8 0M1762.2 906.11a5.9 5.9 0 1 0 11.8 0a5.9 5.9 0 1 0 -11.8 0M1778.7 906.11a5.9 5.9 0 1 0 11.8 0a5.9 5.9 0 1 0 -11.8 0M1910.7 906.11a5.9 5.9 0 1 0 11.8 0a5.9 5.9 0 1 0 -11.8 0M1927.2 906.11a5.9 5.9 0 1 0 11.8 0a5.9 5.9 0 1 0 -11.8 0M1646.7 922.58a5.9 5.9 0 1 0 11.8 0a5.9 5.9 0 1 0 -11.8 0M1679.7 922.58a5.9 5.9 0 1 0 11.8 0a5.9 5.9 0 1 0 -11.8 0M1795.2 939.05a5.9 5.9 0 1 0 11.8 0a5.9 5.9 0 1 0 -11.8 0M1811.7 939.05a5.9 5.9 0 1 0 11.8 0a5.9 5.9 0 1 0 -11.8 0M1894.2 939.05a5.9 5.9 0 1 0 11.8 0a5.9 5.9 0 1 0 -11.8 0M1778.7 955.52a5.9 5.9 0 1 0 11.8 0a5.9 5.9 0 1 0 -11.8 0M1844.7 955.52a5.9 5.9 0 1 0 11.8 0a5.9 5.9 0 1 0 -11.8 0" stroke="#982e30"/><path d="M1597.2 856.7a5.9 5.9 0 1 0 11.8 0a5.9 5.9 0 1 0 -11.8 0M1613.7 856.7a5.9 5.9 0 1 0 11.8 0a5.9 5.9 0 1 0 -11.8 0M1597.2 873.17a5.9 5.9 0 1 0 11.8 0a5.9 5.9 0 1 0 -11.8 0M1613.7 873.17a5.9 5.9 0 1 0 11.8 0a5.9 5.9 0 1 0 -11.8 0M1762.2 873.17a5.9 5.9 0 1 0 11.8 0a5.9 5.9 0 1 0 -11.8 0M1877.7 889.64a5.9 5.9 0 1 0 11.8 0a5.9 5.9 0 1 0 -11.8 0M1877.7 906.11a5.9 5.9 0 1 0 11.8 0a5.9 5.9 0 1 0 -11.8 0M1877.7 922.58a5.9 5.9 0 1 0 11.8 0a5.9 5.9 0 1 0 -11.8 0M1861.2 939.05a5.9 5.9 0 1 0 11.8 0a5.9 5.9 0 1 0 -11.8 0M1828.2 955.52a5.9 5.9 0 1 0 11.8 0a5.9 5.9 0 1 0 -11.8 0" stroke="#e41919"/><path d="M1630.2 856.7a5.9 5.9 0 1 0 11.8 0a5.9 5.9 0 1 0 -11.8 0M1630.2 873.17a5.9 5.9 0 1 0 11.8 0a5.9 5.9 0 1 0 -11.8 0M1795.2 873.17a5.9 5.9 0 1 0 11.8 0a5.9 5.9 0 1 0 -11.8 0M1811.7 889.64a5.9 5.9 0 1 0 11.8 0a5.9 5.9 0 1 0 -11.8 0M1844.7 922.58a5.9 5.9 0 1 0 11.8 0a5.9 5.9 0 1 0 -11.8 0M1861.2 922.58a5.9 5.9 0 1 0 11.8 0a5.9 5.9 0 1 0 -11.8 0" stroke="#ff8700"/><path d="M1646.7 856.7a5.9 5.9 0 1 0 11.8 0a5.9 5.9 0 1 0 -11.8 0M1663.2 856.7a5.9 5.9 0 1 0 11.8 0a5.9 5.9 0 1 0 -11.8 0M1762.2 856.7a5.9 5.9 0 1 0 11.8 0a5.9 5.9 0 1 0 -11.8 0M1894.2 856.7a5.9 5.9 0 1 0 11.8 0a5.9 5.9 0 1 0 -11.8 0M1861.2 889.64a5.9 5.9 0 1 0 11.8 0a5.9 5.9 0 1 0 -11.8 0" stroke="#fafa5a"/><path d="M1679.7 856.7a5.9 5.9 0 1 0 11.8 0a5.9 5.9 0 1 0 -11.8 0M1696.2 856.7a5.9 5.9 0 1 0 11.8 0a5.9 5.9 0 1 0 -11.8 0M1712.7 856.7a5.9 5.9 0 1 0 11.8 0a5.9 5.9 0 1 0 -11.8 0M1729.2 856.7a5.9 5.9 0 1 0 11.8 0a5.9 5.9 0 1 0 -11.8 0M1745.7 856.7a5.9 5.9 0 1 0 11.8 0a5.9 5.9 0 1 0 -11.8 0M1795.2 856.7a5.9 5.9 0 1 0 11.8 0a5.9 5.9 0 1 0 -11.8 0M1910.7 856.7a5.9 5.9 0 1 0 11.8 0a5.9 5.9 0 1 0 -11.8 0M1927.2 856.7a5.9 5.9 0 1 0 11.8 0a5.9 5.9 0 1 0 -11.8 0M1943.7 856.7a5.9 5.9 0 1 0 11.8 0a5.9 5.9 0 1 0 -11.8 0M1960.2 856.7a5.9 5.9 0 1 0 11.8 0a5.9 5.9 0 1 0 -11.8 0M1828.2 889.64a5.9 5.9 0 1 0 11.8 0a5.9 5.9 0 1 0 -11.8 0M1828.2 922.58a5.9 5.9 0 1 0 11.8 0a5.9 5.9 0 1 0 -11.8 0" stroke="#ffff00"/><path d="M1778.7 856.7a5.9 5.9 0 1 0 11.8 0a5.9 5.9 0 1 0 -11.8 0M1861.2 856.7a5.9 5.9 0 1 0 11.8 0a5.9 5.9 0 1 0 -11.8 0M1828.2 906.11a5.9 5.9 0 1 0 11.8 0a5.9 5.9 0 1 0 -11.8 0" stroke="#ffffff"/><path d="M1811.7 856.7a5.9 5.9 0 1 0 11.8 0a5.9 5.9 0 1 0 -11.8 0M1828.2 856.7a5.9 5.9 0 1 0 11.8 0a5.9 5.9 0 1 0 -11.8 0M1844.7 856.7a5.9 5.9 0 1 0 11.8 0a5.9 5.9 0 1 0 -11.8 0M1828.2 873.17a5.9 5.9 0 1 0 11.8 0a5.9 5.9 0 1 0 -11.8 0M1844.7 873.17a5.9 5.9 0 1 0 11.8 0a5.9 5.9 0 1 0 -11.8 0M1877.7 873.17a5.9 5.9 0 1 0 11.8 0a5.9 5.9 0 1 0 -11.8 0M1844.7 889.64a5.9 5.9 0 1 0 11.8 0a5.9 5.9 0 1 0 -11.8 0M1844.7 906.11a5.9 5.9 0 1 0 11.8 0a5.9 5.9 0 1 0 -11.8 0" stroke="#2d2d2d"/><path d="M1877.7 856.7a5.9 5.9 0 1 0 11.8 0a5.9 5.9 0 1 0 -11.8 0" stroke="#f5f5a0"/><path d="M1564.2 873.17a5.9 5.9 0 1 0 11.8 0a5.9 5.9 0 1 0 -11.8 0M1597.2 889.64a5.9 5.9 0 1 0 11.8 0a5.9 5.9 0 1 0 -11.8 0M1613.7 906.11a5.9 5.9 0 1 0 11.8 0a5.9 5.9 0 1 0 -11.8 0M1646.7 906.11a5.9 5.9 0 1 0 11.8 0a5.9 5.9 0 1 0 -11.8 0M1943.7 906.11a5.9 5.9 0 1 0 11.8 0a5.9 5.9 0 1 0 -11.8 0M1960.2 906.11a5.9 5.9 0 1 0 11.8 0a5.9 5.9 0 1 0 -11.8 0M1597.2 922.58a5.9 5.9 0 1 0 11.8 0a5.9 5.9 0 1 0 -11.8 0M1613.7 922.58a5.9 5.9 0 1 0 11.8 0a5.9 5.9 0 1 0 -11.8 0M1712.7 922.58a5.9 5.9 0 1 0 11.8 0a5.9 5.9 0 1 0 -11.8 0M1729.2 922.58a5.9 5.9 0 1 0 11.8 0a5.9 5.9 0 1 0 -11.8 0M1927.2 922.58a5.9 5.9 0 1 0 11.8 0a5.9 5.9 0 1 0 -11.8 0M1943.7 922.58a5.9 5.9 0 1 0 11.8 0a5.9 5.9 0 1 0 -11.8 0M1630.2 955.52a5.9 5.9 0 1 0 11.8 0a5.9 5.9 0 1 0 -11.8 0M1646.7 955.52a5.9 5.9 0 1 0 11.8 0a5.9 5.9 0 1 0 -11.8 0M1663.2 955.52a5.9 5.9 0 1 0 11.8 0a5.9 5.9 0 1 0 -11.8 0M1679.7 955.52a5.9 5.9 0 1 0 11.8 0a5.9 5.9 0 1 0 -11.8 0M1696.2 955.52a5.9 5.9 0 1 0 11.8 0a5.9 5.9 0 1 0 -11.8 0M1877.7 971.99a5.9 5.9 0 1 0 11.8 0a5.9 5.9 0 1 0 -11.8 0M1828.2 988.46a5.9 5.9 0 1 0 11.8 0a5.9 5.9 0 1 0 -11.8 0M1844.7 988.46a5.9 5.9 0 1 0 11.8 0a5.9 5.9 0 1 0 -11.8 0M1861.2 988.46a5.9 5.9 0 1 0 11.8 0a5.9 5.9 0 1 0 -11.8 0M1877.7 988.46a5.9 5.9 0 1 0 11.8 0a5.9 5.9 0 1 0 -11.8 0" stroke="#723c3c"/><path d="M1663.2 873.17a5.9 5.9 0 1 0 11.8 0a5.9 5.9 0 1 0 -11.8 0M1696.2 873.17a5.9 5.9 0 1 0 11.8 0a5.9 5.9 0 1 0 -11.8 0M1729.2 873.17a5.9 5.9 0 1 0 11.8 0a5.9 5.9 0 1 0 -11.8 0M1894.2 873.17a5.9 5.9 0 1 0 11.8 0a5.9 5.9 0 1 0 -11.8 0M1927.2 873.17a5.9 5.9 0 1 0 11.8 0a5.9 5.9 0 1 0 -11.8 0M1960.2 873.17a5.9 5.9 0 1 0 11.8 0a5.9 5.9 0 1 0 -11.8 0M1630.2 889.64a5.9 5.9 0 1 0 11.8 0a5.9 5.9 0 1 0 -11.8 0M1663.2 889.64a5.9 5.9 0 1 0 11.8 0a5.9 5.9 0 1 0 -11.8 0M1696.2 889.64a5.9 5.9 0 1 0 11.8 0a5.9 5.9 0 1 0 -11.8 0M1729.2 889.64a5.9 5.9 0 1 0 11.8 0a5.9 5.9 0 1 0 -11.8 0M1762.2 889.64a5.9 5.9 0 1 0 11.8 0a5.9 5.9 0 1 0 -11.8 0M1778.7 889.64a5.9 5.9 0 1 0 11.8 0a5.9 5.9 0 1 0 -11.8 0M1795.2 889.64a5.9 5.9 0 1 0 11.8 0a5.9 5.9 0 1 0 -11.8 0M1927.2 889.64a5.9 5.9 0 1 0 11.8 0a5.9 5.9 0 1 0 -11.8 0M1960.2 889.64a5.9 5.9 0 1 0 11.8 0a5.9 5.9 0 1 0 -11.8 0M1795.2 922.58a5.9 5.9 0 1 0 11.8 0a5.9 5.9 0 1 0 -11.8 0M1811.7 922.58a5.9 5.9 0 1 0 11.8 0a5.9 5.9 0 1 0 -11.8 0M1894.2 922.58a5.9 5.9 0 1 0 11.8 0a5.9 5.9 0 1 0 -11.8 0M1844.7 939.05a5.9 5.9 0 1 0 11.8 0a5.9 5.9 0 1 0 -11.8 0M1861.2 955.52a5.9 5.9 0 1 0 11.8 0a5.9 5.9 0 1 0 -11.8 0" stroke="#ff0c0c"/><path d="M1811.7 873.17a5.9 5.9 0 1 0 11.8 0a5.9 5.9 0 1 0 -11.8 0" stroke="#ffb400"/><path d="M1861.2 873.17a5.9 5.9 0 1 0 11.8 0a5.9 5.9 0 1 0 -11.8 0" stroke="#f5f5e1"/><path d="M1630.2 906.11a5.9 5.9 0 1 0 11.8 0a5.9 5.9 0 1 0 -11.8 0M1729.2 906.11a5.9 5.9 0 1 0 11.8 0a5.9 5.9 0 1 0 -11.8 0M1795.2 906.11a5.9 5.9 0 1 0 11.8 0a5.9 5.9 0 1 0 -11.8 0M1811.7 906.11a5.9 5.9 0 1 0 11.8 0a5.9 5.9 0 1 0 -11.8 0M1910.7 922.58a5.9 5.9 0 1 0 11.8 0a5.9 5.9 0 1 0 -11.8 0M1828.2 939.05a5.9 5.9 0 1 0 11.8 0a5.9 5.9 0 1 0 -11.8 0M1877.7 939.05a5.9 5.9 0 1 0 11.8 0a5.9 5.9 0 1 0 -11.8 0M1795.2 955.52a5.9 5.9 0 1 0 11.8 0a5.9 5.9 0 1 0 -11.8 0M1811.7 955.52a5.9 5.9 0 1 0 11.8 0a5.9 5.9 0 1 0 -11.8 0M1877.7 955.52a5.9 5.9 0 1 0 11.8 0a5.9 5.9 0 1 0 -11.8 0M1894.2 955.52a5.9 5.9 0 1 0 11.8 0a5.9 5.9 0 1 0 -11.8 0M1828.2 971.99a5.9 5.9 0 1 0 11.8 0a5.9 5.9 0 1 0 -11.8 0M1844.7 971.99a5.9 5.9 0 1 0 11.8 0a5.9 5.9 0 1 0 -11.8 0M1861.2 971.99a5.9 5.9 0 1 0 11.8 0a5.9 5.9 0 1 0 -11.8 0" stroke="#c32326"/><path d="M1861.2 906.11a5.9 5.9 0 1 0 11.8 0a5.9 5.9 0 1 0 -11.8 0" stroke="#ffd700"/></g>
<g stroke-width="1.95"><path d="M1283.7 856.7a5.9 5.9 0 1 0 11.8 0a5.9 5.9 0 1 0 -11.8 0M1300.2 856.7a5.9 5.9 0 1 0 11.8 0a5.9 5.9 0 1 0 -11.8 0M1316.7 856.7a5.9 5.9 0 1 0 11.8 0a5.9 5.9 0 1 0 -11.8 0M1333.2 856.7a5.9 5.9 0 1 0 11.8 0a5.9 5.9 0 1 0 -11.8 0M1349.7 856.7a5.9 5.9 0 1 0 11.8 0a5.9 5.9 0 1 0 -11.8 0M1366.2 856.7a5.9 5.9 0 1 0 11.8 0a5.9 5.9 0 1 0 -11.8 0M1382.7 856.7a5.9 5.9 0 1 0 11.8 0a5.9 5.9 0 1 0 -11.8 0M1399.2 856.7a5.9 5.9 0 1 0 11.8 0a5.9 5.9 0 1 0 -11.8 0M1415.7 856.7a5.9 5.9 0 1 0 11.8 0a5.9 5.9 0 1 0 -11.8 0M1432.2 856.7a5.9 5.9 0 1 0 11.8 0a5.9 5.9 0 1 0 -11.8 0M1448.7 856.7a5.9 5.9 0 1 0 11.8 0a5.9 5.9 0 1 0 -11.8 0M1465.2 856.7a5.9 5.9 0 1 0 11.8 0a5.9 5.9 0 1 0 -11.8 0M1481.7 856.7a5.9 5.9 0 1 0 11.8 0a5.9 5.9 0 1 0 -11.8 0M1498.2 856.7a5.9 5.9 0 1 0 11.8 0a5.9 5.9 0 1 0 -11.8 0M1514.7 856.7a5.9 5.9 0 1 0 11.8 0a5.9 5.9 0 1 0 -11.8 0M1531.2 856.7a5.9 5.9 0 1 0 11.8 0a5.9 5.9 0 1 0 -11.8 0M1283.7 873.17a5.9 5.9 0 1 0 11.8 0a5.9 5.9 0 1 0 -11.8 0M1300.2 873.17a5.9 5.9 0 1 0 11.8 0a5.9 5.9 0 1 0 -11.8 0M1316.7 873.17a5.9 5.9 0 1 0 11.8 0a5.9 5.9 0 1 0 -11.8 0M1333.2 873.17a5.9 5.9 0 1 0 11.8 0a5.9 5.9 0 1 0 -11.8 0M1349.7 873.17a5.9 5.9 0 1 0 11.8 0a5.9 5.9 0 1 0 -11.8 0M1366.2 873.17a5.9 5.9 0 1 0 11.8 0a5.9 5.9 0 1 0 -11.8 0M1382.7 873.17a5.9 5.9 0 1 0 11.8 0a5.9 5.9 0 1 0 -11.8 0M1399.2 873.17a5.9 5.9 0 1 0 11.8 0a5.9 5.9 0 1 0 -11.8 0M1415.7 873.17a5.9 5.9 0 1 0 11.8 0a5.9 5.9 0 1 0 -11.8 0M1432.2 873.17a5.9 5.9 0 1 0 11.8 0a5.9 5.9 0 1 0 -11.8 0M1448.7 873.17a5.9 5.9 0 1 0 11.8 0a5.9 5.9 0 1 0 -11.8 0M1465.2 873.17a5.9 5.9 0 1 0 11.8 0a5.9 5.9 0 1 0 -11.8 0M1481.7 873.17a5.9 5.9 0 1 0 11.8 0a5.9 5.9 0 1 0 -11.8 0M1498.2 873.17a5.9 5.9 0 1 0 11.8 0a5.9 5.9 0 1 0 -11.8 0M1514.7 873.17a5.9 5.9 0 1 0 11.8 0a5.9 5.9 0 1 0 -11.8 0M1531.2 873.17a5.9 5.9 0 1 0 11.8 0a5.9 5.9 0 1 0 -11.8 0M1283.7 889.64a5.9 5.9 0 1 0 11.8 0a5.9 5.9 0 1 0 -11.8 0M1300.2 889.64a5.9 5.9 0 1 0 11.8 0a5.9 5.9 0 1 0 -11.8 0M1316.7 889.64a5.9 5.9 0 1 0 11.8 0a5.9 5.9 0 1 0 -11.8 0M1333.2 889.64a5.9 5.9 0 1 0 11.8 0a5.9 5.9 0 1 0 -11.8 0M1349.7 889.64a5.9 5.9 0 1 0 11.8 0a5.9 5.9 0 1 0 -11.8 0M1366.2 889.64a5.9 5.9 0 1 0 11.8 0a5.9 5.9 0 1 0 -11.8 0M1382.7 889.64a5.9 5.9 0 1 0 11.8 0a5.9 5.9 0 1 0 -11.8 0M1399.2 889.64a5.9 5.9 0 1 0 11.8 0a5.9 5.9 0 1 0 -11.8 0M1415.7 889.64a5.9 5.9 0 1 0 11.8 0a5.9 5.9 0 1 0 -11.8 0M1432.2 889.64a5.9 5.9 0 1 0 11.8 0a5.9 5.9 0 1 0 -11.8 0M1448.7 889.64a5.9 5.9 0 1 0 11.8 0a5.9 5.9 0 1 0 -11.8 0M1465.2 889.64a5.9 5.9 0 1 0 11.8 0a5.9 5.9 0 1 0 -11.8 0M1481.7 889.64a5.9 5.9 0 1 0 11.8 0a5.9 5.9 0 1 0 -11.8 0M1498.2 889.64a5.9 5.9 0 1 0 11.8 0a5.9 5.9 0 1 0 -11.8 0M1514.7 889.64a5.9 5.9 0 1 0 11.8 0a5.9 5.9 0 1 0 -11.8 0M1531.2 889.64a5.9 5.9 0 1 0 11.8 0a5.9 5.9 0 1 0 -11.8 0M1547.7 889.64a5.9 5.9 0 1 0 11.8 0a5.9 5.9 0 1 0 -11.8 0M1564.2 889.64a5.9 5.9 0 1 0 11.8 0a5.9 5.9 0 1 0 -11.8 0M1283.7 906.11a5.9 5.9 0 1 0 11.8 0a5.9 5.9 0 1 0 -11.8 0M1300.2 906.11a5.9 5.9 0 1 0 11.8 0a5.9 5.9 0 1 0 -11.8 0M1316.7 906.11a5.9 5.9 0 1 0 11.8 0a5.9 5.9 0 1 0 -11.8 0M1333.2 906.11a5.9 5.9 0 1 0 11.8 0a5.9 5.9 0 1 0 -11.8 0M1349.7 906.11a5.9 5.9 0 1 0 11.8 0a5.9 5.9 0 1 0 -11.8 0M1366.2 906.11a5.9 5.9 0 1 0 11.8 0a5.9 5.9 0 1 0 -11.8 0M1382.7 906.11a5.9 5.9 0 1 0 11.8 0a5.9 5.9 0 1 0 -11.8 0M1399.2 906.11a5.9 5.9 0 1 0 11.8 0a5.9 5.9 0 1 0 -11.8 0M1415.7 906.11a5.9 5.9 0 1 0 11.8 0a5.9 5.9 0 1 0 -11.8 0M1432.2 906.11a5.9 5.9 0 1 0 11.8 0a5.9 5.9 0 1 0 -11.8 0M1448.7 906.11a5.9 5.9 0 1 0 11.8 0a5.9 5.9 0 1 0 -11.8 0M1465.2 906.11a5.9 5.9 0 1 0 11.8 0a5.9 5.9 0 1 0 -11.8 0M1481.7 906.11a5.9 5.9 0 1 0 11.8 0a5.9 5.9 0 1 0 -11.8 0M1498.2 906.11a5.9 5.9 0 1 0 11.8 0a5.9 5.9 0 1 0 -11.8 0M1514.7 906.11a5.9 5.9 0 1 0 11.8 0a5.9 5.9 0 1 0 -11.8 0M1564.2 906.11a5.9 5.9 0 1 0 11.8 0a5.9 5.9 0 1 0 -11.8 0M1283.7 922.58a5.9 5.9 0 1 0 11.8 0a5.9 5.9 0 1 0 -11.8 0M1300.2 922.58a5.9 5.9 0 1 0 11.8 0a5.9 5.9 0 1 0 -11.8 0M1316.7 922.58a5.9 5.9 0 1 0 11.8 0a5.9 5.9 0 1 0 -11.8 0M1333.2 922.58a5.9 5.9 0 1 0 11.8 0a5.9 5.9 0 1 0 -11.8 0M1349.7 922.58a5.9 5.9 0 1 0 11.8 0a5.9 5.9 0 1 0 -11.8 0M1366.2 922.58a5.9 5.9 0 1 0 11.8 0a5.9 5.9 0 1 0 -11.8 0M1382.7 922.58a5.9 5.9 0 1 0 11.8 0a5.9 5.9 0 1 0 -11.8 0M1399.2 922.58a5.9 5.9 0 1 0 11.8 0a5.9 5.9 0 1 0 -11.8 0M1415.7 922.58a5.9 5.9 0 1 0 11.8 0a5.9 5.9 0 1 0 -11.8 0M1432.2 922.58a5.9 5.9 0 1 0 11.8 0a5.9 5.9 0 1 0 -11.8 0M1448.7 922.58a5.9 5.9 0 1 0 11.8 0a5.9 5.9 0 1 0 -11.8 0M1465.2 922.58a5.9 5.9 0 1 0 11.8 0a5.9 5.9 0 1 0 -11.8 0M1481.7 922.58a5.9 5.9 0 1 0 11.8 0a5.9 5.9 0 1 0 -11.8 0M1498.2 922.58a5.9 5.9 0 1 0 11.8 0a5.9 5.9 0 1 0 -11.8 0M1514.7 922.58a5.9 5.9 0 1 0 11.8 0a5.9 5.9 0 1 0 -11.8 0M1531.2 922.58a5.9 5.9 0 1 0 11.8 0a5.9 5.9 0 1 0 -11.8 0M1547.7 922.58a5.9 5.9 0 1 0 11.8 0a5.9 5.9 0 1 0 -11.8 0M1283.7 939.05a5.9 5.9 0 1 0 11.8 0a5.9 5.9 0 1 0 -11.8 0M1300.2 939.05a5.9 5.9 0 1 0 11.8 0a5.9 5.9 0 1 0 -11.8 0M1316.7 939.05a5.9 5.9 0 1 0 11.8 0a5.9 5.9 0 1 0 -11.8 0M1333.2 939.05a5.9 5.9 0 1 0 11.8 0a5.9 5.9 0 1 0 -11.8 0M1349.7 939.05a5.9 5.9 0 1 0 11.8 0a5.9 5.9 0 1 0 -11.8 0M1366.2 939.05a5.9 5.9 0 1 0 11.8 0a5.9 5.9 0 1 0 -11.8 0M1382.7 939.05a5.9 5.9 0 1 0 11.8 0a5.9 5.9 0 1 0 -11.8 0M1399.2 939.05a5.9 5.9 0 1 0 11.8 0a5.9 5.9 0 1 0 -11.8 0M1415.7 939.05a5.9 5.9 0 1 0 11.8 0a5.9 5.9 0 1 0 -11.8 0M1432.2 939.05a5.9 5.9 0 1 0 11.8 0a5.9 5.9 0 1 0 -11.8 0M1448.7 939.05a5.9 5.9 0 1 0 11.8 0a5.9 5.9 0 1 0 -11.8 0M1465.2 939.05a5.9 5.9 0 1 0 11.8 0a5.9 5.9 0 1 0 -11.8 0M1481.7 939.05a5.9 5.9 0 1 0 11.8 0a5.9 5.9 0 1 0 -11.8 0M1498.2 939.05a5.9 5.9 0 1 0 11.8 0a5.9 5.9 0 1 0 -11.8 0M1514.7 939.05a5.9 5.9 0 1 0 11.8 0a5.9 5.9 0 1 0 -11.8 0M1531.2 939.05a5.9 5.9 0 1 0 11.8 0a5.9 5.9 0 1 0 -11.8 0M1547.7 939.05a5.9 5.9 0 1 0 11.8 0a5.9 5.9 0 1 0 -11.8 0M1564.2 939.05a5.9 5.9 0 1 0 11.8 0a5.9 5.9 0 1 0 -11.8 0M1580.7 939.05a5.9 5.9 0 1 0 11.8 0a5.9 5.9 0 1 0 -11.8 0M1597.2 939.05a5.9 5.9 0 1 0 11.8 0a5.9 5.9 0 1 0 -11.8 0M1778.7 939.05a5.9 5.9 0 1 0 11.8 0a5.9 5.9 0 1 0 -11.8 0M1910.7 939.05a5.9 5.9 0 1 0 11.8 0a5.9 5.9 0 1 0 -11.8 0M1283.7 955.52a5.9 5.9 0 1 0 11.8 0a5.9 5.9 0 1 0 -11.8 0M1300.2 955.52a5.9 5.9 0 1 0 11.8 0a5.9 5.9 0 1 0 -11.8 0M1316.7 955.52a5.9 5.9 0 1 0 11.8 0a5.9 5.9 0 1 0 -11.8 0M1333.2 955.52a5.9 5.9 0 1 0 11.8 0a5.9 5.9 0 1 0 -11.8 0M1349.7 955.52a5.9 5.9 0 1 0 11.8 0a5.9 5.9 0 1 0 -11.8 0M1366.2 955.52a5.9 5.9 0 1 0 11.8 0a5.9 5.9 0 1 0 -11.8 0M1382.7 955.52a5.9 5.9 0 1 0 11.8 0a5.9 5.9 0 1 0 -11.8 0M1399.2 955.52a5.9 5.9 0 1 0 11.8 0a5.9 5.9 0 1 0 -11.8 0M1415.7 955.52a5.9 5.9 0 1 0 11.8 0a5.9 5.9 0 1 0 -11.8 0M1432.2 955.52a5.9 5.9 0 1 0 11.8 0a5.9 5.9 0 1 0 -11.8 0M1448.7 955.52a5.9 5.9 0 1 0 11.8 0a5.9 5.9 0 1 0 -11.8 0M1465.2 955.52a5.9 5.9 0 1 0 11.8 0a5.9 5.9 0 1 0 -11.8 0M1481.7 955.52a5.9 5.9 0 1 0 11.8 0a5.9 5.9 0 1 0 -11.8 0M1498.2 955.52a5.9 5.9 0 1 0 11.8 0a5.9 5.9 0 1 0 -11.8 0M1514.7 955.52a5.9 5.9 0 1 0 11.8 0a5.9 5.9 0 1 0 -11.8 0M1531.2 955.52a5.9 5.9 0 1 0 11.8 0a5.9 5.9 0 1 0 -11.8 0M1547.7 955.52a5.9 5.9 0 1 0 11.8 0a5.9 5.9 0 1 0 -11.8 0M1564.2 955.52a5.9 5.9 0 1 0 11.8 0a5.9 5.9 0 1 0 -11.8 0M1283.7 971.99a5.9 5.9 0 1 0 11.8 0a5.9 5.9 0 1 0 -11.8 0M1300.2 971.99a5.9 5.9 0 1 0 11.8 0a5.9 5.9 0 1 0 -11.8 0M1316.7 971.99a5.9 5.9 0 1 0 11.8 0a5.9 5.9 0 1 0 -11.8 0M1333.2 971.99a5.9 5.9 0 1 0 11.8 0a5.9 5.9 0 1 0 -11.8 0M1349.7 971.99a5.9 5.9 0 1 0 11.8 0a5.9 5.9 0 1 0 -11.8 0M1366.2 971.99a5.9 5.9 0 1 0 11.8 0a5.9 5.9 0 1 0 -11.8 0M1382.7 971.99a5.9 5.9 0 1 0 11.8 0a5.9 5.9 0 1 0 -11.8 0M1399.2 971.99a5.9 5.9 0 1 0 11.8 0a5.9 5.9 0 1 0 -11.8 0M1415.7 971.99a5.9 5.9 0 1 0 11.8 0a5.9 5.9 0 1 0 -11.8 0M1432.2 971.99a5.9 5.9 0 1 0 11.8 0a5.9 5.9 0 1 0 -11.8 0M1448.7 971.99a5.9 5.9 0 1 0 11.8 0a5.9 5.9 0 1 0 -11.8 0M1465.2 971.99a5.9 5.9 0 1 0 11.8 0a5.9 5.9 0 1 0 -11.8 0M1481.7 971.99a5.9 5.9 0 1 0 11.8 0a5.9 5.9 0 1 0 -11.8 0M1498.2 971.99a5.9 5.9 0 1 0 11.8 0a5.9 5.9 0 1 0 -11.8 0M1514.7 971.99a5.9 5.9 0 1 0 11.8 0a5.9 5.9 0 1 0 -11.8 0M1531.2 971.99a5.9 5.9 0 1 0 11.8 0a5.9 5.9 0 1 0 -11.8 0M1547.7 971.99a5.9 5.9 0 1 0 11.8 0a5.9 5.9 0 1 0 -11.8 0M1564.2 971.99a5.9 5.9 0 1 0 11.8 0a5.9 5.9 0 1 0 -11.8 0M1580.7 971.99a5.9 5.9 0 1 0 11.8 0a5.9 5.9 0 1 0 -11.8 0M1696.2 971.99a5.9 5.9 0 1 0 11.8 0a5.9 5.9 0 1 0 -11.8 0M1283.7 988.46a5.9 5.9 0 1 0 11.8 0a5.9 5.9 0 1 0 -11.8 0M1300.2 988.46a5.9 5.9 0 1 0 11.8 0a5.9 5.9 0 1 0 -11.8 0M1316.7 988.46a5.9 5.9 0 1 0 11.8 0a5.9 5.9 0 1 0 -11.8 0M1333.2 988.46a5.9 5.9 0 1 0 11.8 0a5.9 5.9 0 1 0 -11.8 0M1349.7 988.46a5.9 5.9 0 1 0 11.8 0a5.9 5.9 0 1 0 -11.8 0M1366.2 988.46a5.9 5.9 0 1 0 11.8 0a5.9 5.9 0 1 0 -11.8 0M1382.7 988.46a5.9 5.9 0 1 0 11.8 0a5.9 5.9 0 1 0 -11.8 0M1399.2 988.46a5.9 5.9 0 1 0 11.8 0a5.9 5.9 0 1 0 -11.8 0M1415.7 988.46a5.9 5.9 0 1 0 11.8 0a5.9 5.9 0 1 0 -11.8 0M1432.2 988.46a5.9 5.9 0 1 0 11.8 0a5.9 5.9 0 1 0 -11.8 0M1448.7 988.46a5.9 5.9 0 1 0 11.8 0a5.9 5.9 0 1 0 -11.8 0M1465.2 988.46a5.9 5.9 0 1 0 11.8 0a5.9 5.9 0 1 0 -11.8 0M1481.7 988.46a5.9 5.9 0 1 0 11.8 0a5.9 5.9 0 1 0 -11.8 0M1498.2 988.46a5.9 5.9 0 1 0 11.8 0a5.9 5.9 0 1 0 -11.8 0M1514.7 988.46a5.9 5.9 0 1 0 11.8 0a5.9 5.9 0 1 0 -11.8 0M1531.2 988.46a5.9 5.9 0 1 0 11.8 0a5.9 5.9 0 1 0 -11.8 0M1547.7 988.46a5.9 5.9 0 1 0 11.8 0a5.9 5.9 0 1 0 -11.8 0M1564.2 988.46a5.9 5.9 0 1 0 11.8 0a5.9 5.9 0 1 0 -11.8 0M1580.7 988.46a5.9 5.9 0 1 0 11.8 0a5.9 5.9 0 1 0 -11.8 0M1597.2 988.46a5.9 5.9 0 1 0 11.8 0a5.9 5.9 0 1 0 -11.8 0M1630.2 988.46a5.9 5.9 0 1 0 11.8 0a5.9 5.9 0 1 0 -11.8 0M1663.2 988.46a5.9 5.9 0 1 0 11.8 0a5.9 5.9 0 1 0 -11.8 0M1696.2 988.46a5.9 5.9 0 1 0 11.8 0a5.9 5.9 0 1 0 -11.8 0M1729.2 988.46a5.9 5.9 0 1 0 11.8 0a5.9 5.9 0 1 0 -11.8 0M1811.7 988.46a5.9 5.9 0 1 0 11.8 0a5.9 5.9 0 1 0 -11.8 0M1943.7 988.46a5.9 5.9 0 1 0 11.8 0a5.9 5.9 0 1 0 -11.8 0M1960.2 988.46a5.9 5.9 0 1 0 11.8 0a5.9 5.9 0 1 0 -11.8 0M1283.7 1004.93a5.9 5.9 0 1 0 11.8 0a5.9 5.9 0 1 0 -11.8 0M1300.2 1004.93a5.9 5.9 0 1 0 11.8 0a5.9 5.9 0 1 0 -11.8 0M1316.7 1004.93a5.9 5.9 0 1 0 11.8 0a5.9 5.9 0 1 0 -11.8 0M1333.2 1004.93a5.9 5.9 0 1 0 11.8 0a5.9 5.9 0 1 0 -11.8 0M1349.7 1004.93a5.9 5.9 0 1 0 11.8 0a5.9 5.9 0 1 0 -11.8 0M1366.2 1004.93a5.9 5.9 0 1 0 11.8 0a5.9 5.9 0 1 0 -11.8 0M1382.7 1004.93a5.9 5.9 0 1 0 11.8 0a5.9 5.9 0 1 0 -11.8 0M1399.2 1004.93a5.9 5.9 0 1 0 11.8 0a5.9 5.9 0 1 0 -11.8 0M1415.7 1004.93a5.9 5.9 0 1 0 11.8 0a5.9 5.9 0 1 0 -11.8 0M1432.2 1004.93a5.9 5.9 0 1 0 11.8 0a5.9 5.9 0 1 0 -11.8 0M1448.7 1004.93a5.9 5.9 0 1 0 11.8 0a5.9 5.9 0 1 0 -11.8 0M1465.2 1004.93a5.9 5.9 0 1 0 11.8 0a5.9 5.9 0 1 0 -11.8 0M1481.7 1004.93a5.9 5.9 0 1 0 11.8 0a5.9 5.9 0 1 0 -11.8 0M1498.2 1004.93a5.9 5.9 0 1 0 11.8 0a5.9 5.9 0 1 0 -11.8 0M1514.7 1004.93a5.9 5.9 0 1 0 11.8 0a5.9 5.9 0 1 0 -11.8 0M1531.2 1004.93a5.9 5.9 0 1 0 11.8 0a5.9 5.9 0 1 0 -11.8 0M1547.7 1004.93a5.9 5.9 0 1 0 11.8 0a5.9 5.9 0 1 0 -11.8 0M1564.2 1004.93a5.9 5.9 0 1 0 11.8 0a5.9 5.9 0 1 0 -11.8 0M1580.7 1004.93a5.9 5.9 0 1 0 11.8 0a5.9 5.9 0 1 0 -11.8 0M1597.2 1004.93a5.9 5.9 0 1 0 11.8 0a5.9 5.9 0 1 0 -11.8 0M1613.7 1004.93a5.9 5.9 0 1 0 11.8 0a5.9 5.9 0 1 0 -11.8 0M1630.2 1004.93a5.9 5.9 0 1 0 11.8 0a5.9 5.9 0 1 0 -11.8 0M1646.7 1004.93a5.9 5.9 0 1 0 11.8 0a5.9 5.9 0 1 0 -11.8 0M1663.2 1004.93a5.9 5.9 0 1 0 11.8 0a5.9 5.9 0 1 0 -11.8 0M1679.7 1004.93a5.9 5.9 0 1 0 11.8 0a5.9 5.9 0 1 0 -11.8 0M1696.2 1004.93a5.9 5.9 0 1 0 11.8 0a5.9 5.9 0 1 0 -11.8 0M1712.7 1004.93a5.9 5.9 0 1 0 11.8 0a5.9 5.9 0 1 0 -11.8 0M1729.2 1004.93a5.9 5.9 0 1 0 11.8 0a5.9 5.9 0 1 0 -11.8 0M1745.7 1004.93a5.9 5.9 0 1 0 11.8 0a5.9 5.9 0 1 0 -11.8 0M1762.2 1004.93a5.9 5.9 0 1 0 11.8 0a5.9 5.9 0 1 0 -11.8 0M1778.7 1004.93a5.9 5.9 0 1 0 11.8 0a5.9 5.9 0 1 0 -11.8 0M1927.2 1004.93a5.9 5.9 0 1 0 11.8 0a5.9 5.9 0 1 0 -11.8 0M1943.7 1004.93a5.9 5.9 0 1 0 11.8 0a5.9 5.9 0 1 0 -11.8 0M1960.2 1004.93a5.9 5.9 0 1 0 11.8 0a5.9 5.9 0 1 0 -11.8 0M1283.7 1021.4a5.9 5.9 0 1 0 11.8 0a5.9 5.9 0 1 0 -11.8 0M1300.2 1021.4a5.9 5.9 0 1 0 11.8 0a5.9 5.9 0 1 0 -11.8 0M1316.7 1021.4a5.9 5.9 0 1 0 11.8 0a5.9 5.9 0 1 0 -11.8 0M1333.2 1021.4a5.9 5.9 0 1 0 11.8 0a5.9 5.9 0 1 0 -11.8 0M1349.7 1021.4a5.9 5.9 0 1 0 11.8 0a5.9 5.9 0 1 0 -11.8 0M1366.2 1021.4a5.9 5.9 0 1 0 11.8 0a5.9 5.9 0 1 0 -11.8 0M1382.7 1021.4a5.9 5.9 0 1 0 11.8 0a5.9 5.9 0 1 0 -11.8 0M1399.2 1021.4a5.9 5.9 0 1 0 11.8 0a5.9 5.9 0 1 0 -11.8 0M1415.7 1021.4a5.9 5.9 0 1 0 11.8 0a5.9 5.9 0 1 0 -11.8 0M1432.2 1021.4a5.9 5.9 0 1 0 11.8 0a5.9 5.9 0 1 0 -11.8 0M1448.7 1021.4a5.9 5.9 0 1 0 11.8 0a5.9 5.9 0 1 0 -11.8 0M1465.2 1021.4a5.9 5.9 0 1 0 11.8 0a5.9 5.9 0 1 0 -11.8 0M1481.7 1021.4a5.9 5.9 0 1 0 11.8 0a5.9 5.9 0 1 0 -11.8 0M1498.2 1021.4a5.9 5.9 0 1 0 11.8 0a5.9 5.9 0 1 0 -11.8 0M1514.7 1021.4a5.9 5.9 0 1 0 11.8 0a5.9 5.9 0 1 0 -11.8 0M1531.2 1021.4a5.9 5.9 0 1 0 11.8 0a5.9 5.9 0 1 0 -11.8 0M1547.7 1021.4a5.9 5.9 0 1 0 11.8 0a5.9 5.9 0 1 0 -11.8 0M1564.2 1021.4a5.9 5.9 0 1 0 11.8 0a5.9 5.9 0 1 0 -11.8 0M1580.7 1021.4a5.9 5.9 0 1 0 11.8 0a5.9 5.9 0 1 0 -11.8 0M1597.2 1021.4a5.9 5.9 0 1 0 11.8 0a5.9 5.9 0 1 0 -11.8 0M1613.7 1021.4a5.9 5.9 0 1 0 11.8 0a5.9 5.9 0 1 0 -11.8 0M1630.2 1021.4a5.9 5.9 0 1 0 11.8 0a5.9 5.9 0 1 0 -11.8 0M1646.7 1021.4a5.9 5.9 0 1 0 11.8 0a5.9 5.9 0 1 0 -11.8 0M1663.2 1021.4a5.9 5.9 0 1 0 11.8 0a5.9 5.9 0 1 0 -11.8 0M1679.7 1021.4a5.9 5.9 0 1 0 11.8 0a5.9 5.9 0 1 0 -11.8 0M1696.2 1021.4a5.9 5.9 0 1 0 11.8 0a5.9 5.9 0 1 0 -11.8 0M1712.7 1021.4a5.9 5.9 0 1 0 11.8 0a5.9 5.9 0 1 0 -11.8 0M1729.2 1021.4a5.9 5.9 0 1 0 11.8 0a5.9 5.9 0 1 0 -11.8 0M1745.7 1021.4a5.9 5.9 0 1 0 11.8 0a5.9 5.9 0 1 0 -11.8 0M1762.2 1021.4a5.9 5.9 0 1 0 11.8 0a5.9 5.9 0 1 0 -11.8 0M1778.7 1021.4a5.9 5.9 0 1 0 11.8 0a5.9 5.9 0 1 0 -11.8 0M1795.2 1021.4a5.9 5.9 0 1 0 11.8 0a5.9 5.9 0 1 0 -11.8 0M1910.7 1021.4a5.9 5.9 0 1 0 11.8 0a5.9 5.9 0 1 0 -11.8 0M1927.2 1021.4a5.9 5.9 0 1 0 11.8 0a5.9 5.9 0 1 0 -11.8 0M1943.7 1021.4a5.9 5.9 0 1 0 11.8 0a5.9 5.9 0 1 0 -11.8 0M1960.2 1021.4a5.9 5.9 0 1 0 11.8 0a5.9 5.9 0 1 0 -11.8 0M1283.7 1037.87a5.9 5.9 0 1 0 11.8 0a5.9 5.9 0 1 0 -11.8 0M1300.2 1037.87a5.9 5.9 0 1 0 11.8 0a5.9 5.9 0 1 0 -11.8 0M1316.7 1037.87a5.9 5.9 0 1 0 11.8 0a5.9 5.9 0 1 0 -11.8 0M1333.2 1037.87a5.9 5.9 0 1 0 11.8 0a5.9 5.9 0 1 0 -11.8 0M1349.7 1037.87a5.9 5.9 0 1 0 11.8 0a5.9 5.9 0 1 0 -11.8 0M1366.2 1037.87a5.9 5.9 0 1 0 11.8 0a5.9 5.9 0 1 0 -11.8 0M1382.7 1037.87a5.9 5.9 0 1 0 11.8 0a5.9 5.9 0 1 0 -11.8 0M1399.2 1037.87a5.9 5.9 0 1 0 11.8 0a5.9 5.9 0 1 0 -11.8 0M1415.7 1037.87a5.9 5.9 0 1 0 11.8 0a5.9 5.9 0 1 0 -11.8 0M1432.2 1037.87a5.9 5.9 0 1 0 11.8 0a5.9 5.9 0 1 0 -11.8 0M1448.7 1037.87a5.9 5.9 0 1 0 11.8 0a5.9 5.9 0 1 0 -11.8 0M1465.2 1037.87a5.9 5.9 0 1 0 11.8 0a5.9 5.9 0 1 0 -11.8 0M1481.7 1037.87a5.9 5.9 0 1 0 11.8 0a5.9 5.9 0 1 0 -11.8 0M1498.2 1037.87a5.9 5.9 0 1 0 11.8 0a5.9 5.9 0 1 0 -11.8 0M1514.7 1037.87a5.9 5.9 0 1 0 11.8 0a5.9 5.9 0 1 0 -11.8 0M1531.2 1037.87a5.9 5.9 0 1 0 11.8 0a5.9 5.9 0 1 0 -11.8 0M1547.7 1037.87a5.9 5.9 0 1 0 11.8 0a5.9 5.9 0 1 0 -11.8 0M1564.2 1037.87a5.9 5.9 0 1 0 11.8 0a5.9 5.9 0 1 0 -11.8 0M1580.7 1037.87a5.9 5.9 0 1 0 11.8 0a5.9 5.9 0 1 0 -11.8 0M1597.2 1037.87a5.9 5.9 0 1 0 11.8 0a5.9 5.9 0 1 0 -11.8 0M1613.7 1037.87a5.9 5.9 0 1 0 11.8 0a5.9 5.9 0 1 0 -11.8 0M1630.2 1037.87a5.9 5.9 0 1 0 11.8 0a5.9 5.9 0 1 0 -11.8 0M1646.7 1037.87a5.9 5.9 0 1 0 11.8 0a5.9 5.9 0 1 0 -11.8 0M1663.2 1037.87a5.9 5.9 0 1 0 11.8 0a5.9 5.9 0 1 0 -11.8 0M1679.7 1037.87a5.9 5.9 0 1 0 11.8 0a5.9 5.9 0 1 0 -11.8 0M1696.2 1037.87a5.9 5.9 0 1 0 11.8 0a5.9 5.9 0 1 0 -11.8 0M1712.7 1037.87a5.9 5.9 0 1 0 11.8 0a5.9 5.9 0 1 0 -11.8 0M1729.2 1037.87a5.9 5.9 0 1 0 11.8 0a5.9 5.9 0 1 0 -11.8 0M1745.7 1037.87a5.9 5.9 0 1 0 11.8 0a5.9 5.9 0 1 0 -11.8 0M1762.2 1037.87a5.9 5.9 0 1 0 11.8 0a5.9 5.9 0 1 0 -11.8 0M1778.7 1037.87a5.9 5.9 0 1 0 11.8 0a5.9 5.9 0 1 0 -11.8 0M1795.2 1037.87a5.9 5.9 0 1 0 11.8 0a5.9 5.9 0 1 0 -11.8 0M1811.7 1037.87a5.9 5.9 0 1 0 11.8 0a5.9 5.9 0 1 0 -11.8 0M1828.2 1037.87a5.9 5.9 0 1 0 11.8 0a5.9 5.9 0 1 0 -11.8 0M1877.7 1037.87a5.9 5.9 0 1 0 11.8 0a5.9 5.9 0 1 0 -11.8 0M1894.2 1037.87a5.9 5.9 0 1 0 11.8 0a5.9 5.9 0 1 0 -11.8 0M1910.7 1037.87a5.9 5.9 0 1 0 11.8 0a5.9 5.9 0 1 0 -11.8 0M1927.2 1037.87a5.9 5.9 0 1 0 11.8 0a5.9 5.9 0 1 0 -11.8 0M1943.7 1037.87a5.9 5.9 0 1 0 11.8 0a5.9 5.9 0 1 0 -11.8 0M1960.2 1037.87a5.9 5.9 0 1 0 11.8 0a5.9 5.9 0 1 0 -11.8 0" stroke="#484848"/><path d="M1547.7 856.7a5.9 5.9 0 1 0 11.8 0a5.9 5.9 0 1 0 -11.8 0M1547.7 873.17a5.9 5.9 0 1 0 11.8 0a5.9 5.9 0 1 0 -11.8 0M1580.7 889.64a5.9 5.9 0 1 0 11.8 0a5.9 5.9 0 1 0 -11.8 0M1531.2 906.11a5.9 5.9 0 1 0 11.8 0a5.9 5.9 0 1 0 -11.8 0M1547.7 906.11a5.9 5.9 0 1 0 11.8 0a5.9 5.9 0 1 0 -11.8 0M1580.7 906.11a5.9 5.9 0 1 0 11.8 0a5.9 5.9 0 1 0 -11.8 0M1679.7 906.11a5.9 5.9 0 1 0 11.8 0a5.9 5.9 0 1 0 -11.8 0M1894.2 906.11a5.9 5.9 0 1 0 11.8 0a5.9 5.9 0 1 0 -11.8 0M1564.2 922.58a5.9 5.9 0 1 0 11.8 0a5.9 5.9 0 1 0 -11.8 0M1580.7 922.58a5.9 5.9 0 1 0 11.8 0a5.9 5.9 0 1 0 -11.8 0M1630.2 922.58a5.9 5.9 0 1 0 11.8 0a5.9 5.9 0 1 0 -11.8 0M1663.2 922.58a5.9 5.9 0 1 0 11.8 0a5.9 5.9 0 1 0 -11.8 0M1696.2 922.58a5.9 5.9 0 1 0 11.8 0a5.9 5.9 0 1 0 -11.8 0M1745.7 922.58a5.9 5.9 0 1 0 11.8 0a5.9 5.9 0 1 0 -11.8 0M1762.2 922.58a5.9 5.9 0 1 0 11.8 0a5.9 5.9 0 1 0 -11.8 0M1778.7 922.58a5.9 5.9 0 1 0 11.8 0a5.9 5.9 0 1 0 -11.8 0M1960.2 922.58a5.9 5.9 0 1 0 11.8 0a5.9 5.9 0 1 0 -11.8 0M1613.7 939.05a5.9 5.9 0 1 0 11.8 0a5.9 5.9 0 1 0 -11.8 0M1630.2 939.05a5.9 5.9 0 1 0 11.8 0a5.9 5.9 0 1 0 -11.8 0M1646.7 939.05a5.9 5.9 0 1 0 11.8 0a5.9 5.9 0 1 0 -11.8 0M1663.2 939.05a5.9 5.9 0 1 0 11.8 0a5.9 5.9 0 1 0 -11.8 0M1679.7 939.05a5.9 5.9 0 1 0 11.8 0a5.9 5.9 0 1 0 -11.8 0M1696.2 939.05a5.9 5.9 0 1 0 11.8 0a5.9 5.9 0 1 0 -11.8 0M1712.7 939.05a5.9 5.9 0 1 0 11.8 0a5.9 5.9 0 1 0 -11.8 0M1729.2 939.05a5.9 5.9 0 1 0 11.8 0a5.9 5.9 0 1 0 -11.8 0M1745.7 939.05a5.9 5.9 0 1 0 11.8 0a5.9 5.9 0 1 0 -11.8 0M1762.2 939.05a5.9 5.9 0 1 0 11.8 0a5.9 5.9 0 1 0 -11.8 0M1927.2 939.05a5.9 5.9 0 1 0 11.8 0a5.9 5.9 0 1 0 -11.8 0M1943.7 939.05a5.9 5.9 0 1 0 11.8 0a5.9 5.9 0 1 0 -11.8 0M1960.2 939.05a5.9 5.9 0 1 0 11.8 0a5.9 5.9 0 1 0 -11.8 0M1580.7 955.52a5.9 5.9 0 1 0 11.8 0a5.9 5.9 0 1 0 -11.8 0M1597.2 955.52a5.9 5.9 0 1 0 11.8 0a5.9 5.9 0 1 0 -11.8 0M1613.7 955.52a5.9 5.9 0 1 0 11.8 0a5.9 5.9 0 1 0 -11.8 0M1712.7 955.52a5.9 5.9 0 1 0 11.8 0a5.9 5.9 0 1 0 -11.8 0M1729.2 955.52a5.9 5.9 0 1 0 11.8 0a5.9 5.9 0 1 0 -11.8 0M1745.7 955.52a5.9 5.9 0 1 0 11.8 0a5.9 5.9 0 1 0 -11.8 0M1762.2 955.52a5.9 5.9 0 1 0 11.8 0a5.9 5.9 0 1 0 -11.8 0M1910.7 955.52a5.9 5.9 0 1 0 11.8 0a5.9 5.9 0 1 0 -11.8 0M1927.2 955.52a5.9 5.9 0 1 0 11.8 0a5.9 5.9 0 1 0 -11.8 0M1943.7 955.52a5.9 5.9 0 1 0 11.8 0a5.9 5.9 0 1 0 -11.8 0M1960.2 955.52a5.9 5.9 0 1 0 11.8 0a5.9 5.9 0 1 0 -11.8 0M1597.2 971.99a5.9 5.9 0 1 0 11.8 0a5.9 5.9 0 1 0 -11.8 0M1613.7 971.99a5.9 5.9 0 1 0 11.8 0a5.9 5.9 0 1 0 -11.8 0M1630.2 971.99a5.9 5.9 0 1 0 11.8 0a5.9 5.9 0 1 0 -11.8 0M1646.7 971.99a5.9 5.9 0 1 0 11.8 0a5.9 5.9 0 1 0 -11.8 0M1663.2 971.99a5.9 5.9 0 1 0 11.8 0a5.9 5.9 0 1 0 -11.8 0M1679.7 971.99a5.9 5.9 0 1 0 11.8 0a5.9 5.9 0 1 0 -11.8 0M1712.7 971.99a5.9 5.9 0 1 0 11.8 0a5.9 5.9 0 1 0 -11.8 0M1729.2 971.99a5.9 5.9 0 1 0 11.8 0a5.9 5.9 0 1 0 -11.8 0M1745.7 971.99a5.9 5.9 0 1 0 11.8 0a5.9 5.9 0 1 0 -11.8 0M1762.2 971.99a5.9 5.9 0 1 0 11.8 0a5.9 5.9 0 1 0 -11.8 0M1778.7 971.99a5.9 5.9 0 1 0 11.8 0a5.9 5.9 0 1 0 -11.8 0M1795.2 971.99a5.9 5.9 0 1 0 11.8 0a5.9 5.9 0 1 0 -11.8 0M1811.7 971.99a5.9 5.9 0 1 0 11.8 0a5.9 5.9 0 1 0 -11.8 0M1894.2 971.99a5.9 5.9 0 1 0 11.8 0a5.9 5.9 0 1 0 -11.8 0M1910.7 971.99a5.9 5.9 0 1 0 11.8 0a5.9 5.9 0 1 0 -11.8 0M1927.2 971.99a5.9 5.9 0 1 0 11.8 0a5.9 5.9 0 1 0 -11.8 0M1943.7 971.99a5.9 5.9 0 1 0 11.8 0a5.9 5.9 0 1 0 -11.8 0M1960.2 971.99a5.9 5.9 0 1 0 11.8 0a5.9 5.9 0 1 0 -11.8 0M1613.7 988.46a5.9 5.9 0 1 0 11.8 0a5.9 5.9 0 1 0 -11.8 0M1646.7 988.46a5.9 5.9 0 1 0 11.8 0a5.9 5.9 0 1 0 -11.8 0M1679.7 988.46a5.9 5.9 0 1 0 11.8 0a5.9 5.9 0 1 0 -11.8 0M1712.7 988.46a5.9 5.9 0 1 0 11.8 0a5.9 5.9 0 1 0 -11.8 0M1745.7 988.46a5.9 5.9 0 1 0 11.8 0a5.9 5.9 0 1 0 -11.8 0M1762.2 988.46a5.9 5.9 0 1 0 11.8 0a5.9 5.9 0 1 0 -11.8 0M1778.7 988.46a5.9 5.9 0 1 0 11.8 0a5.9 5.9 0 1 0 -11.8 0M1795.2 988.46a5.9 5.9 0 1 0 11.8 0a5.9 5.9 0 1 0 -11.8 0M1894.2 988.46a5.9 5.9 0 1 0 11.8 0a5.9 5.9 0 1 0 -11.8 0M1910.7 988.46a5.9 5.9 0 1 0 11.8 0a5.9 5.9 0 1 0 -11.8 0M1927.2 988.46a5.9 5.9 0 1 0 11.8 0a5.9 5.9 0 1 0 -11.8 0M1795.2 1004.93a5.9 5.9 0 1 0 11.8 0a5.9 5.9 0 1 0 -11.8 0M1811.7 1004.93a5.9 5.9 0 1 0 11.8 0a5.9 5.9 0 1 0 -11.8 0M1828.2 1004.93a5.9 5.9 0 1 0 11.8 0a5.9 5.9 0 1 0 -11.8 0M1844.7 1004.93a5.9 5.9 0 1 0 11.8 0a5.9 5.9 0 1 0 -11.8 0M1861.2 1004.93a5.9 5.9 0 1 0 11.8 0a5.9 5.9 0 1 0 -11.8 0M1877.7 1004.93a5.9 5.9 0 1 0 11.8 0a5.9 5.9 0 1 0 -11.8 0M1894.2 1004.93a5.9 5.9 0 1 0 11.8 0a5.9 5.9 0 1 0 -11.8 0M1910.7 1004.93a5.9 5.9 0 1 0 11.8 0a5.9 5.9 0 1 0 -11.8 0M1811.7 1021.4a5.9 5.9 0 1 0 11.8 0a5.9 5.9 0 1 0 -11.8 0M1828.2 1021.4a5.9 5.9 0 1 0 11.8 0a5.9 5.9 0 1 0 -11.8 0M1844.7 1021.4a5.9 5.9 0 1 0 11.8 0a5.9 5.9 0 1 0 -11.8 0M1861.2 1021.4a5.9 5.9 0 1 0 11.8 0a5.9 5.9 0 1 0 -11.8 0M1877.7 1021.4a5.9 5.9 0 1 0 11.8 0a5.9 5.9 0 1 0 -11.8 0M1894.2 1021.4a5.9 5.9 0 1 0 11.8 0a5.9 5.9 0 1 0 -11.8 0M1844.7 1037.87a5.9 5.9 0 1 0 11.8 0a5.9 5.9 0 1 0 -11.8 0M1861.2 1037.87a5.9 5.9 0 1 0 11.8 0a5.9 5.9 0 1 0 -11.8 0" stroke="#5c4242"/><path d="M1564.2 856.7a5.9 5.9 0 1 0 11.8 0a5.9 5.9 0 1 0 -11.8 0M1580.7 856.7a5.9 5.9 0 1 0 11.8 0a5.9 5.9 0 1 0 -11.8 0M1580.7 873.17a5.9 5.9 0 1 0 11.8 0a5.9 5.9 0 1 0 -11.8 0M1646.7 873.17a5.9 5.9 0 1 0 11.8 0a5.9 5.9 0 1 0 -11.8 0M1679.7 873.17a5.9 5.9 0 1 0 11.8 0a5.9 5.9 0 1 0 -11.8 0M1712.7 873.17a5.9 5.9 0 1 0 11.8 0a5.9 5.9 0 1 0 -11.8 0M1745.7 873.17a5.9 5.9 0 1 0 11.8 0a5.9 5.9 0 1 0 -11.8 0M1778.7 873.17a5.9 5.9 0 1 0 11.8 0a5.9 5.9 0 1 0 -11.8 0M1910.7 873.17a5.9 5.9 0 1 0 11.8 0a5.9 5.9 0 1 0 -11.8 0M1943.7 873.17a5.9 5.9 0 1 0 11.8 0a5.9 5.9 0 1 0 -11.8 0M1613.7 889.64a5.9 5.9 0 1 0 11.8 0a5.9 5.9 0 1 0 -11.8 0M1646.7 889.64a5.9 5.9 0 1 0 11.8 0a5.9 5.9 0 1 0 -11.8 0M1679.7 889.64a5.9 5.9 0 1 0 11.8 0a5.9 5.9 0 1 0 -11.8 0M1712.7 889.64a5.9 5.9 0 1 0 11.8 0a5.9 5.9 0 1 0 -11.8 0M1745.7 889.64a5.9 5.9 0 1 0 11.8 0a5.9 5.9 0 1 0 -11.8 0M1894.2 889.64a5.9 5.9 0 1 0 11.8 0a5.9 5.9 0 1 0 -11.8 0M1910.7 889.64a5.9 5.9 0 1 0 11.8 0a5.9 5.9 0 1 0 -11.8 0M1943.7 889.64a5.9 5.9 0 1 0 11.8 0a5.9 5.9 0 1 0 -11.8 0M1597.2 906.11a5.9 5.9 0 1 0 11.8 0a5.9 5.9 0 1 0 -11.8 0M1663.2 906.11a5.9 5.9 0 1 0 11.8 0a5.9 5.9 0 1 0 -11.8 0M1696.2 906.11a5.9 5.9 0 1 0 11.8 0a5.9 5.9 0 1 0 -11.8 0M1712.7 906.11a5.9 5.9 0 1 0 11.8 0a5.9 5.9 0 1 0 -11.8 0M1745.7 906.11a5.9 5.9 0 1 0 11.8 0a5.9 5.9 0 1 0 -11.8 0M1762.2 906.11a5.9 5.9 0 1 0 11.8 0a5.9 5.9 0 1 0 -11.8 0M1778.7 906.11a5.9 5.9 0 1 0 11.8 0a5.9 5.9 0 1 0 -11.8 0M1910.7 906.11a5.9 5.9 0 1 0 11.8 0a5.9 5.9 0 1 0 -11.8 0M1927.2 906.11a5.9 5.9 0 1 0 11.8 0a5.9 5.9 0 1 0 -11.8 0M1646.7 922.58a5.9 5.9 0 1 0 11.8 0a5.9 5.9 0 1 0 -11.8 0M1679.7 922.58a5.9 5.9 0 1 0 11.8 0a5.9 5.9 0 1 0 -11.8 0M1795.2 939.05a5.9 5.9 0 1 0 11.8 0a5.9 5.9 0 1 0 -11.8 0M1811.7 939.05a5.9 5.9 0 1 0 11.8 0a5.9 5.9 0 1 0 -11.8 0M1894.2 939.05a5.9 5.9 0 1 0 11.8 0a5.9 5.9 0 1 0 -11.8 0M1778.7 955.52a5.9 5.9 0 1 0 11.8 0a5.9 5.9 0 1 0 -11.8 0M1844.7 955.52a5.9 5.9 0 1 0 11.8 0a5.9 5.9 0 1 0 -11.8 0" stroke="#982e30"/><path d="M1597.2 856.7a5.9 5.9 0 1 0 11.8 0a5.9 5.9 0 1 0 -11.8 0M1613.7 856.7a5.9 5.9 0 1 0 11.8 0a5.9 5.9 0 1 0 -11.8 0M1597.2 873.17a5.9 5.9 0 1 0 11.8 0a5.9 5.9 0 1 0 -11.8 0M1613.7 873.17a5.9 5.9 0 1 0 11.8 0a5.9 5.9 0 1 0 -11.8 0M1762.2 873.17a5.9 5.9 0 1 0 11.8 0a5.9 5.9 0 1 0 -11.8 0M1877.7 889.64a5.9 5.9 0 1 0 11.8 0a5.9 5.9 0 1 0 -11.8 0M1877.7 906.11a5.9 5.9 0 1 0 11.8 0a5.9 5.9 0 1 0 -11.8 0M1877.7 922.58a5.9 5.9 0 1 0 11.8 0a5.9 5.9 0 1 0 -11.8 0M1861.2 939.05a5.9 5.9 0 1 0 11.8 0a5.9 5.9 0 1 0 -11.8 0M1828.2 955.52a5.9 5.9 0 1 0 11.8 0a5.9 5.9 0 1 0 -11.8 0" stroke="#e41919"/><path d="M1630.2 856.7a5.9 5.9 0 1 0 11.8 0a5.9 5.9 0 1 0 -11.8 0M1630.2 873.17a5.9 5.9 0 1 0 11.8 0a5.9 5.9 0 1 0 -11.8 0M1795.2 873.17a5.9 5.9 0 1 0 11.8 0a5.9 5.9 0 1 0 -11.8 0M1811.7 889.64a5.9 5.9 0 1 0 11.8 0a5.9 5.9 0 1 0 -11.8 0M1844.7 922.58a5.9 5.9 0 1 0 11.8 0a5.9 5.9 0 1 0 -11.8 0M1861.2 922.58a5.9 5.9 0 1 0 11.8 0a5.9 5.9 0 1 0 -11.8 0" stroke="#ff8700"/><path d="M1646.7 856.7a5.9 5.9 0 1 0 11.8 0a5.9 5.9 0 1 0 -11.8 0M1663.2 856.7a5.9 5.9 0 1 0 11.8 0a5.9 5.9 0 1 0 -11.8 0M1762.2 856.7a5.9 5.9 0 1 0 11.8 0a5.9 5.9 0 1 0 -11.8 0M1894.2 856.7a5.9 5.9 0 1 0 11.8 0a5.9 5.9 0 1 0 -11.8 0M1861.2 889.64a5.9 5.9 0 1 0 11.8 0a5.9 5.9 0 1 0 -11.8 0" stroke="#fafa5a"/><path d="M1679.7 856.7a5.9 5.9 0 1 0 11.8 0a5.9 5.9 0 1 0 -11.8 0M1696.2 856.7a5.9 5.9 0 1 0 11.8 0a5.9 5.9 0 1 0 -11.8 0M1712.7 856.7a5.9 5.9 0 1 0 11.8 0a5.9 5.9 0 1 0 -11.8 0M1729.2 856.7a5.9 5.9 0 1 0 11.8 0a5.9 5.9 0 1 0 -11.8 0M1745.7 856.7a5.9 5.9 0 1 0 11.8 0a5.9 5.9 0 1 0 -11.8 0M1795.2 856.7a5.9 5.9 0 1 0 11.8 0a5.9 5.9 0 1 0 -11.8 0M1910.7 856.7a5.9 5.9 0 1 0 11.8 0a5.9 5.9 0 1 0 -11.8 0M1927.2 856.7a5.9 5.9 0 1 0 11.8 0a5.9 5.9 0 1 0 -11.8 0M1943.7 856.7a5.9 5.9 0 1 0 11.8 0a5.9 5.9 0 1 0 -11.8 0M1960.2 856.7a5.9 5.9 0 1 0 11.8 0a5.9 5.9 0 1 0 -11.8 0M1828.2 889.64a5.9 5.9 0 1 0 11.8 0a5.9 5.9 0 1 0 -11.8 0M1828.2 922.58a5.9 5.9 0 1 0 11.8 0a5.9 5.9 0 1 0 -11.8 0" stroke="#ffff00"/><path d="M1778.7 856.7a5.9 5.9 0 1 0 11.8 0a5.9 5.9 0 1 0 -11.8 0M1861.2 856.7a5.9 5.9 0 1 0 11.8 0a5.9 5.9 0 1 0 -11.8 0M1828.2 906.11a5.9 5.9 0 1 0 11.8 0a5.9 5.9 0 1 0 -11.8 0" stroke="#ffffff"/><path d="M1811.7 856.7a5.9 5.9 0 1 0 11.8 0a5.9 5.9 0 1 0 -11.8 0M1828.2 856.7a5.9 5.9 0 1 0 11.8 0a5.9 5.9 0 1 0 -11.8 0M1844.7 856.7a5.9 5.9 0 1 0 11.8 0a5.9 5.9 0 1 0 -11.8 0M1828.2 873.17a5.9 5.9 0 1 0 11.8 0a5.9 5.9 0 1 0 -11.8 0M1844.7 873.17a5.9 5.9 0 1 0 11.8 0a5.9 5.9 0 1 0 -11.8 0M1877.7 873.17a5.9 5.9 0 1 0 11.8 0a5.9 5.9 0 1 0 -11.8 0M1844.7 889.64a5.9 5.9 0 1 0 11.8 0a5.9 5.9 0 1 0 -11.8 0M1844.7 906.11a5.9 5.9 0 1 0 11.8 0a5.9 5.9 0 1 0 -11.8 0" stroke="#2d2d2d"/><path d="M1877.7 856.7a5.9 5.9 0 1 0 11.8 0a5.9 5.9 0 1 0 -11.8 0" stroke="#f5f5a0"/><path d="M1564.2 873.17a5.9 5.9 0 1 0 11.8 0a5.9 5.9 0 1 0 -11.8 0M1597.2 889.64a5.9 5.9 0 1 0 11.8 0a5.9 5.9 0 1 0 -11.8 0M1613.7 906.11a5.9 5.9 0 1 0 11.8 0a5.9 5.9 0 1 0 -11.8 0M1646.7 906.11a5.9 5.9 0 1 0 11.8 0a5.9 5.9 0 1 0 -11.8 0M1943.7 906.11a5.9 5.9 0 1 0 11.8 0a5.9 5.9 0 1 0 -11.8 0M1960.2 906.11a5.9 5.9 0 1 0 11.8 0a5.9 5.9 0 1 0 -11.8 0M1597.2 922.58a5.9 5.9 0 1 0 11.8 0a5.9 5.9 0 1 0 -11.8 0M1613.7 922.58a5.9 5.9 0 1 0 11.8 0a5.9 5.9 0 1 0 -11.8 0M1712.7 922.58a5.9 5.9 0 1 0 11.8 0a5.9 5.9 0 1 0 -11.8 0M1729.2 922.58a5.9 5.9 0 1 0 11.8 0a5.9 5.9 0 1 0 -11.8 0M1927.2 922.58a5.9 5.9 0 1 0 11.8 0a5.9 5.9 0 1 0 -11.8 0M1943.7 922.58a5.9 5.9 0 1 0 11.8 0a5.9 5.9 0 1 0 -11.8 0M1630.2 955.52a5.9 5.9 0 1 0 11.8 0a5.9 5.9 0 1 0 -11.8 0M1646.7 955.52a5.9 5.9 0 1 0 11.8 0a5.9 5.9 0 1 0 -11.8 0M1663.2 955.52a5.9 5.9 0 1 0 11.8 0a5.9 5.9 0 1 0 -11.8 0M1679.7 955.52a5.9 5.9 0 1 0 11.8 0a5.9 5.9 0 1 0 -11.8 0M1696.2 955.52a5.9 5.9 0 1 0 11.8 0a5.9 5.9 0 1 0 -11.8 0M1877.7 971.99a5.9 5.9 0 1 0 11.8 0a5.9 5.9 0 1 0 -11.8 0M1828.2 988.46a5.9 5.9 0 1 0 11.8 0a5.9 5.9 0 1 0 -11.8 0M1844.7 988.46a5.9 5.9 0 1 0 11.8 0a5.9 5.9 0 1 0 -11.8 0M1861.2 988.46a5.9 5.9 0 1 0 11.8 0a5.9 5.9 0 1 0 -11.8 0M1877.7 988.46a5.9 5.9 0 1 0 11.8 0a5.9 5.9 0 1 0 -11.8 0" stroke="#723c3c"/><path d="M1663.2 873.17a5.9 5.9 0 1 0 11.8 0a5.9 5.9 0 1 0 -11.8 0M1696.2 873.17a5.9 5.9 0 1 0 11.8 0a5.9 5.9 0 1 0 -11.8 0M1729.2 873.17a5.9 5.9 0 1 0 11.8 0a5.9 5.9 0 1 0 -11.8 0M1894.2 873.17a5.9 5.9 0 1 0 11.8 0a5.9 5.9 0 1 0 -11.8 0M1927.2 873.17a5.9 5.9 0 1 0 11.8 0a5.9 5.9 0 1 0 -11.8 0M1960.2 873.17a5.9 5.9 0 1 0 11.8 0a5.9 5.9 0 1 0 -11.8 0M1630.2 889.64a5.9 5.9 0 1 0 11.8 0a5.9 5.9 0 1 0 -11.8 0M1663.2 889.64a5.9 5.9 0 1 0 11.8 0a5.9 5.9 0 1 0 -11.8 0M1696.2 889.64a5.9 5.9 0 1 0 11.8 0a5.9 5.9 0 1 0 -11.8 0M1729.2 889.64a5.9 5.9 0 1 0 11.8 0a5.9 5.9 0 1 0 -11.8 0M1762.2 889.64a5.9 5.9 0 1 0 11.8 0a5.9 5.9 0 1 0 -11.8 0M1778.7 889.64a5.9 5.9 0 1 0 11.8 0a5.9 5.9 0 1 0 -11.8 0M1795.2 889.64a5.9 5.9 0 1 0 11.8 0a5.9 5.9 0 1 0 -11.8 0M1927.2 889.64a5.9 5.9 0 1 0 11.8 0a5.9 5.9 0 1 0 -11.8 0M1960.2 889.64a5.9 5.9 0 1 0 11.8 0a5.9 5.9 0 1 0 -11.8 0M1795.2 922.58a5.9 5.9 0 1 0 11.8 0a5.9 5.9 0 1 0 -11.8 0M1811.7 922.58a5.9 5.9 0 1 0 11.8 0a5.9 5.9 0 1 0 -11.8 0M1894.2 922.58a5.9 5.9 0 1 0 11.8 0a5.9 5.9 0 1 0 -11.8 0M1844.7 939.05a5.9 5.9 0 1 0 11.8 0a5.9 5.9 0 1 0 -11.8 0M1861.2 955.52a5.9 5.9 0 1 0 11.8 0a5.9 5.9 0 1 0 -11.8 0" stroke="#ff0c0c"/><path d="M1811.7 873.17a5.9 5.9 0 1 0 11.8 0a5.9 5.9 0 1 0 -11.8 0" stroke="#ffb400"/><path d="M1861.2 873.17a5.9 5.9 0 1 0 11.8 0a5.9 5.9 0 1 0 -11.8 0" stroke="#f5f5e1"/><path d="M1630.2 906.11a5.9 5.9 0 1 0 11.8 0a5.9 5.9 0 1 0 -11.8 0M1729.2 906.11a5.9 5.9 0 1 0 11.8 0a5.9 5.9 0 1 0 -11.8 0M1795.2 906.11a5.9 5.9 0 1 0 11.8 0a5.9 5.9 0 1 0 -11.8 0M1811.7 906.11a5.9 5.9 0 1 0 11.8 0a5.9 5.9 0 1 0 -11.8 0M1910.7 922.58a5.9 5.9 0 1 0 11.8 0a5.9 5.9 0 1 0 -11.8 0M1828.2 939.05a5.9 5.9 0 1 0 11.8 0a5.9 5.9 0 1 0 -11.8 0M1877.7 939.05a5.9 5.9 0 1 0 11.8 0a5.9 5.9 0 1 0 -11.8 0M1795.2 955.52a5.9 5.9 0 1 0 11.8 0a5.9 5.9 0 1 0 -11.8 0M1811.7 955.52a5.9 5.9 0 1 0 11.8 0a5.9 5.9 0 1 0 -11.8 0M1877.7 955.52a5.9 5.9 0 1 0 11.8 0a5.9 5.9 0 1 0 -11.8 0M1894.2 955.52a5.9 5.9 0 1 0 11.8 0a5.9 5.9 0 1 0 -11.8 0M1828.2 971.99a5.9 5.9 0 1 0 11.8 0a5.9 5.9 0 1 0 -11.8 0M1844.7 971.99a5.9 5.9 0 1 0 11.8 0a5.9 5.9 0 1 0 -11.8 0M1861.2 971.99a5.9 5.9 0 1 0 11.8 0a5.9 5.9 0 1 0 -11.8 0" stroke="#c32326"/><path d="M1861.2 906.11a5.9 5.9 0 1 0 11.8 0a5.9 5.9 0 1 0 -11.8 0" stroke="#ffd700"/></g>
</g>
<clipPath id="cpe"><rect x="1291.4" y="1109.4" width="670.4" height="214.4"/></clipPath>
<rect x="1291.4" y="1109.4" width="670.4" height="214.4" fill="#000"/>
<g clip-path="url(#cpe)" fill="none">
<g stroke-width="3.4" stroke-opacity="0.4"><path d="M1290.6 1136.1a5.9 5.9 0 1 0 11.8 0a5.9 5.9 0 1 0 -11.8 0M1307.1 1136.1a5.9 5.9 0 1 0 11.8 0a5.9 5.9 0 1 0 -11.8 0M1323.6 1136.1a5.9 5.9 0 1 0 11.8 0a5.9 5.9 0 1 0 -11.8 0M1340.1 1136.1a5.9 5.9 0 1 0 11.8 0a5.9 5.9 0 1 0 -11.8 0M1356.6 1136.1a5.9 5.9 0 1 0 11.8 0a5.9 5.9 0 1 0 -11.8 0M1373.1 1136.1a5.9 5.9 0 1 0 11.8 0a5.9 5.9 0 1 0 -11.8 0M1389.6 1136.1a5.9 5.9 0 1 0 11.8 0a5.9 5.9 0 1 0 -11.8 0M1406.1 1136.1a5.9 5.9 0 1 0 11.8 0a5.9 5.9 0 1 0 -11.8 0M1571.1 1136.1a5.9 5.9 0 1 0 11.8 0a5.9 5.9 0 1 0 -11.8 0M1604.1 1136.1a5.9 5.9 0 1 0 11.8 0a5.9 5.9 0 1 0 -11.8 0M1521.6 1169.1a5.9 5.9 0 1 0 11.8 0a5.9 5.9 0 1 0 -11.8 0M1488.6 1185.6a5.9 5.9 0 1 0 11.8 0a5.9 5.9 0 1 0 -11.8 0" stroke="#ffff00"/><path d="M1422.6 1136.1a5.9 5.9 0 1 0 11.8 0a5.9 5.9 0 1 0 -11.8 0M1538.1 1136.1a5.9 5.9 0 1 0 11.8 0a5.9 5.9 0 1 0 -11.8 0M1554.6 1136.1a5.9 5.9 0 1 0 11.8 0a5.9 5.9 0 1 0 -11.8 0M1620.6 1136.1a5.9 5.9 0 1 0 11.8 0a5.9 5.9 0 1 0 -11.8 0M1637.1 1136.1a5.9 5.9 0 1 0 11.8 0a5.9 5.9 0 1 0 -11.8 0M1488.6 1152.6a5.9 5.9 0 1 0 11.8 0a5.9 5.9 0 1 0 -11.8 0M1455.6 1169.1a5.9 5.9 0 1 0 11.8 0a5.9 5.9 0 1 0 -11.8 0M1488.6 1169.1a5.9 5.9 0 1 0 11.8 0a5.9 5.9 0 1 0 -11.8 0" stroke="#fafa5a"/><path d="M1439.1 1136.1a5.9 5.9 0 1 0 11.8 0a5.9 5.9 0 1 0 -11.8 0" stroke="#f5f5e1"/><path d="M1455.6 1136.1a5.9 5.9 0 1 0 11.8 0a5.9 5.9 0 1 0 -11.8 0M1455.6 1152.6a5.9 5.9 0 1 0 11.8 0a5.9 5.9 0 1 0 -11.8 0" stroke="#ffffff"/><path d="M1472.1 1136.1a5.9 5.9 0 1 0 11.8 0a5.9 5.9 0 1 0 -11.8 0M1505.1 1136.1a5.9 5.9 0 1 0 11.8 0a5.9 5.9 0 1 0 -11.8 0M1521.6 1136.1a5.9 5.9 0 1 0 11.8 0a5.9 5.9 0 1 0 -11.8 0M1439.1 1152.6a5.9 5.9 0 1 0 11.8 0a5.9 5.9 0 1 0 -11.8 0M1472.1 1152.6a5.9 5.9 0 1 0 11.8 0a5.9 5.9 0 1 0 -11.8 0M1521.6 1152.6a5.9 5.9 0 1 0 11.8 0a5.9 5.9 0 1 0 -11.8 0M1472.1 1169.1a5.9 5.9 0 1 0 11.8 0a5.9 5.9 0 1 0 -11.8 0M1472.1 1185.6a5.9 5.9 0 1 0 11.8 0a5.9 5.9 0 1 0 -11.8 0" stroke="#2d2d2d"/><path d="M1488.6 1136.1a5.9 5.9 0 1 0 11.8 0a5.9 5.9 0 1 0 -11.8 0M1505.1 1152.6a5.9 5.9 0 1 0 11.8 0a5.9 5.9 0 1 0 -11.8 0M1538.1 1152.6a5.9 5.9 0 1 0 11.8 0a5.9 5.9 0 1 0 -11.8 0M1538.1 1169.1a5.9 5.9 0 1 0 11.8 0a5.9 5.9 0 1 0 -11.8 0M1505.1 1202.1a5.9 5.9 0 1 0 11.8 0a5.9 5.9 0 1 0 -11.8 0" stroke="#ff4b00"/><path d="M1587.6 1136.1a5.9 5.9 0 1 0 11.8 0a5.9 5.9 0 1 0 -11.8 0M1505.1 1169.1a5.9 5.9 0 1 0 11.8 0a5.9 5.9 0 1 0 -11.8 0M1455.6 1185.6a5.9 5.9 0 1 0 11.8 0a5.9 5.9 0 1 0 -11.8 0M1472.1 1202.1a5.9 5.9 0 1 0 11.8 0a5.9 5.9 0 1 0 -11.8 0M1488.6 1202.1a5.9 5.9 0 1 0 11.8 0a5.9 5.9 0 1 0 -11.8 0" stroke="#ffd700"/><path d="M1653.6 1136.1a5.9 5.9 0 1 0 11.8 0a5.9 5.9 0 1 0 -11.8 0M1670.1 1136.1a5.9 5.9 0 1 0 11.8 0a5.9 5.9 0 1 0 -11.8 0M1653.6 1152.6a5.9 5.9 0 1 0 11.8 0a5.9 5.9 0 1 0 -11.8 0M1521.6 1185.6a5.9 5.9 0 1 0 11.8 0a5.9 5.9 0 1 0 -11.8 0M1521.6 1202.1a5.9 5.9 0 1 0 11.8 0a5.9 5.9 0 1 0 -11.8 0" stroke="#ff8700"/><path d="M1686.6 1136.1a5.9 5.9 0 1 0 11.8 0a5.9 5.9 0 1 0 -11.8 0M1670.1 1152.6a5.9 5.9 0 1 0 11.8 0a5.9 5.9 0 1 0 -11.8 0M1439.1 1169.1a5.9 5.9 0 1 0 11.8 0a5.9 5.9 0 1 0 -11.8 0M1439.1 1185.6a5.9 5.9 0 1 0 11.8 0a5.9 5.9 0 1 0 -11.8 0M1505.1 1185.6a5.9 5.9 0 1 0 11.8 0a5.9 5.9 0 1 0 -11.8 0M1538.1 1185.6a5.9 5.9 0 1 0 11.8 0a5.9 5.9 0 1 0 -11.8 0M1554.6 1185.6a5.9 5.9 0 1 0 11.8 0a5.9 5.9 0 1 0 -11.8 0M1587.6 1185.6a5.9 5.9 0 1 0 11.8 0a5.9 5.9 0 1 0 -11.8 0M1653.6 1185.6a5.9 5.9 0 1 0 11.8 0a5.9 5.9 0 1 0 -11.8 0M1406.1 1202.1a5.9 5.9 0 1 0 11.8 0a5.9 5.9 0 1 0 -11.8 0M1488.6 1218.6a5.9 5.9 0 1 0 11.8 0a5.9 5.9 0 1 0 -11.8 0M1521.6 1218.6a5.9 5.9 0 1 0 11.8 0a5.9 5.9 0 1 0 -11.8 0M1422.6 1235.1a5.9 5.9 0 1 0 11.8 0a5.9 5.9 0 1 0 -11.8 0M1439.1 1235.1a5.9 5.9 0 1 0 11.8 0a5.9 5.9 0 1 0 -11.8 0M1521.6 1235.1a5.9 5.9 0 1 0 11.8 0a5.9 5.9 0 1 0 -11.8 0M1455.6 1251.6a5.9 5.9 0 1 0 11.8 0a5.9 5.9 0 1 0 -11.8 0M1472.1 1251.6a5.9 5.9 0 1 0 11.8 0a5.9 5.9 0 1 0 -11.8 0" stroke="#c32326"/><path d="M1703.1 1136.1a5.9 5.9 0 1 0 11.8 0a5.9 5.9 0 1 0 -11.8 0M1307.1 1152.6a5.9 5.9 0 1 0 11.8 0a5.9 5.9 0 1 0 -11.8 0M1340.1 1152.6a5.9 5.9 0 1 0 11.8 0a5.9 5.9 0 1 0 -11.8 0M1373.1 1152.6a5.9 5.9 0 1 0 11.8 0a5.9 5.9 0 1 0 -11.8 0M1406.1 1152.6a5.9 5.9 0 1 0 11.8 0a5.9 5.9 0 1 0 -11.8 0M1554.6 1152.6a5.9 5.9 0 1 0 11.8 0a5.9 5.9 0 1 0 -11.8 0M1571.1 1152.6a5.9 5.9 0 1 0 11.8 0a5.9 5.9 0 1 0 -11.8 0M1604.1 1152.6a5.9 5.9 0 1 0 11.8 0a5.9 5.9 0 1 0 -11.8 0M1637.1 1152.6a5.9 5.9 0 1 0 11.8 0a5.9 5.9 0 1 0 -11.8 0M1686.6 1152.6a5.9 5.9 0 1 0 11.8 0a5.9 5.9 0 1 0 -11.8 0M1307.1 1169.1a5.9 5.9 0 1 0 11.8 0a5.9 5.9 0 1 0 -11.8 0M1340.1 1169.1a5.9 5.9 0 1 0 11.8 0a5.9 5.9 0 1 0 -11.8 0M1373.1 1169.1a5.9 5.9 0 1 0 11.8 0a5.9 5.9 0 1 0 -11.8 0M1406.1 1169.1a5.9 5.9 0 1 0 11.8 0a5.9 5.9 0 1 0 -11.8 0M1422.6 1169.1a5.9 5.9 0 1 0 11.8 0a5.9 5.9 0 1 0 -11.8 0M1604.1 1169.1a5.9 5.9 0 1 0 11.8 0a5.9 5.9 0 1 0 -11.8 0M1637.1 1169.1a5.9 5.9 0 1 0 11.8 0a5.9 5.9 0 1 0 -11.8 0M1670.1 1169.1a5.9 5.9 0 1 0 11.8 0a5.9 5.9 0 1 0 -11.8 0M1290.6 1185.6a5.9 5.9 0 1 0 11.8 0a5.9 5.9 0 1 0 -11.8 0M1323.6 1185.6a5.9 5.9 0 1 0 11.8 0a5.9 5.9 0 1 0 -11.8 0M1422.6 1185.6a5.9 5.9 0 1 0 11.8 0a5.9 5.9 0 1 0 -11.8 0M1620.6 1185.6a5.9 5.9 0 1 0 11.8 0a5.9 5.9 0 1 0 -11.8 0M1686.6 1185.6a5.9 5.9 0 1 0 11.8 0a5.9 5.9 0 1 0 -11.8 0M1538.1 1202.1a5.9 5.9 0 1 0 11.8 0a5.9 5.9 0 1 0 -11.8 0M1554.6 1202.1a5.9 5.9 0 1 0 11.8 0a5.9 5.9 0 1 0 -11.8 0M1587.6 1202.1a5.9 5.9 0 1 0 11.8 0a5.9 5.9 0 1 0 -11.8 0M1604.1 1202.1a5.9 5.9 0 1 0 11.8 0a5.9 5.9 0 1 0 -11.8 0M1637.1 1202.1a5.9 5.9 0 1 0 11.8 0a5.9 5.9 0 1 0 -11.8 0M1422.6 1218.6a5.9 5.9 0 1 0 11.8 0a5.9 5.9 0 1 0 -11.8 0M1439.1 1218.6a5.9 5.9 0 1 0 11.8 0a5.9 5.9 0 1 0 -11.8 0M1505.1 1218.6a5.9 5.9 0 1 0 11.8 0a5.9 5.9 0 1 0 -11.8 0M1554.6 1218.6a5.9 5.9 0 1 0 11.8 0a5.9 5.9 0 1 0 -11.8 0M1505.1 1235.1a5.9 5.9 0 1 0 11.8 0a5.9 5.9 0 1 0 -11.8 0M1538.1 1235.1a5.9 5.9 0 1 0 11.8 0a5.9 5.9 0 1 0 -11.8 0M1554.6 1235.1a5.9 5.9 0 1 0 11.8 0a5.9 5.9 0 1 0 -11.8 0M1587.6 1235.1a5.9 5.9 0 1 0 11.8 0a5.9 5.9 0 1 0 -11.8 0M1604.1 1235.1a5.9 5.9 0 1 0 11.8 0a5.9 5.9 0 1 0 -11.8 0M1620.6 1235.1a5.9 5.9 0 1 0 11.8 0a5.9 5.9 0 1 0 -11.8 0M1505.1 1251.6a5.9 5.9 0 1 0 11.8 0a5.9 5.9 0 1 0 -11.8 0M1472.1 1268.1a5.9 5.9 0 1 0 11.8 0a5.9 5.9 0 1 0 -11.8 0M1488.6 1268.1a5.9 5.9 0 1 0 11.8 0a5.9 5.9 0 1 0 -11.8 0M1521.6 1268.1a5.9 5.9 0 1 0 11.8 0a5.9 5.9 0 1 0 -11.8 0M1488.6 1284.6a5.9 5.9 0 1 0 11.8 0a5.9 5.9 0 1 0 -11.8 0" stroke="#982e30"/><path d="M1719.6 1136.1a5.9 5.9 0 1 0 11.8 0a5.9 5.9 0 1 0 -11.8 0M1703.1 1152.6a5.9 5.9 0 1 0 11.8 0a5.9 5.9 0 1 0 -11.8 0M1719.6 1152.6a5.9 5.9 0 1 0 11.8 0a5.9 5.9 0 1 0 -11.8 0M1686.6 1169.1a5.9 5.9 0 1 0 11.8 0a5.9 5.9 0 1 0 -11.8 0M1703.1 1169.1a5.9 5.9 0 1 0 11.8 0a5.9 5.9 0 1 0 -11.8 0M1307.1 1185.6a5.9 5.9 0 1 0 11.8 0a5.9 5.9 0 1 0 -11.8 0M1340.1 1185.6a5.9 5.9 0 1 0 11.8 0a5.9 5.9 0 1 0 -11.8 0M1356.6 1185.6a5.9 5.9 0 1 0 11.8 0a5.9 5.9 0 1 0 -11.8 0M1373.1 1185.6a5.9 5.9 0 1 0 11.8 0a5.9 5.9 0 1 0 -11.8 0M1389.6 1185.6a5.9 5.9 0 1 0 11.8 0a5.9 5.9 0 1 0 -11.8 0M1406.1 1185.6a5.9 5.9 0 1 0 11.8 0a5.9 5.9 0 1 0 -11.8 0M1571.1 1185.6a5.9 5.9 0 1 0 11.8 0a5.9 5.9 0 1 0 -11.8 0M1307.1 1202.1a5.9 5.9 0 1 0 11.8 0a5.9 5.9 0 1 0 -11.8 0M1340.1 1202.1a5.9 5.9 0 1 0 11.8 0a5.9 5.9 0 1 0 -11.8 0M1373.1 1202.1a5.9 5.9 0 1 0 11.8 0a5.9 5.9 0 1 0 -11.8 0M1571.1 1202.1a5.9 5.9 0 1 0 11.8 0a5.9 5.9 0 1 0 -11.8 0M1620.6 1202.1a5.9 5.9 0 1 0 11.8 0a5.9 5.9 0 1 0 -11.8 0M1670.1 1202.1a5.9 5.9 0 1 0 11.8 0a5.9 5.9 0 1 0 -11.8 0M1686.6 1202.1a5.9 5.9 0 1 0 11.8 0a5.9 5.9 0 1 0 -11.8 0M1670.1 1218.6a5.9 5.9 0 1 0 11.8 0a5.9 5.9 0 1 0 -11.8 0M1290.6 1235.1a5.9 5.9 0 1 0 11.8 0a5.9 5.9 0 1 0 -11.8 0M1307.1 1235.1a5.9 5.9 0 1 0 11.8 0a5.9 5.9 0 1 0 -11.8 0M1323.6 1235.1a5.9 5.9 0 1 0 11.8 0a5.9 5.9 0 1 0 -11.8 0M1340.1 1235.1a5.9 5.9 0 1 0 11.8 0a5.9 5.9 0 1 0 -11.8 0M1356.6 1235.1a5.9 5.9 0 1 0 11.8 0a5.9 5.9 0 1 0 -11.8 0M1373.1 1235.1a5.9 5.9 0 1 0 11.8 0a5.9 5.9 0 1 0 -11.8 0M1389.6 1235.1a5.9 5.9 0 1 0 11.8 0a5.9 5.9 0 1 0 -11.8 0M1571.1 1235.1a5.9 5.9 0 1 0 11.8 0a5.9 5.9 0 1 0 -11.8 0M1637.1 1235.1a5.9 5.9 0 1 0 11.8 0a5.9 5.9 0 1 0 -11.8 0M1653.6 1235.1a5.9 5.9 0 1 0 11.8 0a5.9 5.9 0 1 0 -11.8 0M1521.6 1251.6a5.9 5.9 0 1 0 11.8 0a5.9 5.9 0 1 0 -11.8 0M1538.1 1251.6a5.9 5.9 0 1 0 11.8 0a5.9 5.9 0 1 0 -11.8 0M1554.6 1251.6a5.9 5.9 0 1 0 11.8 0a5.9 5.9 0 1 0 -11.8 0M1587.6 1251.6a5.9 5.9 0 1 0 11.8 0a5.9 5.9 0 1 0 -11.8 0M1653.6 1251.6a5.9 5.9 0 1 0 11.8 0a5.9 5.9 0 1 0 -11.8 0M1455.6 1268.1a5.9 5.9 0 1 0 11.8 0a5.9 5.9 0 1 0 -11.8 0M1505.1 1268.1a5.9 5.9 0 1 0 11.8 0a5.9 5.9 0 1 0 -11.8 0M1538.1 1268.1a5.9 5.9 0 1 0 11.8 0a5.9 5.9 0 1 0 -11.8 0M1604.1 1268.1a5.9 5.9 0 1 0 11.8 0a5.9 5.9 0 1 0 -11.8 0M1637.1 1268.1a5.9 5.9 0 1 0 11.8 0a5.9 5.9 0 1 0 -11.8 0M1653.6 1268.1a5.9 5.9 0 1 0 11.8 0a5.9 5.9 0 1 0 -11.8 0M1455.6 1284.6a5.9 5.9 0 1 0 11.8 0a5.9 5.9 0 1 0 -11.8 0M1521.6 1284.6a5.9 5.9 0 1 0 11.8 0a5.9 5.9 0 1 0 -11.8 0M1422.6 1301.1a5.9 5.9 0 1 0 11.8 0a5.9 5.9 0 1 0 -11.8 0M1439.1 1301.1a5.9 5.9 0 1 0 11.8 0a5.9 5.9 0 1 0 -11.8 0M1455.6 1301.1a5.9 5.9 0 1 0 11.8 0a5.9 5.9 0 1 0 -11.8 0M1472.1 1301.1a5.9 5.9 0 1 0 11.8 0a5.9 5.9 0 1 0 -11.8 0M1488.6 1301.1a5.9 5.9 0 1 0 11.8 0a5.9 5.9 0 1 0 -11.8 0M1505.1 1301.1a5.9 5.9 0 1 0 11.8 0a5.9 5.9 0 1 0 -11.8 0" stroke="#723c3c"/><path d="M1736.1 1136.1a5.9 5.9 0 1 0 11.8 0a5.9 5.9 0 1 0 -11.8 0M1736.1 1152.6a5.9 5.9 0 1 0 11.8 0a5.9 5.9 0 1 0 -11.8 0M1604.1 1185.6a5.9 5.9 0 1 0 11.8 0a5.9 5.9 0 1 0 -11.8 0M1637.1 1185.6a5.9 5.9 0 1 0 11.8 0a5.9 5.9 0 1 0 -11.8 0M1670.1 1185.6a5.9 5.9 0 1 0 11.8 0a5.9 5.9 0 1 0 -11.8 0M1323.6 1202.1a5.9 5.9 0 1 0 11.8 0a5.9 5.9 0 1 0 -11.8 0M1356.6 1202.1a5.9 5.9 0 1 0 11.8 0a5.9 5.9 0 1 0 -11.8 0M1389.6 1202.1a5.9 5.9 0 1 0 11.8 0a5.9 5.9 0 1 0 -11.8 0M1703.1 1202.1a5.9 5.9 0 1 0 11.8 0a5.9 5.9 0 1 0 -11.8 0M1719.6 1202.1a5.9 5.9 0 1 0 11.8 0a5.9 5.9 0 1 0 -11.8 0M1290.6 1218.6a5.9 5.9 0 1 0 11.8 0a5.9 5.9 0 1 0 -11.8 0M1356.6 1218.6a5.9 5.9 0 1 0 11.8 0a5.9 5.9 0 1 0 -11.8 0M1373.1 1218.6a5.9 5.9 0 1 0 11.8 0a5.9 5.9 0 1 0 -11.8 0M1389.6 1218.6a5.9 5.9 0 1 0 11.8 0a5.9 5.9 0 1 0 -11.8 0M1406.1 1218.6a5.9 5.9 0 1 0 11.8 0a5.9 5.9 0 1 0 -11.8 0M1538.1 1218.6a5.9 5.9 0 1 0 11.8 0a5.9 5.9 0 1 0 -11.8 0M1571.1 1218.6a5.9 5.9 0 1 0 11.8 0a5.9 5.9 0 1 0 -11.8 0M1587.6 1218.6a5.9 5.9 0 1 0 11.8 0a5.9 5.9 0 1 0 -11.8 0M1604.1 1218.6a5.9 5.9 0 1 0 11.8 0a5.9 5.9 0 1 0 -11.8 0M1620.6 1218.6a5.9 5.9 0 1 0 11.8 0a5.9 5.9 0 1 0 -11.8 0M1637.1 1218.6a5.9 5.9 0 1 0 11.8 0a5.9 5.9 0 1 0 -11.8 0M1653.6 1218.6a5.9 5.9 0 1 0 11.8 0a5.9 5.9 0 1 0 -11.8 0M1406.1 1235.1a5.9 5.9 0 1 0 11.8 0a5.9 5.9 0 1 0 -11.8 0M1472.1 1235.1a5.9 5.9 0 1 0 11.8 0a5.9 5.9 0 1 0 -11.8 0M1670.1 1235.1a5.9 5.9 0 1 0 11.8 0a5.9 5.9 0 1 0 -11.8 0M1686.6 1235.1a5.9 5.9 0 1 0 11.8 0a5.9 5.9 0 1 0 -11.8 0M1703.1 1235.1a5.9 5.9 0 1 0 11.8 0a5.9 5.9 0 1 0 -11.8 0M1290.6 1251.6a5.9 5.9 0 1 0 11.8 0a5.9 5.9 0 1 0 -11.8 0M1307.1 1251.6a5.9 5.9 0 1 0 11.8 0a5.9 5.9 0 1 0 -11.8 0M1323.6 1251.6a5.9 5.9 0 1 0 11.8 0a5.9 5.9 0 1 0 -11.8 0M1340.1 1251.6a5.9 5.9 0 1 0 11.8 0a5.9 5.9 0 1 0 -11.8 0M1356.6 1251.6a5.9 5.9 0 1 0 11.8 0a5.9 5.9 0 1 0 -11.8 0M1373.1 1251.6a5.9 5.9 0 1 0 11.8 0a5.9 5.9 0 1 0 -11.8 0M1389.6 1251.6a5.9 5.9 0 1 0 11.8 0a5.9 5.9 0 1 0 -11.8 0M1406.1 1251.6a5.9 5.9 0 1 0 11.8 0a5.9 5.9 0 1 0 -11.8 0M1422.6 1251.6a5.9 5.9 0 1 0 11.8 0a5.9 5.9 0 1 0 -11.8 0M1439.1 1251.6a5.9 5.9 0 1 0 11.8 0a5.9 5.9 0 1 0 -11.8 0M1571.1 1251.6a5.9 5.9 0 1 0 11.8 0a5.9 5.9 0 1 0 -11.8 0M1604.1 1251.6a5.9 5.9 0 1 0 11.8 0a5.9 5.9 0 1 0 -11.8 0M1620.6 1251.6a5.9 5.9 0 1 0 11.8 0a5.9 5.9 0 1 0 -11.8 0M1637.1 1251.6a5.9 5.9 0 1 0 11.8 0a5.9 5.9 0 1 0 -11.8 0M1670.1 1251.6a5.9 5.9 0 1 0 11.8 0a5.9 5.9 0 1 0 -11.8 0M1686.6 1251.6a5.9 5.9 0 1 0 11.8 0a5.9 5.9 0 1 0 -11.8 0M1290.6 1268.1a5.9 5.9 0 1 0 11.8 0a5.9 5.9 0 1 0 -11.8 0M1439.1 1268.1a5.9 5.9 0 1 0 11.8 0a5.9 5.9 0 1 0 -11.8 0M1554.6 1268.1a5.9 5.9 0 1 0 11.8 0a5.9 5.9 0 1 0 -11.8 0M1571.1 1268.1a5.9 5.9 0 1 0 11.8 0a5.9 5.9 0 1 0 -11.8 0M1587.6 1268.1a5.9 5.9 0 1 0 11.8 0a5.9 5.9 0 1 0 -11.8 0M1620.6 1268.1a5.9 5.9 0 1 0 11.8 0a5.9 5.9 0 1 0 -11.8 0M1538.1 1284.6a5.9 5.9 0 1 0 11.8 0a5.9 5.9 0 1 0 -11.8 0M1554.6 1284.6a5.9 5.9 0 1 0 11.8 0a5.9 5.9 0 1 0 -11.8 0M1587.6 1284.6a5.9 5.9 0 1 0 11.8 0a5.9 5.9 0 1 0 -11.8 0M1604.1 1284.6a5.9 5.9 0 1 0 11.8 0a5.9 5.9 0 1 0 -11.8 0M1521.6 1301.1a5.9 5.9 0 1 0 11.8 0a5.9 5.9 0 1 0 -11.8 0M1538.1 1301.1a5.9 5.9 0 1 0 11.8 0a5.9 5.9 0 1 0 -11.8 0M1455.6 1317.6a5.9 5.9 0 1 0 11.8 0a5.9 5.9 0 1 0 -11.8 0M1472.1 1317.6a5.9 5.9 0 1 0 11.8 0a5.9 5.9 0 1 0 -11.8 0" stroke="#5c4242"/><path d="M1752.6 1136.1a5.9 5.9 0 1 0 11.8 0a5.9 5.9 0 1 0 -11.8 0M1769.1 1136.1a5.9 5.9 0 1 0 11.8 0a5.9 5.9 0 1 0 -11.8 0M1785.6 1136.1a5.9 5.9 0 1 0 11.8 0a5.9 5.9 0 1 0 -11.8 0M1802.1 1136.1a5.9 5.9 0 1 0 11.8 0a5.9 5.9 0 1 0 -11.8 0M1818.6 1136.1a5.9 5.9 0 1 0 11.8 0a5.9 5.9 0 1 0 -11.8 0M1835.1 1136.1a5.9 5.9 0 1 0 11.8 0a5.9 5.9 0 1 0 -11.8 0M1851.6 1136.1a5.9 5.9 0 1 0 11.8 0a5.9 5.9 0 1 0 -11.8 0M1868.1 1136.1a5.9 5.9 0 1 0 11.8 0a5.9 5.9 0 1 0 -11.8 0M1884.6 1136.1a5.9 5.9 0 1 0 11.8 0a5.9 5.9 0 1 0 -11.8 0M1901.1 1136.1a5.9 5.9 0 1 0 11.8 0a5.9 5.9 0 1 0 -11.8 0M1917.6 1136.1a5.9 5.9 0 1 0 11.8 0a5.9 5.9 0 1 0 -11.8 0M1934.1 1136.1a5.9 5.9 0 1 0 11.8 0a5.9 5.9 0 1 0 -11.8 0M1950.6 1136.1a5.9 5.9 0 1 0 11.8 0a5.9 5.9 0 1 0 -11.8 0M1752.6 1152.6a5.9 5.9 0 1 0 11.8 0a5.9 5.9 0 1 0 -11.8 0M1769.1 1152.6a5.9 5.9 0 1 0 11.8 0a5.9 5.9 0 1 0 -11.8 0M1785.6 1152.6a5.9 5.9 0 1 0 11.8 0a5.9 5.9 0 1 0 -11.8 0M1802.1 1152.6a5.9 5.9 0 1 0 11.8 0a5.9 5.9 0 1 0 -11.8 0M1818.6 1152.6a5.9 5.9 0 1 0 11.8 0a5.9 5.9 0 1 0 -11.8 0M1835.1 1152.6a5.9 5.9 0 1 0 11.8 0a5.9 5.9 0 1 0 -11.8 0M1851.6 1152.6a5.9 5.9 0 1 0 11.8 0a5.9 5.9 0 1 0 -11.8 0M1868.1 1152.6a5.9 5.9 0 1 0 11.8 0a5.9 5.9 0 1 0 -11.8 0M1884.6 1152.6a5.9 5.9 0 1 0 11.8 0a5.9 5.9 0 1 0 -11.8 0M1901.1 1152.6a5.9 5.9 0 1 0 11.8 0a5.9 5.9 0 1 0 -11.8 0M1917.6 1152.6a5.9 5.9 0 1 0 11.8 0a5.9 5.9 0 1 0 -11.8 0M1934.1 1152.6a5.9 5.9 0 1 0 11.8 0a5.9 5.9 0 1 0 -11.8 0M1950.6 1152.6a5.9 5.9 0 1 0 11.8 0a5.9 5.9 0 1 0 -11.8 0M1719.6 1169.1a5.9 5.9 0 1 0 11.8 0a5.9 5.9 0 1 0 -11.8 0M1736.1 1169.1a5.9 5.9 0 1 0 11.8 0a5.9 5.9 0 1 0 -11.8 0M1752.6 1169.1a5.9 5.9 0 1 0 11.8 0a5.9 5.9 0 1 0 -11.8 0M1769.1 1169.1a5.9 5.9 0 1 0 11.8 0a5.9 5.9 0 1 0 -11.8 0M1785.6 1169.1a5.9 5.9 0 1 0 11.8 0a5.9 5.9 0 1 0 -11.8 0M1802.1 1169.1a5.9 5.9 0 1 0 11.8 0a5.9 5.9 0 1 0 -11.8 0M1818.6 1169.1a5.9 5.9 0 1 0 11.8 0a5.9 5.9 0 1 0 -11.8 0M1835.1 1169.1a5.9 5.9 0 1 0 11.8 0a5.9 5.9 0 1 0 -11.8 0M1851.6 1169.1a5.9 5.9 0 1 0 11.8 0a5.9 5.9 0 1 0 -11.8 0M1868.1 1169.1a5.9 5.9 0 1 0 11.8 0a5.9 5.9 0 1 0 -11.8 0M1884.6 1169.1a5.9 5.9 0 1 0 11.8 0a5.9 5.9 0 1 0 -11.8 0M1901.1 1169.1a5.9 5.9 0 1 0 11.8 0a5.9 5.9 0 1 0 -11.8 0M1917.6 1169.1a5.9 5.9 0 1 0 11.8 0a5.9 5.9 0 1 0 -11.8 0M1934.1 1169.1a5.9 5.9 0 1 0 11.8 0a5.9 5.9 0 1 0 -11.8 0M1950.6 1169.1a5.9 5.9 0 1 0 11.8 0a5.9 5.9 0 1 0 -11.8 0M1703.1 1185.6a5.9 5.9 0 1 0 11.8 0a5.9 5.9 0 1 0 -11.8 0M1719.6 1185.6a5.9 5.9 0 1 0 11.8 0a5.9 5.9 0 1 0 -11.8 0M1736.1 1185.6a5.9 5.9 0 1 0 11.8 0a5.9 5.9 0 1 0 -11.8 0M1752.6 1185.6a5.9 5.9 0 1 0 11.8 0a5.9 5.9 0 1 0 -11.8 0M1769.1 1185.6a5.9 5.9 0 1 0 11.8 0a5.9 5.9 0 1 0 -11.8 0M1785.6 1185.6a5.9 5.9 0 1 0 11.8 0a5.9 5.9 0 1 0 -11.8 0M1802.1 1185.6a5.9 5.9 0 1 0 11.8 0a5.9 5.9 0 1 0 -11.8 0M1818.6 1185.6a5.9 5.9 0 1 0 11.8 0a5.9 5.9 0 1 0 -11.8 0M1835.1 1185.6a5.9 5.9 0 1 0 11.8 0a5.9 5.9 0 1 0 -11.8 0M1851.6 1185.6a5.9 5.9 0 1 0 11.8 0a5.9 5.9 0 1 0 -11.8 0M1868.1 1185.6a5.9 5.9 0 1 0 11.8 0a5.9 5.9 0 1 0 -11.8 0M1884.6 1185.6a5.9 5.9 0 1 0 11.8 0a5.9 5.9 0 1 0 -11.8 0M1901.1 1185.6a5.9 5.9 0 1 0 11.8 0a5.9 5.9 0 1 0 -11.8 0M1917.6 1185.6a5.9 5.9 0 1 0 11.8 0a5.9 5.9 0 1 0 -11.8 0M1934.1 1185.6a5.9 5.9 0 1 0 11.8 0a5.9 5.9 0 1 0 -11.8 0M1950.6 1185.6a5.9 5.9 0 1 0 11.8 0a5.9 5.9 0 1 0 -11.8 0M1290.6 1202.1a5.9 5.9 0 1 0 11.8 0a5.9 5.9 0 1 0 -11.8 0M1653.6 1202.1a5.9 5.9 0 1 0 11.8 0a5.9 5.9 0 1 0 -11.8 0M1736.1 1202.1a5.9 5.9 0 1 0 11.8 0a5.9 5.9 0 1 0 -11.8 0M1752.6 1202.1a5.9 5.9 0 1 0 11.8 0a5.9 5.9 0 1 0 -11.8 0M1769.1 1202.1a5.9 5.9 0 1 0 11.8 0a5.9 5.9 0 1 0 -11.8 0M1785.6 1202.1a5.9 5.9 0 1 0 11.8 0a5.9 5.9 0 1 0 -11.8 0M1802.1 1202.1a5.9 5.9 0 1 0 11.8 0a5.9 5.9 0 1 0 -11.8 0M1818.6 1202.1a5.9 5.9 0 1 0 11.8 0a5.9 5.9 0 1 0 -11.8 0M1835.1 1202.1a5.9 5.9 0 1 0 11.8 0a5.9 5.9 0 1 0 -11.8 0M1851.6 1202.1a5.9 5.9 0 1 0 11.8 0a5.9 5.9 0 1 0 -11.8 0M1868.1 1202.1a5.9 5.9 0 1 0 11.8 0a5.9 5.9 0 1 0 -11.8 0M1884.6 1202.1a5.9 5.9 0 1 0 11.8 0a5.9 5.9 0 1 0 -11.8 0M1901.1 1202.1a5.9 5.9 0 1 0 11.8 0a5.9 5.9 0 1 0 -11.8 0M1917.6 1202.1a5.9 5.9 0 1 0 11.8 0a5.9 5.9 0 1 0 -11.8 0M1934.1 1202.1a5.9 5.9 0 1 0 11.8 0a5.9 5.9 0 1 0 -11.8 0M1950.6 1202.1a5.9 5.9 0 1 0 11.8 0a5.9 5.9 0 1 0 -11.8 0M1307.1 1218.6a5.9 5.9 0 1 0 11.8 0a5.9 5.9 0 1 0 -11.8 0M1323.6 1218.6a5.9 5.9 0 1 0 11.8 0a5.9 5.9 0 1 0 -11.8 0M1340.1 1218.6a5.9 5.9 0 1 0 11.8 0a5.9 5.9 0 1 0 -11.8 0M1686.6 1218.6a5.9 5.9 0 1 0 11.8 0a5.9 5.9 0 1 0 -11.8 0M1703.1 1218.6a5.9 5.9 0 1 0 11.8 0a5.9 5.9 0 1 0 -11.8 0M1719.6 1218.6a5.9 5.9 0 1 0 11.8 0a5.9 5.9 0 1 0 -11.8 0M1736.1 1218.6a5.9 5.9 0 1 0 11.8 0a5.9 5.9 0 1 0 -11.8 0M1752.6 1218.6a5.9 5.9 0 1 0 11.8 0a5.9 5.9 0 1 0 -11.8 0M1769.1 1218.6a5.9 5.9 0 1 0 11.8 0a5.9 5.9 0 1 0 -11.8 0M1785.6 1218.6a5.9 5.9 0 1 0 11.8 0a5.9 5.9 0 1 0 -11.8 0M1802.1 1218.6a5.9 5.9 0 1 0 11.8 0a5.9 5.9 0 1 0 -11.8 0M1818.6 1218.6a5.9 5.9 0 1 0 11.8 0a5.9 5.9 0 1 0 -11.8 0M1835.1 1218.6a5.9 5.9 0 1 0 11.8 0a5.9 5.9 0 1 0 -11.8 0M1851.6 1218.6a5.9 5.9 0 1 0 11.8 0a5.9 5.9 0 1 0 -11.8 0M1868.1 1218.6a5.9 5.9 0 1 0 11.8 0a5.9 5.9 0 1 0 -11.8 0M1884.6 1218.6a5.9 5.9 0 1 0 11.8 0a5.9 5.9 0 1 0 -11.8 0M1901.1 1218.6a5.9 5.9 0 1 0 11.8 0a5.9 5.9 0 1 0 -11.8 0M1917.6 1218.6a5.9 5.9 0 1 0 11.8 0a5.9 5.9 0 1 0 -11.8 0M1934.1 1218.6a5.9 5.9 0 1 0 11.8 0a5.9 5.9 0 1 0 -11.8 0M1950.6 1218.6a5.9 5.9 0 1 0 11.8 0a5.9 5.9 0 1 0 -11.8 0M1719.6 1235.1a5.9 5.9 0 1 0 11.8 0a5.9 5.9 0 1 0 -11.8 0M1736.1 1235.1a5.9 5.9 0 1 0 11.8 0a5.9 5.9 0 1 0 -11.8 0M1752.6 1235.1a5.9 5.9 0 1 0 11.8 0a5.9 5.9 0 1 0 -11.8 0M1769.1 1235.1a5.9 5.9 0 1 0 11.8 0a5.9 5.9 0 1 0 -11.8 0M1785.6 1235.1a5.9 5.9 0 1 0 11.8 0a5.9 5.9 0 1 0 -11.8 0M1802.1 1235.1a5.9 5.9 0 1 0 11.8 0a5.9 5.9 0 1 0 -11.8 0M1818.6 1235.1a5.9 5.9 0 1 0 11.8 0a5.9 5.9 0 1 0 -11.8 0M1835.1 1235.1a5.9 5.9 0 1 0 11.8 0a5.9 5.9 0 1 0 -11.8 0M1851.6 1235.1a5.9 5.9 0 1 0 11.8 0a5.9 5.9 0 1 0 -11.8 0M1868.1 1235.1a5.9 5.9 0 1 0 11.8 0a5.9 5.9 0 1 0 -11.8 0M1884.6 1235.1a5.9 5.9 0 1 0 11.8 0a5.9 5.9 0 1 0 -11.8 0M1901.1 1235.1a5.9 5.9 0 1 0 11.8 0a5.9 5.9 0 1 0 -11.8 0M1917.6 1235.1a5.9 5.9 0 1 0 11.8 0a5.9 5.9 0 1 0 -11.8 0M1934.1 1235.1a5.9 5.9 0 1 0 11.8 0a5.9 5.9 0 1 0 -11.8 0M1950.6 1235.1a5.9 5.9 0 1 0 11.8 0a5.9 5.9 0 1 0 -11.8 0M1703.1 1251.6a5.9 5.9 0 1 0 11.8 0a5.9 5.9 0 1 0 -11.8 0M1719.6 1251.6a5.9 5.9 0 1 0 11.8 0a5.9 5.9 0 1 0 -11.8 0M1736.1 1251.6a5.9 5.9 0 1 0 11.8 0a5.9 5.9 0 1 0 -11.8 0M1752.6 1251.6a5.9 5.9 0 1 0 11.8 0a5.9 5.9 0 1 0 -11.8 0M1769.1 1251.6a5.9 5.9 0 1 0 11.8 0a5.9 5.9 0 1 0 -11.8 0M1785.6 1251.6a5.9 5.9 0 1 0 11.8 0a5.9 5.9 0 1 0 -11.8 0M1802.1 1251.6a5.9 5.9 0 1 0 11.8 0a5.9 5.9 0 1 0 -11.8 0M1818.6 1251.6a5.9 5.9 0 1 0 11.8 0a5.9 5.9 0 1 0 -11.8 0M1835.1 1251.6a5.9 5.9 0 1 0 11.8 0a5.9 5.9 0 1 0 -11.8 0M1851.6 1251.6a5.9 5.9 0 1 0 11.8 0a5.9 5.9 0 1 0 -11.8 0M1868.1 1251.6a5.9 5.9 0 1 0 11.8 0a5.9 5.9 0 1 0 -11.8 0M1884.6 1251.6a5.9 5.9 0 1 0 11.8 0a5.9 5.9 0 1 0 -11.8 0M1901.1 1251.6a5.9 5.9 0 1 0 11.8 0a5.9 5.9 0 1 0 -11.8 0M1917.6 1251.6a5.9 5.9 0 1 0 11.8 0a5.9 5.9 0 1 0 -11.8 0M1934.1 1251.6a5.9 5.9 0 1 0 11.8 0a5.9 5.9 0 1 0 -11.8 0M1950.6 1251.6a5.9 5.9 0 1 0 11.8 0a5.9 5.9 0 1 0 -11.8 0M1307.1 1268.1a5.9 5.9 0 1 0 11.8 0a5.9 5.9 0 1 0 -11.8 0M1323.6 1268.1a5.9 5.9 0 1 0 11.8 0a5.9 5.9 0 1 0 -11.8 0M1340.1 1268.1a5.9 5.9 0 1 0 11.8 0a5.9 5.9 0 1 0 -11.8 0M1356.6 1268.1a5.9 5.9 0 1 0 11.8 0a5.9 5.9 0 1 0 -11.8 0M1373.1 1268.1a5.9 5.9 0 1 0 11.8 0a5.9 5.9 0 1 0 -11.8 0M1389.6 1268.1a5.9 5.9 0 1 0 11.8 0a5.9 5.9 0 1 0 -11.8 0M1406.1 1268.1a5.9 5.9 0 1 0 11.8 0a5.9 5.9 0 1 0 -11.8 0M1422.6 1268.1a5.9 5.9 0 1 0 11.8 0a5.9 5.9 0 1 0 -11.8 0M1670.1 1268.1a5.9 5.9 0 1 0 11.8 0a5.9 5.9 0 1 0 -11.8 0M1686.6 1268.1a5.9 5.9 0 1 0 11.8 0a5.9 5.9 0 1 0 -11.8 0M1703.1 1268.1a5.9 5.9 0 1 0 11.8 0a5.9 5.9 0 1 0 -11.8 0M1719.6 1268.1a5.9 5.9 0 1 0 11.8 0a5.9 5.9 0 1 0 -11.8 0M1736.1 1268.1a5.9 5.9 0 1 0 11.8 0a5.9 5.9 0 1 0 -11.8 0M1752.6 1268.1a5.9 5.9 0 1 0 11.8 0a5.9 5.9 0 1 0 -11.8 0M1769.1 1268.1a5.9 5.9 0 1 0 11.8 0a5.9 5.9 0 1 0 -11.8 0M1785.6 1268.1a5.9 5.9 0 1 0 11.8 0a5.9 5.9 0 1 0 -11.8 0M1802.1 1268.1a5.9 5.9 0 1 0 11.8 0a5.9 5.9 0 1 0 -11.8 0M1818.6 1268.1a5.9 5.9 0 1 0 11.8 0a5.9 5.9 0 1 0 -11.8 0M1835.1 1268.1a5.9 5.9 0 1 0 11.8 0a5.9 5.9 0 1 0 -11.8 0M1851.6 1268.1a5.9 5.9 0 1 0 11.8 0a5.9 5.9 0 1 0 -11.8 0M1868.1 1268.1a5.9 5.9 0 1 0 11.8 0a5.9 5.9 0 1 0 -11.8 0M1884.6 1268.1a5.9 5.9 0 1 0 11.8 0a5.9 5.9 0 1 0 -11.8 0M1901.1 1268.1a5.9 5.9 0 1 0 11.8 0a5.9 5.9 0 1 0 -11.8 0M1917.6 1268.1a5.9 5.9 0 1 0 11.8 0a5.9 5.9 0 1 0 -11.8 0M1934.1 1268.1a5.9 5.9 0 1 0 11.8 0a5.9 5.9 0 1 0 -11.8 0M1950.6 1268.1a5.9 5.9 0 1 0 11.8 0a5.9 5.9 0 1 0 -11.8 0M1290.6 1284.6a5.9 5.9 0 1 0 11.8 0a5.9 5.9 0 1 0 -11.8 0M1307.1 1284.6a5.9 5.9 0 1 0 11.8 0a5.9 5.9 0 1 0 -11.8 0M1323.6 1284.6a5.9 5.9 0 1 0 11.8 0a5.9 5.9 0 1 0 -11.8 0M1340.1 1284.6a5.9 5.9 0 1 0 11.8 0a5.9 5.9 0 1 0 -11.8 0M1356.6 1284.6a5.9 5.9 0 1 0 11.8 0a5.9 5.9 0 1 0 -11.8 0M1373.1 1284.6a5.9 5.9 0 1 0 11.8 0a5.9 5.9 0 1 0 -11.8 0M1389.6 1284.6a5.9 5.9 0 1 0 11.8 0a5.9 5.9 0 1 0 -11.8 0M1406.1 1284.6a5.9 5.9 0 1 0 11.8 0a5.9 5.9 0 1 0 -11.8 0M1422.6 1284.6a5.9 5.9 0 1 0 11.8 0a5.9 5.9 0 1 0 -11.8 0M1439.1 1284.6a5.9 5.9 0 1 0 11.8 0a5.9 5.9 0 1 0 -11.8 0M1472.1 1284.6a5.9 5.9 0 1 0 11.8 0a5.9 5.9 0 1 0 -11.8 0M1505.1 1284.6a5.9 5.9 0 1 0 11.8 0a5.9 5.9 0 1 0 -11.8 0M1571.1 1284.6a5.9 5.9 0 1 0 11.8 0a5.9 5.9 0 1 0 -11.8 0M1620.6 1284.6a5.9 5.9 0 1 0 11.8 0a5.9 5.9 0 1 0 -11.8 0M1637.1 1284.6a5.9 5.9 0 1 0 11.8 0a5.9 5.9 0 1 0 -11.8 0M1653.6 1284.6a5.9 5.9 0 1 0 11.8 0a5.9 5.9 0 1 0 -11.8 0M1670.1 1284.6a5.9 5.9 0 1 0 11.8 0a5.9 5.9 0 1 0 -11.8 0M1686.6 1284.6a5.9 5.9 0 1 0 11.8 0a5.9 5.9 0 1 0 -11.8 0M1703.1 1284.6a5.9 5.9 0 1 0 11.8 0a5.9 5.9 0 1 0 -11.8 0M1719.6 1284.6a5.9 5.9 0 1 0 11.8 0a5.9 5.9 0 1 0 -11.8 0M1736.1 1284.6a5.9 5.9 0 1 0 11.8 0a5.9 5.9 0 1 0 -11.8 0M1752.6 1284.6a5.9 5.9 0 1 0 11.8 0a5.9 5.9 0 1 0 -11.8 0M1769.1 1284.6a5.9 5.9 0 1 0 11.8 0a5.9 5.9 0 1 0 -11.8 0M1785.6 1284.6a5.9 5.9 0 1 0 11.8 0a5.9 5.9 0 1 0 -11.8 0M1802.1 1284.6a5.9 5.9 0 1 0 11.8 0a5.9 5.9 0 1 0 -11.8 0M1818.6 1284.6a5.9 5.9 0 1 0 11.8 0a5.9 5.9 0 1 0 -11.8 0M1835.1 1284.6a5.9 5.9 0 1 0 11.8 0a5.9 5.9 0 1 0 -11.8 0M1851.6 1284.6a5.9 5.9 0 1 0 11.8 0a5.9 5.9 0 1 0 -11.8 0M1868.1 1284.6a5.9 5.9 0 1 0 11.8 0a5.9 5.9 0 1 0 -11.8 0M1884.6 1284.6a5.9 5.9 0 1 0 11.8 0a5.9 5.9 0 1 0 -11.8 0M1901.1 1284.6a5.9 5.9 0 1 0 11.8 0a5.9 5.9 0 1 0 -11.8 0M1917.6 1284.6a5.9 5.9 0 1 0 11.8 0a5.9 5.9 0 1 0 -11.8 0M1934.1 1284.6a5.9 5.9 0 1 0 11.8 0a5.9 5.9 0 1 0 -11.8 0M1950.6 1284.6a5.9 5.9 0 1 0 11.8 0a5.9 5.9 0 1 0 -11.8 0M1290.6 1301.1a5.9 5.9 0 1 0 11.8 0a5.9 5.9 0 1 0 -11.8 0M1307.1 1301.1a5.9 5.9 0 1 0 11.8 0a5.9 5.9 0 1 0 -11.8 0M1323.6 1301.1a5.9 5.9 0 1 0 11.8 0a5.9 5.9 0 1 0 -11.8 0M1340.1 1301.1a5.9 5.9 0 1 0 11.8 0a5.9 5.9 0 1 0 -11.8 0M1356.6 1301.1a5.9 5.9 0 1 0 11.8 0a5.9 5.9 0 1 0 -11.8 0M1373.1 1301.1a5.9 5.9 0 1 0 11.8 0a5.9 5.9 0 1 0 -11.8 0M1389.6 1301.1a5.9 5.9 0 1 0 11.8 0a5.9 5.9 0 1 0 -11.8 0M1406.1 1301.1a5.9 5.9 0 1 0 11.8 0a5.9 5.9 0 1 0 -11.8 0M1554.6 1301.1a5.9 5.9 0 1 0 11.8 0a5.9 5.9 0 1 0 -11.8 0M1571.1 1301.1a5.9 5.9 0 1 0 11.8 0a5.9 5.9 0 1 0 -11.8 0M1587.6 1301.1a5.9 5.9 0 1 0 11.8 0a5.9 5.9 0 1 0 -11.8 0M1604.1 1301.1a5.9 5.9 0 1 0 11.8 0a5.9 5.9 0 1 0 -11.8 0M1620.6 1301.1a5.9 5.9 0 1 0 11.8 0a5.9 5.9 0 1 0 -11.8 0M1637.1 1301.1a5.9 5.9 0 1 0 11.8 0a5.9 5.9 0 1 0 -11.8 0M1653.6 1301.1a5.9 5.9 0 1 0 11.8 0a5.9 5.9 0 1 0 -11.8 0M1670.1 1301.1a5.9 5.9 0 1 0 11.8 0a5.9 5.9 0 1 0 -11.8 0M1686.6 1301.1a5.9 5.9 0 1 0 11.8 0a5.9 5.9 0 1 0 -11.8 0M1703.1 1301.1a5.9 5.9 0 1 0 11.8 0a5.9 5.9 0 1 0 -11.8 0M1719.6 1301.1a5.9 5.9 0 1 0 11.8 0a5.9 5.9 0 1 0 -11.8 0M1736.1 1301.1a5.9 5.9 0 1 0 11.8 0a5.9 5.9 0 1 0 -11.8 0M1752.6 1301.1a5.9 5.9 0 1 0 11.8 0a5.9 5.9 0 1 0 -11.8 0M1769.1 1301.1a5.9 5.9 0 1 0 11.8 0a5.9 5.9 0 1 0 -11.8 0M1785.6 1301.1a5.9 5.9 0 1 0 11.8 0a5.9 5.9 0 1 0 -11.8 0M1802.1 1301.1a5.9 5.9 0 1 0 11.8 0a5.9 5.9 0 1 0 -11.8 0M1818.6 1301.1a5.9 5.9 0 1 0 11.8 0a5.9 5.9 0 1 0 -11.8 0M1835.1 1301.1a5.9 5.9 0 1 0 11.8 0a5.9 5.9 0 1 0 -11.8 0M1851.6 1301.1a5.9 5.9 0 1 0 11.8 0a5.9 5.9 0 1 0 -11.8 0M1868.1 1301.1a5.9 5.9 0 1 0 11.8 0a5.9 5.9 0 1 0 -11.8 0M1884.6 1301.1a5.9 5.9 0 1 0 11.8 0a5.9 5.9 0 1 0 -11.8 0M1901.1 1301.1a5.9 5.9 0 1 0 11.8 0a5.9 5.9 0 1 0 -11.8 0M1917.6 1301.1a5.9 5.9 0 1 0 11.8 0a5.9 5.9 0 1 0 -11.8 0M1934.1 1301.1a5.9 5.9 0 1 0 11.8 0a5.9 5.9 0 1 0 -11.8 0M1950.6 1301.1a5.9 5.9 0 1 0 11.8 0a5.9 5.9 0 1 0 -11.8 0M1290.6 1317.6a5.9 5.9 0 1 0 11.8 0a5.9 5.9 0 1 0 -11.8 0M1307.1 1317.6a5.9 5.9 0 1 0 11.8 0a5.9 5.9 0 1 0 -11.8 0M1323.6 1317.6a5.9 5.9 0 1 0 11.8 0a5.9 5.9 0 1 0 -11.8 0M1340.1 1317.6a5.9 5.9 0 1 0 11.8 0a5.9 5.9 0 1 0 -11.8 0M1356.6 1317.6a5.9 5.9 0 1 0 11.8 0a5.9 5.9 0 1 0 -11.8 0M1373.1 1317.6a5.9 5.9 0 1 0 11.8 0a5.9 5.9 0 1 0 -11.8 0M1389.6 1317.6a5.9 5.9 0 1 0 11.8 0a5.9 5.9 0 1 0 -11.8 0M1406.1 1317.6a5.9 5.9 0 1 0 11.8 0a5.9 5.9 0 1 0 -11.8 0M1422.6 1317.6a5.9 5.9 0 1 0 11.8 0a5.9 5.9 0 1 0 -11.8 0M1439.1 1317.6a5.9 5.9 0 1 0 11.8 0a5.9 5.9 0 1 0 -11.8 0M1488.6 1317.6a5.9 5.9 0 1 0 11.8 0a5.9 5.9 0 1 0 -11.8 0M1505.1 1317.6a5.9 5.9 0 1 0 11.8 0a5.9 5.9 0 1 0 -11.8 0M1521.6 1317.6a5.9 5.9 0 1 0 11.8 0a5.9 5.9 0 1 0 -11.8 0M1538.1 1317.6a5.9 5.9 0 1 0 11.8 0a5.9 5.9 0 1 0 -11.8 0M1554.6 1317.6a5.9 5.9 0 1 0 11.8 0a5.9 5.9 0 1 0 -11.8 0M1571.1 1317.6a5.9 5.9 0 1 0 11.8 0a5.9 5.9 0 1 0 -11.8 0M1587.6 1317.6a5.9 5.9 0 1 0 11.8 0a5.9 5.9 0 1 0 -11.8 0M1604.1 1317.6a5.9 5.9 0 1 0 11.8 0a5.9 5.9 0 1 0 -11.8 0M1620.6 1317.6a5.9 5.9 0 1 0 11.8 0a5.9 5.9 0 1 0 -11.8 0M1637.1 1317.6a5.9 5.9 0 1 0 11.8 0a5.9 5.9 0 1 0 -11.8 0M1653.6 1317.6a5.9 5.9 0 1 0 11.8 0a5.9 5.9 0 1 0 -11.8 0M1670.1 1317.6a5.9 5.9 0 1 0 11.8 0a5.9 5.9 0 1 0 -11.8 0M1686.6 1317.6a5.9 5.9 0 1 0 11.8 0a5.9 5.9 0 1 0 -11.8 0M1703.1 1317.6a5.9 5.9 0 1 0 11.8 0a5.9 5.9 0 1 0 -11.8 0M1719.6 1317.6a5.9 5.9 0 1 0 11.8 0a5.9 5.9 0 1 0 -11.8 0M1736.1 1317.6a5.9 5.9 0 1 0 11.8 0a5.9 5.9 0 1 0 -11.8 0M1752.6 1317.6a5.9 5.9 0 1 0 11.8 0a5.9 5.9 0 1 0 -11.8 0M1769.1 1317.6a5.9 5.9 0 1 0 11.8 0a5.9 5.9 0 1 0 -11.8 0M1785.6 1317.6a5.9 5.9 0 1 0 11.8 0a5.9 5.9 0 1 0 -11.8 0M1802.1 1317.6a5.9 5.9 0 1 0 11.8 0a5.9 5.9 0 1 0 -11.8 0M1818.6 1317.6a5.9 5.9 0 1 0 11.8 0a5.9 5.9 0 1 0 -11.8 0M1835.1 1317.6a5.9 5.9 0 1 0 11.8 0a5.9 5.9 0 1 0 -11.8 0M1851.6 1317.6a5.9 5.9 0 1 0 11.8 0a5.9 5.9 0 1 0 -11.8 0M1868.1 1317.6a5.9 5.9 0 1 0 11.8 0a5.9 5.9 0 1 0 -11.8 0M1884.6 1317.6a5.9 5.9 0 1 0 11.8 0a5.9 5.9 0 1 0 -11.8 0M1901.1 1317.6a5.9 5.9 0 1 0 11.8 0a5.9 5.9 0 1 0 -11.8 0M1917.6 1317.6a5.9 5.9 0 1 0 11.8 0a5.9 5.9 0 1 0 -11.8 0M1934.1 1317.6a5.9 5.9 0 1 0 11.8 0a5.9 5.9 0 1 0 -11.8 0M1950.6 1317.6a5.9 5.9 0 1 0 11.8 0a5.9 5.9 0 1 0 -11.8 0" stroke="#484848"/><path d="M1290.6 1152.6a5.9 5.9 0 1 0 11.8 0a5.9 5.9 0 1 0 -11.8 0M1323.6 1152.6a5.9 5.9 0 1 0 11.8 0a5.9 5.9 0 1 0 -11.8 0M1356.6 1152.6a5.9 5.9 0 1 0 11.8 0a5.9 5.9 0 1 0 -11.8 0M1389.6 1152.6a5.9 5.9 0 1 0 11.8 0a5.9 5.9 0 1 0 -11.8 0M1422.6 1152.6a5.9 5.9 0 1 0 11.8 0a5.9 5.9 0 1 0 -11.8 0M1587.6 1152.6a5.9 5.9 0 1 0 11.8 0a5.9 5.9 0 1 0 -11.8 0M1620.6 1152.6a5.9 5.9 0 1 0 11.8 0a5.9 5.9 0 1 0 -11.8 0M1290.6 1169.1a5.9 5.9 0 1 0 11.8 0a5.9 5.9 0 1 0 -11.8 0M1323.6 1169.1a5.9 5.9 0 1 0 11.8 0a5.9 5.9 0 1 0 -11.8 0M1356.6 1169.1a5.9 5.9 0 1 0 11.8 0a5.9 5.9 0 1 0 -11.8 0M1389.6 1169.1a5.9 5.9 0 1 0 11.8 0a5.9 5.9 0 1 0 -11.8 0M1571.1 1169.1a5.9 5.9 0 1 0 11.8 0a5.9 5.9 0 1 0 -11.8 0M1587.6 1169.1a5.9 5.9 0 1 0 11.8 0a5.9 5.9 0 1 0 -11.8 0M1620.6 1169.1a5.9 5.9 0 1 0 11.8 0a5.9 5.9 0 1 0 -11.8 0M1653.6 1169.1a5.9 5.9 0 1 0 11.8 0a5.9 5.9 0 1 0 -11.8 0M1422.6 1202.1a5.9 5.9 0 1 0 11.8 0a5.9 5.9 0 1 0 -11.8 0M1439.1 1202.1a5.9 5.9 0 1 0 11.8 0a5.9 5.9 0 1 0 -11.8 0M1472.1 1218.6a5.9 5.9 0 1 0 11.8 0a5.9 5.9 0 1 0 -11.8 0M1455.6 1235.1a5.9 5.9 0 1 0 11.8 0a5.9 5.9 0 1 0 -11.8 0M1488.6 1235.1a5.9 5.9 0 1 0 11.8 0a5.9 5.9 0 1 0 -11.8 0" stroke="#ff0c0c"/><path d="M1554.6 1169.1a5.9 5.9 0 1 0 11.8 0a5.9 5.9 0 1 0 -11.8 0M1455.6 1202.1a5.9 5.9 0 1 0 11.8 0a5.9 5.9 0 1 0 -11.8 0" stroke="#ffb400"/><path d="M1455.6 1218.6a5.9 5.9 0 1 0 11.8 0a5.9 5.9 0 1 0 -11.8 0M1488.6 1251.6a5.9 5.9 0 1 0 11.8 0a5.9 5.9 0 1 0 -11.8 0" stroke="#e41919"/></g>
<g stroke-width="1.95"><path d="M1290.6 1136.1a5.9 5.9 0 1 0 11.8 0a5.9 5.9 0 1 0 -11.8 0M1307.1 1136.1a5.9 5.9 0 1 0 11.8 0a5.9 5.9 0 1 0 -11.8 0M1323.6 1136.1a5.9 5.9 0 1 0 11.8 0a5.9 5.9 0 1 0 -11.8 0M1340.1 1136.1a5.9 5.9 0 1 0 11.8 0a5.9 5.9 0 1 0 -11.8 0M1356.6 1136.1a5.9 5.9 0 1 0 11.8 0a5.9 5.9 0 1 0 -11.8 0M1373.1 1136.1a5.9 5.9 0 1 0 11.8 0a5.9 5.9 0 1 0 -11.8 0M1389.6 1136.1a5.9 5.9 0 1 0 11.8 0a5.9 5.9 0 1 0 -11.8 0M1406.1 1136.1a5.9 5.9 0 1 0 11.8 0a5.9 5.9 0 1 0 -11.8 0M1571.1 1136.1a5.9 5.9 0 1 0 11.8 0a5.9 5.9 0 1 0 -11.8 0M1604.1 1136.1a5.9 5.9 0 1 0 11.8 0a5.9 5.9 0 1 0 -11.8 0M1521.6 1169.1a5.9 5.9 0 1 0 11.8 0a5.9 5.9 0 1 0 -11.8 0M1488.6 1185.6a5.9 5.9 0 1 0 11.8 0a5.9 5.9 0 1 0 -11.8 0" stroke="#ffff00"/><path d="M1422.6 1136.1a5.9 5.9 0 1 0 11.8 0a5.9 5.9 0 1 0 -11.8 0M1538.1 1136.1a5.9 5.9 0 1 0 11.8 0a5.9 5.9 0 1 0 -11.8 0M1554.6 1136.1a5.9 5.9 0 1 0 11.8 0a5.9 5.9 0 1 0 -11.8 0M1620.6 1136.1a5.9 5.9 0 1 0 11.8 0a5.9 5.9 0 1 0 -11.8 0M1637.1 1136.1a5.9 5.9 0 1 0 11.8 0a5.9 5.9 0 1 0 -11.8 0M1488.6 1152.6a5.9 5.9 0 1 0 11.8 0a5.9 5.9 0 1 0 -11.8 0M1455.6 1169.1a5.9 5.9 0 1 0 11.8 0a5.9 5.9 0 1 0 -11.8 0M1488.6 1169.1a5.9 5.9 0 1 0 11.8 0a5.9 5.9 0 1 0 -11.8 0" stroke="#fafa5a"/><path d="M1439.1 1136.1a5.9 5.9 0 1 0 11.8 0a5.9 5.9 0 1 0 -11.8 0" stroke="#f5f5e1"/><path d="M1455.6 1136.1a5.9 5.9 0 1 0 11.8 0a5.9 5.9 0 1 0 -11.8 0M1455.6 1152.6a5.9 5.9 0 1 0 11.8 0a5.9 5.9 0 1 0 -11.8 0" stroke="#ffffff"/><path d="M1472.1 1136.1a5.9 5.9 0 1 0 11.8 0a5.9 5.9 0 1 0 -11.8 0M1505.1 1136.1a5.9 5.9 0 1 0 11.8 0a5.9 5.9 0 1 0 -11.8 0M1521.6 1136.1a5.9 5.9 0 1 0 11.8 0a5.9 5.9 0 1 0 -11.8 0M1439.1 1152.6a5.9 5.9 0 1 0 11.8 0a5.9 5.9 0 1 0 -11.8 0M1472.1 1152.6a5.9 5.9 0 1 0 11.8 0a5.9 5.9 0 1 0 -11.8 0M1521.6 1152.6a5.9 5.9 0 1 0 11.8 0a5.9 5.9 0 1 0 -11.8 0M1472.1 1169.1a5.9 5.9 0 1 0 11.8 0a5.9 5.9 0 1 0 -11.8 0M1472.1 1185.6a5.9 5.9 0 1 0 11.8 0a5.9 5.9 0 1 0 -11.8 0" stroke="#2d2d2d"/><path d="M1488.6 1136.1a5.9 5.9 0 1 0 11.8 0a5.9 5.9 0 1 0 -11.8 0M1505.1 1152.6a5.9 5.9 0 1 0 11.8 0a5.9 5.9 0 1 0 -11.8 0M1538.1 1152.6a5.9 5.9 0 1 0 11.8 0a5.9 5.9 0 1 0 -11.8 0M1538.1 1169.1a5.9 5.9 0 1 0 11.8 0a5.9 5.9 0 1 0 -11.8 0M1505.1 1202.1a5.9 5.9 0 1 0 11.8 0a5.9 5.9 0 1 0 -11.8 0" stroke="#ff4b00"/><path d="M1587.6 1136.1a5.9 5.9 0 1 0 11.8 0a5.9 5.9 0 1 0 -11.8 0M1505.1 1169.1a5.9 5.9 0 1 0 11.8 0a5.9 5.9 0 1 0 -11.8 0M1455.6 1185.6a5.9 5.9 0 1 0 11.8 0a5.9 5.9 0 1 0 -11.8 0M1472.1 1202.1a5.9 5.9 0 1 0 11.8 0a5.9 5.9 0 1 0 -11.8 0M1488.6 1202.1a5.9 5.9 0 1 0 11.8 0a5.9 5.9 0 1 0 -11.8 0" stroke="#ffd700"/><path d="M1653.6 1136.1a5.9 5.9 0 1 0 11.8 0a5.9 5.9 0 1 0 -11.8 0M1670.1 1136.1a5.9 5.9 0 1 0 11.8 0a5.9 5.9 0 1 0 -11.8 0M1653.6 1152.6a5.9 5.9 0 1 0 11.8 0a5.9 5.9 0 1 0 -11.8 0M1521.6 1185.6a5.9 5.9 0 1 0 11.8 0a5.9 5.9 0 1 0 -11.8 0M1521.6 1202.1a5.9 5.9 0 1 0 11.8 0a5.9 5.9 0 1 0 -11.8 0" stroke="#ff8700"/><path d="M1686.6 1136.1a5.9 5.9 0 1 0 11.8 0a5.9 5.9 0 1 0 -11.8 0M1670.1 1152.6a5.9 5.9 0 1 0 11.8 0a5.9 5.9 0 1 0 -11.8 0M1439.1 1169.1a5.9 5.9 0 1 0 11.8 0a5.9 5.9 0 1 0 -11.8 0M1439.1 1185.6a5.9 5.9 0 1 0 11.8 0a5.9 5.9 0 1 0 -11.8 0M1505.1 1185.6a5.9 5.9 0 1 0 11.8 0a5.9 5.9 0 1 0 -11.8 0M1538.1 1185.6a5.9 5.9 0 1 0 11.8 0a5.9 5.9 0 1 0 -11.8 0M1554.6 1185.6a5.9 5.9 0 1 0 11.8 0a5.9 5.9 0 1 0 -11.8 0M1587.6 1185.6a5.9 5.9 0 1 0 11.8 0a5.9 5.9 0 1 0 -11.8 0M1653.6 1185.6a5.9 5.9 0 1 0 11.8 0a5.9 5.9 0 1 0 -11.8 0M1406.1 1202.1a5.9 5.9 0 1 0 11.8 0a5.9 5.9 0 1 0 -11.8 0M1488.6 1218.6a5.9 5.9 0 1 0 11.8 0a5.9 5.9 0 1 0 -11.8 0M1521.6 1218.6a5.9 5.9 0 1 0 11.8 0a5.9 5.9 0 1 0 -11.8 0M1422.6 1235.1a5.9 5.9 0 1 0 11.8 0a5.9 5.9 0 1 0 -11.8 0M1439.1 1235.1a5.9 5.9 0 1 0 11.8 0a5.9 5.9 0 1 0 -11.8 0M1521.6 1235.1a5.9 5.9 0 1 0 11.8 0a5.9 5.9 0 1 0 -11.8 0M1455.6 1251.6a5.9 5.9 0 1 0 11.8 0a5.9 5.9 0 1 0 -11.8 0M1472.1 1251.6a5.9 5.9 0 1 0 11.8 0a5.9 5.9 0 1 0 -11.8 0" stroke="#c32326"/><path d="M1703.1 1136.1a5.9 5.9 0 1 0 11.8 0a5.9 5.9 0 1 0 -11.8 0M1307.1 1152.6a5.9 5.9 0 1 0 11.8 0a5.9 5.9 0 1 0 -11.8 0M1340.1 1152.6a5.9 5.9 0 1 0 11.8 0a5.9 5.9 0 1 0 -11.8 0M1373.1 1152.6a5.9 5.9 0 1 0 11.8 0a5.9 5.9 0 1 0 -11.8 0M1406.1 1152.6a5.9 5.9 0 1 0 11.8 0a5.9 5.9 0 1 0 -11.8 0M1554.6 1152.6a5.9 5.9 0 1 0 11.8 0a5.9 5.9 0 1 0 -11.8 0M1571.1 1152.6a5.9 5.9 0 1 0 11.8 0a5.9 5.9 0 1 0 -11.8 0M1604.1 1152.6a5.9 5.9 0 1 0 11.8 0a5.9 5.9 0 1 0 -11.8 0M1637.1 1152.6a5.9 5.9 0 1 0 11.8 0a5.9 5.9 0 1 0 -11.8 0M1686.6 1152.6a5.9 5.9 0 1 0 11.8 0a5.9 5.9 0 1 0 -11.8 0M1307.1 1169.1a5.9 5.9 0 1 0 11.8 0a5.9 5.9 0 1 0 -11.8 0M1340.1 1169.1a5.9 5.9 0 1 0 11.8 0a5.9 5.9 0 1 0 -11.8 0M1373.1 1169.1a5.9 5.9 0 1 0 11.8 0a5.9 5.9 0 1 0 -11.8 0M1406.1 1169.1a5.9 5.9 0 1 0 11.8 0a5.9 5.9 0 1 0 -11.8 0M1422.6 1169.1a5.9 5.9 0 1 0 11.8 0a5.9 5.9 0 1 0 -11.8 0M1604.1 1169.1a5.9 5.9 0 1 0 11.8 0a5.9 5.9 0 1 0 -11.8 0M1637.1 1169.1a5.9 5.9 0 1 0 11.8 0a5.9 5.9 0 1 0 -11.8 0M1670.1 1169.1a5.9 5.9 0 1 0 11.8 0a5.9 5.9 0 1 0 -11.8 0M1290.6 1185.6a5.9 5.9 0 1 0 11.8 0a5.9 5.9 0 1 0 -11.8 0M1323.6 1185.6a5.9 5.9 0 1 0 11.8 0a5.9 5.9 0 1 0 -11.8 0M1422.6 1185.6a5.9 5.9 0 1 0 11.8 0a5.9 5.9 0 1 0 -11.8 0M1620.6 1185.6a5.9 5.9 0 1 0 11.8 0a5.9 5.9 0 1 0 -11.8 0M1686.6 1185.6a5.9 5.9 0 1 0 11.8 0a5.9 5.9 0 1 0 -11.8 0M1538.1 1202.1a5.9 5.9 0 1 0 11.8 0a5.9 5.9 0 1 0 -11.8 0M1554.6 1202.1a5.9 5.9 0 1 0 11.8 0a5.9 5.9 0 1 0 -11.8 0M1587.6 1202.1a5.9 5.9 0 1 0 11.8 0a5.9 5.9 0 1 0 -11.8 0M1604.1 1202.1a5.9 5.9 0 1 0 11.8 0a5.9 5.9 0 1 0 -11.8 0M1637.1 1202.1a5.9 5.9 0 1 0 11.8 0a5.9 5.9 0 1 0 -11.8 0M1422.6 1218.6a5.9 5.9 0 1 0 11.8 0a5.9 5.9 0 1 0 -11.8 0M1439.1 1218.6a5.9 5.9 0 1 0 11.8 0a5.9 5.9 0 1 0 -11.8 0M1505.1 1218.6a5.9 5.9 0 1 0 11.8 0a5.9 5.9 0 1 0 -11.8 0M1554.6 1218.6a5.9 5.9 0 1 0 11.8 0a5.9 5.9 0 1 0 -11.8 0M1505.1 1235.1a5.9 5.9 0 1 0 11.8 0a5.9 5.9 0 1 0 -11.8 0M1538.1 1235.1a5.9 5.9 0 1 0 11.8 0a5.9 5.9 0 1 0 -11.8 0M1554.6 1235.1a5.9 5.9 0 1 0 11.8 0a5.9 5.9 0 1 0 -11.8 0M1587.6 1235.1a5.9 5.9 0 1 0 11.8 0a5.9 5.9 0 1 0 -11.8 0M1604.1 1235.1a5.9 5.9 0 1 0 11.8 0a5.9 5.9 0 1 0 -11.8 0M1620.6 1235.1a5.9 5.9 0 1 0 11.8 0a5.9 5.9 0 1 0 -11.8 0M1505.1 1251.6a5.9 5.9 0 1 0 11.8 0a5.9 5.9 0 1 0 -11.8 0M1472.1 1268.1a5.9 5.9 0 1 0 11.8 0a5.9 5.9 0 1 0 -11.8 0M1488.6 1268.1a5.9 5.9 0 1 0 11.8 0a5.9 5.9 0 1 0 -11.8 0M1521.6 1268.1a5.9 5.9 0 1 0 11.8 0a5.9 5.9 0 1 0 -11.8 0M1488.6 1284.6a5.9 5.9 0 1 0 11.8 0a5.9 5.9 0 1 0 -11.8 0" stroke="#982e30"/><path d="M1719.6 1136.1a5.9 5.9 0 1 0 11.8 0a5.9 5.9 0 1 0 -11.8 0M1703.1 1152.6a5.9 5.9 0 1 0 11.8 0a5.9 5.9 0 1 0 -11.8 0M1719.6 1152.6a5.9 5.9 0 1 0 11.8 0a5.9 5.9 0 1 0 -11.8 0M1686.6 1169.1a5.9 5.9 0 1 0 11.8 0a5.9 5.9 0 1 0 -11.8 0M1703.1 1169.1a5.9 5.9 0 1 0 11.8 0a5.9 5.9 0 1 0 -11.8 0M1307.1 1185.6a5.9 5.9 0 1 0 11.8 0a5.9 5.9 0 1 0 -11.8 0M1340.1 1185.6a5.9 5.9 0 1 0 11.8 0a5.9 5.9 0 1 0 -11.8 0M1356.6 1185.6a5.9 5.9 0 1 0 11.8 0a5.9 5.9 0 1 0 -11.8 0M1373.1 1185.6a5.9 5.9 0 1 0 11.8 0a5.9 5.9 0 1 0 -11.8 0M1389.6 1185.6a5.9 5.9 0 1 0 11.8 0a5.9 5.9 0 1 0 -11.8 0M1406.1 1185.6a5.9 5.9 0 1 0 11.8 0a5.9 5.9 0 1 0 -11.8 0M1571.1 1185.6a5.9 5.9 0 1 0 11.8 0a5.9 5.9 0 1 0 -11.8 0M1307.1 1202.1a5.9 5.9 0 1 0 11.8 0a5.9 5.9 0 1 0 -11.8 0M1340.1 1202.1a5.9 5.9 0 1 0 11.8 0a5.9 5.9 0 1 0 -11.8 0M1373.1 1202.1a5.9 5.9 0 1 0 11.8 0a5.9 5.9 0 1 0 -11.8 0M1571.1 1202.1a5.9 5.9 0 1 0 11.8 0a5.9 5.9 0 1 0 -11.8 0M1620.6 1202.1a5.9 5.9 0 1 0 11.8 0a5.9 5.9 0 1 0 -11.8 0M1670.1 1202.1a5.9 5.9 0 1 0 11.8 0a5.9 5.9 0 1 0 -11.8 0M1686.6 1202.1a5.9 5.9 0 1 0 11.8 0a5.9 5.9 0 1 0 -11.8 0M1670.1 1218.6a5.9 5.9 0 1 0 11.8 0a5.9 5.9 0 1 0 -11.8 0M1290.6 1235.1a5.9 5.9 0 1 0 11.8 0a5.9 5.9 0 1 0 -11.8 0M1307.1 1235.1a5.9 5.9 0 1 0 11.8 0a5.9 5.9 0 1 0 -11.8 0M1323.6 1235.1a5.9 5.9 0 1 0 11.8 0a5.9 5.9 0 1 0 -11.8 0M1340.1 1235.1a5.9 5.9 0 1 0 11.8 0a5.9 5.9 0 1 0 -11.8 0M1356.6 1235.1a5.9 5.9 0 1 0 11.8 0a5.9 5.9 0 1 0 -11.8 0M1373.1 1235.1a5.9 5.9 0 1 0 11.8 0a5.9 5.9 0 1 0 -11.8 0M1389.6 1235.1a5.9 5.9 0 1 0 11.8 0a5.9 5.9 0 1 0 -11.8 0M1571.1 1235.1a5.9 5.9 0 1 0 11.8 0a5.9 5.9 0 1 0 -11.8 0M1637.1 1235.1a5.9 5.9 0 1 0 11.8 0a5.9 5.9 0 1 0 -11.8 0M1653.6 1235.1a5.9 5.9 0 1 0 11.8 0a5.9 5.9 0 1 0 -11.8 0M1521.6 1251.6a5.9 5.9 0 1 0 11.8 0a5.9 5.9 0 1 0 -11.8 0M1538.1 1251.6a5.9 5.9 0 1 0 11.8 0a5.9 5.9 0 1 0 -11.8 0M1554.6 1251.6a5.9 5.9 0 1 0 11.8 0a5.9 5.9 0 1 0 -11.8 0M1587.6 1251.6a5.9 5.9 0 1 0 11.8 0a5.9 5.9 0 1 0 -11.8 0M1653.6 1251.6a5.9 5.9 0 1 0 11.8 0a5.9 5.9 0 1 0 -11.8 0M1455.6 1268.1a5.9 5.9 0 1 0 11.8 0a5.9 5.9 0 1 0 -11.8 0M1505.1 1268.1a5.9 5.9 0 1 0 11.8 0a5.9 5.9 0 1 0 -11.8 0M1538.1 1268.1a5.9 5.9 0 1 0 11.8 0a5.9 5.9 0 1 0 -11.8 0M1604.1 1268.1a5.9 5.9 0 1 0 11.8 0a5.9 5.9 0 1 0 -11.8 0M1637.1 1268.1a5.9 5.9 0 1 0 11.8 0a5.9 5.9 0 1 0 -11.8 0M1653.6 1268.1a5.9 5.9 0 1 0 11.8 0a5.9 5.9 0 1 0 -11.8 0M1455.6 1284.6a5.9 5.9 0 1 0 11.8 0a5.9 5.9 0 1 0 -11.8 0M1521.6 1284.6a5.9 5.9 0 1 0 11.8 0a5.9 5.9 0 1 0 -11.8 0M1422.6 1301.1a5.9 5.9 0 1 0 11.8 0a5.9 5.9 0 1 0 -11.8 0M1439.1 1301.1a5.9 5.9 0 1 0 11.8 0a5.9 5.9 0 1 0 -11.8 0M1455.6 1301.1a5.9 5.9 0 1 0 11.8 0a5.9 5.9 0 1 0 -11.8 0M1472.1 1301.1a5.9 5.9 0 1 0 11.8 0a5.9 5.9 0 1 0 -11.8 0M1488.6 1301.1a5.9 5.9 0 1 0 11.8 0a5.9 5.9 0 1 0 -11.8 0M1505.1 1301.1a5.9 5.9 0 1 0 11.8 0a5.9 5.9 0 1 0 -11.8 0" stroke="#723c3c"/><path d="M1736.1 1136.1a5.9 5.9 0 1 0 11.8 0a5.9 5.9 0 1 0 -11.8 0M1736.1 1152.6a5.9 5.9 0 1 0 11.8 0a5.9 5.9 0 1 0 -11.8 0M1604.1 1185.6a5.9 5.9 0 1 0 11.8 0a5.9 5.9 0 1 0 -11.8 0M1637.1 1185.6a5.9 5.9 0 1 0 11.8 0a5.9 5.9 0 1 0 -11.8 0M1670.1 1185.6a5.9 5.9 0 1 0 11.8 0a5.9 5.9 0 1 0 -11.8 0M1323.6 1202.1a5.9 5.9 0 1 0 11.8 0a5.9 5.9 0 1 0 -11.8 0M1356.6 1202.1a5.9 5.9 0 1 0 11.8 0a5.9 5.9 0 1 0 -11.8 0M1389.6 1202.1a5.9 5.9 0 1 0 11.8 0a5.9 5.9 0 1 0 -11.8 0M1703.1 1202.1a5.9 5.9 0 1 0 11.8 0a5.9 5.9 0 1 0 -11.8 0M1719.6 1202.1a5.9 5.9 0 1 0 11.8 0a5.9 5.9 0 1 0 -11.8 0M1290.6 1218.6a5.9 5.9 0 1 0 11.8 0a5.9 5.9 0 1 0 -11.8 0M1356.6 1218.6a5.9 5.9 0 1 0 11.8 0a5.9 5.9 0 1 0 -11.8 0M1373.1 1218.6a5.9 5.9 0 1 0 11.8 0a5.9 5.9 0 1 0 -11.8 0M1389.6 1218.6a5.9 5.9 0 1 0 11.8 0a5.9 5.9 0 1 0 -11.8 0M1406.1 1218.6a5.9 5.9 0 1 0 11.8 0a5.9 5.9 0 1 0 -11.8 0M1538.1 1218.6a5.9 5.9 0 1 0 11.8 0a5.9 5.9 0 1 0 -11.8 0M1571.1 1218.6a5.9 5.9 0 1 0 11.8 0a5.9 5.9 0 1 0 -11.8 0M1587.6 1218.6a5.9 5.9 0 1 0 11.8 0a5.9 5.9 0 1 0 -11.8 0M1604.1 1218.6a5.9 5.9 0 1 0 11.8 0a5.9 5.9 0 1 0 -11.8 0M1620.6 1218.6a5.9 5.9 0 1 0 11.8 0a5.9 5.9 0 1 0 -11.8 0M1637.1 1218.6a5.9 5.9 0 1 0 11.8 0a5.9 5.9 0 1 0 -11.8 0M1653.6 1218.6a5.9 5.9 0 1 0 11.8 0a5.9 5.9 0 1 0 -11.8 0M1406.1 1235.1a5.9 5.9 0 1 0 11.8 0a5.9 5.9 0 1 0 -11.8 0M1472.1 1235.1a5.9 5.9 0 1 0 11.8 0a5.9 5.9 0 1 0 -11.8 0M1670.1 1235.1a5.9 5.9 0 1 0 11.8 0a5.9 5.9 0 1 0 -11.8 0M1686.6 1235.1a5.9 5.9 0 1 0 11.8 0a5.9 5.9 0 1 0 -11.8 0M1703.1 1235.1a5.9 5.9 0 1 0 11.8 0a5.9 5.9 0 1 0 -11.8 0M1290.6 1251.6a5.9 5.9 0 1 0 11.8 0a5.9 5.9 0 1 0 -11.8 0M1307.1 1251.6a5.9 5.9 0 1 0 11.8 0a5.9 5.9 0 1 0 -11.8 0M1323.6 1251.6a5.9 5.9 0 1 0 11.8 0a5.9 5.9 0 1 0 -11.8 0M1340.1 1251.6a5.9 5.9 0 1 0 11.8 0a5.9 5.9 0 1 0 -11.8 0M1356.6 1251.6a5.9 5.9 0 1 0 11.8 0a5.9 5.9 0 1 0 -11.8 0M1373.1 1251.6a5.9 5.9 0 1 0 11.8 0a5.9 5.9 0 1 0 -11.8 0M1389.6 1251.6a5.9 5.9 0 1 0 11.8 0a5.9 5.9 0 1 0 -11.8 0M1406.1 1251.6a5.9 5.9 0 1 0 11.8 0a5.9 5.9 0 1 0 -11.8 0M1422.6 1251.6a5.9 5.9 0 1 0 11.8 0a5.9 5.9 0 1 0 -11.8 0M1439.1 1251.6a5.9 5.9 0 1 0 11.8 0a5.9 5.9 0 1 0 -11.8 0M1571.1 1251.6a5.9 5.9 0 1 0 11.8 0a5.9 5.9 0 1 0 -11.8 0M1604.1 1251.6a5.9 5.9 0 1 0 11.8 0a5.9 5.9 0 1 0 -11.8 0M1620.6 1251.6a5.9 5.9 0 1 0 11.8 0a5.9 5.9 0 1 0 -11.8 0M1637.1 1251.6a5.9 5.9 0 1 0 11.8 0a5.9 5.9 0 1 0 -11.8 0M1670.1 1251.6a5.9 5.9 0 1 0 11.8 0a5.9 5.9 0 1 0 -11.8 0M1686.6 1251.6a5.9 5.9 0 1 0 11.8 0a5.9 5.9 0 1 0 -11.8 0M1290.6 1268.1a5.9 5.9 0 1 0 11.8 0a5.9 5.9 0 1 0 -11.8 0M1439.1 1268.1a5.9 5.9 0 1 0 11.8 0a5.9 5.9 0 1 0 -11.8 0M1554.6 1268.1a5.9 5.9 0 1 0 11.8 0a5.9 5.9 0 1 0 -11.8 0M1571.1 1268.1a5.9 5.9 0 1 0 11.8 0a5.9 5.9 0 1 0 -11.8 0M1587.6 1268.1a5.9 5.9 0 1 0 11.8 0a5.9 5.9 0 1 0 -11.8 0M1620.6 1268.1a5.9 5.9 0 1 0 11.8 0a5.9 5.9 0 1 0 -11.8 0M1538.1 1284.6a5.9 5.9 0 1 0 11.8 0a5.9 5.9 0 1 0 -11.8 0M1554.6 1284.6a5.9 5.9 0 1 0 11.8 0a5.9 5.9 0 1 0 -11.8 0M1587.6 1284.6a5.9 5.9 0 1 0 11.8 0a5.9 5.9 0 1 0 -11.8 0M1604.1 1284.6a5.9 5.9 0 1 0 11.8 0a5.9 5.9 0 1 0 -11.8 0M1521.6 1301.1a5.9 5.9 0 1 0 11.8 0a5.9 5.9 0 1 0 -11.8 0M1538.1 1301.1a5.9 5.9 0 1 0 11.8 0a5.9 5.9 0 1 0 -11.8 0M1455.6 1317.6a5.9 5.9 0 1 0 11.8 0a5.9 5.9 0 1 0 -11.8 0M1472.1 1317.6a5.9 5.9 0 1 0 11.8 0a5.9 5.9 0 1 0 -11.8 0" stroke="#5c4242"/><path d="M1752.6 1136.1a5.9 5.9 0 1 0 11.8 0a5.9 5.9 0 1 0 -11.8 0M1769.1 1136.1a5.9 5.9 0 1 0 11.8 0a5.9 5.9 0 1 0 -11.8 0M1785.6 1136.1a5.9 5.9 0 1 0 11.8 0a5.9 5.9 0 1 0 -11.8 0M1802.1 1136.1a5.9 5.9 0 1 0 11.8 0a5.9 5.9 0 1 0 -11.8 0M1818.6 1136.1a5.9 5.9 0 1 0 11.8 0a5.9 5.9 0 1 0 -11.8 0M1835.1 1136.1a5.9 5.9 0 1 0 11.8 0a5.9 5.9 0 1 0 -11.8 0M1851.6 1136.1a5.9 5.9 0 1 0 11.8 0a5.9 5.9 0 1 0 -11.8 0M1868.1 1136.1a5.9 5.9 0 1 0 11.8 0a5.9 5.9 0 1 0 -11.8 0M1884.6 1136.1a5.9 5.9 0 1 0 11.8 0a5.9 5.9 0 1 0 -11.8 0M1901.1 1136.1a5.9 5.9 0 1 0 11.8 0a5.9 5.9 0 1 0 -11.8 0M1917.6 1136.1a5.9 5.9 0 1 0 11.8 0a5.9 5.9 0 1 0 -11.8 0M1934.1 1136.1a5.9 5.9 0 1 0 11.8 0a5.9 5.9 0 1 0 -11.8 0M1950.6 1136.1a5.9 5.9 0 1 0 11.8 0a5.9 5.9 0 1 0 -11.8 0M1752.6 1152.6a5.9 5.9 0 1 0 11.8 0a5.9 5.9 0 1 0 -11.8 0M1769.1 1152.6a5.9 5.9 0 1 0 11.8 0a5.9 5.9 0 1 0 -11.8 0M1785.6 1152.6a5.9 5.9 0 1 0 11.8 0a5.9 5.9 0 1 0 -11.8 0M1802.1 1152.6a5.9 5.9 0 1 0 11.8 0a5.9 5.9 0 1 0 -11.8 0M1818.6 1152.6a5.9 5.9 0 1 0 11.8 0a5.9 5.9 0 1 0 -11.8 0M1835.1 1152.6a5.9 5.9 0 1 0 11.8 0a5.9 5.9 0 1 0 -11.8 0M1851.6 1152.6a5.9 5.9 0 1 0 11.8 0a5.9 5.9 0 1 0 -11.8 0M1868.1 1152.6a5.9 5.9 0 1 0 11.8 0a5.9 5.9 0 1 0 -11.8 0M1884.6 1152.6a5.9 5.9 0 1 0 11.8 0a5.9 5.9 0 1 0 -11.8 0M1901.1 1152.6a5.9 5.9 0 1 0 11.8 0a5.9 5.9 0 1 0 -11.8 0M1917.6 1152.6a5.9 5.9 0 1 0 11.8 0a5.9 5.9 0 1 0 -11.8 0M1934.1 1152.6a5.9 5.9 0 1 0 11.8 0a5.9 5.9 0 1 0 -11.8 0M1950.6 1152.6a5.9 5.9 0 1 0 11.8 0a5.9 5.9 0 1 0 -11.8 0M1719.6 1169.1a5.9 5.9 0 1 0 11.8 0a5.9 5.9 0 1 0 -11.8 0M1736.1 1169.1a5.9 5.9 0 1 0 11.8 0a5.9 5.9 0 1 0 -11.8 0M1752.6 1169.1a5.9 5.9 0 1 0 11.8 0a5.9 5.9 0 1 0 -11.8 0M1769.1 1169.1a5.9 5.9 0 1 0 11.8 0a5.9 5.9 0 1 0 -11.8 0M1785.6 1169.1a5.9 5.9 0 1 0 11.8 0a5.9 5.9 0 1 0 -11.8 0M1802.1 1169.1a5.9 5.9 0 1 0 11.8 0a5.9 5.9 0 1 0 -11.8 0M1818.6 1169.1a5.9 5.9 0 1 0 11.8 0a5.9 5.9 0 1 0 -11.8 0M1835.1 1169.1a5.9 5.9 0 1 0 11.8 0a5.9 5.9 0 1 0 -11.8 0M1851.6 1169.1a5.9 5.9 0 1 0 11.8 0a5.9 5.9 0 1 0 -11.8 0M1868.1 1169.1a5.9 5.9 0 1 0 11.8 0a5.9 5.9 0 1 0 -11.8 0M1884.6 1169.1a5.9 5.9 0 1 0 11.8 0a5.9 5.9 0 1 0 -11.8 0M1901.1 1169.1a5.9 5.9 0 1 0 11.8 0a5.9 5.9 0 1 0 -11.8 0M1917.6 1169.1a5.9 5.9 0 1 0 11.8 0a5.9 5.9 0 1 0 -11.8 0M1934.1 1169.1a5.9 5.9 0 1 0 11.8 0a5.9 5.9 0 1 0 -11.8 0M1950.6 1169.1a5.9 5.9 0 1 0 11.8 0a5.9 5.9 0 1 0 -11.8 0M1703.1 1185.6a5.9 5.9 0 1 0 11.8 0a5.9 5.9 0 1 0 -11.8 0M1719.6 1185.6a5.9 5.9 0 1 0 11.8 0a5.9 5.9 0 1 0 -11.8 0M1736.1 1185.6a5.9 5.9 0 1 0 11.8 0a5.9 5.9 0 1 0 -11.8 0M1752.6 1185.6a5.9 5.9 0 1 0 11.8 0a5.9 5.9 0 1 0 -11.8 0M1769.1 1185.6a5.9 5.9 0 1 0 11.8 0a5.9 5.9 0 1 0 -11.8 0M1785.6 1185.6a5.9 5.9 0 1 0 11.8 0a5.9 5.9 0 1 0 -11.8 0M1802.1 1185.6a5.9 5.9 0 1 0 11.8 0a5.9 5.9 0 1 0 -11.8 0M1818.6 1185.6a5.9 5.9 0 1 0 11.8 0a5.9 5.9 0 1 0 -11.8 0M1835.1 1185.6a5.9 5.9 0 1 0 11.8 0a5.9 5.9 0 1 0 -11.8 0M1851.6 1185.6a5.9 5.9 0 1 0 11.8 0a5.9 5.9 0 1 0 -11.8 0M1868.1 1185.6a5.9 5.9 0 1 0 11.8 0a5.9 5.9 0 1 0 -11.8 0M1884.6 1185.6a5.9 5.9 0 1 0 11.8 0a5.9 5.9 0 1 0 -11.8 0M1901.1 1185.6a5.9 5.9 0 1 0 11.8 0a5.9 5.9 0 1 0 -11.8 0M1917.6 1185.6a5.9 5.9 0 1 0 11.8 0a5.9 5.9 0 1 0 -11.8 0M1934.1 1185.6a5.9 5.9 0 1 0 11.8 0a5.9 5.9 0 1 0 -11.8 0M1950.6 1185.6a5.9 5.9 0 1 0 11.8 0a5.9 5.9 0 1 0 -11.8 0M1290.6 1202.1a5.9 5.9 0 1 0 11.8 0a5.9 5.9 0 1 0 -11.8 0M1653.6 1202.1a5.9 5.9 0 1 0 11.8 0a5.9 5.9 0 1 0 -11.8 0M1736.1 1202.1a5.9 5.9 0 1 0 11.8 0a5.9 5.9 0 1 0 -11.8 0M1752.6 1202.1a5.9 5.9 0 1 0 11.8 0a5.9 5.9 0 1 0 -11.8 0M1769.1 1202.1a5.9 5.9 0 1 0 11.8 0a5.9 5.9 0 1 0 -11.8 0M1785.6 1202.1a5.9 5.9 0 1 0 11.8 0a5.9 5.9 0 1 0 -11.8 0M1802.1 1202.1a5.9 5.9 0 1 0 11.8 0a5.9 5.9 0 1 0 -11.8 0M1818.6 1202.1a5.9 5.9 0 1 0 11.8 0a5.9 5.9 0 1 0 -11.8 0M1835.1 1202.1a5.9 5.9 0 1 0 11.8 0a5.9 5.9 0 1 0 -11.8 0M1851.6 1202.1a5.9 5.9 0 1 0 11.8 0a5.9 5.9 0 1 0 -11.8 0M1868.1 1202.1a5.9 5.9 0 1 0 11.8 0a5.9 5.9 0 1 0 -11.8 0M1884.6 1202.1a5.9 5.9 0 1 0 11.8 0a5.9 5.9 0 1 0 -11.8 0M1901.1 1202.1a5.9 5.9 0 1 0 11.8 0a5.9 5.9 0 1 0 -11.8 0M1917.6 1202.1a5.9 5.9 0 1 0 11.8 0a5.9 5.9 0 1 0 -11.8 0M1934.1 1202.1a5.9 5.9 0 1 0 11.8 0a5.9 5.9 0 1 0 -11.8 0M1950.6 1202.1a5.9 5.9 0 1 0 11.8 0a5.9 5.9 0 1 0 -11.8 0M1307.1 1218.6a5.9 5.9 0 1 0 11.8 0a5.9 5.9 0 1 0 -11.8 0M1323.6 1218.6a5.9 5.9 0 1 0 11.8 0a5.9 5.9 0 1 0 -11.8 0M1340.1 1218.6a5.9 5.9 0 1 0 11.8 0a5.9 5.9 0 1 0 -11.8 0M1686.6 1218.6a5.9 5.9 0 1 0 11.8 0a5.9 5.9 0 1 0 -11.8 0M1703.1 1218.6a5.9 5.9 0 1 0 11.8 0a5.9 5.9 0 1 0 -11.8 0M1719.6 1218.6a5.9 5.9 0 1 0 11.8 0a5.9 5.9 0 1 0 -11.8 0M1736.1 1218.6a5.9 5.9 0 1 0 11.8 0a5.9 5.9 0 1 0 -11.8 0M1752.6 1218.6a5.9 5.9 0 1 0 11.8 0a5.9 5.9 0 1 0 -11.8 0M1769.1 1218.6a5.9 5.9 0 1 0 11.8 0a5.9 5.9 0 1 0 -11.8 0M1785.6 1218.6a5.9 5.9 0 1 0 11.8 0a5.9 5.9 0 1 0 -11.8 0M1802.1 1218.6a5.9 5.9 0 1 0 11.8 0a5.9 5.9 0 1 0 -11.8 0M1818.6 1218.6a5.9 5.9 0 1 0 11.8 0a5.9 5.9 0 1 0 -11.8 0M1835.1 1218.6a5.9 5.9 0 1 0 11.8 0a5.9 5.9 0 1 0 -11.8 0M1851.6 1218.6a5.9 5.9 0 1 0 11.8 0a5.9 5.9 0 1 0 -11.8 0M1868.1 1218.6a5.9 5.9 0 1 0 11.8 0a5.9 5.9 0 1 0 -11.8 0M1884.6 1218.6a5.9 5.9 0 1 0 11.8 0a5.9 5.9 0 1 0 -11.8 0M1901.1 1218.6a5.9 5.9 0 1 0 11.8 0a5.9 5.9 0 1 0 -11.8 0M1917.6 1218.6a5.9 5.9 0 1 0 11.8 0a5.9 5.9 0 1 0 -11.8 0M1934.1 1218.6a5.9 5.9 0 1 0 11.8 0a5.9 5.9 0 1 0 -11.8 0M1950.6 1218.6a5.9 5.9 0 1 0 11.8 0a5.9 5.9 0 1 0 -11.8 0M1719.6 1235.1a5.9 5.9 0 1 0 11.8 0a5.9 5.9 0 1 0 -11.8 0M1736.1 1235.1a5.9 5.9 0 1 0 11.8 0a5.9 5.9 0 1 0 -11.8 0M1752.6 1235.1a5.9 5.9 0 1 0 11.8 0a5.9 5.9 0 1 0 -11.8 0M1769.1 1235.1a5.9 5.9 0 1 0 11.8 0a5.9 5.9 0 1 0 -11.8 0M1785.6 1235.1a5.9 5.9 0 1 0 11.8 0a5.9 5.9 0 1 0 -11.8 0M1802.1 1235.1a5.9 5.9 0 1 0 11.8 0a5.9 5.9 0 1 0 -11.8 0M1818.6 1235.1a5.9 5.9 0 1 0 11.8 0a5.9 5.9 0 1 0 -11.8 0M1835.1 1235.1a5.9 5.9 0 1 0 11.8 0a5.9 5.9 0 1 0 -11.8 0M1851.6 1235.1a5.9 5.9 0 1 0 11.8 0a5.9 5.9 0 1 0 -11.8 0M1868.1 1235.1a5.9 5.9 0 1 0 11.8 0a5.9 5.9 0 1 0 -11.8 0M1884.6 1235.1a5.9 5.9 0 1 0 11.8 0a5.9 5.9 0 1 0 -11.8 0M1901.1 1235.1a5.9 5.9 0 1 0 11.8 0a5.9 5.9 0 1 0 -11.8 0M1917.6 1235.1a5.9 5.9 0 1 0 11.8 0a5.9 5.9 0 1 0 -11.8 0M1934.1 1235.1a5.9 5.9 0 1 0 11.8 0a5.9 5.9 0 1 0 -11.8 0M1950.6 1235.1a5.9 5.9 0 1 0 11.8 0a5.9 5.9 0 1 0 -11.8 0M1703.1 1251.6a5.9 5.9 0 1 0 11.8 0a5.9 5.9 0 1 0 -11.8 0M1719.6 1251.6a5.9 5.9 0 1 0 11.8 0a5.9 5.9 0 1 0 -11.8 0M1736.1 1251.6a5.9 5.9 0 1 0 11.8 0a5.9 5.9 0 1 0 -11.8 0M1752.6 1251.6a5.9 5.9 0 1 0 11.8 0a5.9 5.9 0 1 0 -11.8 0M1769.1 1251.6a5.9 5.9 0 1 0 11.8 0a5.9 5.9 0 1 0 -11.8 0M1785.6 1251.6a5.9 5.9 0 1 0 11.8 0a5.9 5.9 0 1 0 -11.8 0M1802.1 1251.6a5.9 5.9 0 1 0 11.8 0a5.9 5.9 0 1 0 -11.8 0M1818.6 1251.6a5.9 5.9 0 1 0 11.8 0a5.9 5.9 0 1 0 -11.8 0M1835.1 1251.6a5.9 5.9 0 1 0 11.8 0a5.9 5.9 0 1 0 -11.8 0M1851.6 1251.6a5.9 5.9 0 1 0 11.8 0a5.9 5.9 0 1 0 -11.8 0M1868.1 1251.6a5.9 5.9 0 1 0 11.8 0a5.9 5.9 0 1 0 -11.8 0M1884.6 1251.6a5.9 5.9 0 1 0 11.8 0a5.9 5.9 0 1 0 -11.8 0M1901.1 1251.6a5.9 5.9 0 1 0 11.8 0a5.9 5.9 0 1 0 -11.8 0M1917.6 1251.6a5.9 5.9 0 1 0 11.8 0a5.9 5.9 0 1 0 -11.8 0M1934.1 1251.6a5.9 5.9 0 1 0 11.8 0a5.9 5.9 0 1 0 -11.8 0M1950.6 1251.6a5.9 5.9 0 1 0 11.8 0a5.9 5.9 0 1 0 -11.8 0M1307.1 1268.1a5.9 5.9 0 1 0 11.8 0a5.9 5.9 0 1 0 -11.8 0M1323.6 1268.1a5.9 5.9 0 1 0 11.8 0a5.9 5.9 0 1 0 -11.8 0M1340.1 1268.1a5.9 5.9 0 1 0 11.8 0a5.9 5.9 0 1 0 -11.8 0M1356.6 1268.1a5.9 5.9 0 1 0 11.8 0a5.9 5.9 0 1 0 -11.8 0M1373.1 1268.1a5.9 5.9 0 1 0 11.8 0a5.9 5.9 0 1 0 -11.8 0M1389.6 1268.1a5.9 5.9 0 1 0 11.8 0a5.9 5.9 0 1 0 -11.8 0M1406.1 1268.1a5.9 5.9 0 1 0 11.8 0a5.9 5.9 0 1 0 -11.8 0M1422.6 1268.1a5.9 5.9 0 1 0 11.8 0a5.9 5.9 0 1 0 -11.8 0M1670.1 1268.1a5.9 5.9 0 1 0 11.8 0a5.9 5.9 0 1 0 -11.8 0M1686.6 1268.1a5.9 5.9 0 1 0 11.8 0a5.9 5.9 0 1 0 -11.8 0M1703.1 1268.1a5.9 5.9 0 1 0 11.8 0a5.9 5.9 0 1 0 -11.8 0M1719.6 1268.1a5.9 5.9 0 1 0 11.8 0a5.9 5.9 0 1 0 -11.8 0M1736.1 1268.1a5.9 5.9 0 1 0 11.8 0a5.9 5.9 0 1 0 -11.8 0M1752.6 1268.1a5.9 5.9 0 1 0 11.8 0a5.9 5.9 0 1 0 -11.8 0M1769.1 1268.1a5.9 5.9 0 1 0 11.8 0a5.9 5.9 0 1 0 -11.8 0M1785.6 1268.1a5.9 5.9 0 1 0 11.8 0a5.9 5.9 0 1 0 -11.8 0M1802.1 1268.1a5.9 5.9 0 1 0 11.8 0a5.9 5.9 0 1 0 -11.8 0M1818.6 1268.1a5.9 5.9 0 1 0 11.8 0a5.9 5.9 0 1 0 -11.8 0M1835.1 1268.1a5.9 5.9 0 1 0 11.8 0a5.9 5.9 0 1 0 -11.8 0M1851.6 1268.1a5.9 5.9 0 1 0 11.8 0a5.9 5.9 0 1 0 -11.8 0M1868.1 1268.1a5.9 5.9 0 1 0 11.8 0a5.9 5.9 0 1 0 -11.8 0M1884.6 1268.1a5.9 5.9 0 1 0 11.8 0a5.9 5.9 0 1 0 -11.8 0M1901.1 1268.1a5.9 5.9 0 1 0 11.8 0a5.9 5.9 0 1 0 -11.8 0M1917.6 1268.1a5.9 5.9 0 1 0 11.8 0a5.9 5.9 0 1 0 -11.8 0M1934.1 1268.1a5.9 5.9 0 1 0 11.8 0a5.9 5.9 0 1 0 -11.8 0M1950.6 1268.1a5.9 5.9 0 1 0 11.8 0a5.9 5.9 0 1 0 -11.8 0M1290.6 1284.6a5.9 5.9 0 1 0 11.8 0a5.9 5.9 0 1 0 -11.8 0M1307.1 1284.6a5.9 5.9 0 1 0 11.8 0a5.9 5.9 0 1 0 -11.8 0M1323.6 1284.6a5.9 5.9 0 1 0 11.8 0a5.9 5.9 0 1 0 -11.8 0M1340.1 1284.6a5.9 5.9 0 1 0 11.8 0a5.9 5.9 0 1 0 -11.8 0M1356.6 1284.6a5.9 5.9 0 1 0 11.8 0a5.9 5.9 0 1 0 -11.8 0M1373.1 1284.6a5.9 5.9 0 1 0 11.8 0a5.9 5.9 0 1 0 -11.8 0M1389.6 1284.6a5.9 5.9 0 1 0 11.8 0a5.9 5.9 0 1 0 -11.8 0M1406.1 1284.6a5.9 5.9 0 1 0 11.8 0a5.9 5.9 0 1 0 -11.8 0M1422.6 1284.6a5.9 5.9 0 1 0 11.8 0a5.9 5.9 0 1 0 -11.8 0M1439.1 1284.6a5.9 5.9 0 1 0 11.8 0a5.9 5.9 0 1 0 -11.8 0M1472.1 1284.6a5.9 5.9 0 1 0 11.8 0a5.9 5.9 0 1 0 -11.8 0M1505.1 1284.6a5.9 5.9 0 1 0 11.8 0a5.9 5.9 0 1 0 -11.8 0M1571.1 1284.6a5.9 5.9 0 1 0 11.8 0a5.9 5.9 0 1 0 -11.8 0M1620.6 1284.6a5.9 5.9 0 1 0 11.8 0a5.9 5.9 0 1 0 -11.8 0M1637.1 1284.6a5.9 5.9 0 1 0 11.8 0a5.9 5.9 0 1 0 -11.8 0M1653.6 1284.6a5.9 5.9 0 1 0 11.8 0a5.9 5.9 0 1 0 -11.8 0M1670.1 1284.6a5.9 5.9 0 1 0 11.8 0a5.9 5.9 0 1 0 -11.8 0M1686.6 1284.6a5.9 5.9 0 1 0 11.8 0a5.9 5.9 0 1 0 -11.8 0M1703.1 1284.6a5.9 5.9 0 1 0 11.8 0a5.9 5.9 0 1 0 -11.8 0M1719.6 1284.6a5.9 5.9 0 1 0 11.8 0a5.9 5.9 0 1 0 -11.8 0M1736.1 1284.6a5.9 5.9 0 1 0 11.8 0a5.9 5.9 0 1 0 -11.8 0M1752.6 1284.6a5.9 5.9 0 1 0 11.8 0a5.9 5.9 0 1 0 -11.8 0M1769.1 1284.6a5.9 5.9 0 1 0 11.8 0a5.9 5.9 0 1 0 -11.8 0M1785.6 1284.6a5.9 5.9 0 1 0 11.8 0a5.9 5.9 0 1 0 -11.8 0M1802.1 1284.6a5.9 5.9 0 1 0 11.8 0a5.9 5.9 0 1 0 -11.8 0M1818.6 1284.6a5.9 5.9 0 1 0 11.8 0a5.9 5.9 0 1 0 -11.8 0M1835.1 1284.6a5.9 5.9 0 1 0 11.8 0a5.9 5.9 0 1 0 -11.8 0M1851.6 1284.6a5.9 5.9 0 1 0 11.8 0a5.9 5.9 0 1 0 -11.8 0M1868.1 1284.6a5.9 5.9 0 1 0 11.8 0a5.9 5.9 0 1 0 -11.8 0M1884.6 1284.6a5.9 5.9 0 1 0 11.8 0a5.9 5.9 0 1 0 -11.8 0M1901.1 1284.6a5.9 5.9 0 1 0 11.8 0a5.9 5.9 0 1 0 -11.8 0M1917.6 1284.6a5.9 5.9 0 1 0 11.8 0a5.9 5.9 0 1 0 -11.8 0M1934.1 1284.6a5.9 5.9 0 1 0 11.8 0a5.9 5.9 0 1 0 -11.8 0M1950.6 1284.6a5.9 5.9 0 1 0 11.8 0a5.9 5.9 0 1 0 -11.8 0M1290.6 1301.1a5.9 5.9 0 1 0 11.8 0a5.9 5.9 0 1 0 -11.8 0M1307.1 1301.1a5.9 5.9 0 1 0 11.8 0a5.9 5.9 0 1 0 -11.8 0M1323.6 1301.1a5.9 5.9 0 1 0 11.8 0a5.9 5.9 0 1 0 -11.8 0M1340.1 1301.1a5.9 5.9 0 1 0 11.8 0a5.9 5.9 0 1 0 -11.8 0M1356.6 1301.1a5.9 5.9 0 1 0 11.8 0a5.9 5.9 0 1 0 -11.8 0M1373.1 1301.1a5.9 5.9 0 1 0 11.8 0a5.9 5.9 0 1 0 -11.8 0M1389.6 1301.1a5.9 5.9 0 1 0 11.8 0a5.9 5.9 0 1 0 -11.8 0M1406.1 1301.1a5.9 5.9 0 1 0 11.8 0a5.9 5.9 0 1 0 -11.8 0M1554.6 1301.1a5.9 5.9 0 1 0 11.8 0a5.9 5.9 0 1 0 -11.8 0M1571.1 1301.1a5.9 5.9 0 1 0 11.8 0a5.9 5.9 0 1 0 -11.8 0M1587.6 1301.1a5.9 5.9 0 1 0 11.8 0a5.9 5.9 0 1 0 -11.8 0M1604.1 1301.1a5.9 5.9 0 1 0 11.8 0a5.9 5.9 0 1 0 -11.8 0M1620.6 1301.1a5.9 5.9 0 1 0 11.8 0a5.9 5.9 0 1 0 -11.8 0M1637.1 1301.1a5.9 5.9 0 1 0 11.8 0a5.9 5.9 0 1 0 -11.8 0M1653.6 1301.1a5.9 5.9 0 1 0 11.8 0a5.9 5.9 0 1 0 -11.8 0M1670.1 1301.1a5.9 5.9 0 1 0 11.8 0a5.9 5.9 0 1 0 -11.8 0M1686.6 1301.1a5.9 5.9 0 1 0 11.8 0a5.9 5.9 0 1 0 -11.8 0M1703.1 1301.1a5.9 5.9 0 1 0 11.8 0a5.9 5.9 0 1 0 -11.8 0M1719.6 1301.1a5.9 5.9 0 1 0 11.8 0a5.9 5.9 0 1 0 -11.8 0M1736.1 1301.1a5.9 5.9 0 1 0 11.8 0a5.9 5.9 0 1 0 -11.8 0M1752.6 1301.1a5.9 5.9 0 1 0 11.8 0a5.9 5.9 0 1 0 -11.8 0M1769.1 1301.1a5.9 5.9 0 1 0 11.8 0a5.9 5.9 0 1 0 -11.8 0M1785.6 1301.1a5.9 5.9 0 1 0 11.8 0a5.9 5.9 0 1 0 -11.8 0M1802.1 1301.1a5.9 5.9 0 1 0 11.8 0a5.9 5.9 0 1 0 -11.8 0M1818.6 1301.1a5.9 5.9 0 1 0 11.8 0a5.9 5.9 0 1 0 -11.8 0M1835.1 1301.1a5.9 5.9 0 1 0 11.8 0a5.9 5.9 0 1 0 -11.8 0M1851.6 1301.1a5.9 5.9 0 1 0 11.8 0a5.9 5.9 0 1 0 -11.8 0M1868.1 1301.1a5.9 5.9 0 1 0 11.8 0a5.9 5.9 0 1 0 -11.8 0M1884.6 1301.1a5.9 5.9 0 1 0 11.8 0a5.9 5.9 0 1 0 -11.8 0M1901.1 1301.1a5.9 5.9 0 1 0 11.8 0a5.9 5.9 0 1 0 -11.8 0M1917.6 1301.1a5.9 5.9 0 1 0 11.8 0a5.9 5.9 0 1 0 -11.8 0M1934.1 1301.1a5.9 5.9 0 1 0 11.8 0a5.9 5.9 0 1 0 -11.8 0M1950.6 1301.1a5.9 5.9 0 1 0 11.8 0a5.9 5.9 0 1 0 -11.8 0M1290.6 1317.6a5.9 5.9 0 1 0 11.8 0a5.9 5.9 0 1 0 -11.8 0M1307.1 1317.6a5.9 5.9 0 1 0 11.8 0a5.9 5.9 0 1 0 -11.8 0M1323.6 1317.6a5.9 5.9 0 1 0 11.8 0a5.9 5.9 0 1 0 -11.8 0M1340.1 1317.6a5.9 5.9 0 1 0 11.8 0a5.9 5.9 0 1 0 -11.8 0M1356.6 1317.6a5.9 5.9 0 1 0 11.8 0a5.9 5.9 0 1 0 -11.8 0M1373.1 1317.6a5.9 5.9 0 1 0 11.8 0a5.9 5.9 0 1 0 -11.8 0M1389.6 1317.6a5.9 5.9 0 1 0 11.8 0a5.9 5.9 0 1 0 -11.8 0M1406.1 1317.6a5.9 5.9 0 1 0 11.8 0a5.9 5.9 0 1 0 -11.8 0M1422.6 1317.6a5.9 5.9 0 1 0 11.8 0a5.9 5.9 0 1 0 -11.8 0M1439.1 1317.6a5.9 5.9 0 1 0 11.8 0a5.9 5.9 0 1 0 -11.8 0M1488.6 1317.6a5.9 5.9 0 1 0 11.8 0a5.9 5.9 0 1 0 -11.8 0M1505.1 1317.6a5.9 5.9 0 1 0 11.8 0a5.9 5.9 0 1 0 -11.8 0M1521.6 1317.6a5.9 5.9 0 1 0 11.8 0a5.9 5.9 0 1 0 -11.8 0M1538.1 1317.6a5.9 5.9 0 1 0 11.8 0a5.9 5.9 0 1 0 -11.8 0M1554.6 1317.6a5.9 5.9 0 1 0 11.8 0a5.9 5.9 0 1 0 -11.8 0M1571.1 1317.6a5.9 5.9 0 1 0 11.8 0a5.9 5.9 0 1 0 -11.8 0M1587.6 1317.6a5.9 5.9 0 1 0 11.8 0a5.9 5.9 0 1 0 -11.8 0M1604.1 1317.6a5.9 5.9 0 1 0 11.8 0a5.9 5.9 0 1 0 -11.8 0M1620.6 1317.6a5.9 5.9 0 1 0 11.8 0a5.9 5.9 0 1 0 -11.8 0M1637.1 1317.6a5.9 5.9 0 1 0 11.8 0a5.9 5.9 0 1 0 -11.8 0M1653.6 1317.6a5.9 5.9 0 1 0 11.8 0a5.9 5.9 0 1 0 -11.8 0M1670.1 1317.6a5.9 5.9 0 1 0 11.8 0a5.9 5.9 0 1 0 -11.8 0M1686.6 1317.6a5.9 5.9 0 1 0 11.8 0a5.9 5.9 0 1 0 -11.8 0M1703.1 1317.6a5.9 5.9 0 1 0 11.8 0a5.9 5.9 0 1 0 -11.8 0M1719.6 1317.6a5.9 5.9 0 1 0 11.8 0a5.9 5.9 0 1 0 -11.8 0M1736.1 1317.6a5.9 5.9 0 1 0 11.8 0a5.9 5.9 0 1 0 -11.8 0M1752.6 1317.6a5.9 5.9 0 1 0 11.8 0a5.9 5.9 0 1 0 -11.8 0M1769.1 1317.6a5.9 5.9 0 1 0 11.8 0a5.9 5.9 0 1 0 -11.8 0M1785.6 1317.6a5.9 5.9 0 1 0 11.8 0a5.9 5.9 0 1 0 -11.8 0M1802.1 1317.6a5.9 5.9 0 1 0 11.8 0a5.9 5.9 0 1 0 -11.8 0M1818.6 1317.6a5.9 5.9 0 1 0 11.8 0a5.9 5.9 0 1 0 -11.8 0M1835.1 1317.6a5.9 5.9 0 1 0 11.8 0a5.9 5.9 0 1 0 -11.8 0M1851.6 1317.6a5.9 5.9 0 1 0 11.8 0a5.9 5.9 0 1 0 -11.8 0M1868.1 1317.6a5.9 5.9 0 1 0 11.8 0a5.9 5.9 0 1 0 -11.8 0M1884.6 1317.6a5.9 5.9 0 1 0 11.8 0a5.9 5.9 0 1 0 -11.8 0M1901.1 1317.6a5.9 5.9 0 1 0 11.8 0a5.9 5.9 0 1 0 -11.8 0M1917.6 1317.6a5.9 5.9 0 1 0 11.8 0a5.9 5.9 0 1 0 -11.8 0M1934.1 1317.6a5.9 5.9 0 1 0 11.8 0a5.9 5.9 0 1 0 -11.8 0M1950.6 1317.6a5.9 5.9 0 1 0 11.8 0a5.9 5.9 0 1 0 -11.8 0" stroke="#484848"/><path d="M1290.6 1152.6a5.9 5.9 0 1 0 11.8 0a5.9 5.9 0 1 0 -11.8 0M1323.6 1152.6a5.9 5.9 0 1 0 11.8 0a5.9 5.9 0 1 0 -11.8 0M1356.6 1152.6a5.9 5.9 0 1 0 11.8 0a5.9 5.9 0 1 0 -11.8 0M1389.6 1152.6a5.9 5.9 0 1 0 11.8 0a5.9 5.9 0 1 0 -11.8 0M1422.6 1152.6a5.9 5.9 0 1 0 11.8 0a5.9 5.9 0 1 0 -11.8 0M1587.6 1152.6a5.9 5.9 0 1 0 11.8 0a5.9 5.9 0 1 0 -11.8 0M1620.6 1152.6a5.9 5.9 0 1 0 11.8 0a5.9 5.9 0 1 0 -11.8 0M1290.6 1169.1a5.9 5.9 0 1 0 11.8 0a5.9 5.9 0 1 0 -11.8 0M1323.6 1169.1a5.9 5.9 0 1 0 11.8 0a5.9 5.9 0 1 0 -11.8 0M1356.6 1169.1a5.9 5.9 0 1 0 11.8 0a5.9 5.9 0 1 0 -11.8 0M1389.6 1169.1a5.9 5.9 0 1 0 11.8 0a5.9 5.9 0 1 0 -11.8 0M1571.1 1169.1a5.9 5.9 0 1 0 11.8 0a5.9 5.9 0 1 0 -11.8 0M1587.6 1169.1a5.9 5.9 0 1 0 11.8 0a5.9 5.9 0 1 0 -11.8 0M1620.6 1169.1a5.9 5.9 0 1 0 11.8 0a5.9 5.9 0 1 0 -11.8 0M1653.6 1169.1a5.9 5.9 0 1 0 11.8 0a5.9 5.9 0 1 0 -11.8 0M1422.6 1202.1a5.9 5.9 0 1 0 11.8 0a5.9 5.9 0 1 0 -11.8 0M1439.1 1202.1a5.9 5.9 0 1 0 11.8 0a5.9 5.9 0 1 0 -11.8 0M1472.1 1218.6a5.9 5.9 0 1 0 11.8 0a5.9 5.9 0 1 0 -11.8 0M1455.6 1235.1a5.9 5.9 0 1 0 11.8 0a5.9 5.9 0 1 0 -11.8 0M1488.6 1235.1a5.9 5.9 0 1 0 11.8 0a5.9 5.9 0 1 0 -11.8 0" stroke="#ff0c0c"/><path d="M1554.6 1169.1a5.9 5.9 0 1 0 11.8 0a5.9 5.9 0 1 0 -11.8 0M1455.6 1202.1a5.9 5.9 0 1 0 11.8 0a5.9 5.9 0 1 0 -11.8 0" stroke="#ffb400"/><path d="M1455.6 1218.6a5.9 5.9 0 1 0 11.8 0a5.9 5.9 0 1 0 -11.8 0M1488.6 1251.6a5.9 5.9 0 1 0 11.8 0a5.9 5.9 0 1 0 -11.8 0" stroke="#e41919"/></g>
</g>
<path d="M1618 829 L1619.45 842.3 L1621.5 850.8 L1628.5 853.8 L1637.9 855.8 L1628.5 857.8 L1621.5 860.8 L1619.45 869.3 L1618 882.6 L1616.55 869.3 L1614.5 860.8 L1607.5 857.8 L1598.1 855.8 L1607.5 853.8 L1614.5 850.8 L1616.55 842.3Z" fill="#fff"/>
<path d="M1675.8 1109.4 L1677.25 1122.7 L1679.3 1131.2 L1686.3 1134.2 L1695.7 1136.2 L1686.3 1138.2 L1679.3 1141.2 L1677.25 1149.7 L1675.8 1163 L1674.35 1149.7 L1672.3 1141.2 L1665.3 1138.2 L1655.9 1136.2 L1665.3 1134.2 L1672.3 1131.2 L1674.35 1122.7Z" fill="#fff"/>
<g fill="#fff" font-size="29">
<text x="1456.2" y="861.8" fill="#fff">Source</text>
<text x="1724.2" y="1140.9" fill="#fff">Source</text>
<text x="1808.8" y="1009.2" fill="#fff">f=-50 GHz</text>
<text x="1800.8" y="1300.6" fill="#fff">f=+50 GHz</text>
</g>
</g>
</svg>
</body></html>
